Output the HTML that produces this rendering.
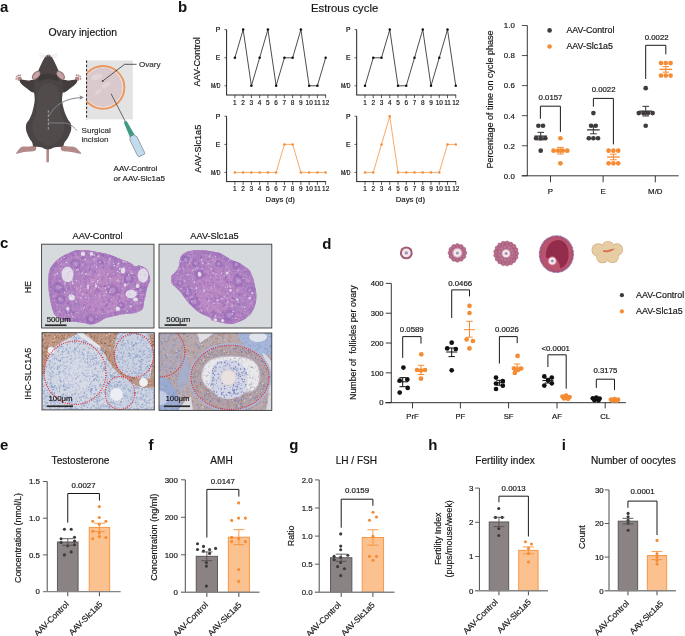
<!DOCTYPE html>
<html><head><meta charset="utf-8"><style>
html,body{margin:0;padding:0;background:#fff;}
svg{display:block;will-change:transform;font-family:"Liberation Sans",sans-serif;}
</style></head><body>
<svg width="685" height="636" viewBox="0 0 685 636">
<rect x="0" y="0" width="685" height="636" fill="#fff"/>
<text x="0" y="11.6" font-size="15" text-anchor="start" font-weight="bold" fill="#111">a</text>
<text x="48.4" y="36" font-size="10.4" text-anchor="start" fill="#161616" stroke="#161616" stroke-width="0.18">Ovary injection</text>
<path d="M46.4,147 L46.4,162.3 L48.9,162.3 L49.1,147Z" fill="#b48989" stroke="none" stroke-width="0"/>
<path d="M35.2,145.6 C34.03,145.07 31.2,146.4 29,146.6 C26.8,146.8 23.92,146.03 22,146.8 C20.08,147.57 18.5,150.03 17.5,151.2 C16.5,152.37 15.58,153.5 16,153.8 C16.42,154.1 18.33,153.33 20,153 C21.67,152.67 23.83,152.1 26,151.8 C28.17,151.5 31.33,151.53 33,151.2 C34.67,150.87 35.63,150.73 36,149.8 C36.37,148.87 36.37,146.13 35.2,145.6Z" fill="#b48989" stroke="none" stroke-width="0"/>
<path d="M61.6,145.6 C62.77,145.07 65.77,146.33 68,146.6 C70.23,146.87 73.08,146.43 75,147.2 C76.92,147.97 78.47,150.1 79.5,151.2 C80.53,152.3 81.62,153.47 81.2,153.8 C80.78,154.13 78.7,153.5 77,153.2 C75.3,152.9 73.17,152.33 71,152 C68.83,151.67 65.67,151.57 64,151.2 C62.33,150.83 61.4,150.73 61,149.8 C60.6,148.87 60.43,146.13 61.6,145.6Z" fill="#b48989" stroke="none" stroke-width="0"/>
<circle cx="19.6" cy="78.8" r="2.3" fill="#b48989"/>
<circle cx="77.2" cy="78.8" r="2.3" fill="#b48989"/>
<circle cx="16.6" cy="76.6" r="0.9" fill="#b48989"/>
<circle cx="80.2" cy="76.6" r="0.9" fill="#b48989"/>
<circle cx="18.2" cy="75.4" r="0.9" fill="#b48989"/>
<circle cx="78.6" cy="75.4" r="0.9" fill="#b48989"/>
<circle cx="20.2" cy="75.2" r="0.9" fill="#b48989"/>
<circle cx="76.6" cy="75.2" r="0.9" fill="#b48989"/>
<circle cx="16.2" cy="78.8" r="0.9" fill="#b48989"/>
<circle cx="80.6" cy="78.8" r="0.9" fill="#b48989"/>
<path d="M36,80 C34.5,78.43 30.42,80.67 28,80.6 C25.58,80.53 22.87,79.5 21.5,79.6 C20.13,79.7 19.72,80.38 19.8,81.2 C19.88,82.02 20.8,83.28 22,84.5 C23.2,85.72 25.17,87.17 27,88.5 C28.83,89.83 31.33,92.25 33,92.5 C34.67,92.75 36.5,92.08 37,90 C37.5,87.92 37.5,81.57 36,80Z" fill="#433d3d" stroke="none" stroke-width="0"/>
<path d="M61,80 C62.5,78.43 66.58,80.67 69,80.6 C71.42,80.53 74.13,79.5 75.5,79.6 C76.87,79.7 77.28,80.38 77.2,81.2 C77.12,82.02 76.2,83.28 75,84.5 C73.8,85.72 71.83,87.17 70,88.5 C68.17,89.83 65.67,92.25 64,92.5 C62.33,92.75 60.5,92.08 60,90 C59.5,87.92 59.5,81.57 61,80Z" fill="#433d3d" stroke="none" stroke-width="0"/>
<path d="M48.4,54.8 C49.23,54.8 50.08,55.2 50.9,56 C51.72,56.8 52.52,58.23 53.3,59.6 C54.08,60.97 54.85,62.63 55.6,64.2 C56.35,65.77 56.73,66.45 57.8,69 C58.87,71.55 61.1,76.33 62,79.5 C62.9,82.67 63.15,85.25 63.2,88 C63.25,90.75 62.47,93.67 62.3,96 C62.13,98.33 61.78,99.25 62.2,102 C62.62,104.75 63.83,109.58 64.8,112.5 C65.77,115.42 66.98,117.58 68,119.5 C69.02,121.42 70.4,122.17 70.9,124 C71.4,125.83 71.48,128.25 71,130.5 C70.52,132.75 69.08,135.5 68,137.5 C66.92,139.5 65.42,141 64.5,142.5 C63.58,144 64.08,145.72 62.5,146.5 C60.92,147.28 57.45,146.68 55,147.2 C52.55,147.72 50.13,149.6 47.8,149.6 C45.47,149.6 43.33,147.72 41,147.2 C38.67,146.68 35.27,147.28 33.8,146.5 C32.33,145.72 33,144 32.2,142.5 C31.4,141 30,139.5 29,137.5 C28,135.5 26.65,132.75 26.2,130.5 C25.75,128.25 25.8,125.83 26.3,124 C26.8,122.17 28.22,121.42 29.2,119.5 C30.18,117.58 31.32,115.42 32.2,112.5 C33.08,109.58 34.12,104.75 34.5,102 C34.88,99.25 34.65,98.33 34.5,96 C34.35,93.67 33.55,90.75 33.6,88 C33.65,85.25 33.9,82.67 34.8,79.5 C35.7,76.33 37.93,71.55 39,69 C40.07,66.45 40.45,65.77 41.2,64.2 C41.95,62.63 42.72,60.97 43.5,59.6 C44.28,58.23 45.08,56.8 45.9,56 C46.72,55.2 47.57,54.8 48.4,54.8Z" fill="#4a4444" stroke="none" stroke-width="0"/>
<path d="M48.4,83 C50.93,83 54.15,83.83 56,86 C57.85,88.17 58.75,91.67 59.5,96 C60.25,100.33 59.67,107.17 60.5,112 C61.33,116.83 64.25,121 64.5,125 C64.75,129 63.58,133 62,136 C60.42,139 57.27,141.42 55,143 C52.73,144.58 50.6,145.5 48.4,145.5 C46.2,145.5 44.07,144.58 41.8,143 C39.53,141.42 36.38,139 34.8,136 C33.22,133 32.05,129 32.3,125 C32.55,121 35.47,116.83 36.3,112 C37.13,107.17 36.55,100.33 37.3,96 C38.05,91.67 38.95,88.17 40.8,86 C42.65,83.83 45.87,83 48.4,83Z" fill="#514b4b" stroke="none" stroke-width="0"/>
<path d="M39,76 C40.6,74.75 45.27,73.5 48.4,73.5 C51.53,73.5 56.2,74.75 57.8,76 C59.4,77.25 59.57,80.5 58,81 C56.43,81.5 51.6,79 48.4,79 C45.2,79 40.37,81.5 38.8,81 C37.23,80.5 37.4,77.25 39,76Z" fill="#3f3a3a" stroke="none" stroke-width="0"/>
<ellipse cx="36.1" cy="75.2" rx="5.3" ry="3.2" fill="#8f7070" transform="rotate(-47 36.1 75.2)"/>
<ellipse cx="60.7" cy="75.2" rx="5.3" ry="3.2" fill="#8f7070" transform="rotate(47 60.7 75.2)"/>
<ellipse cx="36.4" cy="75.3" rx="4.3" ry="2.3" fill="#c9a3a3" transform="rotate(-47 36.4 75.3)"/>
<ellipse cx="60.4" cy="75.3" rx="4.3" ry="2.3" fill="#c9a3a3" transform="rotate(47 60.4 75.3)"/>
<circle cx="48.4" cy="55.5" r="1" fill="#c48a8a"/>
<line x1="46.6" y1="56.6" x2="39.5" y2="53.2" stroke="#c4c4c4" stroke-width="0.35"/>
<line x1="50.2" y1="56.6" x2="57.3" y2="53.2" stroke="#c4c4c4" stroke-width="0.35"/>
<line x1="46.6" y1="56.6" x2="39" y2="55.6" stroke="#c4c4c4" stroke-width="0.35"/>
<line x1="50.2" y1="56.6" x2="57.8" y2="55.6" stroke="#c4c4c4" stroke-width="0.35"/>
<line x1="46.6" y1="56.6" x2="39.8" y2="58" stroke="#c4c4c4" stroke-width="0.35"/>
<line x1="50.2" y1="56.6" x2="57" y2="58" stroke="#c4c4c4" stroke-width="0.35"/>
<line x1="48.3" y1="110.3" x2="48.3" y2="130" stroke="#cfcfcf" stroke-width="0.7" stroke-dasharray="2.4 1.8"/>
<path d="M49,116 C55,104 66,98.5 80.5,97.6" fill="none" stroke="#7f868e" stroke-width="1"/>
<path d="M84,97.4 L79.5,95.2 L80.3,97.6 L79.5,99.8Z" fill="#7f868e" stroke="none" stroke-width="0"/>
<path d="M48.8,123 L64.5,123 C69,123 73.5,126.5 76.8,130.5" fill="none" stroke="#7f868e" stroke-width="0.9"/>
<line x1="48.8" y1="121.6" x2="48.8" y2="124.4" stroke="#7f868e" stroke-width="0.8"/>
<text x="81.5" y="132.8" font-size="8.1" text-anchor="start" fill="#333" stroke="#333" stroke-width="0.18">Surgical</text>
<text x="81.5" y="141.7" font-size="8.1" text-anchor="start" fill="#333" stroke="#333" stroke-width="0.18">incision</text>
<rect x="86.6" y="60.4" width="46.2" height="59" fill="#e3e3e3" stroke="none" stroke-width="0"/>
<clipPath id="ovc"><rect x="86.6" y="60.4" width="46.2" height="59"/></clipPath>
<g clip-path="url(#ovc)">
<ellipse cx="103" cy="87.4" rx="22.3" ry="22.3" fill="#e9965c"/>
<ellipse cx="103" cy="87.4" rx="20.4" ry="20.4" fill="#f7e9e4"/>
<ellipse cx="103" cy="87.4" rx="19.6" ry="19.6" fill="#d9c9cd"/>
<ellipse cx="97" cy="77" rx="6" ry="3" fill="#e2d5d9" transform="rotate(-20 97 77)"/>
<ellipse cx="106" cy="85" rx="5" ry="2.4" fill="#e0d2d6" transform="rotate(-30 106 85)"/>
<ellipse cx="98" cy="92" rx="4" ry="2" fill="#e0d2d6" transform="rotate(-40 98 92)"/>
</g>
<line x1="86.6" y1="60.4" x2="86.6" y2="119.4" stroke="#222" stroke-width="1" stroke-dasharray="2.6 1.6"/>
<polyline points="102.6,81.1 124.6,64.3 136.6,64.3" stroke="#333" stroke-width="0.8" fill="none"/>
<circle cx="102.6" cy="81.1" r="0.9" fill="#333"/>
<text x="138.9" y="67.4" font-size="8.1" text-anchor="start" fill="#333" stroke="#333" stroke-width="0.18">Ovary</text>
<line x1="111.1" y1="93.8" x2="125.5" y2="121.8" stroke="#444" stroke-width="0.8"/>
<path d="M126.24,120.86 L127.39,122.3 L133.83,133.62 L134.67,134.66 L129.64,137.12 L129.34,135.82 L124.33,123.8 L123.9,122Z" fill="#3f9a86" stroke="none" stroke-width="0"/>
<path d="M134.31,134.61 L135.1,135.78 L136.71,136.33 L144.63,152.49 L144.71,154.01 L138.78,156.92 L137.63,155.92 L129.71,139.76 L130.26,138.15 L129.82,136.81Z" fill="#c2dcee" stroke="#5a6470" stroke-width="0.55"/>
<text x="113.6" y="171" font-size="8.05" text-anchor="start" fill="#222" stroke="#222" stroke-width="0.18">AAV-Control</text>
<text x="113.6" y="180.5" font-size="8.05" text-anchor="start" fill="#222" stroke="#222" stroke-width="0.18">or AAV-Slc1a5</text>
<text x="178" y="11.8" font-size="15" text-anchor="start" font-weight="bold" fill="#111">b</text>
<text x="344.6" y="12" font-size="11.3" text-anchor="middle" fill="#161616" stroke="#161616" stroke-width="0.18">Estrous cycle</text>
<line x1="226.6" y1="29.6" x2="226.6" y2="95" stroke="#222" stroke-width="1"/>
<line x1="226.1" y1="95" x2="326.05" y2="95" stroke="#222" stroke-width="1"/>
<line x1="224.4" y1="29.6" x2="226.6" y2="29.6" stroke="#222" stroke-width="0.7"/>
<text x="220.4" y="32" font-size="6.8" text-anchor="end" fill="#000" stroke="#000" stroke-width="0.18">P</text>
<line x1="224.4" y1="57.8" x2="226.6" y2="57.8" stroke="#222" stroke-width="0.7"/>
<text x="220.4" y="60.2" font-size="6.8" text-anchor="end" fill="#000" stroke="#000" stroke-width="0.18">E</text>
<line x1="224.4" y1="85.8" x2="226.6" y2="85.8" stroke="#222" stroke-width="0.7"/>
<text x="220.4" y="88.2" font-size="6.8" text-anchor="end" fill="#000" stroke="#000" stroke-width="0.18" textLength="9.4" lengthAdjust="spacingAndGlyphs">M/D</text>
<line x1="234.9" y1="95" x2="234.9" y2="98.2" stroke="#222" stroke-width="0.75"/>
<text x="234.9" y="104.8" font-size="6.45" text-anchor="middle" fill="#161616" stroke="#161616" stroke-width="0.18">1</text>
<line x1="243.15" y1="95" x2="243.15" y2="98.2" stroke="#222" stroke-width="0.75"/>
<text x="243.15" y="104.8" font-size="6.45" text-anchor="middle" fill="#161616" stroke="#161616" stroke-width="0.18">2</text>
<line x1="251.4" y1="95" x2="251.4" y2="98.2" stroke="#222" stroke-width="0.75"/>
<text x="251.4" y="104.8" font-size="6.45" text-anchor="middle" fill="#161616" stroke="#161616" stroke-width="0.18">3</text>
<line x1="259.65" y1="95" x2="259.65" y2="98.2" stroke="#222" stroke-width="0.75"/>
<text x="259.65" y="104.8" font-size="6.45" text-anchor="middle" fill="#161616" stroke="#161616" stroke-width="0.18">4</text>
<line x1="267.9" y1="95" x2="267.9" y2="98.2" stroke="#222" stroke-width="0.75"/>
<text x="267.9" y="104.8" font-size="6.45" text-anchor="middle" fill="#161616" stroke="#161616" stroke-width="0.18">5</text>
<line x1="276.15" y1="95" x2="276.15" y2="98.2" stroke="#222" stroke-width="0.75"/>
<text x="276.15" y="104.8" font-size="6.45" text-anchor="middle" fill="#161616" stroke="#161616" stroke-width="0.18">6</text>
<line x1="284.4" y1="95" x2="284.4" y2="98.2" stroke="#222" stroke-width="0.75"/>
<text x="284.4" y="104.8" font-size="6.45" text-anchor="middle" fill="#161616" stroke="#161616" stroke-width="0.18">7</text>
<line x1="292.65" y1="95" x2="292.65" y2="98.2" stroke="#222" stroke-width="0.75"/>
<text x="292.65" y="104.8" font-size="6.45" text-anchor="middle" fill="#161616" stroke="#161616" stroke-width="0.18">8</text>
<line x1="300.9" y1="95" x2="300.9" y2="98.2" stroke="#222" stroke-width="0.75"/>
<text x="300.9" y="104.8" font-size="6.45" text-anchor="middle" fill="#161616" stroke="#161616" stroke-width="0.18">9</text>
<line x1="309.15" y1="95" x2="309.15" y2="98.2" stroke="#222" stroke-width="0.75"/>
<text x="309.15" y="104.8" font-size="6.45" text-anchor="middle" fill="#161616" stroke="#161616" stroke-width="0.18">10</text>
<line x1="317.4" y1="95" x2="317.4" y2="98.2" stroke="#222" stroke-width="0.75"/>
<text x="317.4" y="104.8" font-size="6.45" text-anchor="middle" fill="#161616" stroke="#161616" stroke-width="0.18">11</text>
<line x1="325.65" y1="95" x2="325.65" y2="98.2" stroke="#222" stroke-width="0.75"/>
<text x="325.65" y="104.8" font-size="6.45" text-anchor="middle" fill="#161616" stroke="#161616" stroke-width="0.18">12</text>
<polyline points="234.9,57.8 243.15,29.6 251.4,85.8 259.65,57.8 267.9,29.6 276.15,85.8 284.4,57.8 292.65,57.8 300.9,29.6 309.15,85.8 317.4,85.8 325.65,57.8" stroke="#111" stroke-width="0.75" fill="none"/>
<circle cx="234.9" cy="57.8" r="1.25" fill="#111"/>
<circle cx="243.15" cy="29.6" r="1.25" fill="#111"/>
<circle cx="251.4" cy="85.8" r="1.25" fill="#111"/>
<circle cx="259.65" cy="57.8" r="1.25" fill="#111"/>
<circle cx="267.9" cy="29.6" r="1.25" fill="#111"/>
<circle cx="276.15" cy="85.8" r="1.25" fill="#111"/>
<circle cx="284.4" cy="57.8" r="1.25" fill="#111"/>
<circle cx="292.65" cy="57.8" r="1.25" fill="#111"/>
<circle cx="300.9" cy="29.6" r="1.25" fill="#111"/>
<circle cx="309.15" cy="85.8" r="1.25" fill="#111"/>
<circle cx="317.4" cy="85.8" r="1.25" fill="#111"/>
<circle cx="325.65" cy="57.8" r="1.25" fill="#111"/>
<line x1="356.7" y1="29.6" x2="356.7" y2="95" stroke="#222" stroke-width="1"/>
<line x1="356.2" y1="95" x2="456.15" y2="95" stroke="#222" stroke-width="1"/>
<line x1="354.5" y1="29.6" x2="356.7" y2="29.6" stroke="#222" stroke-width="0.7"/>
<text x="350.5" y="32" font-size="6.8" text-anchor="end" fill="#000" stroke="#000" stroke-width="0.18">P</text>
<line x1="354.5" y1="57.8" x2="356.7" y2="57.8" stroke="#222" stroke-width="0.7"/>
<text x="350.5" y="60.2" font-size="6.8" text-anchor="end" fill="#000" stroke="#000" stroke-width="0.18">E</text>
<line x1="354.5" y1="85.8" x2="356.7" y2="85.8" stroke="#222" stroke-width="0.7"/>
<text x="350.5" y="88.2" font-size="6.8" text-anchor="end" fill="#000" stroke="#000" stroke-width="0.18" textLength="9.4" lengthAdjust="spacingAndGlyphs">M/D</text>
<line x1="365" y1="95" x2="365" y2="98.2" stroke="#222" stroke-width="0.75"/>
<text x="365" y="104.8" font-size="6.45" text-anchor="middle" fill="#161616" stroke="#161616" stroke-width="0.18">1</text>
<line x1="373.25" y1="95" x2="373.25" y2="98.2" stroke="#222" stroke-width="0.75"/>
<text x="373.25" y="104.8" font-size="6.45" text-anchor="middle" fill="#161616" stroke="#161616" stroke-width="0.18">2</text>
<line x1="381.5" y1="95" x2="381.5" y2="98.2" stroke="#222" stroke-width="0.75"/>
<text x="381.5" y="104.8" font-size="6.45" text-anchor="middle" fill="#161616" stroke="#161616" stroke-width="0.18">3</text>
<line x1="389.75" y1="95" x2="389.75" y2="98.2" stroke="#222" stroke-width="0.75"/>
<text x="389.75" y="104.8" font-size="6.45" text-anchor="middle" fill="#161616" stroke="#161616" stroke-width="0.18">4</text>
<line x1="398" y1="95" x2="398" y2="98.2" stroke="#222" stroke-width="0.75"/>
<text x="398" y="104.8" font-size="6.45" text-anchor="middle" fill="#161616" stroke="#161616" stroke-width="0.18">5</text>
<line x1="406.25" y1="95" x2="406.25" y2="98.2" stroke="#222" stroke-width="0.75"/>
<text x="406.25" y="104.8" font-size="6.45" text-anchor="middle" fill="#161616" stroke="#161616" stroke-width="0.18">6</text>
<line x1="414.5" y1="95" x2="414.5" y2="98.2" stroke="#222" stroke-width="0.75"/>
<text x="414.5" y="104.8" font-size="6.45" text-anchor="middle" fill="#161616" stroke="#161616" stroke-width="0.18">7</text>
<line x1="422.75" y1="95" x2="422.75" y2="98.2" stroke="#222" stroke-width="0.75"/>
<text x="422.75" y="104.8" font-size="6.45" text-anchor="middle" fill="#161616" stroke="#161616" stroke-width="0.18">8</text>
<line x1="431" y1="95" x2="431" y2="98.2" stroke="#222" stroke-width="0.75"/>
<text x="431" y="104.8" font-size="6.45" text-anchor="middle" fill="#161616" stroke="#161616" stroke-width="0.18">9</text>
<line x1="439.25" y1="95" x2="439.25" y2="98.2" stroke="#222" stroke-width="0.75"/>
<text x="439.25" y="104.8" font-size="6.45" text-anchor="middle" fill="#161616" stroke="#161616" stroke-width="0.18">10</text>
<line x1="447.5" y1="95" x2="447.5" y2="98.2" stroke="#222" stroke-width="0.75"/>
<text x="447.5" y="104.8" font-size="6.45" text-anchor="middle" fill="#161616" stroke="#161616" stroke-width="0.18">11</text>
<line x1="455.75" y1="95" x2="455.75" y2="98.2" stroke="#222" stroke-width="0.75"/>
<text x="455.75" y="104.8" font-size="6.45" text-anchor="middle" fill="#161616" stroke="#161616" stroke-width="0.18">12</text>
<polyline points="365,85.8 373.25,57.8 381.5,57.8 389.75,29.6 398,85.8 406.25,85.8 414.5,57.8 422.75,29.6 431,85.8 439.25,57.8 447.5,29.6 455.75,85.8" stroke="#111" stroke-width="0.75" fill="none"/>
<circle cx="365" cy="85.8" r="1.25" fill="#111"/>
<circle cx="373.25" cy="57.8" r="1.25" fill="#111"/>
<circle cx="381.5" cy="57.8" r="1.25" fill="#111"/>
<circle cx="389.75" cy="29.6" r="1.25" fill="#111"/>
<circle cx="398" cy="85.8" r="1.25" fill="#111"/>
<circle cx="406.25" cy="85.8" r="1.25" fill="#111"/>
<circle cx="414.5" cy="57.8" r="1.25" fill="#111"/>
<circle cx="422.75" cy="29.6" r="1.25" fill="#111"/>
<circle cx="431" cy="85.8" r="1.25" fill="#111"/>
<circle cx="439.25" cy="57.8" r="1.25" fill="#111"/>
<circle cx="447.5" cy="29.6" r="1.25" fill="#111"/>
<circle cx="455.75" cy="85.8" r="1.25" fill="#111"/>
<line x1="226.6" y1="116.2" x2="226.6" y2="181.6" stroke="#222" stroke-width="1"/>
<line x1="226.1" y1="181.6" x2="326.05" y2="181.6" stroke="#222" stroke-width="1"/>
<line x1="224.4" y1="116.2" x2="226.6" y2="116.2" stroke="#222" stroke-width="0.7"/>
<text x="220.4" y="118.6" font-size="6.8" text-anchor="end" fill="#000" stroke="#000" stroke-width="0.18">P</text>
<line x1="224.4" y1="144.4" x2="226.6" y2="144.4" stroke="#222" stroke-width="0.7"/>
<text x="220.4" y="146.8" font-size="6.8" text-anchor="end" fill="#000" stroke="#000" stroke-width="0.18">E</text>
<line x1="224.4" y1="172.4" x2="226.6" y2="172.4" stroke="#222" stroke-width="0.7"/>
<text x="220.4" y="174.8" font-size="6.8" text-anchor="end" fill="#000" stroke="#000" stroke-width="0.18" textLength="9.4" lengthAdjust="spacingAndGlyphs">M/D</text>
<line x1="234.9" y1="181.6" x2="234.9" y2="184.8" stroke="#222" stroke-width="0.75"/>
<text x="234.9" y="191.4" font-size="6.45" text-anchor="middle" fill="#161616" stroke="#161616" stroke-width="0.18">1</text>
<line x1="243.15" y1="181.6" x2="243.15" y2="184.8" stroke="#222" stroke-width="0.75"/>
<text x="243.15" y="191.4" font-size="6.45" text-anchor="middle" fill="#161616" stroke="#161616" stroke-width="0.18">2</text>
<line x1="251.4" y1="181.6" x2="251.4" y2="184.8" stroke="#222" stroke-width="0.75"/>
<text x="251.4" y="191.4" font-size="6.45" text-anchor="middle" fill="#161616" stroke="#161616" stroke-width="0.18">3</text>
<line x1="259.65" y1="181.6" x2="259.65" y2="184.8" stroke="#222" stroke-width="0.75"/>
<text x="259.65" y="191.4" font-size="6.45" text-anchor="middle" fill="#161616" stroke="#161616" stroke-width="0.18">4</text>
<line x1="267.9" y1="181.6" x2="267.9" y2="184.8" stroke="#222" stroke-width="0.75"/>
<text x="267.9" y="191.4" font-size="6.45" text-anchor="middle" fill="#161616" stroke="#161616" stroke-width="0.18">5</text>
<line x1="276.15" y1="181.6" x2="276.15" y2="184.8" stroke="#222" stroke-width="0.75"/>
<text x="276.15" y="191.4" font-size="6.45" text-anchor="middle" fill="#161616" stroke="#161616" stroke-width="0.18">6</text>
<line x1="284.4" y1="181.6" x2="284.4" y2="184.8" stroke="#222" stroke-width="0.75"/>
<text x="284.4" y="191.4" font-size="6.45" text-anchor="middle" fill="#161616" stroke="#161616" stroke-width="0.18">7</text>
<line x1="292.65" y1="181.6" x2="292.65" y2="184.8" stroke="#222" stroke-width="0.75"/>
<text x="292.65" y="191.4" font-size="6.45" text-anchor="middle" fill="#161616" stroke="#161616" stroke-width="0.18">8</text>
<line x1="300.9" y1="181.6" x2="300.9" y2="184.8" stroke="#222" stroke-width="0.75"/>
<text x="300.9" y="191.4" font-size="6.45" text-anchor="middle" fill="#161616" stroke="#161616" stroke-width="0.18">9</text>
<line x1="309.15" y1="181.6" x2="309.15" y2="184.8" stroke="#222" stroke-width="0.75"/>
<text x="309.15" y="191.4" font-size="6.45" text-anchor="middle" fill="#161616" stroke="#161616" stroke-width="0.18">10</text>
<line x1="317.4" y1="181.6" x2="317.4" y2="184.8" stroke="#222" stroke-width="0.75"/>
<text x="317.4" y="191.4" font-size="6.45" text-anchor="middle" fill="#161616" stroke="#161616" stroke-width="0.18">11</text>
<line x1="325.65" y1="181.6" x2="325.65" y2="184.8" stroke="#222" stroke-width="0.75"/>
<text x="325.65" y="191.4" font-size="6.45" text-anchor="middle" fill="#161616" stroke="#161616" stroke-width="0.18">12</text>
<polyline points="234.9,172.4 243.15,172.4 251.4,172.4 259.65,172.4 267.9,172.4 276.15,172.4 284.4,144.4 292.65,144.4 300.9,172.4 309.15,172.4 317.4,172.4 325.65,172.4" stroke="#f58c34" stroke-width="0.75" fill="none"/>
<circle cx="234.9" cy="172.4" r="1.25" fill="#f58c34"/>
<circle cx="243.15" cy="172.4" r="1.25" fill="#f58c34"/>
<circle cx="251.4" cy="172.4" r="1.25" fill="#f58c34"/>
<circle cx="259.65" cy="172.4" r="1.25" fill="#f58c34"/>
<circle cx="267.9" cy="172.4" r="1.25" fill="#f58c34"/>
<circle cx="276.15" cy="172.4" r="1.25" fill="#f58c34"/>
<circle cx="284.4" cy="144.4" r="1.25" fill="#f58c34"/>
<circle cx="292.65" cy="144.4" r="1.25" fill="#f58c34"/>
<circle cx="300.9" cy="172.4" r="1.25" fill="#f58c34"/>
<circle cx="309.15" cy="172.4" r="1.25" fill="#f58c34"/>
<circle cx="317.4" cy="172.4" r="1.25" fill="#f58c34"/>
<circle cx="325.65" cy="172.4" r="1.25" fill="#f58c34"/>
<text x="280.27" y="201.8" font-size="7.75" text-anchor="middle" fill="#161616" stroke="#161616" stroke-width="0.18">Days (d)</text>
<line x1="356.7" y1="116.2" x2="356.7" y2="181.6" stroke="#222" stroke-width="1"/>
<line x1="356.2" y1="181.6" x2="456.15" y2="181.6" stroke="#222" stroke-width="1"/>
<line x1="354.5" y1="116.2" x2="356.7" y2="116.2" stroke="#222" stroke-width="0.7"/>
<text x="350.5" y="118.6" font-size="6.8" text-anchor="end" fill="#000" stroke="#000" stroke-width="0.18">P</text>
<line x1="354.5" y1="144.4" x2="356.7" y2="144.4" stroke="#222" stroke-width="0.7"/>
<text x="350.5" y="146.8" font-size="6.8" text-anchor="end" fill="#000" stroke="#000" stroke-width="0.18">E</text>
<line x1="354.5" y1="172.4" x2="356.7" y2="172.4" stroke="#222" stroke-width="0.7"/>
<text x="350.5" y="174.8" font-size="6.8" text-anchor="end" fill="#000" stroke="#000" stroke-width="0.18" textLength="9.4" lengthAdjust="spacingAndGlyphs">M/D</text>
<line x1="365" y1="181.6" x2="365" y2="184.8" stroke="#222" stroke-width="0.75"/>
<text x="365" y="191.4" font-size="6.45" text-anchor="middle" fill="#161616" stroke="#161616" stroke-width="0.18">1</text>
<line x1="373.25" y1="181.6" x2="373.25" y2="184.8" stroke="#222" stroke-width="0.75"/>
<text x="373.25" y="191.4" font-size="6.45" text-anchor="middle" fill="#161616" stroke="#161616" stroke-width="0.18">2</text>
<line x1="381.5" y1="181.6" x2="381.5" y2="184.8" stroke="#222" stroke-width="0.75"/>
<text x="381.5" y="191.4" font-size="6.45" text-anchor="middle" fill="#161616" stroke="#161616" stroke-width="0.18">3</text>
<line x1="389.75" y1="181.6" x2="389.75" y2="184.8" stroke="#222" stroke-width="0.75"/>
<text x="389.75" y="191.4" font-size="6.45" text-anchor="middle" fill="#161616" stroke="#161616" stroke-width="0.18">4</text>
<line x1="398" y1="181.6" x2="398" y2="184.8" stroke="#222" stroke-width="0.75"/>
<text x="398" y="191.4" font-size="6.45" text-anchor="middle" fill="#161616" stroke="#161616" stroke-width="0.18">5</text>
<line x1="406.25" y1="181.6" x2="406.25" y2="184.8" stroke="#222" stroke-width="0.75"/>
<text x="406.25" y="191.4" font-size="6.45" text-anchor="middle" fill="#161616" stroke="#161616" stroke-width="0.18">6</text>
<line x1="414.5" y1="181.6" x2="414.5" y2="184.8" stroke="#222" stroke-width="0.75"/>
<text x="414.5" y="191.4" font-size="6.45" text-anchor="middle" fill="#161616" stroke="#161616" stroke-width="0.18">7</text>
<line x1="422.75" y1="181.6" x2="422.75" y2="184.8" stroke="#222" stroke-width="0.75"/>
<text x="422.75" y="191.4" font-size="6.45" text-anchor="middle" fill="#161616" stroke="#161616" stroke-width="0.18">8</text>
<line x1="431" y1="181.6" x2="431" y2="184.8" stroke="#222" stroke-width="0.75"/>
<text x="431" y="191.4" font-size="6.45" text-anchor="middle" fill="#161616" stroke="#161616" stroke-width="0.18">9</text>
<line x1="439.25" y1="181.6" x2="439.25" y2="184.8" stroke="#222" stroke-width="0.75"/>
<text x="439.25" y="191.4" font-size="6.45" text-anchor="middle" fill="#161616" stroke="#161616" stroke-width="0.18">10</text>
<line x1="447.5" y1="181.6" x2="447.5" y2="184.8" stroke="#222" stroke-width="0.75"/>
<text x="447.5" y="191.4" font-size="6.45" text-anchor="middle" fill="#161616" stroke="#161616" stroke-width="0.18">11</text>
<line x1="455.75" y1="181.6" x2="455.75" y2="184.8" stroke="#222" stroke-width="0.75"/>
<text x="455.75" y="191.4" font-size="6.45" text-anchor="middle" fill="#161616" stroke="#161616" stroke-width="0.18">12</text>
<polyline points="365,172.4 373.25,172.4 381.5,144.4 389.75,116.2 398,172.4 406.25,172.4 414.5,172.4 422.75,172.4 431,172.4 439.25,172.4 447.5,144.4 455.75,144.4" stroke="#f58c34" stroke-width="0.75" fill="none"/>
<circle cx="365" cy="172.4" r="1.25" fill="#f58c34"/>
<circle cx="373.25" cy="172.4" r="1.25" fill="#f58c34"/>
<circle cx="381.5" cy="144.4" r="1.25" fill="#f58c34"/>
<circle cx="389.75" cy="116.2" r="1.25" fill="#f58c34"/>
<circle cx="398" cy="172.4" r="1.25" fill="#f58c34"/>
<circle cx="406.25" cy="172.4" r="1.25" fill="#f58c34"/>
<circle cx="414.5" cy="172.4" r="1.25" fill="#f58c34"/>
<circle cx="422.75" cy="172.4" r="1.25" fill="#f58c34"/>
<circle cx="431" cy="172.4" r="1.25" fill="#f58c34"/>
<circle cx="439.25" cy="172.4" r="1.25" fill="#f58c34"/>
<circle cx="447.5" cy="144.4" r="1.25" fill="#f58c34"/>
<circle cx="455.75" cy="144.4" r="1.25" fill="#f58c34"/>
<text x="410.38" y="201.8" font-size="7.75" text-anchor="middle" fill="#161616" stroke="#161616" stroke-width="0.18">Days (d)</text>
<text x="200.3" y="61.8" font-size="9.1" text-anchor="middle" fill="#161616" stroke="#161616" stroke-width="0.18" transform="rotate(-90 200.3 61.8)">AAV-Control</text>
<text x="200.9" y="148.7" font-size="9.1" text-anchor="middle" fill="#161616" stroke="#161616" stroke-width="0.18" transform="rotate(-90 200.9 148.7)">AAV-Slc1a5</text>
<line x1="527.3" y1="25.5" x2="527.3" y2="175.8" stroke="#222" stroke-width="0.9"/>
<line x1="521.7" y1="175.8" x2="678.7" y2="175.8" stroke="#222" stroke-width="0.9"/>
<line x1="521.9" y1="175.8" x2="527.3" y2="175.8" stroke="#222" stroke-width="0.8"/>
<text x="514.8" y="178.65" font-size="7.9" text-anchor="end" fill="#161616" stroke="#161616" stroke-width="0.18">0.0</text>
<line x1="521.9" y1="145.74" x2="527.3" y2="145.74" stroke="#222" stroke-width="0.8"/>
<text x="514.8" y="148.59" font-size="7.9" text-anchor="end" fill="#161616" stroke="#161616" stroke-width="0.18">0.2</text>
<line x1="521.9" y1="115.68" x2="527.3" y2="115.68" stroke="#222" stroke-width="0.8"/>
<text x="514.8" y="118.53" font-size="7.9" text-anchor="end" fill="#161616" stroke="#161616" stroke-width="0.18">0.4</text>
<line x1="521.9" y1="85.62" x2="527.3" y2="85.62" stroke="#222" stroke-width="0.8"/>
<text x="514.8" y="88.47" font-size="7.9" text-anchor="end" fill="#161616" stroke="#161616" stroke-width="0.18">0.6</text>
<line x1="521.9" y1="55.56" x2="527.3" y2="55.56" stroke="#222" stroke-width="0.8"/>
<text x="514.8" y="58.41" font-size="7.9" text-anchor="end" fill="#161616" stroke="#161616" stroke-width="0.18">0.8</text>
<line x1="521.9" y1="25.5" x2="527.3" y2="25.5" stroke="#222" stroke-width="0.8"/>
<text x="514.8" y="28.35" font-size="7.9" text-anchor="end" fill="#161616" stroke="#161616" stroke-width="0.18">1.0</text>
<line x1="550.5" y1="175.8" x2="550.5" y2="182.3" stroke="#222" stroke-width="0.9"/>
<text x="550.5" y="193.7" font-size="7.9" text-anchor="middle" fill="#161616" stroke="#161616" stroke-width="0.18">P</text>
<line x1="603.1" y1="175.8" x2="603.1" y2="182.3" stroke="#222" stroke-width="0.9"/>
<text x="603.1" y="193.7" font-size="7.9" text-anchor="middle" fill="#161616" stroke="#161616" stroke-width="0.18">E</text>
<line x1="655.3" y1="175.8" x2="655.3" y2="182.3" stroke="#222" stroke-width="0.9"/>
<text x="655.3" y="193.7" font-size="7.9" text-anchor="middle" fill="#161616" stroke="#161616" stroke-width="0.18">M/D</text>
<text x="492.5" y="99.5" font-size="9" text-anchor="middle" fill="#161616" stroke="#161616" stroke-width="0.18" transform="rotate(-90 492.5 99.5)">Percentage of time on cycle phase</text>
<circle cx="549.6" cy="30.4" r="2.3" fill="#3f3b3b"/>
<circle cx="549.6" cy="46.5" r="2.3" fill="#f58c34"/>
<text x="566.4" y="33" font-size="8.85" text-anchor="start" fill="#161616" stroke="#161616" stroke-width="0.18">AAV-Control</text>
<text x="566.4" y="48.8" font-size="8.85" text-anchor="start" fill="#161616" stroke="#161616" stroke-width="0.18">AAV-Slc1a5</text>
<circle cx="538.4" cy="125.75" r="2.35" fill="#3f3b3b"/>
<circle cx="543" cy="125.75" r="2.35" fill="#3f3b3b"/>
<circle cx="536.1" cy="138.23" r="2.35" fill="#3f3b3b"/>
<circle cx="540.7" cy="138.23" r="2.35" fill="#3f3b3b"/>
<circle cx="545.3" cy="138.23" r="2.35" fill="#3f3b3b"/>
<circle cx="540.7" cy="150.7" r="2.35" fill="#3f3b3b"/>
<line x1="534.4" y1="136.12" x2="547" y2="136.12" stroke="#3f3b3b" stroke-width="1.35"/>
<line x1="540.7" y1="139.88" x2="540.7" y2="132.36" stroke="#3f3b3b" stroke-width="1.05"/>
<line x1="537.4" y1="132.36" x2="544" y2="132.36" stroke="#3f3b3b" stroke-width="1.05"/>
<line x1="537.4" y1="139.88" x2="544" y2="139.88" stroke="#3f3b3b" stroke-width="1.05"/>
<circle cx="560.4" cy="138.23" r="2.35" fill="#f58c34"/>
<circle cx="553.5" cy="150.7" r="2.35" fill="#f58c34"/>
<circle cx="558.1" cy="150.7" r="2.35" fill="#f58c34"/>
<circle cx="562.7" cy="150.7" r="2.35" fill="#f58c34"/>
<circle cx="567.3" cy="150.7" r="2.35" fill="#f58c34"/>
<circle cx="560.4" cy="163.33" r="2.35" fill="#f58c34"/>
<line x1="554.1" y1="150.7" x2="566.7" y2="150.7" stroke="#f58c34" stroke-width="1.35"/>
<line x1="560.4" y1="154.01" x2="560.4" y2="147.39" stroke="#f58c34" stroke-width="1.05"/>
<line x1="557.1" y1="147.39" x2="563.7" y2="147.39" stroke="#f58c34" stroke-width="1.05"/>
<line x1="557.1" y1="154.01" x2="563.7" y2="154.01" stroke="#f58c34" stroke-width="1.05"/>
<polyline points="540.4,118.8 540.4,106.2 560.4,106.2 560.4,131.9" stroke="#1a1a1a" stroke-width="1" fill="none"/>
<text x="550.5" y="99.9" font-size="7.8" text-anchor="middle" fill="#161616" stroke="#161616" stroke-width="0.18">0.0157</text>
<circle cx="593.4" cy="113.12" r="2.35" fill="#3f3b3b"/>
<circle cx="591.1" cy="125.75" r="2.35" fill="#3f3b3b"/>
<circle cx="595.7" cy="125.75" r="2.35" fill="#3f3b3b"/>
<circle cx="588.8" cy="138.23" r="2.35" fill="#3f3b3b"/>
<circle cx="593.4" cy="138.23" r="2.35" fill="#3f3b3b"/>
<circle cx="598" cy="138.23" r="2.35" fill="#3f3b3b"/>
<line x1="587.1" y1="129.87" x2="599.7" y2="129.87" stroke="#3f3b3b" stroke-width="1.35"/>
<line x1="593.4" y1="133.78" x2="593.4" y2="125.96" stroke="#3f3b3b" stroke-width="1.05"/>
<line x1="590.1" y1="125.96" x2="596.7" y2="125.96" stroke="#3f3b3b" stroke-width="1.05"/>
<line x1="590.1" y1="133.78" x2="596.7" y2="133.78" stroke="#3f3b3b" stroke-width="1.05"/>
<circle cx="608.6" cy="150.7" r="2.35" fill="#f58c34"/>
<circle cx="613.4" cy="150.7" r="2.35" fill="#f58c34"/>
<circle cx="618.2" cy="150.7" r="2.35" fill="#f58c34"/>
<circle cx="608.6" cy="163.33" r="2.35" fill="#f58c34"/>
<circle cx="613.4" cy="163.33" r="2.35" fill="#f58c34"/>
<circle cx="618.2" cy="163.33" r="2.35" fill="#f58c34"/>
<line x1="607.1" y1="157.01" x2="619.7" y2="157.01" stroke="#f58c34" stroke-width="1.35"/>
<line x1="613.4" y1="159.79" x2="613.4" y2="154.23" stroke="#f58c34" stroke-width="1.05"/>
<line x1="610.1" y1="154.23" x2="616.7" y2="154.23" stroke="#f58c34" stroke-width="1.05"/>
<line x1="610.1" y1="159.79" x2="616.7" y2="159.79" stroke="#f58c34" stroke-width="1.05"/>
<polyline points="593.4,106.7 593.4,98.4 613.4,98.4 613.4,144.4" stroke="#1a1a1a" stroke-width="1" fill="none"/>
<text x="603.6" y="92" font-size="7.8" text-anchor="middle" fill="#161616" stroke="#161616" stroke-width="0.18">0.0022</text>
<circle cx="645.7" cy="88.18" r="2.35" fill="#3f3b3b"/>
<circle cx="638.8" cy="113.12" r="2.35" fill="#3f3b3b"/>
<circle cx="643.4" cy="113.12" r="2.35" fill="#3f3b3b"/>
<circle cx="648" cy="113.12" r="2.35" fill="#3f3b3b"/>
<circle cx="652.6" cy="113.12" r="2.35" fill="#3f3b3b"/>
<circle cx="645.7" cy="125.75" r="2.35" fill="#3f3b3b"/>
<line x1="639.4" y1="111.17" x2="652" y2="111.17" stroke="#3f3b3b" stroke-width="1.35"/>
<line x1="645.7" y1="115.98" x2="645.7" y2="106.36" stroke="#3f3b3b" stroke-width="1.05"/>
<line x1="642.4" y1="106.36" x2="649" y2="106.36" stroke="#3f3b3b" stroke-width="1.05"/>
<line x1="642.4" y1="115.98" x2="649" y2="115.98" stroke="#3f3b3b" stroke-width="1.05"/>
<circle cx="661" cy="63.08" r="2.35" fill="#f58c34"/>
<circle cx="665.8" cy="63.08" r="2.35" fill="#f58c34"/>
<circle cx="670.6" cy="63.08" r="2.35" fill="#f58c34"/>
<circle cx="661" cy="75.55" r="2.35" fill="#f58c34"/>
<circle cx="665.8" cy="75.55" r="2.35" fill="#f58c34"/>
<circle cx="670.6" cy="75.55" r="2.35" fill="#f58c34"/>
<line x1="659.5" y1="69.39" x2="672.1" y2="69.39" stroke="#f58c34" stroke-width="1.35"/>
<line x1="665.8" y1="72.17" x2="665.8" y2="66.61" stroke="#f58c34" stroke-width="1.05"/>
<line x1="662.5" y1="66.61" x2="669.1" y2="66.61" stroke="#f58c34" stroke-width="1.05"/>
<line x1="662.5" y1="72.17" x2="669.1" y2="72.17" stroke="#f58c34" stroke-width="1.05"/>
<polyline points="645.7,79 645.7,45.3 665.8,45.3 665.8,54.3" stroke="#1a1a1a" stroke-width="1" fill="none"/>
<text x="656.7" y="39.8" font-size="7.8" text-anchor="middle" fill="#161616" stroke="#161616" stroke-width="0.18">0.0022</text>
<text x="0" y="248.4" font-size="15" text-anchor="start" font-weight="bold" fill="#111">c</text>
<text x="97.55" y="239.1" font-size="9.2" text-anchor="middle" fill="#161616" stroke="#161616" stroke-width="0.18">AAV-Control</text>
<text x="214.5" y="239.1" font-size="9.2" text-anchor="middle" fill="#161616" stroke="#161616" stroke-width="0.18">AAV-Slc1a5</text>
<text x="31.2" y="287.1" font-size="8.9" text-anchor="middle" fill="#161616" stroke="#161616" stroke-width="0.18" transform="rotate(-90 31.2 287.1)">HE</text>
<text x="31.4" y="373.8" font-size="9" text-anchor="middle" fill="#161616" stroke="#161616" stroke-width="0.18" transform="rotate(-90 31.4 373.8)">IHC-SLC1A5</text>
<rect x="41.6" y="244.2" width="112.4" height="83.8" fill="#d6dadc" stroke="none" stroke-width="0"/>
<clipPath id="he1"><path d="M48.3,282.3 C48.3,279.67 48.22,276.82 48.6,274.4 C48.98,271.98 49.5,269.9 50.6,267.8 C51.7,265.7 53.33,263.67 55.2,261.8 C57.07,259.93 59.6,258.03 61.8,256.6 C64,255.17 66.2,254.2 68.4,253.2 C70.6,252.2 72.8,251.13 75,250.6 C77.2,250.07 79.4,250.05 81.6,250 C83.8,249.95 85.47,249.93 88.2,250.3 C90.93,250.67 95.27,251.72 98,252.2 C100.73,252.68 102.4,252.7 104.6,253.2 C106.8,253.7 109,254.42 111.2,255.2 C113.4,255.98 115.6,257.02 117.8,257.9 C120,258.78 122.2,259.62 124.4,260.5 C126.6,261.38 129.23,262.23 131,263.2 C132.77,264.17 133.67,265.9 135,266.3 C136.33,266.7 137.57,265.48 139,265.6 C140.43,265.72 142.18,266.2 143.6,267 C145.02,267.8 146.52,268.95 147.5,270.4 C148.48,271.85 149.05,273.93 149.5,275.7 C149.95,277.47 150.3,279.68 150.2,281 C150.1,282.32 149.45,282.28 148.9,283.6 C148.35,284.92 147.45,286.92 146.9,288.9 C146.35,290.88 146.05,293.52 145.6,295.5 C145.15,297.48 144.53,299.03 144.2,300.8 C143.87,302.57 144.03,304.55 143.6,306.1 C143.17,307.65 142.82,309 141.6,310.1 C140.38,311.2 138.07,312.15 136.3,312.7 C134.53,313.25 132.98,313.18 131,313.4 C129.02,313.62 126.6,313.68 124.4,314 C122.2,314.32 120,314.85 117.8,315.3 C115.6,315.75 113.4,316.15 111.2,316.7 C109,317.25 106.8,317.63 104.6,318.6 C102.4,319.57 100.28,321.5 98,322.5 C95.72,323.5 92.97,324.47 90.9,324.6 C88.83,324.73 88.02,323.73 85.6,323.3 C83.18,322.87 79.27,322.33 76.4,322 C73.53,321.67 70.83,321.75 68.4,321.3 C65.97,320.85 64,320.3 61.8,319.3 C59.6,318.3 56.73,316.83 55.2,315.3 C53.67,313.77 53.27,311.85 52.6,310.1 C51.93,308.35 51.65,306.78 51.2,304.8 C50.75,302.82 50.33,300.63 49.9,298.2 C49.47,295.77 48.87,292.85 48.6,290.2 C48.33,287.55 48.3,284.93 48.3,282.3Z"/></clipPath>
<path d="M48.3,282.3 C48.3,279.67 48.22,276.82 48.6,274.4 C48.98,271.98 49.5,269.9 50.6,267.8 C51.7,265.7 53.33,263.67 55.2,261.8 C57.07,259.93 59.6,258.03 61.8,256.6 C64,255.17 66.2,254.2 68.4,253.2 C70.6,252.2 72.8,251.13 75,250.6 C77.2,250.07 79.4,250.05 81.6,250 C83.8,249.95 85.47,249.93 88.2,250.3 C90.93,250.67 95.27,251.72 98,252.2 C100.73,252.68 102.4,252.7 104.6,253.2 C106.8,253.7 109,254.42 111.2,255.2 C113.4,255.98 115.6,257.02 117.8,257.9 C120,258.78 122.2,259.62 124.4,260.5 C126.6,261.38 129.23,262.23 131,263.2 C132.77,264.17 133.67,265.9 135,266.3 C136.33,266.7 137.57,265.48 139,265.6 C140.43,265.72 142.18,266.2 143.6,267 C145.02,267.8 146.52,268.95 147.5,270.4 C148.48,271.85 149.05,273.93 149.5,275.7 C149.95,277.47 150.3,279.68 150.2,281 C150.1,282.32 149.45,282.28 148.9,283.6 C148.35,284.92 147.45,286.92 146.9,288.9 C146.35,290.88 146.05,293.52 145.6,295.5 C145.15,297.48 144.53,299.03 144.2,300.8 C143.87,302.57 144.03,304.55 143.6,306.1 C143.17,307.65 142.82,309 141.6,310.1 C140.38,311.2 138.07,312.15 136.3,312.7 C134.53,313.25 132.98,313.18 131,313.4 C129.02,313.62 126.6,313.68 124.4,314 C122.2,314.32 120,314.85 117.8,315.3 C115.6,315.75 113.4,316.15 111.2,316.7 C109,317.25 106.8,317.63 104.6,318.6 C102.4,319.57 100.28,321.5 98,322.5 C95.72,323.5 92.97,324.47 90.9,324.6 C88.83,324.73 88.02,323.73 85.6,323.3 C83.18,322.87 79.27,322.33 76.4,322 C73.53,321.67 70.83,321.75 68.4,321.3 C65.97,320.85 64,320.3 61.8,319.3 C59.6,318.3 56.73,316.83 55.2,315.3 C53.67,313.77 53.27,311.85 52.6,310.1 C51.93,308.35 51.65,306.78 51.2,304.8 C50.75,302.82 50.33,300.63 49.9,298.2 C49.47,295.77 48.87,292.85 48.6,290.2 C48.33,287.55 48.3,284.93 48.3,282.3Z" fill="#ae84c2" stroke="none" stroke-width="0"/>
<g clip-path="url(#he1)">
<path d="M48.3,282.3 C48.3,279.67 48.22,276.82 48.6,274.4 C48.98,271.98 49.5,269.9 50.6,267.8 C51.7,265.7 53.33,263.67 55.2,261.8 C57.07,259.93 59.6,258.03 61.8,256.6 C64,255.17 66.2,254.2 68.4,253.2 C70.6,252.2 72.8,251.13 75,250.6 C77.2,250.07 79.4,250.05 81.6,250 C83.8,249.95 85.47,249.93 88.2,250.3 C90.93,250.67 95.27,251.72 98,252.2 C100.73,252.68 102.4,252.7 104.6,253.2 C106.8,253.7 109,254.42 111.2,255.2 C113.4,255.98 115.6,257.02 117.8,257.9 C120,258.78 122.2,259.62 124.4,260.5 C126.6,261.38 129.23,262.23 131,263.2 C132.77,264.17 133.67,265.9 135,266.3 C136.33,266.7 137.57,265.48 139,265.6 C140.43,265.72 142.18,266.2 143.6,267 C145.02,267.8 146.52,268.95 147.5,270.4 C148.48,271.85 149.05,273.93 149.5,275.7 C149.95,277.47 150.3,279.68 150.2,281 C150.1,282.32 149.45,282.28 148.9,283.6 C148.35,284.92 147.45,286.92 146.9,288.9 C146.35,290.88 146.05,293.52 145.6,295.5 C145.15,297.48 144.53,299.03 144.2,300.8 C143.87,302.57 144.03,304.55 143.6,306.1 C143.17,307.65 142.82,309 141.6,310.1 C140.38,311.2 138.07,312.15 136.3,312.7 C134.53,313.25 132.98,313.18 131,313.4 C129.02,313.62 126.6,313.68 124.4,314 C122.2,314.32 120,314.85 117.8,315.3 C115.6,315.75 113.4,316.15 111.2,316.7 C109,317.25 106.8,317.63 104.6,318.6 C102.4,319.57 100.28,321.5 98,322.5 C95.72,323.5 92.97,324.47 90.9,324.6 C88.83,324.73 88.02,323.73 85.6,323.3 C83.18,322.87 79.27,322.33 76.4,322 C73.53,321.67 70.83,321.75 68.4,321.3 C65.97,320.85 64,320.3 61.8,319.3 C59.6,318.3 56.73,316.83 55.2,315.3 C53.67,313.77 53.27,311.85 52.6,310.1 C51.93,308.35 51.65,306.78 51.2,304.8 C50.75,302.82 50.33,300.63 49.9,298.2 C49.47,295.77 48.87,292.85 48.6,290.2 C48.33,287.55 48.3,284.93 48.3,282.3Z" fill="none" stroke="#9468b8" stroke-width="8" opacity="0.32"/>
<ellipse cx="102.25" cy="291.3" rx="26.49" ry="22.38" fill="#c48ec6" opacity="0.5"/>
<path d="M88.5 253.6h0M118.9 321.4h0M58.7 285.1h0M50.5 309.6h0M146.9 266.4h0M98.2 250.2h0M73.5 254.8h0M100.0 267.3h0M51.5 287.0h0M61.5 253.9h0M101.4 319.0h0M85.0 307.0h0M111.0 321.5h0M61.1 284.5h0M81.7 264.1h0M115.0 273.9h0M119.7 268.4h0M94.0 261.9h0M54.2 304.2h0M93.4 308.9h0M100.5 278.6h0M78.4 307.6h0M106.8 280.7h0M65.6 278.3h0M89.5 288.1h0M104.0 322.3h0M118.2 286.3h0M124.5 251.9h0M78.5 263.9h0M114.3 276.6h0M122.0 250.2h0M146.9 264.3h0M119.0 251.6h0M108.3 253.3h0M50.4 284.3h0M149.9 261.3h0M149.7 272.2h0M102.0 310.7h0M63.8 299.4h0M77.2 291.4h0M130.2 286.7h0M82.5 265.9h0M142.6 296.5h0M76.7 290.0h0M70.5 309.2h0M105.9 273.5h0M48.8 292.2h0M100.2 296.8h0M56.5 311.1h0M123.1 259.7h0M51.1 288.3h0M122.6 313.3h0M63.9 282.7h0M113.4 324.4h0M113.0 283.2h0M104.3 280.0h0M100.8 299.4h0M91.9 315.0h0M84.9 317.1h0M64.9 261.3h0M142.6 250.4h0M89.9 290.0h0M119.2 277.4h0M86.9 250.8h0M75.6 313.1h0M64.6 287.0h0M96.4 287.8h0M111.1 297.5h0M129.7 256.6h0M106.8 251.6h0M130.8 291.6h0M94.0 265.9h0M82.5 250.9h0M124.3 303.6h0M73.5 299.5h0M73.0 308.8h0M131.4 283.8h0M92.7 298.4h0M103.9 320.2h0M91.8 277.7h0M105.9 261.3h0M136.3 290.0h0M107.1 316.8h0M61.9 262.3h0M79.2 260.1h0M89.4 309.7h0M124.5 270.4h0M142.0 257.7h0M74.9 283.4h0M89.9 313.2h0M48.6 256.9h0M129.3 285.1h0M56.9 300.4h0M109.0 310.8h0M75.7 261.1h0M50.3 312.5h0M112.3 296.3h0M74.8 292.8h0M69.4 263.8h0M84.1 273.8h0M146.7 282.8h0M111.1 318.2h0M138.9 283.6h0M75.1 297.5h0M87.5 310.7h0M126.0 256.5h0M66.9 293.3h0M69.3 289.5h0M94.8 291.6h0M136.2 254.8h0M103.3 260.0h0M57.3 315.8h0M82.5 288.4h0M121.8 274.9h0M142.4 320.2h0M71.9 316.8h0M131.7 316.0h0M100.9 265.9h0M98.3 272.0h0M116.1 286.8h0M100.0 307.0h0M48.8 316.7h0M149.6 275.4h0M62.4 269.9h0M61.5 251.4h0M134.0 297.8h0M92.3 277.1h0M147.8 317.8h0M118.2 278.5h0M109.4 291.3h0M113.8 275.9h0M131.3 280.2h0M93.3 311.9h0M106.0 275.4h0M133.0 294.4h0M80.5 283.3h0M114.3 267.6h0M120.9 266.4h0M51.5 319.0h0M75.0 315.0h0M90.8 309.6h0M98.2 302.5h0M114.3 281.0h0M121.4 287.0h0M109.7 258.2h0M108.9 300.5h0M86.1 294.2h0M139.6 309.9h0M57.1 271.4h0" stroke="#bf8ec8" stroke-width="1.5" stroke-linecap="round" opacity="0.7"/>
<path d="M85.6 254.3h0M133.9 320.5h0M94.8 315.0h0M48.3 261.3h0M102.0 319.6h0M110.3 266.6h0M147.1 269.5h0M85.1 281.9h0M65.4 262.1h0M61.3 281.7h0M112.7 268.5h0M140.4 296.3h0M116.4 274.2h0M135.6 324.3h0M113.1 276.8h0M132.4 297.1h0M106.8 271.4h0M91.3 298.2h0M52.2 290.5h0M71.2 305.3h0M110.4 300.9h0M115.9 314.8h0M148.8 314.0h0M136.2 297.7h0M84.0 257.0h0M111.6 268.7h0M142.5 262.1h0M101.4 323.8h0M145.3 311.6h0M104.2 306.7h0M135.1 300.7h0M84.5 274.4h0M142.6 300.4h0M66.9 311.0h0M85.1 289.4h0M85.3 271.0h0M55.8 310.9h0M107.9 265.0h0M52.2 287.7h0M90.1 302.4h0M125.3 278.3h0M108.7 284.5h0M90.6 299.2h0M128.6 294.4h0M124.7 261.5h0M52.5 296.1h0M88.2 308.5h0M78.9 295.0h0M86.6 316.9h0M144.9 286.0h0M150.0 262.9h0M91.2 323.0h0M64.8 305.1h0M102.5 302.1h0M85.0 302.2h0M130.2 321.7h0M93.0 264.7h0M141.3 312.5h0M116.6 260.1h0M58.4 278.2h0M54.4 282.2h0M60.5 323.4h0M113.9 301.2h0M89.8 275.6h0M106.2 307.4h0M119.7 254.3h0M66.0 263.0h0M115.4 296.5h0M83.5 313.0h0M116.4 260.7h0M144.8 291.1h0M124.5 314.1h0M93.6 251.9h0M64.2 255.3h0M63.9 315.2h0M80.0 315.0h0M57.8 256.8h0M108.6 301.4h0M64.6 271.8h0M75.2 276.0h0M148.2 315.0h0M68.4 265.4h0M81.9 258.1h0M60.3 284.6h0M58.7 309.7h0M91.9 292.7h0M57.9 288.5h0M121.2 320.0h0M122.9 285.0h0M82.1 290.5h0M126.3 268.2h0M57.4 323.0h0M148.1 292.0h0M104.8 278.6h0M68.4 289.0h0M57.0 276.1h0M101.0 261.1h0M145.8 256.2h0M108.2 282.8h0M110.7 276.1h0M126.3 290.0h0M143.1 253.9h0M90.4 288.0h0M63.2 318.8h0M71.8 257.4h0M81.3 273.6h0M50.8 321.7h0M129.0 259.0h0M69.3 303.9h0M147.9 254.8h0M113.7 294.4h0M56.2 263.1h0M123.8 271.5h0M51.0 315.9h0M51.9 283.7h0M103.8 262.3h0M150.1 320.9h0M81.5 314.1h0M89.0 254.7h0M85.0 271.4h0M140.4 314.5h0M131.9 256.1h0M107.9 281.6h0M124.1 280.6h0M104.2 253.8h0M64.1 304.1h0M51.8 308.3h0M92.7 270.4h0M53.4 286.3h0M89.1 291.3h0M121.5 275.5h0M85.9 289.3h0M71.7 298.5h0M125.5 302.5h0M62.2 263.0h0M118.4 259.9h0M134.5 279.6h0M145.2 275.1h0M75.4 267.5h0M147.5 257.9h0M50.6 268.1h0M92.2 265.9h0M120.6 291.7h0M60.3 293.2h0M66.9 281.3h0M52.2 285.2h0" stroke="#a274bc" stroke-width="2" stroke-linecap="round" opacity="0.7"/>
<path d="M57.1 281.2h0M97.4 279.9h0M149.1 308.9h0M116.7 282.0h0M87.5 288.6h0M59.8 318.5h0M94.5 275.3h0M149.6 252.8h0M96.7 287.5h0M134.5 267.5h0M111.2 298.0h0M120.0 267.3h0M76.9 253.9h0M105.5 306.6h0M120.2 264.6h0M149.0 269.8h0M69.1 269.0h0M80.1 292.3h0M52.4 259.7h0M61.8 309.1h0M103.1 266.2h0M144.0 307.2h0M89.2 279.4h0M89.0 309.0h0M132.5 271.8h0M141.4 298.9h0M49.7 278.9h0M56.8 285.2h0M121.4 250.9h0M111.7 298.6h0M112.3 283.7h0M80.7 317.4h0M55.0 304.7h0M90.0 306.9h0M145.5 286.9h0M71.1 263.6h0M90.0 287.4h0M76.7 251.9h0M119.1 307.9h0M137.5 293.7h0M117.2 265.4h0M64.7 283.2h0M63.3 293.2h0M62.2 307.9h0M120.1 300.1h0M125.6 296.7h0M70.5 279.8h0M113.5 318.8h0M143.8 296.6h0M102.3 312.6h0M81.5 253.1h0M104.4 305.8h0M122.0 283.9h0M52.3 293.2h0M137.9 258.7h0M49.8 320.4h0M91.5 296.6h0M71.6 300.1h0M137.5 257.2h0M107.9 279.9h0M52.8 263.1h0M130.3 283.9h0M58.3 315.5h0M110.7 256.4h0M103.0 322.0h0M121.1 282.2h0M57.7 314.6h0M54.8 255.0h0M137.2 317.8h0M100.2 286.1h0M96.9 288.2h0M92.7 311.1h0M74.0 299.9h0M121.2 304.9h0M139.9 321.0h0M144.4 250.9h0M93.4 256.4h0M112.5 302.9h0M98.6 303.8h0M70.8 317.6h0M82.5 257.6h0M70.8 320.8h0M60.0 278.4h0M59.6 270.3h0M72.5 282.9h0M85.6 323.4h0M141.0 251.7h0M130.9 304.6h0M97.2 254.9h0M105.7 322.8h0M145.0 266.4h0M138.4 305.4h0M90.4 313.4h0M64.2 260.0h0M123.8 318.6h0M70.1 274.3h0M71.3 273.0h0M138.9 267.6h0M90.1 306.0h0M61.4 281.8h0M140.9 267.5h0M72.9 288.3h0M82.7 303.3h0M96.1 256.6h0M95.8 296.0h0M86.3 324.5h0M144.5 269.0h0M92.3 267.7h0M124.3 300.0h0M79.5 285.5h0M148.6 320.1h0M128.7 285.8h0M58.2 273.2h0M103.6 277.3h0M48.8 263.7h0M115.3 264.6h0M60.2 316.4h0M132.9 302.1h0M59.9 266.6h0M85.9 282.4h0M79.1 298.2h0M54.8 291.6h0M81.0 317.6h0M106.2 288.1h0M58.4 271.7h0M145.8 306.9h0M120.8 320.9h0M147.0 320.9h0M110.5 289.3h0M91.1 266.7h0M99.8 259.7h0M98.5 322.0h0M123.2 270.1h0M147.2 304.5h0M122.3 253.1h0M100.8 308.5h0M52.3 291.1h0M51.4 263.6h0M78.7 254.1h0M109.9 269.1h0M87.1 303.1h0M119.5 280.4h0M109.0 266.6h0M125.0 281.4h0M103.5 274.3h0M129.3 272.6h0M137.2 274.0h0M80.4 278.4h0M142.3 252.4h0M85.4 263.6h0M121.3 285.8h0M124.5 315.1h0M131.7 298.9h0M114.4 275.0h0M133.2 318.7h0M128.4 315.1h0M67.9 302.3h0M86.2 281.1h0M90.4 295.5h0M82.1 266.7h0M89.1 316.2h0M56.3 279.0h0" stroke="#a274bc" stroke-width="1.5" stroke-linecap="round" opacity="0.7"/>
<path d="M91.6 311.7h0M79.7 310.9h0M149.5 311.3h0M63.8 288.1h0M51.1 316.7h0M80.5 307.7h0M75.6 269.0h0M127.8 284.2h0M74.1 297.7h0M71.2 293.5h0M119.4 314.0h0M68.9 306.9h0M113.2 299.2h0M138.5 290.7h0M68.9 265.9h0M55.6 276.6h0M130.3 260.0h0M67.4 274.2h0M63.5 313.4h0M110.2 278.3h0M104.9 278.7h0M72.6 266.6h0M140.9 314.6h0M106.7 293.6h0M117.5 275.2h0M109.2 283.8h0M91.0 322.6h0M81.4 298.2h0M68.8 292.6h0M74.5 265.1h0M132.2 252.6h0M121.6 273.1h0M134.0 261.3h0M103.4 274.2h0M102.9 287.8h0M130.5 259.0h0M139.1 304.4h0M144.1 269.8h0M90.0 299.7h0M105.3 284.4h0M142.0 269.6h0M100.5 257.9h0M108.9 309.6h0M83.9 271.8h0M98.4 264.1h0M60.2 269.4h0M115.1 278.4h0M135.0 303.3h0M143.0 295.9h0M91.8 319.6h0M118.9 298.3h0M99.0 322.7h0M104.1 273.4h0M54.9 250.7h0M118.9 288.4h0M58.1 287.0h0M127.7 283.3h0M149.0 323.6h0M72.8 297.3h0M130.9 270.1h0M69.6 315.5h0M136.1 260.7h0M83.8 286.2h0M139.7 273.7h0M121.2 251.4h0M95.5 275.8h0M117.8 305.7h0M142.2 320.1h0M93.5 281.9h0M62.5 318.7h0M120.1 272.3h0M63.4 257.2h0M90.4 297.9h0M142.5 287.2h0M127.2 304.0h0M128.9 291.9h0M102.1 263.0h0M52.5 260.2h0M125.1 275.5h0M145.2 281.3h0M58.3 263.4h0M66.7 318.1h0M148.6 258.3h0M54.3 291.2h0M105.3 313.3h0M149.7 291.5h0M95.8 313.9h0M67.1 260.1h0M125.2 257.8h0M91.2 321.9h0M50.9 285.1h0M93.3 300.9h0M84.1 252.4h0M123.6 261.7h0M76.6 289.2h0M96.5 320.2h0M52.1 301.6h0M126.1 294.8h0M77.7 262.4h0M124.6 255.4h0M129.6 314.8h0M131.0 301.1h0M148.9 294.8h0M66.8 278.5h0M104.6 254.2h0M106.9 270.9h0M76.8 262.9h0M65.6 322.2h0M114.8 261.5h0M115.1 287.0h0M146.5 275.7h0M109.0 268.2h0M57.3 315.0h0M116.6 313.5h0M81.4 251.7h0M100.0 272.6h0M142.2 323.4h0M120.9 306.7h0M53.1 313.3h0M118.6 292.4h0M90.1 277.4h0M118.9 324.5h0M61.9 256.8h0M50.4 289.8h0M52.4 300.8h0M140.4 270.5h0M67.8 314.5h0M86.8 260.9h0M142.3 268.0h0M97.1 277.1h0M114.1 307.0h0" stroke="#c896cc" stroke-width="1.5" stroke-linecap="round" opacity="0.7"/>
<path d="M112.6 293.5h0M115.4 250.9h0M93.2 258.2h0M65.6 259.5h0M78.2 267.9h0M76.5 307.6h0M64.4 283.3h0M82.1 298.6h0M121.0 317.3h0M63.8 322.5h0M72.0 318.6h0M116.3 319.0h0M59.2 303.4h0M81.7 273.8h0M52.6 320.0h0M113.9 259.2h0M134.1 265.1h0M122.0 295.0h0M113.7 283.9h0M135.3 263.9h0M111.1 313.4h0M101.1 288.0h0M115.8 258.1h0M125.4 261.7h0M104.5 277.5h0M98.7 287.3h0M65.0 283.1h0M53.1 253.1h0M123.1 321.9h0M62.8 307.2h0M95.6 279.6h0M85.7 288.8h0M79.5 290.6h0M144.5 299.0h0M94.6 310.4h0M90.9 312.3h0M110.5 295.8h0M138.6 306.9h0M91.1 289.5h0M75.4 254.7h0M67.8 302.8h0M92.0 256.9h0M109.7 269.3h0M147.8 252.8h0M129.2 296.7h0M95.0 321.4h0M78.9 322.3h0M149.0 317.6h0M143.3 270.0h0M92.5 299.3h0M57.6 304.2h0M119.0 269.3h0M96.2 259.8h0M81.1 298.2h0M109.9 255.3h0M146.6 308.0h0M139.2 289.5h0M89.4 267.9h0M61.4 272.0h0M125.1 319.3h0M97.4 317.9h0M93.1 322.4h0M140.6 266.8h0M76.8 323.5h0M71.1 315.5h0M112.5 282.8h0M97.9 289.0h0M86.4 306.8h0M118.6 258.3h0M57.0 305.5h0M118.7 275.4h0M135.1 252.8h0M57.1 296.4h0M137.3 260.7h0M143.4 263.9h0M108.1 284.2h0M118.4 320.3h0M97.7 270.2h0M86.9 287.5h0M94.0 261.9h0M134.6 321.0h0M90.0 320.7h0M89.1 305.6h0M73.4 313.0h0M58.7 302.6h0M58.4 270.0h0" stroke="#bf8ec8" stroke-width="1" stroke-linecap="round" opacity="0.7"/>
<path d="M88.7 322.8h0M106.5 264.0h0M106.7 315.3h0M78.7 298.0h0M106.4 302.3h0M104.5 264.1h0M127.4 256.8h0M55.0 305.0h0M144.4 264.3h0M103.8 262.0h0M67.5 254.8h0M148.8 284.7h0M139.5 298.7h0M136.2 250.5h0M136.6 316.3h0M54.1 316.8h0M95.4 279.6h0M63.2 300.7h0M86.7 267.3h0M135.4 273.5h0M97.6 252.4h0M77.1 287.4h0M99.4 291.4h0M85.6 261.1h0M63.4 305.1h0M52.4 300.7h0M114.8 319.6h0M139.0 256.3h0M49.2 313.7h0M132.6 258.2h0M102.4 252.1h0M102.7 255.3h0M50.4 267.2h0M53.7 299.5h0M137.0 321.8h0M65.7 314.5h0M90.3 291.8h0M70.3 312.7h0M77.9 297.7h0M80.5 287.6h0M100.2 287.3h0M84.8 320.2h0M144.4 324.4h0M102.1 258.5h0M134.0 262.0h0M71.0 256.1h0M149.1 316.1h0M148.4 264.0h0M134.0 304.6h0M131.6 302.6h0M75.6 318.0h0M74.6 289.4h0M94.2 292.0h0M133.7 291.7h0M143.5 320.6h0M127.2 319.2h0M105.8 317.1h0M97.5 254.9h0M61.0 287.9h0M62.0 307.3h0M68.2 281.4h0M76.4 281.4h0M93.7 291.0h0M90.8 271.1h0M76.6 296.2h0M87.8 322.8h0M127.7 288.4h0M115.9 311.1h0M100.1 293.5h0M61.1 288.5h0M109.2 264.2h0M97.1 277.8h0M100.8 319.6h0M71.8 292.3h0M83.8 266.1h0M95.1 254.7h0M144.9 323.3h0M102.9 323.5h0M113.9 264.8h0M63.4 275.7h0M120.5 271.3h0M115.3 276.1h0M96.0 321.4h0M116.4 266.0h0M108.0 266.5h0M52.4 274.6h0M108.6 295.4h0" stroke="#c896cc" stroke-width="1" stroke-linecap="round" opacity="0.7"/>
<path d="M61.9 281.3h0M73.2 292.9h0M77.6 305.1h0M100.8 296.1h0M74.9 277.4h0M71.0 290.4h0M133.4 316.5h0M77.5 253.7h0M99.0 266.4h0M121.8 298.3h0M131.9 267.2h0M138.9 258.1h0M71.9 283.4h0M141.0 256.6h0M121.8 266.5h0M59.0 295.7h0M92.8 318.1h0M70.2 302.2h0M145.2 264.9h0M91.2 301.9h0M60.2 321.2h0M90.9 278.8h0M129.5 290.9h0M119.7 277.1h0M136.6 286.3h0M48.9 264.8h0M68.8 277.2h0M104.3 258.8h0M60.8 288.3h0M71.5 287.1h0M97.8 305.7h0M74.6 261.2h0M83.1 277.1h0M116.7 280.2h0M85.2 275.7h0M91.7 270.8h0M143.5 307.4h0M135.5 298.6h0M77.9 308.3h0M56.2 311.0h0M64.5 308.0h0M98.9 319.4h0M110.5 316.7h0M143.1 278.4h0M145.5 266.3h0M147.5 293.1h0M100.0 312.5h0M135.1 281.7h0M87.1 307.1h0M48.8 262.9h0M55.7 285.2h0M116.6 289.5h0M124.2 309.8h0M48.9 275.4h0M66.2 295.0h0M105.3 281.0h0M90.1 296.1h0M62.6 273.2h0M105.4 260.6h0M56.7 280.9h0M61.9 278.1h0M139.3 252.6h0M125.5 298.1h0M116.1 263.0h0M129.9 261.9h0M145.1 251.7h0M121.8 270.7h0M120.0 276.9h0M108.5 296.9h0M49.0 317.8h0M114.2 271.0h0M95.2 322.1h0M58.5 321.5h0M105.2 297.9h0M100.5 309.8h0M136.3 314.0h0M142.2 268.7h0M78.5 287.3h0M100.0 252.1h0M148.1 290.5h0M51.1 313.1h0M135.5 280.9h0M100.0 273.4h0M107.6 278.2h0M144.7 256.2h0M56.0 293.3h0M133.6 268.5h0M51.1 268.0h0M98.5 267.7h0M88.5 266.5h0M52.7 297.5h0M84.7 295.4h0M130.6 251.8h0M65.1 293.8h0M103.8 261.6h0M52.5 295.9h0M105.3 297.9h0M119.2 289.1h0M58.0 255.0h0M123.1 282.0h0M94.9 258.3h0M88.8 274.0h0M64.0 257.8h0M96.9 296.9h0M120.0 262.4h0M145.2 306.8h0M94.9 262.2h0M97.3 292.8h0" stroke="#c48cc4" stroke-width="1" stroke-linecap="round" opacity="0.7"/>
<path d="M54.7 254.4h0M102.5 308.0h0M83.2 269.8h0M84.4 284.2h0M113.9 277.3h0M123.8 269.1h0M85.1 257.8h0M90.2 295.9h0M79.2 301.6h0M131.9 316.6h0M128.1 303.4h0M94.4 266.9h0M104.7 282.5h0M81.7 250.8h0M67.0 288.3h0M57.2 324.3h0M118.3 296.1h0M139.2 284.9h0M75.4 263.9h0M123.6 269.5h0M50.4 260.4h0M105.9 258.0h0M106.1 273.2h0M80.0 266.9h0M89.0 276.6h0M52.4 253.0h0M124.1 324.5h0M64.1 323.1h0M132.9 305.4h0M82.1 299.1h0M51.8 291.8h0M135.5 308.1h0M92.5 267.3h0M98.6 256.6h0M117.1 272.0h0M61.9 261.9h0M143.7 322.0h0M114.5 265.5h0M77.3 279.2h0M72.2 287.2h0M120.5 278.4h0M137.7 284.4h0M65.8 261.2h0M92.5 278.4h0M104.5 306.7h0M115.8 304.8h0M120.2 263.1h0M128.6 311.3h0M74.6 308.3h0M149.4 253.7h0M67.5 251.5h0M94.9 312.1h0M136.2 308.7h0M85.9 315.7h0M117.9 301.1h0M93.9 323.3h0M55.0 299.8h0M133.3 276.2h0M87.5 309.9h0M116.0 293.5h0M62.2 307.5h0M85.4 257.3h0M77.4 284.7h0M130.7 299.7h0M127.8 308.4h0M93.3 296.5h0M74.3 257.3h0M58.2 291.9h0M78.8 295.5h0M87.1 257.6h0M96.3 299.5h0M114.9 272.0h0M85.4 285.3h0M125.1 267.4h0M124.3 306.4h0M64.2 307.4h0M94.7 279.1h0M101.3 298.3h0M75.3 257.9h0M137.8 271.9h0M127.5 307.5h0M81.4 309.2h0M106.6 307.3h0M95.8 320.5h0M66.4 251.8h0M77.8 285.0h0M81.0 306.7h0M111.5 277.3h0M116.9 278.2h0M86.6 252.4h0M141.5 254.2h0M116.2 257.0h0M57.6 317.1h0M115.2 323.3h0M98.0 279.2h0M80.8 254.5h0M123.2 285.4h0M103.7 262.5h0M56.6 303.4h0M129.8 306.8h0M52.7 258.9h0M110.8 300.9h0M70.4 296.0h0M128.6 307.2h0" stroke="#a878c0" stroke-width="1" stroke-linecap="round" opacity="0.7"/>
<path d="M85.1 268.5h0M91.3 321.8h0M138.7 275.9h0M97.3 273.3h0M111.9 317.2h0M59.1 311.1h0M103.9 316.3h0M56.1 317.9h0M126.5 324.1h0M147.4 268.5h0M119.5 258.4h0M76.7 273.6h0M120.1 272.9h0M68.5 309.5h0M68.0 277.2h0M61.8 287.0h0M73.5 268.3h0M58.6 279.5h0M50.2 307.2h0M104.4 296.8h0M79.7 268.6h0M69.5 269.6h0M101.1 257.3h0M148.4 297.1h0M121.0 297.0h0M97.5 251.5h0M118.4 323.3h0M86.5 281.2h0M106.0 293.1h0M95.2 319.6h0M127.7 313.9h0M86.4 257.9h0M65.5 267.8h0M72.4 252.9h0M77.7 276.3h0M101.0 288.6h0M93.2 296.6h0M111.9 251.5h0M148.1 255.0h0M67.8 271.2h0M116.6 292.9h0M98.1 308.5h0M130.2 300.4h0M145.4 285.9h0M85.0 267.9h0M71.4 284.2h0M137.3 251.9h0M137.2 268.6h0M138.1 310.0h0M115.8 270.5h0M119.1 283.5h0M143.7 298.0h0M100.4 281.3h0M118.2 261.6h0M57.7 303.5h0M106.9 319.6h0M80.8 315.4h0M113.2 308.1h0M86.5 321.2h0M143.2 288.7h0M90.0 301.4h0M97.2 263.0h0M96.1 319.9h0M96.7 290.9h0M56.0 317.0h0M146.3 317.1h0M145.5 273.1h0M93.8 250.9h0M70.4 296.9h0M100.4 261.0h0M67.7 324.1h0M137.6 256.0h0M138.9 318.3h0M92.1 285.5h0M74.1 257.4h0M92.1 294.6h0M132.9 252.4h0M136.7 282.8h0M72.8 313.9h0M90.1 284.0h0M50.6 317.0h0M129.9 290.4h0M87.3 282.5h0M56.6 295.8h0M93.2 293.7h0M136.1 278.0h0M146.7 312.4h0M58.9 257.3h0M145.3 261.5h0M58.8 287.4h0M148.6 269.9h0M82.7 279.7h0M93.0 294.4h0M65.4 275.7h0M72.8 288.7h0M70.0 295.4h0M131.7 272.8h0M58.0 318.6h0M86.8 260.2h0M118.6 324.5h0M92.8 298.7h0M55.6 252.7h0M84.0 316.1h0M113.8 271.2h0M48.9 279.7h0M60.4 266.1h0M104.8 318.5h0M55.1 270.3h0M85.9 291.4h0M55.4 276.7h0M63.2 263.7h0M138.3 293.2h0M56.0 302.8h0M69.3 284.9h0M86.2 283.6h0M141.7 307.2h0M112.8 304.9h0M145.1 296.5h0M123.2 261.0h0M52.0 321.8h0M139.3 292.6h0M130.3 282.0h0M109.1 250.7h0M140.2 256.2h0M121.8 304.3h0M83.0 287.8h0M99.6 289.0h0M57.8 272.1h0M59.2 311.2h0M83.4 322.3h0M129.3 320.2h0M147.2 265.8h0M50.9 282.8h0M85.4 266.2h0M141.5 267.2h0M54.2 294.5h0M86.1 292.0h0M101.4 300.4h0M129.1 302.2h0M80.7 301.9h0M80.8 256.3h0M83.3 253.2h0" stroke="#b482c0" stroke-width="1.5" stroke-linecap="round" opacity="0.7"/>
<path d="M122.6 271.5h0M138.3 311.1h0M110.4 273.8h0M96.6 258.6h0M91.2 276.6h0M111.7 253.2h0M109.3 301.7h0M147.4 290.8h0M70.5 263.6h0M148.0 319.8h0M61.8 311.2h0M124.8 312.6h0M54.9 279.1h0M123.6 322.8h0M74.6 292.5h0M78.6 303.8h0M72.0 253.8h0M90.1 271.1h0M93.8 282.7h0M57.6 283.0h0M86.2 264.8h0M111.3 252.3h0M75.1 317.2h0M90.1 320.7h0M125.7 298.5h0M135.4 254.3h0M122.6 262.4h0M127.0 267.4h0M54.3 291.2h0M70.9 254.2h0M134.1 314.5h0M59.5 259.1h0M121.2 312.9h0M131.4 313.2h0M95.3 290.9h0M67.1 272.7h0M131.9 323.9h0M88.8 257.3h0M137.1 316.8h0M123.3 307.1h0M130.3 306.6h0M97.9 253.2h0M142.0 298.1h0M54.7 250.7h0M59.9 263.5h0M80.3 275.0h0M148.9 276.6h0M101.6 320.2h0M127.6 268.1h0M104.2 301.5h0M94.7 293.1h0M84.6 309.9h0M101.6 309.8h0M87.4 299.5h0M66.5 308.8h0M122.4 304.8h0M140.8 306.1h0M67.4 316.4h0M145.9 277.0h0M117.2 323.4h0M87.6 321.9h0M121.4 279.5h0M55.6 285.6h0M125.7 255.7h0M126.0 261.0h0M133.1 252.3h0M76.6 250.7h0M135.2 259.7h0M51.3 282.7h0M58.3 270.9h0M107.7 320.1h0M72.8 259.0h0M61.3 266.6h0M53.3 288.3h0M123.1 275.0h0M108.4 300.5h0M101.4 251.5h0M74.2 295.5h0M130.9 296.9h0M93.8 286.0h0M117.8 305.6h0M138.6 277.4h0M105.7 320.7h0M82.4 269.9h0M142.0 257.5h0M101.2 286.0h0M84.4 291.7h0M122.8 265.9h0M120.6 283.9h0M119.0 270.4h0M64.0 297.8h0M109.6 291.7h0M117.5 290.7h0M141.8 266.6h0M125.4 280.7h0M139.7 267.8h0M78.8 270.5h0M60.0 288.0h0M109.6 323.4h0M67.5 274.9h0M52.1 308.8h0M81.4 312.0h0M106.4 297.2h0M87.6 324.6h0M126.2 300.6h0M62.3 277.3h0M141.3 268.2h0M70.5 307.1h0M110.5 267.5h0M62.4 255.2h0M48.8 312.4h0M102.3 290.2h0M74.1 251.9h0M124.1 313.1h0M50.1 307.5h0M62.0 269.6h0M78.7 286.5h0M102.3 279.0h0M74.1 312.4h0M74.3 272.3h0M135.4 314.6h0M102.0 314.7h0M144.1 307.6h0M141.1 302.2h0M98.8 261.8h0M118.5 288.1h0M115.2 313.6h0M76.3 263.8h0M64.6 296.9h0M85.2 306.8h0M119.1 250.7h0M54.8 318.9h0M94.3 282.2h0M58.7 306.6h0M130.6 261.2h0M84.5 250.0h0M56.0 273.6h0M55.0 319.1h0M109.2 253.7h0M125.5 260.7h0M138.3 305.9h0M88.0 314.2h0M146.8 290.1h0M139.1 300.0h0M89.2 289.8h0M149.6 307.4h0M103.3 267.8h0M135.8 280.4h0M90.3 258.9h0M114.1 294.0h0M58.0 301.9h0M111.9 282.1h0" stroke="#9468b4" stroke-width="1.5" stroke-linecap="round" opacity="0.7"/>
<path d="M100.5 262.3h0M107.6 260.6h0M70.0 322.7h0M75.0 303.5h0M83.7 257.1h0M116.4 316.7h0M66.7 276.9h0M143.8 279.0h0M127.5 275.3h0M50.9 269.1h0M133.3 307.9h0M148.1 313.5h0M112.6 304.2h0M115.6 251.2h0M83.9 266.0h0M107.4 257.5h0M124.2 312.1h0M95.3 292.5h0M127.1 261.1h0M74.7 286.4h0M102.1 309.4h0M106.9 306.1h0M70.9 267.1h0M93.2 274.1h0M81.7 295.2h0M52.4 319.2h0M141.8 304.9h0M66.3 267.4h0M51.0 257.0h0M144.8 285.0h0M142.3 323.5h0M111.8 288.0h0M114.9 261.8h0M69.2 261.4h0M77.4 322.4h0M67.5 287.0h0M109.7 255.8h0M79.9 313.3h0M131.7 268.9h0M124.5 284.3h0M54.1 294.9h0" stroke="#a274bc" stroke-width="2.5" stroke-linecap="round" opacity="0.7"/>
<path d="M84.0 287.1h0M54.9 304.5h0M71.0 310.5h0M149.0 321.2h0M82.2 309.7h0M76.5 287.9h0M131.8 269.3h0M72.6 286.0h0M54.0 294.4h0M138.3 304.7h0M102.7 298.7h0M143.7 300.7h0M72.1 316.0h0M55.0 314.7h0M105.5 257.8h0M119.7 316.7h0M132.9 309.3h0M69.4 269.0h0M57.4 318.7h0M49.9 310.2h0M141.7 288.7h0M111.8 296.9h0M97.7 309.1h0M89.6 296.9h0M120.0 284.5h0M132.9 296.9h0M72.9 288.4h0M84.1 272.3h0M105.7 258.1h0M59.8 288.3h0M137.0 262.5h0M148.9 254.2h0M141.9 303.4h0M135.3 288.1h0M129.5 299.6h0M83.7 294.0h0M61.0 260.2h0M78.0 298.9h0M89.2 252.9h0M142.4 324.3h0M61.7 293.1h0M144.2 274.7h0M112.7 278.0h0M54.4 298.8h0M147.8 254.3h0M85.0 317.4h0M120.0 302.5h0M122.3 262.0h0M136.1 323.8h0M49.1 305.6h0M57.9 304.5h0M137.8 314.3h0M73.9 277.3h0M66.8 266.9h0M65.1 276.9h0M126.4 312.3h0M54.1 267.1h0M79.5 307.8h0M86.2 283.3h0M142.3 259.9h0M119.2 259.3h0M147.4 286.6h0M136.3 279.9h0M108.4 311.5h0M51.0 294.5h0M128.3 312.6h0M54.2 278.1h0M82.8 251.9h0M140.6 314.9h0M90.4 306.3h0M53.3 266.1h0M113.1 319.6h0M89.9 294.6h0M79.7 268.5h0M102.2 281.3h0M105.5 322.8h0M106.3 288.4h0M143.2 298.2h0M107.4 260.9h0M52.4 315.5h0M60.9 297.5h0M108.5 290.5h0M148.7 278.2h0M58.4 319.0h0M54.2 299.6h0M54.1 324.4h0M131.7 288.3h0M58.6 264.8h0M100.6 305.6h0M128.6 279.1h0M80.3 266.4h0M61.4 324.4h0M79.3 250.5h0M48.4 323.1h0M115.7 260.6h0M88.6 281.6h0M120.6 286.5h0M75.6 272.5h0M93.8 274.4h0M115.0 255.5h0M98.4 297.4h0M52.8 277.5h0M96.2 314.0h0M102.0 262.7h0M56.7 250.5h0M59.6 279.8h0M61.4 305.9h0M89.6 250.1h0M50.7 268.9h0M70.3 300.6h0M56.7 311.0h0M57.8 316.1h0M80.8 260.5h0M56.8 299.0h0M144.1 268.3h0M148.9 320.3h0M56.8 277.8h0M106.1 253.2h0M136.8 285.3h0M99.7 254.2h0M127.5 285.8h0M60.7 307.8h0M131.6 282.0h0M106.7 302.0h0M50.4 291.4h0M103.1 320.7h0M63.8 315.1h0M104.4 298.9h0M71.0 281.8h0" stroke="#a878c0" stroke-width="1.5" stroke-linecap="round" opacity="0.7"/>
<path d="M65.4 258.7h0M63.2 290.5h0M118.4 323.3h0M87.7 318.4h0M127.5 288.2h0M130.7 257.0h0M127.2 303.2h0M134.3 275.3h0M67.2 282.5h0M105.0 286.7h0M118.8 305.7h0M119.0 304.5h0M110.7 300.5h0M87.2 312.1h0M72.9 312.2h0M116.2 255.7h0M103.5 263.2h0M55.5 306.2h0M111.4 257.8h0M86.5 276.3h0M49.9 267.0h0M100.9 323.2h0M79.1 270.0h0M99.9 252.8h0M147.9 259.7h0M74.3 320.8h0M50.3 286.7h0M119.2 297.8h0M114.5 264.4h0M68.9 288.5h0M136.4 259.3h0M73.6 255.3h0M95.5 310.4h0M137.5 297.5h0M149.4 277.3h0M86.2 288.3h0M66.1 272.9h0M106.7 304.8h0M79.2 255.0h0M102.7 255.5h0M84.2 305.1h0M87.6 292.6h0M96.7 255.3h0M94.9 271.6h0M69.7 299.1h0M129.7 314.5h0M58.6 292.8h0M92.5 319.1h0M98.4 289.6h0M138.5 295.4h0M118.7 292.2h0M77.4 301.6h0M84.9 298.6h0" stroke="#9468b4" stroke-width="2.5" stroke-linecap="round" opacity="0.7"/>
<path d="M98.9 262.4h0M71.4 288.6h0M68.2 315.2h0M127.4 315.9h0M138.2 304.4h0M109.5 250.8h0M132.0 311.3h0M87.7 268.7h0M109.0 288.2h0M66.4 295.0h0M86.2 278.0h0M100.8 293.1h0M134.2 299.4h0M106.8 290.4h0M63.9 317.4h0M139.8 252.5h0M62.4 273.1h0M87.2 308.8h0M120.2 286.3h0M72.1 258.6h0M78.5 310.0h0M136.5 273.9h0M109.7 252.7h0M91.3 297.2h0M124.3 323.8h0M48.6 303.0h0M87.6 280.1h0M128.5 291.4h0M130.3 261.9h0M115.9 276.2h0M141.5 305.9h0M79.1 262.6h0M104.3 302.7h0M127.2 282.8h0M66.1 288.6h0M92.7 324.2h0M49.3 267.3h0M87.8 284.3h0M117.7 303.0h0M72.0 293.4h0M134.4 266.9h0M119.8 265.7h0M54.6 268.3h0M95.8 252.4h0M106.9 311.6h0M124.0 275.5h0M82.6 314.5h0M62.4 270.5h0M94.2 317.1h0M148.4 278.6h0M48.3 295.3h0M54.9 283.9h0M74.6 281.6h0M80.7 315.7h0M95.4 305.9h0M100.8 305.6h0M91.5 288.1h0M121.8 324.3h0M143.0 297.7h0M74.9 277.6h0M119.8 320.0h0M110.5 261.8h0M86.7 268.6h0M143.4 263.8h0M49.8 254.3h0M92.3 304.8h0M81.0 259.5h0M56.9 321.3h0M132.9 291.2h0M114.1 257.6h0M127.9 272.9h0M57.1 286.5h0M102.4 306.5h0M89.7 316.5h0M78.4 309.3h0M58.7 261.5h0M106.0 318.6h0M105.2 307.7h0M137.5 309.3h0M140.6 319.1h0M137.4 281.9h0M123.4 296.7h0M83.2 310.8h0M111.1 257.4h0M51.8 259.3h0M63.5 313.6h0M51.8 282.5h0M145.7 304.2h0M72.4 263.3h0M102.5 251.5h0M146.8 292.4h0M143.4 322.9h0M118.9 262.1h0M71.2 255.9h0M58.8 266.2h0M116.0 288.9h0M95.5 303.2h0M101.4 270.9h0M98.1 314.0h0M49.9 286.2h0M100.4 316.9h0M121.9 297.3h0M128.7 290.6h0M91.2 323.6h0M110.2 267.0h0M107.6 286.3h0M139.5 281.2h0M53.5 286.0h0M54.6 278.9h0M112.8 273.9h0M126.8 306.1h0M79.9 278.8h0M130.7 279.3h0M133.7 276.9h0M132.6 318.6h0M116.2 263.6h0M62.0 310.4h0M144.1 262.8h0M129.1 316.5h0M61.8 253.8h0M88.9 312.0h0M101.7 264.5h0M56.6 292.2h0M119.0 311.5h0M61.9 285.3h0M56.7 255.6h0M96.3 264.0h0M116.1 297.2h0M112.1 273.0h0M118.5 277.7h0M117.4 271.3h0M56.9 300.9h0" stroke="#c48cc4" stroke-width="1.5" stroke-linecap="round" opacity="0.7"/>
<path d="M120.3 323.6h0M103.8 312.2h0M142.3 316.6h0M143.9 297.3h0M146.4 296.7h0M85.3 275.0h0M123.4 262.8h0M61.2 320.4h0M145.8 318.3h0M140.5 284.0h0M149.5 297.0h0M89.3 269.7h0M68.6 321.2h0M80.8 281.6h0M126.7 294.9h0M128.2 260.5h0M96.7 289.2h0M147.7 298.8h0M67.9 303.2h0M128.3 292.3h0M138.5 288.9h0M142.6 270.9h0M52.0 302.4h0M81.3 312.9h0M69.1 281.8h0M142.1 307.7h0M76.4 252.5h0M145.2 287.7h0M68.4 302.3h0M65.4 255.4h0M136.5 289.6h0M130.2 304.9h0M121.8 253.2h0M139.9 270.6h0M71.7 296.2h0M63.6 296.9h0M147.1 282.2h0M84.2 278.7h0M54.8 265.2h0M112.2 268.0h0M139.4 265.0h0M61.9 275.3h0M128.3 300.7h0M120.9 307.6h0M126.6 250.5h0M129.3 289.7h0M123.7 314.0h0M138.8 299.4h0M107.1 276.5h0M126.4 272.4h0M115.3 313.6h0M92.9 256.4h0M65.0 289.7h0M123.6 276.3h0M53.7 254.1h0M90.5 299.9h0M56.6 283.5h0M82.6 262.2h0M97.3 319.3h0M72.9 256.9h0M114.4 281.6h0M64.8 282.7h0M82.6 258.1h0M76.9 318.8h0M52.0 262.9h0M117.8 300.4h0M98.6 291.0h0M63.9 288.7h0M115.6 257.8h0M112.9 289.8h0M134.7 311.1h0M55.1 291.3h0M125.6 260.0h0M49.6 283.2h0M105.5 285.6h0M116.1 307.0h0M102.8 294.6h0M60.5 263.4h0M141.6 280.6h0M132.3 308.7h0M120.8 289.6h0M125.8 291.4h0M106.1 252.1h0M141.1 306.5h0M118.6 303.7h0M74.6 261.2h0M137.1 262.3h0M107.7 250.9h0M66.8 274.8h0M93.0 258.5h0M69.8 308.7h0M132.5 309.0h0M97.4 290.2h0M66.8 320.0h0M100.1 291.5h0M124.9 292.9h0M109.2 308.6h0M76.5 312.0h0M124.6 252.8h0M115.9 306.4h0M104.3 286.1h0M109.3 274.5h0M59.6 284.5h0M50.6 305.0h0M80.6 271.8h0M142.9 254.8h0M133.6 313.1h0M85.6 275.5h0M111.8 319.0h0M56.1 299.0h0M66.1 276.0h0M130.7 269.1h0M103.5 255.0h0M75.0 289.5h0M76.4 305.6h0M82.1 316.2h0M79.6 291.4h0M89.4 306.9h0M118.5 263.7h0M141.5 286.6h0M113.3 256.9h0M135.3 284.9h0M141.8 282.3h0M80.9 290.2h0M103.6 310.0h0" stroke="#9468b4" stroke-width="2" stroke-linecap="round" opacity="0.7"/>
<path d="M145.9 261.3h0M140.9 275.7h0M115.3 276.1h0M88.5 261.9h0M138.4 310.6h0M145.5 313.3h0M57.0 308.0h0M52.4 252.6h0M117.4 263.8h0M90.9 277.2h0M140.8 297.0h0M111.7 255.8h0M134.5 299.8h0M84.4 313.5h0M48.6 303.8h0M98.5 254.4h0M119.2 287.1h0M82.3 323.4h0M110.3 299.1h0M110.4 273.6h0M83.6 256.3h0M107.0 317.0h0M107.1 270.4h0M131.7 252.3h0M95.6 253.0h0M144.9 300.5h0M112.6 289.1h0M127.3 315.9h0M133.0 258.5h0M57.0 274.1h0M49.7 275.5h0M134.2 322.2h0M88.4 315.1h0M121.8 318.8h0M126.1 307.9h0M117.0 276.2h0M70.4 292.5h0M72.2 297.0h0M84.5 254.8h0M62.1 311.8h0M75.4 272.1h0M89.4 300.8h0M149.2 318.0h0M139.7 322.8h0M61.9 251.0h0M118.8 285.2h0M141.7 250.2h0M126.0 312.4h0M73.1 299.1h0M85.6 289.1h0M80.3 310.5h0M87.6 303.5h0M105.9 260.3h0M68.9 272.5h0M144.6 285.2h0M84.4 297.0h0M102.3 300.8h0M145.3 314.0h0M69.9 281.1h0M98.6 270.0h0M59.6 305.7h0M60.8 313.2h0M96.0 251.0h0M71.5 296.6h0M85.1 269.3h0M86.7 310.2h0M67.6 257.5h0M87.8 261.1h0M101.2 291.5h0M144.4 269.2h0M88.1 281.7h0M120.6 293.4h0M127.6 283.2h0M129.1 297.1h0M88.6 298.2h0M111.6 254.9h0M122.8 309.7h0M58.8 296.9h0M100.0 260.7h0M112.1 258.7h0M55.1 281.2h0M115.6 273.0h0M140.0 280.5h0M63.9 289.4h0M130.0 296.6h0M59.2 304.0h0M74.3 302.1h0M93.6 258.7h0M90.0 287.6h0M128.0 261.6h0M61.7 265.9h0M64.1 277.2h0M114.8 253.3h0M94.6 313.9h0M136.7 267.2h0M69.6 255.6h0M67.3 284.6h0M48.6 269.4h0M115.8 298.5h0M140.9 282.1h0M119.2 253.2h0M109.9 311.2h0M99.8 301.5h0M104.0 276.6h0M61.4 320.7h0M144.7 277.9h0M62.3 293.3h0M76.3 259.1h0M90.6 311.8h0M111.3 288.6h0M123.9 291.2h0M140.5 321.4h0M150.1 272.7h0M130.0 261.6h0M80.3 292.5h0M149.7 308.8h0M134.3 273.2h0M57.6 279.4h0M97.8 287.6h0M118.0 290.0h0M133.5 296.1h0M94.3 253.9h0M80.6 306.4h0M136.4 306.9h0M88.6 309.5h0M117.0 296.0h0M93.5 314.0h0M109.3 272.3h0M90.1 258.6h0M81.1 285.3h0M101.0 306.7h0M82.3 303.7h0M126.7 289.1h0M86.0 290.4h0M53.9 297.6h0M132.6 291.0h0M127.1 267.4h0M146.0 321.8h0M50.5 255.3h0" stroke="#b482c0" stroke-width="2" stroke-linecap="round" opacity="0.7"/>
<path d="M75.1 250.3h0M100.9 265.3h0M62.7 296.2h0M64.8 282.2h0M89.0 253.1h0M123.7 322.8h0M86.7 275.2h0M96.7 267.5h0M113.5 313.9h0M52.5 292.0h0M129.0 269.7h0M85.6 311.8h0M65.1 250.0h0M62.8 264.9h0M83.4 260.6h0M95.5 301.4h0M100.0 270.0h0M87.5 323.4h0M110.4 301.3h0M77.3 275.5h0M94.2 305.5h0M86.7 301.1h0M130.6 271.1h0M79.8 254.3h0M105.4 312.3h0M93.1 288.2h0M90.8 299.9h0M99.7 264.0h0M120.2 256.9h0M143.8 263.2h0M117.7 252.8h0M77.0 256.7h0M108.2 268.0h0M54.2 258.0h0M136.3 291.1h0M95.1 259.0h0M84.0 291.1h0M55.0 306.5h0M150.0 310.9h0M81.0 264.2h0M94.8 302.7h0M137.8 254.3h0M88.2 252.5h0M95.6 304.3h0M73.1 307.8h0M123.1 300.6h0M136.6 253.8h0M68.5 284.2h0M102.5 288.9h0M107.2 280.1h0M63.7 300.1h0M127.6 252.1h0M83.1 264.2h0M127.1 265.0h0M49.0 265.3h0M112.9 305.3h0M59.2 265.6h0M113.7 285.2h0M135.9 321.4h0M116.8 309.6h0M72.7 278.9h0M131.5 298.1h0M72.7 303.2h0M135.9 297.7h0M100.4 319.6h0M59.7 262.1h0M116.5 301.0h0M79.4 274.2h0M131.7 308.9h0M52.2 281.1h0M81.8 313.0h0M119.8 307.5h0M93.1 311.9h0M77.0 305.6h0M61.9 272.8h0M114.9 268.6h0M93.1 287.6h0M144.0 262.8h0M60.1 304.5h0M63.9 279.1h0M89.0 263.0h0M134.4 299.9h0M148.1 310.6h0M130.7 268.5h0M62.1 314.1h0M119.1 251.5h0M127.6 307.2h0M100.4 264.2h0M61.0 255.9h0M98.2 252.7h0M81.5 308.0h0M149.0 279.7h0M90.5 271.3h0M98.2 255.9h0M125.6 272.5h0M62.9 300.8h0M142.2 298.4h0M147.0 281.7h0M66.3 275.1h0M55.3 269.4h0M52.6 312.0h0M137.5 274.0h0M70.9 266.5h0M61.3 283.0h0M71.5 312.2h0M108.2 261.8h0M88.6 266.5h0M55.8 324.0h0M60.8 287.4h0M93.6 258.7h0M74.1 280.7h0M136.6 258.3h0M105.6 295.4h0M140.5 307.3h0M64.6 272.1h0M145.7 321.8h0M133.7 251.8h0M86.7 288.2h0M114.9 295.7h0M141.0 295.3h0M98.7 254.8h0M105.3 297.8h0M102.3 273.5h0M98.2 259.7h0M96.4 261.3h0M149.8 281.9h0M135.4 279.9h0M89.3 303.2h0M97.6 291.8h0M118.7 288.3h0M92.8 304.4h0M56.1 273.7h0M124.1 272.2h0M125.9 267.5h0M90.2 263.1h0M49.7 291.3h0M138.3 280.8h0M149.2 284.3h0M109.4 312.6h0M124.4 277.6h0M104.8 272.7h0" stroke="#bf8ec8" stroke-width="2" stroke-linecap="round" opacity="0.7"/>
<path d="M129.6 279.3h0M94.2 272.5h0M96.0 273.3h0M149.7 262.3h0M148.6 276.5h0M93.0 300.5h0M146.1 269.2h0M70.9 252.9h0M136.0 252.3h0M93.4 277.4h0M82.0 322.8h0M121.9 303.7h0M139.9 259.8h0M81.6 297.9h0M100.6 319.3h0M136.2 268.1h0M150.0 309.7h0M96.6 308.2h0M147.2 270.6h0M70.0 323.6h0M67.4 284.8h0M92.7 263.2h0M108.3 321.7h0M118.7 296.4h0M80.0 289.9h0M110.4 298.7h0M89.7 287.0h0M120.5 288.2h0M86.8 289.4h0M128.6 282.3h0M52.5 314.4h0M67.4 285.6h0M73.7 314.9h0M105.7 305.6h0M101.8 277.9h0M106.5 302.1h0" stroke="#a878c0" stroke-width="2.5" stroke-linecap="round" opacity="0.7"/>
<path d="M110.8 255.2h0M110.7 287.7h0M128.2 316.9h0M50.3 291.3h0M112.4 289.6h0M148.4 312.4h0M112.5 256.3h0M147.4 257.4h0M86.6 259.0h0M106.8 276.9h0M139.7 278.7h0M60.8 268.4h0M67.9 279.0h0M143.1 253.6h0M109.8 280.2h0M87.2 254.6h0M59.4 253.5h0M75.6 261.7h0M101.2 251.5h0M86.2 279.1h0M104.9 321.3h0M60.8 286.8h0M114.3 259.0h0M80.7 323.0h0M88.7 277.1h0M90.2 265.0h0M109.7 296.7h0M60.8 277.8h0M103.2 301.4h0M122.4 274.7h0M121.7 268.8h0M136.7 252.0h0M63.7 304.9h0M54.9 258.2h0M75.7 322.1h0M73.6 278.4h0M84.0 285.9h0M126.8 265.2h0M63.0 293.8h0M140.8 293.8h0M139.1 285.4h0M65.2 263.2h0M115.2 319.9h0M144.6 323.1h0M55.9 291.6h0M138.6 254.2h0M59.8 288.0h0M61.7 314.8h0M135.1 320.0h0M138.6 317.4h0M55.5 255.0h0M119.8 322.1h0M77.6 286.9h0M64.7 301.0h0M149.8 273.7h0M76.4 307.4h0M123.0 265.5h0M90.0 282.6h0M86.7 293.2h0M50.9 304.0h0M106.1 274.3h0M71.6 250.1h0M89.3 263.4h0M116.8 289.7h0M83.8 304.4h0M57.5 295.7h0M74.4 313.2h0M133.6 251.9h0M110.1 284.1h0M83.3 261.5h0M79.3 304.6h0M77.5 251.1h0M141.5 278.9h0M88.2 314.2h0M125.7 266.1h0M71.7 256.7h0M137.3 295.9h0M49.0 259.2h0M94.6 261.2h0M130.3 282.7h0M142.4 260.2h0M70.9 318.3h0M62.6 254.2h0M118.5 309.9h0M146.2 300.2h0M146.0 293.2h0M53.8 270.2h0M62.6 262.4h0M134.8 282.6h0M69.1 260.5h0M133.3 282.0h0M49.7 309.9h0M149.0 306.9h0M48.7 305.4h0M70.6 271.1h0M145.7 317.6h0M72.0 312.1h0M62.1 288.9h0M111.4 290.3h0M95.1 319.3h0" stroke="#9468b4" stroke-width="1" stroke-linecap="round" opacity="0.7"/>
<path d="M63.4 268.8h0M130.5 260.9h0M62.3 259.1h0M99.3 263.3h0M77.9 288.5h0M56.1 287.8h0M143.1 319.2h0M138.5 298.3h0M125.1 309.1h0M89.1 255.0h0M71.5 298.7h0M112.4 300.3h0M126.5 311.1h0M145.9 319.1h0M90.3 261.6h0M107.7 321.6h0M117.1 320.3h0M76.2 287.3h0M129.4 256.5h0M90.1 318.6h0M119.5 304.3h0M78.0 303.0h0M76.8 272.6h0M55.1 250.2h0M108.4 294.4h0M147.1 315.7h0M109.3 254.7h0M53.3 267.9h0M94.7 280.4h0M64.9 320.6h0M104.9 286.7h0M54.5 264.2h0M147.7 312.6h0M82.9 306.8h0M126.9 311.7h0M59.2 310.7h0M120.9 303.0h0M133.9 307.3h0M75.2 304.7h0M104.1 316.0h0M138.1 294.8h0M64.3 298.2h0M97.3 289.5h0M48.7 266.6h0M61.2 301.2h0M52.7 259.8h0M67.9 307.6h0M123.0 258.3h0M130.6 315.1h0M115.2 299.1h0M121.7 288.8h0M139.5 268.5h0M112.9 312.1h0M133.5 321.9h0M122.5 302.1h0M69.0 277.7h0M85.2 317.0h0M76.6 256.3h0M94.0 294.1h0M143.7 263.1h0M82.9 270.1h0M114.4 290.5h0M129.4 263.8h0M131.3 250.3h0M69.3 283.6h0M94.9 265.3h0M75.9 286.3h0M136.3 261.3h0M74.2 261.6h0M81.3 278.3h0M88.4 274.0h0M120.7 316.9h0M81.7 255.8h0M92.3 254.4h0M133.7 262.0h0M146.7 278.8h0M122.7 261.8h0M110.1 301.3h0M121.1 313.7h0M69.4 269.0h0M142.5 291.5h0M101.4 260.8h0M67.3 270.1h0M112.7 295.1h0M126.4 259.8h0M148.3 258.0h0M143.6 323.6h0M63.0 267.7h0M130.1 301.6h0M66.5 306.6h0M85.8 290.5h0M84.1 267.4h0M131.3 289.0h0M142.8 262.9h0M75.2 252.4h0" stroke="#b482c0" stroke-width="1" stroke-linecap="round" opacity="0.7"/>
<path d="M68.2 267.9h0M124.8 299.1h0M99.7 312.3h0M94.2 260.4h0M63.7 312.1h0M138.7 253.2h0M52.0 319.2h0M149.9 283.8h0M118.3 278.4h0M124.2 270.0h0M68.5 258.7h0M75.3 317.8h0M138.0 252.8h0M130.1 306.0h0M96.7 280.6h0M146.8 321.8h0M137.8 263.4h0M81.5 310.0h0M122.8 255.6h0M148.9 251.4h0M105.5 309.3h0M139.2 259.5h0M105.3 319.7h0M81.5 293.8h0M131.8 257.5h0M62.1 316.0h0M91.2 282.7h0M109.1 291.3h0M118.5 263.6h0M55.2 295.1h0M97.8 306.9h0M70.6 268.7h0M84.2 315.5h0M147.2 283.8h0M137.4 309.0h0M65.0 304.8h0M64.6 313.4h0M115.9 294.7h0" stroke="#c48cc4" stroke-width="2.5" stroke-linecap="round" opacity="0.7"/>
<path d="M115.6 317.9h0M68.6 316.3h0M67.0 250.3h0M118.3 309.5h0M96.5 293.8h0M86.4 274.7h0M112.9 320.4h0M60.6 312.7h0M107.7 319.4h0M59.5 259.8h0M67.1 286.9h0M134.3 261.5h0M92.1 292.8h0M113.7 293.5h0M129.7 264.4h0M78.6 286.9h0M79.1 281.5h0M139.1 324.1h0M87.5 290.3h0M56.6 273.6h0M148.7 254.2h0M76.2 265.4h0M48.8 288.8h0M140.4 293.4h0M94.7 281.2h0M142.9 259.5h0M139.6 300.9h0M150.2 280.1h0M133.2 288.1h0M67.5 300.6h0M144.9 296.7h0M68.6 281.8h0M129.5 260.5h0M97.4 277.4h0M98.7 294.6h0M104.9 299.0h0M69.7 315.9h0M51.7 303.4h0M109.1 263.4h0M57.3 260.4h0M133.6 272.6h0M79.2 256.3h0M100.6 305.8h0M100.7 278.1h0M145.1 297.7h0M116.6 306.1h0M112.5 269.4h0M90.4 310.3h0M147.5 305.8h0M57.1 308.2h0M148.5 256.7h0M83.8 274.2h0M81.8 307.5h0M115.9 302.6h0M86.0 288.9h0M108.3 264.8h0M74.6 254.1h0M131.3 296.4h0M113.1 316.2h0M62.5 320.0h0M104.1 284.0h0M88.2 261.4h0M117.5 254.0h0M54.7 278.6h0M129.9 258.4h0M86.5 285.5h0M100.4 278.0h0M141.0 267.4h0M96.1 321.3h0M80.3 291.1h0M144.1 312.2h0M124.2 315.3h0M95.9 312.2h0M58.6 312.6h0M50.7 266.8h0M100.5 282.9h0M79.2 293.7h0M75.6 308.7h0M125.6 253.4h0M60.6 316.2h0M74.6 317.0h0M131.4 261.9h0M94.5 277.0h0M49.9 302.9h0M88.3 291.9h0M112.7 277.7h0M92.1 317.0h0M82.3 317.5h0M112.4 299.0h0M124.5 279.7h0M123.2 301.4h0M138.4 274.6h0M79.4 263.1h0M76.3 288.7h0M140.5 255.7h0M59.1 271.7h0M140.5 260.3h0M132.2 321.3h0M136.5 318.0h0M141.3 321.8h0M103.2 317.3h0M125.4 312.6h0M116.6 275.4h0M73.3 263.6h0M86.9 295.0h0M68.9 260.8h0M49.5 321.8h0M49.9 297.1h0M120.7 273.7h0M129.8 315.6h0M116.2 300.2h0M148.7 261.8h0M140.0 283.8h0M109.1 310.5h0M48.3 281.2h0M80.9 250.7h0M139.7 303.1h0M71.7 273.9h0M142.3 275.8h0M64.1 284.3h0M128.2 300.2h0M74.1 256.8h0M141.1 259.8h0M127.2 284.9h0M136.8 287.7h0M125.3 299.7h0M95.9 252.2h0M77.0 294.4h0M92.8 305.3h0M68.8 253.4h0M121.5 314.1h0" stroke="#c48cc4" stroke-width="2" stroke-linecap="round" opacity="0.7"/>
<path d="M95.5 305.5h0M138.5 262.1h0M80.4 295.3h0M59.2 265.3h0M69.9 259.6h0M106.1 252.9h0M56.8 253.8h0M75.7 297.0h0M84.2 296.9h0M93.4 275.4h0M59.9 251.6h0M70.0 318.1h0M95.2 274.2h0M128.5 252.4h0M94.8 293.7h0M74.3 260.0h0M116.8 265.8h0M75.9 322.7h0M57.4 322.4h0M145.3 296.2h0M50.5 264.4h0M143.1 306.5h0M146.0 253.5h0M135.7 266.7h0M109.7 322.4h0M64.2 307.0h0M71.1 281.2h0M52.0 256.1h0M136.9 299.0h0M129.4 315.7h0M129.8 269.7h0M105.2 312.3h0M101.5 258.2h0M93.4 303.2h0M110.3 276.4h0M124.8 273.6h0M74.7 285.7h0M139.4 288.7h0M80.4 266.1h0M82.8 298.5h0" stroke="#b482c0" stroke-width="2.5" stroke-linecap="round" opacity="0.7"/>
<path d="M91.2 318.5h0M144.2 302.2h0M88.0 274.3h0M53.5 251.4h0M106.2 250.9h0M104.3 303.7h0M112.5 314.4h0M55.2 287.0h0M67.4 266.7h0M83.9 252.8h0M134.5 311.9h0M125.4 261.8h0M101.4 301.4h0M93.5 319.9h0M114.3 281.0h0M79.8 272.4h0M147.3 272.1h0M148.3 272.1h0M117.1 319.4h0M49.9 309.1h0M60.4 281.3h0M110.6 296.0h0M82.1 295.2h0M108.6 306.5h0M138.9 282.7h0M126.8 303.1h0M108.6 314.2h0M140.2 256.3h0M70.9 278.8h0M87.8 282.8h0M58.0 313.9h0M64.0 264.0h0M66.2 298.9h0M92.2 309.7h0M80.0 297.6h0M74.8 321.9h0M124.7 266.5h0M67.8 322.5h0M110.5 280.3h0M58.6 257.1h0M142.1 250.8h0M65.1 278.8h0M67.6 312.0h0M61.0 271.1h0M76.1 265.9h0M105.7 287.9h0M114.4 256.4h0M146.6 298.0h0M107.8 254.6h0M91.2 255.8h0M67.9 263.7h0M61.4 284.8h0M83.3 308.7h0M96.2 317.1h0M104.1 253.1h0M137.1 283.0h0M145.8 300.3h0M148.7 303.7h0M71.9 257.3h0M138.2 259.0h0M114.0 294.9h0M72.6 263.6h0M52.6 283.5h0M130.0 260.1h0M90.2 275.3h0M80.5 321.5h0M94.0 310.1h0M100.5 323.8h0M49.0 293.1h0M75.3 300.3h0M136.5 264.4h0M113.8 300.9h0M136.7 292.3h0M82.1 298.6h0M91.4 323.6h0M48.5 323.3h0M71.7 319.5h0M102.2 296.3h0M83.4 271.3h0M84.5 303.5h0M113.4 263.5h0M63.3 275.7h0M118.2 286.5h0M54.6 300.0h0M135.5 255.1h0M107.6 307.2h0M99.8 279.0h0M94.6 279.5h0M62.9 299.7h0M75.0 266.8h0M110.3 279.6h0M117.8 261.5h0M85.1 288.7h0M129.3 258.7h0M83.2 265.6h0M146.2 308.0h0M84.7 321.4h0M61.6 271.3h0M116.9 306.3h0M117.0 316.1h0M70.1 277.0h0M99.2 288.4h0M119.3 280.9h0M63.6 253.3h0M109.6 258.6h0M88.1 306.7h0M100.6 282.1h0M53.9 324.3h0M68.1 310.6h0M87.2 284.7h0M120.4 277.5h0M77.8 297.0h0M73.1 292.2h0M92.8 261.6h0M130.8 289.4h0M52.4 314.8h0M149.3 305.9h0M101.6 304.1h0M136.2 257.8h0M117.6 266.3h0M90.4 291.6h0" stroke="#c896cc" stroke-width="2" stroke-linecap="round" opacity="0.7"/>
<path d="M81.5 288.7h0M56.9 270.3h0M129.8 263.7h0M116.1 278.4h0M66.1 291.5h0M119.2 303.6h0M120.6 263.7h0M56.3 256.0h0M74.5 305.7h0M91.2 323.7h0M92.5 261.7h0M89.7 315.9h0M106.1 272.7h0M143.7 268.2h0M54.8 260.8h0M89.7 267.7h0M62.4 298.0h0M123.4 254.9h0M145.0 318.0h0M76.9 316.0h0M115.1 268.7h0M123.9 282.7h0M116.3 284.2h0M61.4 251.3h0M74.6 288.3h0M132.8 316.3h0M51.8 297.9h0M110.0 276.0h0M68.3 287.1h0M65.7 289.0h0M91.3 318.1h0M75.9 295.4h0M115.7 288.4h0M111.6 315.1h0M105.2 257.4h0M63.8 318.1h0M89.9 291.5h0M93.1 286.6h0M134.7 266.1h0M85.0 292.4h0M135.7 277.1h0M140.8 264.9h0M97.1 321.4h0M115.7 295.9h0M117.9 307.2h0M64.4 299.2h0M96.9 284.9h0M147.1 261.1h0M128.3 303.6h0M62.2 317.5h0M52.3 274.5h0M148.1 282.4h0M147.6 256.5h0M149.6 324.1h0M74.8 307.7h0M148.1 306.6h0M64.8 299.4h0M114.8 257.9h0M145.0 299.3h0M70.4 321.2h0M61.4 300.0h0M120.5 292.8h0M66.1 255.7h0M135.2 314.1h0M64.9 312.7h0M131.2 254.2h0M57.7 267.3h0M90.9 252.6h0M137.7 289.6h0M136.3 256.5h0M112.1 256.4h0M81.3 298.7h0M74.4 288.0h0M97.8 314.9h0M117.1 282.0h0M72.0 297.3h0M148.2 290.5h0M72.8 295.2h0M119.3 254.2h0M126.5 292.8h0M72.8 285.4h0M60.2 299.8h0M67.8 264.4h0M58.4 276.1h0M93.5 281.3h0M75.3 269.6h0M80.9 318.7h0M50.2 282.5h0M101.8 298.2h0M92.5 257.9h0M111.4 308.2h0M85.9 305.0h0M71.5 266.1h0M127.9 282.7h0M68.7 304.0h0M58.7 274.1h0M82.5 270.7h0M77.3 253.0h0M116.0 283.4h0M102.1 296.5h0" stroke="#a274bc" stroke-width="1" stroke-linecap="round" opacity="0.7"/>
<path d="M75.9 259.7h0M77.3 296.2h0M65.7 280.9h0M81.8 263.8h0M72.2 281.1h0M57.0 287.9h0M51.7 258.3h0M102.5 306.3h0M142.6 257.3h0M76.5 263.5h0M140.4 262.3h0M132.1 271.1h0M101.8 250.2h0M122.8 270.4h0M149.0 270.5h0M122.3 289.9h0M127.3 253.3h0M133.3 265.1h0M141.1 324.5h0M95.7 274.2h0M69.5 277.0h0M147.8 303.8h0M112.1 300.6h0M99.1 271.1h0M117.4 303.2h0M142.4 295.1h0M149.7 287.9h0M129.9 267.8h0M127.8 250.3h0M79.8 313.3h0M96.2 260.5h0M107.1 265.5h0M135.6 302.6h0M120.0 308.3h0M121.8 252.9h0M80.6 289.8h0M114.5 306.4h0M112.0 311.3h0M123.1 261.2h0M49.5 271.4h0M89.0 300.1h0M53.8 287.8h0" stroke="#bf8ec8" stroke-width="2.5" stroke-linecap="round" opacity="0.7"/>
<path d="M119.7 287.7h0M113.8 256.3h0M143.3 317.0h0M143.6 268.6h0M137.0 278.6h0M72.2 290.2h0M95.6 252.8h0M144.7 257.9h0M141.4 310.8h0M68.4 304.3h0M51.7 261.1h0M144.4 269.6h0M134.1 290.0h0M51.8 293.4h0M78.6 270.4h0M71.3 321.9h0M107.7 299.0h0M61.2 257.0h0M118.5 315.4h0M148.2 285.5h0M49.9 250.4h0M125.7 271.9h0M112.3 264.3h0M107.0 289.0h0M104.0 312.6h0M61.3 315.0h0M113.2 253.2h0M126.8 274.1h0M121.5 266.5h0M114.8 268.8h0M58.0 289.6h0M143.8 275.4h0M62.2 264.0h0M133.4 261.7h0M48.8 295.3h0M107.8 277.3h0M80.3 289.8h0M144.7 258.6h0M127.2 275.6h0M108.9 312.4h0M60.4 278.1h0M118.8 307.8h0M112.5 269.7h0M141.4 306.8h0M53.8 285.1h0M58.1 260.7h0M69.8 306.6h0M57.4 265.8h0M55.4 255.1h0M147.1 301.3h0M75.1 253.4h0M85.4 278.9h0M56.7 266.2h0M75.7 320.3h0M117.2 262.0h0M73.6 294.2h0M129.2 273.1h0M121.3 289.5h0M82.7 259.2h0M140.4 285.3h0M63.4 313.7h0M90.9 311.3h0M103.6 318.0h0M83.0 268.6h0M128.1 290.2h0M115.8 274.9h0M87.6 277.7h0M67.8 280.2h0M140.7 299.2h0M136.8 272.8h0M67.3 257.6h0M132.9 292.3h0M139.7 302.3h0M79.6 268.8h0M97.7 260.9h0M82.5 282.4h0M61.3 260.1h0M109.1 299.9h0M51.3 284.3h0M49.7 273.9h0M144.6 297.2h0M87.9 307.4h0M107.6 264.0h0M52.8 259.4h0M101.3 320.4h0M121.7 274.7h0M128.7 302.1h0M115.4 292.7h0M146.7 287.8h0M56.9 264.6h0M120.2 291.2h0M138.1 263.0h0M146.9 315.6h0M112.6 273.3h0M94.9 324.5h0M107.4 309.0h0M61.7 251.5h0M125.0 265.6h0M129.9 319.1h0M122.0 288.0h0M57.1 279.9h0M84.1 252.9h0M128.8 291.6h0M147.6 281.5h0M103.7 305.2h0M76.5 312.0h0M133.8 296.3h0M125.9 290.5h0M136.6 263.7h0M101.2 286.9h0M68.2 279.4h0M101.1 318.4h0M126.8 257.9h0M63.0 310.2h0M90.2 268.4h0M56.2 322.5h0M124.0 284.1h0M98.4 283.8h0M70.2 250.6h0M125.3 279.2h0M80.7 272.4h0M147.9 281.4h0M97.0 291.9h0M97.1 293.6h0M127.5 278.4h0M123.7 272.4h0M149.8 270.9h0M87.6 323.7h0M99.3 304.6h0M140.7 250.7h0M59.0 313.1h0M67.4 298.2h0M99.1 316.6h0M145.6 306.1h0M52.3 298.6h0M60.2 299.2h0M57.9 318.5h0M50.9 301.6h0M140.3 273.4h0M86.1 284.2h0M95.9 308.8h0M97.2 281.9h0M113.4 253.0h0M121.3 265.7h0M117.6 263.2h0M114.4 272.7h0M55.2 266.5h0M91.8 264.2h0M111.6 315.9h0M143.2 253.8h0M97.8 266.3h0M116.0 263.4h0" stroke="#a878c0" stroke-width="2" stroke-linecap="round" opacity="0.7"/>
<path d="M142.9 316.8h0M147.3 324.2h0M140.0 293.8h0M111.5 310.5h0M58.7 311.9h0M142.5 293.6h0M123.4 262.2h0M55.7 286.5h0M130.3 306.0h0M130.9 306.6h0M108.2 311.9h0M81.2 285.8h0M123.4 319.9h0M130.7 271.8h0M76.6 287.5h0M76.2 323.2h0M89.0 316.2h0M82.3 265.4h0M134.7 314.1h0M141.1 255.2h0M93.2 320.2h0M63.2 269.4h0M59.6 281.1h0M52.1 321.3h0M83.5 250.8h0M101.9 289.2h0M133.8 276.8h0M82.9 252.7h0M57.9 261.3h0M146.0 263.5h0M106.7 276.3h0M137.8 255.5h0M75.8 253.5h0M77.1 257.9h0M118.8 304.3h0M138.6 292.1h0M96.6 257.4h0M57.1 304.9h0M90.0 285.0h0M92.3 267.1h0M148.2 292.0h0" stroke="#c896cc" stroke-width="2.5" stroke-linecap="round" opacity="0.7"/>
<circle cx="75.7" cy="263.8" r="5.2" fill="#8d60b4" opacity="0.45"/>
<circle cx="75.7" cy="263.8" r="2.34" fill="#c4a6d2" opacity="0.6"/>
<circle cx="58.5" cy="287.6" r="5.5" fill="#8d60b4" opacity="0.45"/>
<circle cx="58.5" cy="287.6" r="2.48" fill="#c4a6d2" opacity="0.6"/>
<circle cx="60.5" cy="299.5" r="5" fill="#8d60b4" opacity="0.45"/>
<circle cx="60.5" cy="299.5" r="2.25" fill="#c4a6d2" opacity="0.6"/>
<circle cx="128.4" cy="278.4" r="5.5" fill="#8d60b4" opacity="0.45"/>
<circle cx="128.4" cy="278.4" r="2.48" fill="#c4a6d2" opacity="0.6"/>
<circle cx="112.5" cy="290.2" r="6" fill="#8d60b4" opacity="0.45"/>
<circle cx="112.5" cy="290.2" r="2.7" fill="#c4a6d2" opacity="0.6"/>
<circle cx="90.9" cy="319.3" r="5" fill="#8d60b4" opacity="0.45"/>
<circle cx="90.9" cy="319.3" r="2.25" fill="#c4a6d2" opacity="0.6"/>
<circle cx="140.5" cy="290" r="4" fill="#8d60b4" opacity="0.45"/>
<circle cx="140.5" cy="290" r="1.8" fill="#c4a6d2" opacity="0.6"/>
<circle cx="68" cy="311" r="3.5" fill="#8d60b4" opacity="0.45"/>
<circle cx="68" cy="311" r="1.57" fill="#c4a6d2" opacity="0.6"/>
<circle cx="121" cy="305" r="3.5" fill="#8d60b4" opacity="0.45"/>
<circle cx="121" cy="305" r="1.57" fill="#c4a6d2" opacity="0.6"/>
<circle cx="100" cy="262" r="3" fill="#8d60b4" opacity="0.45"/>
<circle cx="100" cy="262" r="1.35" fill="#c4a6d2" opacity="0.6"/>
<ellipse cx="67.5" cy="274.5" rx="6" ry="7.8" fill="#e2dce9"/>
<path d="M68.9 272.2h0M69.5 271.4h0M72.7 275.6h0M64.8 279.3h0" stroke="#c8b4d8" stroke-width="0.5" stroke-linecap="round" opacity="0.7"/>
<path d="M61.6 268.6h0M72.9 272.7h0M72.5 279.1h0M64.4 280.3h0M70.8 269.7h0M71.2 270.3h0M67.6 273.0h0M62.5 278.3h0M70.5 271.8h0" stroke="#d4c4e0" stroke-width="1" stroke-linecap="round" opacity="0.7"/>
<path d="M66.2 281.5h0M67.6 274.5h0M72.7 282.2h0M67.5 278.3h0M67.4 274.7h0M63.1 280.4h0M64.8 269.6h0M67.7 268.7h0M71.2 281.8h0" stroke="#c8b4d8" stroke-width="1" stroke-linecap="round" opacity="0.7"/>
<path d="M62.3 276.8h0" stroke="#d4c4e0" stroke-width="0.5" stroke-linecap="round" opacity="0.7"/>
<ellipse cx="143" cy="275.5" rx="5.3" ry="7.2" fill="#e2dce9"/>
<path d="M142.2 280.0h0M142.4 282.5h0M145.0 275.6h0M147.2 281.5h0M144.0 271.9h0M141.5 281.3h0M139.0 274.3h0M143.9 275.0h0M140.4 274.0h0M145.3 274.9h0" stroke="#c8b4d8" stroke-width="1" stroke-linecap="round" opacity="0.7"/>
<path d="M145.8 277.2h0M140.9 279.8h0M147.7 279.1h0M141.9 269.1h0M140.6 279.0h0M145.8 274.3h0M141.0 269.8h0M144.8 275.0h0" stroke="#d4c4e0" stroke-width="1" stroke-linecap="round" opacity="0.7"/>
<path d="M144.6 282.7h0" stroke="#c8b4d8" stroke-width="0.5" stroke-linecap="round" opacity="0.7"/>
<ellipse cx="123.1" cy="270.4" rx="2.2" ry="3" fill="#e2dce9"/>
<ellipse cx="131" cy="294" rx="5.5" ry="4.2" fill="#e2dce9"/>
<path d="M136.4 290.7h0" stroke="#d4c4e0" stroke-width="0.5" stroke-linecap="round" opacity="0.7"/>
<path d="M128.4 290.5h0M129.7 290.5h0M129.5 294.3h0M132.9 297.8h0M129.9 293.6h0M130.7 295.0h0M129.5 293.7h0" stroke="#c8b4d8" stroke-width="1" stroke-linecap="round" opacity="0.7"/>
<path d="M134.4 291.0h0M128.7 291.2h0" stroke="#c8b4d8" stroke-width="0.5" stroke-linecap="round" opacity="0.7"/>
<path d="M128.0 295.8h0" stroke="#d4c4e0" stroke-width="1" stroke-linecap="round" opacity="0.7"/>
<ellipse cx="135.5" cy="299.5" rx="2.5" ry="2" fill="#e2dce9"/>
<ellipse cx="71.7" cy="297.5" rx="3.2" ry="3" fill="#e2dce9"/>
<path d="M73.6 299.7h0" stroke="#d4c4e0" stroke-width="0.5" stroke-linecap="round" opacity="0.7"/>
<path d="M71.4 295.3h0M74.8 300.0h0M70.7 296.5h0" stroke="#c8b4d8" stroke-width="1" stroke-linecap="round" opacity="0.7"/>
<ellipse cx="83" cy="253.9" rx="2.2" ry="2.2" fill="#e2dce9"/>
<ellipse cx="91.5" cy="253.9" rx="1.8" ry="1.8" fill="#e2dce9"/>
<ellipse cx="137.6" cy="286" rx="2" ry="2" fill="#e2dce9"/>
<ellipse cx="117.8" cy="308.7" rx="2.2" ry="2.2" fill="#e2dce9"/>
<ellipse cx="67.8" cy="308.7" rx="1.8" ry="1.8" fill="#e2dce9"/>
<ellipse cx="88" cy="287" rx="0.9" ry="2.5" fill="#e2dce9"/>
<ellipse cx="96" cy="286" rx="1" ry="1.8" fill="#e2dce9"/>
<ellipse cx="125" cy="285" rx="1.4" ry="1.4" fill="#e2dce9"/>
<path d="M89.4 274.2h0M130.2 318.3h0M132.2 302.1h0M73.1 266.2h0M81.7 281.6h0M61.6 290.6h0M114.5 305.3h0M106.7 278.1h0M67.1 262.4h0M141.6 292.1h0M53.5 295.8h0" stroke="#eee8f2" stroke-width="0.5" stroke-linecap="round" opacity="0.8"/>
<path d="M133.1 288.3h0M66.0 262.8h0M81.2 274.1h0M127.9 298.8h0M53.9 296.3h0M133.6 264.6h0M99.3 297.8h0M61.2 260.1h0M124.9 309.6h0M131.7 260.6h0M84.6 307.2h0M90.5 290.9h0M68.0 314.1h0M116.5 281.8h0M77.0 289.0h0M64.3 257.7h0M87.0 313.0h0M130.6 306.5h0M99.7 296.0h0M61.0 287.4h0M140.5 267.4h0M127.4 284.0h0M122.1 288.7h0M121.9 296.0h0M107.3 282.8h0M104.4 262.5h0M106.4 302.2h0M133.5 313.7h0M123.3 276.2h0M97.3 280.8h0M132.7 273.3h0M119.8 301.4h0M57.9 316.3h0M119.0 281.4h0M113.5 263.3h0M70.9 278.5h0M74.8 287.1h0M98.3 287.4h0M117.2 266.7h0M91.9 281.2h0M118.1 294.4h0M129.9 305.7h0M94.7 264.9h0M110.2 281.2h0M86.7 274.0h0M119.2 272.6h0M111.6 299.4h0M71.4 314.0h0M128.9 275.6h0M136.2 259.9h0M66.3 289.2h0M94.7 255.0h0" stroke="#eee8f2" stroke-width="1" stroke-linecap="round" opacity="0.8"/>
<path d="M123.4 278.8h0M114.3 318.9h0M133.5 259.1h0M108.4 312.0h0M88.3 268.0h0M105.3 313.9h0M71.6 293.4h0M97.5 313.5h0M130.7 276.4h0M96.3 263.2h0M143.4 290.0h0" stroke="#e2d6ea" stroke-width="0.5" stroke-linecap="round" opacity="0.8"/>
<path d="M83.6 308.6h0M73.8 270.8h0M88.7 298.0h0M113.6 273.5h0M72.4 282.4h0M70.6 283.7h0M142.7 258.6h0M138.7 258.5h0M108.8 260.7h0M125.9 302.5h0M85.3 298.4h0M122.7 258.4h0M95.5 295.7h0M59.5 311.0h0M99.3 262.0h0M63.0 277.4h0M61.6 258.8h0M99.8 304.2h0M76.4 312.4h0M142.4 270.7h0M57.2 274.6h0M59.5 298.7h0M104.0 305.0h0M137.3 303.0h0M108.9 264.0h0M56.0 313.1h0M135.1 293.6h0M108.9 261.8h0M105.5 319.0h0M78.0 312.8h0M73.5 268.2h0M60.5 268.8h0M80.8 286.3h0M110.3 290.5h0M95.4 283.5h0M95.0 288.7h0M64.6 316.8h0M79.4 291.9h0M92.9 265.7h0M123.1 280.2h0M91.7 279.7h0" stroke="#e2d6ea" stroke-width="1" stroke-linecap="round" opacity="0.8"/>
<path d="M55.0 274.8h0M66.0 273.9h0M129.0 282.9h0M64.8 283.9h0M119.6 269.6h0M65.2 283.0h0M102.4 313.4h0M98.3 280.5h0M110.2 278.4h0M104.0 295.0h0M138.6 255.0h0M65.3 268.0h0M64.8 292.6h0M85.7 297.7h0M72.7 316.6h0M58.5 318.9h0M135.0 259.6h0M72.8 283.6h0M57.4 273.3h0M128.7 274.5h0M76.6 280.8h0M133.0 315.1h0M137.6 312.1h0M94.0 255.2h0M118.8 263.7h0M98.7 256.4h0M131.2 306.3h0M93.8 259.6h0M126.2 262.5h0M72.0 280.5h0" stroke="#e2d6ea" stroke-width="1.5" stroke-linecap="round" opacity="0.8"/>
<path d="M127.1 311.0h0M98.9 275.0h0M69.3 270.0h0M123.7 261.6h0M114.3 265.5h0M61.2 264.1h0M108.0 274.0h0M106.3 292.2h0M141.2 260.2h0M143.4 313.5h0M80.2 289.9h0M98.3 256.0h0M117.7 271.4h0M108.7 287.1h0M118.0 264.1h0M141.0 302.7h0M71.5 298.3h0M110.0 258.9h0M136.7 294.6h0M72.7 283.5h0M105.4 288.0h0M120.0 268.2h0M131.2 273.5h0M80.9 297.9h0M117.5 309.2h0M85.4 259.6h0M122.0 272.3h0M76.6 269.8h0M82.4 273.1h0M76.8 301.7h0M136.9 292.2h0M109.9 292.5h0M66.2 262.6h0M83.1 294.0h0M135.8 255.6h0M58.9 257.5h0M69.7 294.9h0M117.6 280.3h0M97.5 282.4h0M96.4 266.7h0M78.3 270.1h0M118.6 316.8h0M85.4 274.2h0M93.3 281.7h0M66.4 271.1h0" stroke="#eee8f2" stroke-width="1.5" stroke-linecap="round" opacity="0.8"/>
</g>
<rect x="41.6" y="244.2" width="112.4" height="83.8" fill="none" stroke="#3a3a3a" stroke-width="0.9"/>
<rect x="159" y="244.2" width="112.8" height="83.8" fill="#d6dadc" stroke="none" stroke-width="0"/>
<clipPath id="he2"><path d="M171.6,275.7 C172.15,274.6 173.57,274.08 174.5,273.1 C175.43,272.12 176.42,271.13 177.2,269.8 C177.98,268.47 178.77,266.75 179.2,265.1 C179.63,263.45 179.37,261.55 179.8,259.9 C180.23,258.25 180.7,256.53 181.8,255.2 C182.9,253.87 184.53,252.67 186.4,251.9 C188.27,251.13 190.8,250.87 193,250.6 C195.2,250.33 197.4,250.3 199.6,250.3 C201.8,250.3 204.13,250.4 206.2,250.6 C208.27,250.8 209.93,251.17 212,251.5 C214.07,251.83 216.4,251.87 218.6,252.6 C220.8,253.33 223,254.68 225.2,255.9 C227.4,257.12 229.6,258.8 231.8,259.9 C234,261 236.42,261.52 238.4,262.5 C240.38,263.48 241.93,264.58 243.7,265.8 C245.47,267.02 247.68,268.37 249,269.8 C250.32,271.23 250.83,272.75 251.6,274.4 C252.37,276.05 253.05,277.72 253.6,279.7 C254.15,281.68 254.45,284.1 254.9,286.3 C255.35,288.5 256.07,290.7 256.3,292.9 C256.53,295.1 256.53,297.3 256.3,299.5 C256.07,301.7 255.68,303.9 254.9,306.1 C254.12,308.3 253.02,310.72 251.6,312.7 C250.18,314.68 248.6,316.45 246.4,318 C244.2,319.55 240.83,321.02 238.4,322 C235.97,322.98 234,323.68 231.8,323.9 C229.6,324.12 227.4,323.62 225.2,323.3 C223,322.98 220.8,322.45 218.6,322 C216.4,321.55 213.4,321.27 212,320.6 C210.6,319.93 211.38,318.88 210.2,318 C209.02,317.12 206.67,316.18 204.9,315.3 C203.13,314.42 201.13,313.57 199.6,312.7 C198.07,311.83 197.02,311.2 195.7,310.1 C194.38,309 193.03,307.43 191.7,306.1 C190.37,304.77 189.02,303.65 187.7,302.1 C186.38,300.55 185.12,298.55 183.8,296.8 C182.48,295.05 181.12,293.13 179.8,291.6 C178.48,290.07 177.22,288.93 175.9,287.6 C174.58,286.27 172.68,284.92 171.9,283.6 C171.12,282.28 171.25,281.02 171.2,279.7 C171.15,278.38 171.05,276.8 171.6,275.7Z"/></clipPath>
<path d="M171.6,275.7 C172.15,274.6 173.57,274.08 174.5,273.1 C175.43,272.12 176.42,271.13 177.2,269.8 C177.98,268.47 178.77,266.75 179.2,265.1 C179.63,263.45 179.37,261.55 179.8,259.9 C180.23,258.25 180.7,256.53 181.8,255.2 C182.9,253.87 184.53,252.67 186.4,251.9 C188.27,251.13 190.8,250.87 193,250.6 C195.2,250.33 197.4,250.3 199.6,250.3 C201.8,250.3 204.13,250.4 206.2,250.6 C208.27,250.8 209.93,251.17 212,251.5 C214.07,251.83 216.4,251.87 218.6,252.6 C220.8,253.33 223,254.68 225.2,255.9 C227.4,257.12 229.6,258.8 231.8,259.9 C234,261 236.42,261.52 238.4,262.5 C240.38,263.48 241.93,264.58 243.7,265.8 C245.47,267.02 247.68,268.37 249,269.8 C250.32,271.23 250.83,272.75 251.6,274.4 C252.37,276.05 253.05,277.72 253.6,279.7 C254.15,281.68 254.45,284.1 254.9,286.3 C255.35,288.5 256.07,290.7 256.3,292.9 C256.53,295.1 256.53,297.3 256.3,299.5 C256.07,301.7 255.68,303.9 254.9,306.1 C254.12,308.3 253.02,310.72 251.6,312.7 C250.18,314.68 248.6,316.45 246.4,318 C244.2,319.55 240.83,321.02 238.4,322 C235.97,322.98 234,323.68 231.8,323.9 C229.6,324.12 227.4,323.62 225.2,323.3 C223,322.98 220.8,322.45 218.6,322 C216.4,321.55 213.4,321.27 212,320.6 C210.6,319.93 211.38,318.88 210.2,318 C209.02,317.12 206.67,316.18 204.9,315.3 C203.13,314.42 201.13,313.57 199.6,312.7 C198.07,311.83 197.02,311.2 195.7,310.1 C194.38,309 193.03,307.43 191.7,306.1 C190.37,304.77 189.02,303.65 187.7,302.1 C186.38,300.55 185.12,298.55 183.8,296.8 C182.48,295.05 181.12,293.13 179.8,291.6 C178.48,290.07 177.22,288.93 175.9,287.6 C174.58,286.27 172.68,284.92 171.9,283.6 C171.12,282.28 171.25,281.02 171.2,279.7 C171.15,278.38 171.05,276.8 171.6,275.7Z" fill="#ae84c2" stroke="none" stroke-width="0"/>
<g clip-path="url(#he2)">
<path d="M171.6,275.7 C172.15,274.6 173.57,274.08 174.5,273.1 C175.43,272.12 176.42,271.13 177.2,269.8 C177.98,268.47 178.77,266.75 179.2,265.1 C179.63,263.45 179.37,261.55 179.8,259.9 C180.23,258.25 180.7,256.53 181.8,255.2 C182.9,253.87 184.53,252.67 186.4,251.9 C188.27,251.13 190.8,250.87 193,250.6 C195.2,250.33 197.4,250.3 199.6,250.3 C201.8,250.3 204.13,250.4 206.2,250.6 C208.27,250.8 209.93,251.17 212,251.5 C214.07,251.83 216.4,251.87 218.6,252.6 C220.8,253.33 223,254.68 225.2,255.9 C227.4,257.12 229.6,258.8 231.8,259.9 C234,261 236.42,261.52 238.4,262.5 C240.38,263.48 241.93,264.58 243.7,265.8 C245.47,267.02 247.68,268.37 249,269.8 C250.32,271.23 250.83,272.75 251.6,274.4 C252.37,276.05 253.05,277.72 253.6,279.7 C254.15,281.68 254.45,284.1 254.9,286.3 C255.35,288.5 256.07,290.7 256.3,292.9 C256.53,295.1 256.53,297.3 256.3,299.5 C256.07,301.7 255.68,303.9 254.9,306.1 C254.12,308.3 253.02,310.72 251.6,312.7 C250.18,314.68 248.6,316.45 246.4,318 C244.2,319.55 240.83,321.02 238.4,322 C235.97,322.98 234,323.68 231.8,323.9 C229.6,324.12 227.4,323.62 225.2,323.3 C223,322.98 220.8,322.45 218.6,322 C216.4,321.55 213.4,321.27 212,320.6 C210.6,319.93 211.38,318.88 210.2,318 C209.02,317.12 206.67,316.18 204.9,315.3 C203.13,314.42 201.13,313.57 199.6,312.7 C198.07,311.83 197.02,311.2 195.7,310.1 C194.38,309 193.03,307.43 191.7,306.1 C190.37,304.77 189.02,303.65 187.7,302.1 C186.38,300.55 185.12,298.55 183.8,296.8 C182.48,295.05 181.12,293.13 179.8,291.6 C178.48,290.07 177.22,288.93 175.9,287.6 C174.58,286.27 172.68,284.92 171.9,283.6 C171.12,282.28 171.25,281.02 171.2,279.7 C171.15,278.38 171.05,276.8 171.6,275.7Z" fill="none" stroke="#9468b8" stroke-width="8" opacity="0.32"/>
<ellipse cx="216.75" cy="291.1" rx="22.13" ry="22.08" fill="#c48ec6" opacity="0.5"/>
<path d="M192.3 323.7h0M187.0 285.9h0M191.0 288.0h0M220.8 294.0h0M252.1 263.2h0M175.5 302.0h0M229.5 321.7h0M249.9 253.9h0M231.8 279.7h0M190.0 316.2h0M196.6 289.1h0M253.0 285.5h0M250.7 315.9h0M181.2 284.9h0M213.7 306.6h0M217.0 307.3h0M237.4 257.0h0M251.8 323.5h0M214.0 264.2h0M180.7 260.6h0M175.4 284.8h0M193.8 250.8h0M216.7 273.7h0M199.4 312.6h0M199.1 280.1h0M231.4 280.8h0M199.2 266.6h0M229.6 268.4h0M190.2 319.8h0M253.5 257.0h0M193.8 294.7h0M202.2 311.7h0M208.5 296.9h0M173.9 252.0h0M175.3 307.8h0M240.7 254.9h0M172.0 292.4h0M173.0 321.3h0M179.9 303.8h0M184.8 313.7h0M173.4 298.2h0M190.1 269.4h0M171.3 323.0h0M200.2 296.9h0M252.0 256.5h0M207.9 257.7h0M207.7 317.2h0M208.7 311.8h0M177.0 279.6h0M179.3 304.3h0M216.9 250.7h0M188.0 265.9h0M252.5 317.4h0M187.9 261.9h0M218.8 306.3h0M238.6 297.5h0M245.5 310.8h0M254.2 268.1h0M231.8 318.8h0M207.7 255.3h0M247.3 314.4h0M237.2 316.1h0M198.8 323.6h0M197.9 273.4h0M182.7 321.8h0M219.2 292.7h0M223.0 258.6h0M242.5 271.3h0M197.6 257.1h0M215.4 305.4h0M216.9 271.0h0M197.4 316.5h0M177.7 322.1h0M195.6 266.6h0M179.1 290.1h0M221.9 276.1h0M219.8 269.6h0M215.2 283.7h0M212.4 299.8h0M229.2 308.9h0M247.1 266.7h0M196.3 320.7h0M223.0 279.5h0M224.9 323.6h0M195.6 267.0h0M183.5 281.7h0M177.0 305.8h0M233.8 304.1h0M192.7 307.3h0M186.8 311.3h0M233.9 259.3h0M218.4 291.3h0M207.1 250.9h0M245.9 258.1h0M253.9 322.1h0M184.9 259.2h0M226.2 263.0h0M191.2 304.1h0M203.5 302.0h0M179.6 270.3h0M230.9 283.4h0M250.3 259.4h0M202.5 284.6h0M176.1 308.2h0M211.9 277.5h0M238.8 313.5h0M251.6 257.9h0M250.4 276.7h0M173.1 311.6h0" stroke="#c48cc4" stroke-width="1.5" stroke-linecap="round" opacity="0.7"/>
<path d="M253.3 301.2h0M252.7 290.4h0M185.6 254.1h0M246.9 295.5h0M251.0 253.0h0M212.4 290.2h0M185.3 274.7h0M222.5 301.0h0M228.5 277.6h0M190.6 323.8h0M239.5 321.0h0M256.1 269.2h0M252.1 259.5h0M247.3 252.2h0M250.0 264.0h0M190.4 299.5h0M195.6 252.2h0M251.6 317.7h0M175.5 283.7h0M238.9 257.8h0M253.1 257.1h0M245.3 252.3h0M249.8 276.9h0M248.6 319.6h0M176.5 274.4h0M172.0 288.1h0M187.3 310.2h0M246.6 313.5h0M233.1 270.2h0M200.7 279.3h0M213.5 265.7h0M209.7 281.9h0M242.0 311.4h0M232.6 251.5h0M224.3 284.5h0M256.2 285.2h0M184.8 278.3h0M240.2 264.3h0M213.8 278.6h0M199.9 308.4h0M202.3 315.8h0M185.3 308.5h0M199.8 319.0h0M227.1 275.3h0M224.3 291.4h0M228.8 266.8h0M226.0 287.0h0M246.1 253.7h0M173.4 292.4h0M241.5 253.7h0M181.4 314.8h0M191.3 322.8h0M190.2 286.4h0M171.7 265.1h0M208.6 311.8h0M199.0 316.0h0M216.5 289.5h0M245.3 291.0h0M209.6 276.1h0M178.1 298.0h0M250.1 315.8h0M174.2 264.9h0M177.0 270.1h0M229.2 265.9h0M249.9 296.0h0M190.1 318.5h0M174.9 290.3h0M208.8 258.9h0M212.4 290.3h0M182.9 263.8h0M245.0 293.6h0M177.5 301.9h0M184.3 265.8h0M185.7 301.6h0M188.0 272.1h0M194.2 279.8h0M194.3 282.7h0M188.2 268.2h0M182.8 280.4h0M251.3 291.3h0M204.7 269.4h0M244.9 301.8h0M231.6 272.5h0M237.1 298.6h0M181.5 287.1h0M202.8 315.7h0M178.1 251.8h0M203.4 265.5h0M184.5 272.9h0M252.5 304.1h0M200.2 261.2h0M227.5 305.2h0M181.5 294.9h0M217.7 297.0h0M174.5 313.9h0M211.1 266.4h0M202.8 260.0h0M203.5 268.2h0M195.1 306.4h0M189.7 301.8h0M218.2 281.9h0M191.9 320.8h0M190.5 258.1h0M174.8 284.3h0M188.6 288.9h0M249.2 286.7h0M236.0 286.3h0M197.7 303.9h0M204.6 290.1h0M175.1 282.5h0M186.7 292.4h0M239.8 276.2h0M175.4 307.7h0M183.2 296.3h0M183.6 284.6h0" stroke="#bf8ec8" stroke-width="1.5" stroke-linecap="round" opacity="0.7"/>
<path d="M190.4 281.0h0M186.3 262.9h0M252.7 267.8h0M249.2 292.3h0M228.0 299.9h0M252.7 290.3h0M188.0 312.6h0M231.7 288.2h0M223.9 284.6h0M251.4 302.0h0M247.8 251.8h0M218.7 297.3h0M207.4 292.2h0M227.0 283.1h0M246.3 274.9h0M213.9 287.7h0M187.7 291.0h0M192.1 254.2h0M228.7 287.4h0M220.9 281.6h0M188.0 262.5h0M247.5 285.3h0M172.6 259.0h0M231.6 300.9h0M234.4 280.3h0M241.0 308.7h0M247.8 312.8h0M203.5 300.9h0M181.5 293.3h0M199.2 260.9h0M227.5 272.8h0M228.1 277.2h0M226.9 267.9h0M237.5 269.3h0M178.2 282.0h0M254.0 297.5h0M229.5 263.5h0M206.7 266.9h0M232.2 294.7h0M245.0 290.6h0M186.8 299.8h0M215.4 290.5h0M224.6 312.5h0M198.6 263.6h0M173.4 273.2h0M246.3 307.2h0M206.7 294.0h0M240.7 262.6h0M209.4 322.3h0M175.7 306.1h0M250.2 296.8h0M190.5 269.9h0M196.1 256.4h0M254.7 315.4h0M176.2 277.0h0M184.4 304.3h0M191.3 313.5h0M191.1 288.4h0M197.9 263.3h0M213.6 303.8h0M201.0 283.8h0M187.8 279.2h0M249.7 305.2h0M237.0 307.2h0M172.6 264.6h0M195.1 293.3h0M205.3 310.9h0M179.7 304.0h0M203.3 277.5h0M184.1 299.9h0M204.4 271.1h0M189.8 306.7h0M187.7 263.8h0M225.2 253.4h0M201.5 261.3h0M199.7 256.4h0M187.5 275.2h0M219.6 274.2h0M186.3 252.4h0M230.9 303.3h0M246.0 288.8h0M198.5 251.8h0M245.7 278.8h0M210.3 321.1h0M172.1 282.7h0M212.5 259.9h0M202.1 285.5h0M255.4 280.3h0M192.3 255.2h0M199.5 288.2h0M202.9 292.3h0M221.1 282.0h0M242.8 321.4h0M236.3 251.1h0M221.5 284.2h0M212.7 320.3h0M223.3 256.8h0M196.4 285.6h0M188.7 301.4h0M225.4 313.6h0M223.6 322.9h0M217.1 323.6h0M222.9 278.7h0M251.5 320.9h0M191.9 271.6h0M177.7 296.9h0M201.7 300.8h0" stroke="#bf8ec8" stroke-width="2" stroke-linecap="round" opacity="0.7"/>
<path d="M184.4 285.5h0M220.9 270.3h0M251.2 276.2h0M211.0 279.5h0M195.8 300.8h0M210.3 251.4h0M172.9 262.6h0M233.0 277.1h0M222.1 308.5h0M173.0 296.7h0M227.6 279.7h0M182.7 322.2h0M254.5 291.2h0M211.3 266.3h0M183.6 288.0h0M220.6 273.5h0M204.6 321.7h0M214.3 277.3h0M237.5 267.9h0M241.0 266.2h0M218.8 294.9h0M203.1 297.8h0M214.5 312.9h0M240.1 304.1h0M222.5 300.2h0M176.9 259.8h0M239.1 312.2h0M195.1 265.1h0M253.3 282.8h0M255.5 303.5h0M192.3 322.4h0M247.6 320.8h0M207.7 284.8h0M187.6 314.1h0M180.9 303.3h0M175.5 323.0h0M175.7 290.0h0M192.1 264.0h0M191.3 309.0h0M235.4 308.9h0M215.9 286.4h0M189.5 289.4h0M213.0 282.7h0M240.0 281.8h0M200.2 260.8h0M224.5 292.2h0M226.2 293.3h0M201.9 320.2h0M251.8 291.1h0M201.2 287.7h0M188.5 270.5h0M240.1 264.3h0M230.6 268.8h0M221.6 296.4h0M240.7 266.5h0M224.9 261.4h0M243.2 290.8h0M193.8 284.9h0M177.3 306.5h0M184.0 309.7h0M193.6 262.9h0M249.0 257.4h0M246.1 293.7h0M202.2 273.3h0M240.4 263.2h0M187.3 276.1h0M239.2 290.2h0M238.3 300.5h0M246.0 259.8h0M186.8 278.8h0M185.9 280.8h0M246.0 283.7h0M198.1 301.1h0M222.6 268.2h0M218.1 255.7h0M241.6 283.6h0M194.9 278.9h0M221.8 311.9h0M171.3 321.9h0M203.4 257.0h0M228.7 307.6h0M254.6 322.1h0M177.9 261.2h0M182.3 277.6h0M195.4 292.4h0M195.8 279.7h0M250.8 260.9h0M203.2 322.9h0M209.9 279.2h0M227.1 288.4h0M175.7 306.1h0M229.4 309.7h0M183.9 250.4h0M200.3 255.6h0M249.9 301.4h0M225.1 278.3h0M253.1 306.8h0M195.6 294.7h0M236.7 294.6h0M251.5 302.1h0M219.3 309.7h0M240.1 321.6h0M244.9 290.0h0M199.7 268.4h0M209.7 315.2h0M226.5 291.4h0M217.3 293.5h0M245.8 265.7h0M174.3 295.6h0M203.9 283.3h0M228.1 322.9h0M193.6 283.8h0M196.5 279.7h0M247.8 283.1h0M186.5 302.9h0M229.1 291.4h0" stroke="#a878c0" stroke-width="1.5" stroke-linecap="round" opacity="0.7"/>
<path d="M189.3 269.2h0M214.6 301.3h0M188.8 289.8h0M206.2 264.2h0M217.4 264.6h0M206.3 322.3h0M225.1 322.4h0M232.6 262.7h0M229.3 254.7h0M251.6 306.8h0M175.1 272.3h0M220.7 305.8h0M236.7 319.8h0M210.8 302.7h0M200.1 285.3h0M178.0 274.0h0M242.9 316.8h0M237.2 320.2h0M216.4 257.4h0M221.5 266.7h0M189.0 283.0h0M233.6 267.6h0M180.3 314.2h0M201.7 251.1h0M179.2 261.5h0M205.2 316.3h0M200.5 293.7h0M184.8 252.6h0M235.3 321.2h0M174.5 317.6h0M225.3 323.0h0M212.6 272.1h0M210.3 297.9h0M251.2 313.2h0M197.0 316.9h0M215.9 271.5h0M200.1 271.2h0M227.6 291.2h0M183.0 317.4h0M225.3 298.5h0M218.6 253.8h0M255.5 320.0h0M216.9 275.1h0M208.8 295.6h0M231.8 262.6h0M202.1 257.3h0M192.0 317.2h0M239.0 302.0h0M189.3 267.2h0M245.2 286.6h0M222.8 251.3h0M204.5 262.1h0M226.5 307.0h0M215.6 251.0h0M202.5 319.0h0M239.3 278.7h0M187.8 274.0h0M239.4 311.5h0M235.4 291.8h0M228.3 305.7h0M211.9 295.2h0M249.5 261.1h0M219.1 269.0h0M214.8 295.2h0M238.9 262.6h0M177.8 311.4h0M235.5 251.4h0" stroke="#a274bc" stroke-width="1" stroke-linecap="round" opacity="0.7"/>
<path d="M217.4 293.9h0M178.8 281.2h0M208.6 288.6h0M193.0 309.4h0M195.7 283.8h0M175.2 296.9h0M198.1 300.6h0M223.8 269.7h0M204.9 284.1h0M221.9 293.0h0M233.2 293.2h0M181.2 294.9h0M216.3 256.1h0M199.0 309.9h0M195.0 320.7h0M213.2 269.4h0M210.5 265.3h0M179.0 296.8h0M177.5 319.8h0M176.7 298.6h0M225.6 323.5h0M253.5 282.4h0M205.3 279.5h0M220.8 269.0h0M200.2 296.2h0M212.6 314.1h0M222.2 259.0h0M247.7 272.4h0M203.0 285.5h0M217.2 261.4h0M223.6 306.4h0M218.5 268.4h0M250.9 252.7h0M185.0 278.5h0M208.2 318.1h0M178.0 284.5h0M174.2 310.5h0M177.9 280.0h0M184.4 267.7h0M231.9 273.9h0M241.0 257.1h0M178.9 293.7h0M249.9 281.1h0M240.2 303.9h0M181.5 316.4h0M177.4 306.0h0M214.7 299.4h0M190.5 252.6h0M211.6 270.8h0M187.4 307.2h0M203.2 277.3h0M241.7 303.6h0M212.6 285.5h0M174.1 260.8h0M223.1 311.6h0M190.8 296.3h0M249.4 290.4h0M222.1 262.8h0M193.8 283.9h0M210.4 259.6h0M210.3 273.5h0M171.7 298.6h0M202.2 320.8h0M214.6 276.9h0M252.1 283.3h0M236.9 270.6h0M204.8 272.1h0M184.1 306.6h0M223.2 275.4h0M242.1 286.5h0M174.9 272.7h0M216.3 315.1h0M198.5 257.2h0M196.9 259.2h0M175.1 271.5h0M249.0 257.3h0M200.9 307.1h0M253.6 271.6h0M189.0 301.7h0M195.0 285.4h0M209.0 309.8h0M249.4 301.6h0M183.4 287.1h0M221.2 254.2h0M255.2 294.7h0M241.6 256.7h0M203.1 291.5h0M197.9 285.5h0M237.7 300.4h0M190.0 286.1h0M243.3 270.8h0M232.7 267.6h0M235.0 261.6h0M212.2 271.5h0M232.6 288.5h0M195.2 300.3h0M218.3 265.2h0M229.3 307.9h0M193.3 301.4h0M174.4 276.3h0M244.3 306.9h0M245.7 320.1h0M236.3 281.0h0M236.2 289.5h0M245.5 252.2h0M247.8 314.1h0M234.5 266.3h0M247.2 321.2h0M184.9 292.8h0M238.8 323.2h0M179.8 288.1h0M183.6 251.4h0M238.9 320.2h0M237.3 251.9h0M206.3 250.8h0M244.2 305.5h0M209.4 276.4h0M204.1 286.3h0M228.2 278.6h0M206.7 272.1h0M214.7 314.2h0M250.1 283.5h0M219.2 267.9h0M243.0 295.4h0" stroke="#b482c0" stroke-width="1.5" stroke-linecap="round" opacity="0.7"/>
<path d="M184.5 260.8h0M174.8 301.3h0M193.3 264.9h0M197.0 304.0h0M206.5 298.7h0M248.1 262.9h0M171.4 305.8h0M180.7 255.6h0M182.2 315.5h0M225.4 301.9h0M249.1 258.7h0M212.9 312.5h0M208.7 282.4h0M244.9 300.0h0M184.9 323.4h0M245.3 255.1h0M212.9 310.9h0M231.7 252.9h0M207.9 305.5h0M255.3 307.9h0M245.7 318.0h0M230.3 283.0h0M231.2 302.8h0M190.9 302.2h0M248.1 255.5h0M253.4 320.2h0M183.1 287.6h0M196.5 280.0h0M179.6 288.6h0M205.8 293.1h0M205.4 321.9h0M197.6 289.0h0M182.2 304.2h0M217.2 257.4h0M233.0 257.1h0M180.3 261.5h0M192.6 273.6h0M186.5 258.0h0M219.5 294.4h0M195.0 252.3h0M187.3 303.7h0M228.2 259.2h0M195.5 316.2h0M250.1 263.4h0M223.3 270.9h0M239.9 321.4h0M215.7 312.7h0M227.3 321.8h0M192.0 300.2h0M230.6 282.1h0M189.4 286.2h0M244.5 308.6h0M205.7 314.4h0M251.4 301.8h0M180.6 273.5h0M217.7 267.3h0M178.8 323.0h0M184.2 292.8h0M171.9 275.9h0M241.9 321.0h0M180.1 282.6h0M175.4 306.8h0M250.0 284.1h0M238.1 272.4h0M199.7 303.6h0M245.2 291.2h0M187.6 286.7h0M253.3 317.3h0M179.4 307.2h0M234.8 319.9h0M238.2 292.2h0M228.9 267.3h0M220.7 254.3h0M199.8 283.3h0M191.2 253.1h0M241.3 294.8h0M174.9 290.8h0M205.0 315.3h0M255.3 272.4h0M200.6 321.8h0M193.5 284.1h0M246.8 257.8h0M247.0 253.6h0M219.1 297.4h0M175.7 272.6h0M222.3 309.1h0M255.6 289.3h0M237.7 283.1h0M213.7 282.0h0M173.5 281.6h0M237.0 299.0h0M206.3 253.7h0M207.5 299.9h0M182.6 286.4h0M239.4 312.5h0M231.6 311.0h0M184.7 256.9h0M195.0 258.5h0M247.7 284.2h0M209.0 322.9h0M223.9 310.7h0M235.0 288.6h0M215.2 304.7h0M253.5 257.5h0M228.0 308.7h0M255.5 312.2h0M221.5 290.3h0M223.4 271.6h0M223.2 306.4h0M213.0 251.6h0M224.9 318.4h0M180.9 310.2h0M173.6 306.9h0M207.3 282.6h0M231.3 275.1h0M218.0 285.0h0M212.5 250.6h0M229.9 308.3h0M247.1 253.0h0M244.0 294.0h0M195.3 284.6h0M252.7 299.0h0M233.3 312.2h0M191.0 322.1h0M198.1 261.4h0M201.3 288.8h0M237.2 268.9h0M227.3 281.8h0M174.3 258.9h0M175.3 272.1h0M254.7 287.2h0M228.4 303.0h0M212.1 308.6h0" stroke="#9468b4" stroke-width="1.5" stroke-linecap="round" opacity="0.7"/>
<path d="M204.4 323.4h0M255.3 250.9h0M172.5 298.4h0M196.3 273.0h0M175.2 283.8h0M243.6 262.6h0M198.4 256.9h0M172.3 306.4h0M224.7 258.6h0M179.3 314.3h0M193.6 267.6h0M175.1 311.4h0M184.3 276.9h0M189.8 306.5h0M247.7 302.2h0M212.3 279.3h0M176.3 320.2h0M191.4 254.6h0M216.1 261.9h0M177.3 315.5h0M191.0 302.3h0M194.8 290.3h0M250.2 314.0h0M254.8 255.7h0M198.5 320.5h0M210.4 284.6h0M186.5 255.5h0M216.6 260.5h0M233.8 293.0h0M208.9 323.7h0M246.8 274.5h0M221.0 307.5h0M201.8 267.3h0M255.3 288.9h0M249.1 308.5h0M191.3 298.5h0M189.6 318.1h0M200.9 280.9h0M226.8 278.4h0M226.1 286.8h0M236.2 307.1h0M242.9 272.9h0M223.5 299.0h0M228.8 291.7h0M193.0 311.7h0M237.1 316.9h0M222.0 257.8h0M195.7 315.8h0M242.4 303.9h0M238.2 311.4h0M227.7 256.6h0M245.6 316.1h0M219.1 271.2h0M249.0 283.4h0M251.7 270.4h0M217.6 308.5h0M200.0 295.7h0M188.9 264.5h0M234.9 287.8h0M239.5 304.6h0M191.9 296.9h0M216.3 305.5h0" stroke="#9468b4" stroke-width="1" stroke-linecap="round" opacity="0.7"/>
<path d="M211.4 312.7h0M237.2 275.6h0M191.7 313.5h0M187.6 287.2h0M188.8 259.5h0M237.0 269.5h0M184.8 288.1h0M213.5 271.0h0M187.9 287.8h0M217.3 279.7h0M211.0 261.9h0M185.0 322.9h0M180.2 254.8h0M226.7 281.2h0M206.0 274.0h0M190.3 302.0h0M181.4 264.5h0M236.0 266.4h0M200.3 275.9h0M191.2 319.2h0M222.4 265.8h0M254.6 284.6h0M202.8 313.7h0M252.9 252.2h0M245.9 259.7h0M190.4 304.1h0M222.1 302.6h0M174.2 250.4h0M235.0 267.6h0M245.4 286.2h0M205.4 263.1h0M230.4 295.0h0M199.9 258.4h0M216.0 275.2h0M253.9 294.7h0M199.3 309.0h0M187.8 319.0h0M224.6 275.4h0M253.1 272.4h0M234.8 313.3h0M184.2 315.5h0M201.7 270.0h0M214.0 311.5h0M181.1 257.4h0M254.3 265.2h0M182.2 257.0h0M200.2 275.5h0M193.9 291.0h0M219.7 287.1h0M228.7 257.4h0M212.5 285.1h0M253.4 272.7h0M233.9 302.6h0M200.5 312.8h0M184.7 321.6h0M215.1 292.6h0M208.2 251.3h0M219.5 254.5h0M172.2 320.1h0M250.0 256.0h0M197.3 317.5h0M190.8 302.0h0M214.3 313.7h0M180.1 312.6h0M201.7 273.6h0M193.2 300.1h0M244.8 269.6h0M183.7 299.0h0M196.6 273.8h0M252.4 256.8h0M189.1 266.3h0M178.5 285.7h0M233.0 298.4h0M229.7 289.1h0M177.3 290.7h0M223.0 312.6h0M230.1 289.4h0M188.0 321.0h0M208.2 265.9h0M254.3 258.3h0M254.8 259.8h0M214.4 293.0h0M254.0 264.9h0M212.6 315.7h0M221.0 272.7h0M228.2 319.5h0M249.5 301.9h0M233.7 323.4h0M173.6 285.6h0M227.7 282.1h0M240.3 318.6h0M230.9 301.2h0M204.6 282.1h0M209.0 275.6h0M255.3 255.0h0M186.0 316.7h0M231.1 300.6h0M224.8 266.2h0M181.8 309.6h0M210.0 285.6h0M245.6 269.0h0M222.9 264.7h0M238.4 303.9h0M187.3 307.3h0M173.5 290.5h0M235.5 299.1h0M189.8 266.8h0M185.2 266.7h0M244.1 308.4h0M199.7 302.0h0M242.3 313.9h0M236.6 286.5h0M219.5 292.9h0M198.4 251.1h0M211.5 316.5h0M179.4 257.2h0" stroke="#9468b4" stroke-width="2" stroke-linecap="round" opacity="0.7"/>
<path d="M222.1 319.2h0M193.4 306.9h0M187.0 281.4h0M215.7 272.7h0M218.4 268.6h0M196.6 314.7h0M240.0 258.5h0M243.3 268.4h0M210.1 313.1h0M230.6 311.4h0M236.2 286.8h0M234.0 290.8h0M200.1 265.7h0M241.2 293.7h0M231.7 294.2h0M191.0 314.4h0M253.6 296.6h0M233.2 258.2h0M172.3 261.4h0M254.4 297.2h0M233.6 274.7h0M223.4 288.3h0M255.2 288.0h0M238.8 300.8h0M206.8 290.6h0M221.9 270.8h0M205.0 250.7h0M226.4 276.0h0M224.4 271.4h0M235.4 294.1h0M204.3 253.4h0M253.7 280.5h0M185.2 274.3h0M245.4 305.2h0M255.9 270.5h0M226.2 277.5h0M177.7 314.6h0M249.5 312.5h0M205.7 319.1h0M172.5 294.4h0M231.6 251.5h0M174.4 259.4h0M171.7 261.8h0M183.5 290.3h0M253.9 269.1h0M250.1 309.3h0M197.2 292.4h0M198.3 307.0h0M208.5 292.4h0M247.7 251.5h0M182.2 316.6h0M190.1 273.1h0M196.4 309.3h0M192.4 318.7h0M184.5 270.5h0M191.6 297.4h0M235.4 252.6h0M237.3 296.2h0M182.3 284.3h0M215.0 269.9h0M197.3 255.5h0M230.0 293.7h0M228.6 304.0h0M246.5 305.7h0M218.0 299.4h0M221.2 262.7h0M247.3 263.3h0M211.2 265.3h0M177.5 312.9h0M227.7 315.8h0M230.6 308.4h0M242.6 285.6h0M176.7 286.7h0M214.5 314.0h0M182.5 263.9h0M188.2 289.8h0M230.5 310.9h0M250.5 308.8h0M196.8 262.9h0M199.3 263.7h0M178.0 319.8h0M224.4 250.5h0M198.4 255.5h0M204.4 314.0h0M201.8 312.8h0M186.6 250.4h0M232.0 289.5h0M175.7 309.9h0M204.5 284.2h0M249.5 290.1h0M211.8 280.4h0M204.0 259.2h0M244.4 303.4h0M237.0 263.9h0M221.1 314.5h0M178.0 310.6h0M205.6 275.2h0M218.0 314.8h0M217.3 288.3h0M186.6 273.1h0M191.4 322.5h0M204.4 294.6h0M232.6 283.4h0M200.3 266.7h0M203.5 257.0h0M219.6 316.7h0M182.4 295.6h0M197.3 291.9h0M249.4 251.0h0M239.4 256.7h0M233.3 271.2h0M189.7 320.3h0M244.8 251.4h0M228.6 307.8h0M231.1 282.1h0M233.1 260.3h0M252.3 260.1h0M212.0 283.0h0M223.3 273.3h0" stroke="#a274bc" stroke-width="2" stroke-linecap="round" opacity="0.7"/>
<path d="M231.4 266.8h0M190.1 301.9h0M243.2 308.1h0M234.6 265.5h0M250.6 271.3h0M204.8 272.1h0M197.4 296.9h0M175.5 284.5h0M246.3 256.9h0M227.5 296.1h0M222.2 303.1h0M192.7 294.6h0M227.3 279.5h0M204.5 285.7h0M244.1 281.2h0M216.2 285.4h0M180.1 314.9h0M215.1 250.7h0M201.0 314.8h0M203.7 320.8h0M199.2 263.0h0M242.2 322.4h0M195.1 319.5h0M197.4 289.3h0M191.1 280.1h0M252.9 318.1h0M250.1 293.6h0M239.7 276.3h0M187.2 284.6h0M177.5 284.0h0M200.1 283.7h0M201.8 250.4h0M235.9 275.8h0M226.3 260.5h0M191.9 323.6h0M254.6 260.6h0M174.3 280.6h0M208.9 265.8h0M225.5 300.6h0M181.2 271.1h0M196.2 257.2h0M205.0 316.4h0M226.7 318.9h0" stroke="#a878c0" stroke-width="2.5" stroke-linecap="round" opacity="0.7"/>
<path d="M239.0 294.4h0M218.7 301.8h0M228.9 314.2h0M214.7 297.9h0M243.7 323.1h0M194.1 303.3h0M204.0 314.6h0M197.3 298.7h0M226.0 276.4h0M232.7 298.2h0M189.9 280.7h0M220.2 270.7h0M198.6 318.5h0M224.2 319.6h0M184.1 315.7h0M221.4 315.3h0M184.1 273.4h0M226.8 298.3h0M179.6 311.0h0M180.1 316.5h0M236.8 300.1h0M237.0 274.5h0M188.4 318.7h0M216.8 256.5h0M189.0 292.8h0M180.9 254.2h0M185.6 314.9h0M224.5 305.0h0M196.3 261.9h0M245.1 271.6h0M233.3 303.5h0M201.1 256.8h0M195.3 294.6h0M249.9 318.1h0M199.8 302.2h0M229.1 253.6h0M208.4 259.1h0M229.5 256.1h0" stroke="#9468b4" stroke-width="2.5" stroke-linecap="round" opacity="0.7"/>
<path d="M210.3 304.1h0M250.5 257.5h0M191.2 252.4h0M192.3 314.7h0M211.0 314.6h0M236.8 321.6h0M252.1 273.8h0M210.6 286.8h0M197.0 266.0h0M198.3 306.4h0M222.0 323.5h0M255.4 279.9h0M217.9 309.9h0M254.0 276.0h0M226.5 306.5h0M183.1 304.9h0M231.1 314.0h0M207.7 290.2h0M172.1 317.0h0M204.3 272.5h0M175.8 289.3h0M213.8 260.2h0M188.7 261.2h0M253.1 266.9h0M214.3 306.9h0M249.5 256.3h0M245.0 295.1h0M225.9 266.5h0M244.9 269.8h0M198.1 270.3h0M218.2 268.0h0" stroke="#c896cc" stroke-width="2.5" stroke-linecap="round" opacity="0.7"/>
<path d="M196.9 303.2h0M216.4 305.8h0M193.8 250.7h0M186.8 299.5h0M204.7 259.1h0M214.4 320.0h0M195.5 261.0h0M248.4 280.9h0M237.5 272.3h0M190.5 323.4h0M210.6 254.3h0M217.9 258.9h0M213.7 317.6h0M173.0 312.2h0M179.0 270.3h0M174.6 294.5h0M231.9 303.2h0M240.9 274.0h0M240.1 318.9h0M191.6 305.6h0M238.0 282.9h0M243.0 284.7h0M211.2 261.1h0M240.2 311.0h0M215.0 258.4h0M192.9 293.7h0M251.0 304.2h0M176.0 298.0h0M192.9 281.5h0M188.0 270.0h0M234.7 323.0h0M199.4 310.9h0M234.4 304.9h0M213.6 306.6h0M230.6 290.5h0M250.5 260.7h0M208.9 297.5h0M206.1 254.4h0M216.6 264.0h0M211.7 318.9h0M194.5 308.0h0M233.1 270.1h0M235.3 306.1h0M182.1 252.9h0M209.5 274.8h0M188.2 250.5h0M237.7 322.9h0M198.4 301.9h0M250.1 255.8h0M253.1 295.5h0M218.5 317.6h0M250.8 323.4h0M243.6 288.3h0M241.9 281.0h0M173.8 269.7h0M194.6 300.2h0M225.3 297.2h0M200.0 259.8h0M200.8 272.2h0M233.8 258.3h0M234.2 316.4h0M177.6 299.8h0M199.6 280.6h0M189.3 313.4h0M192.6 297.7h0M201.9 318.2h0M217.8 288.2h0M215.3 316.2h0M252.2 281.2h0M200.0 261.2h0M233.7 285.6h0M205.6 281.7h0M250.6 272.8h0M219.1 287.0h0M217.7 271.4h0M245.0 313.1h0M230.9 303.5h0M172.0 277.6h0M190.2 320.4h0M193.9 276.1h0M251.0 322.7h0M238.2 323.0h0M180.4 293.4h0M217.5 260.4h0M204.0 303.2h0M240.7 282.5h0M242.9 259.3h0M221.7 253.2h0M239.0 261.0h0M222.6 272.5h0M229.1 274.7h0M254.6 306.9h0M234.7 255.1h0M189.3 323.3h0M250.7 303.3h0M237.9 289.1h0M213.6 293.5h0M225.0 323.8h0M179.4 306.3h0" stroke="#c48cc4" stroke-width="2" stroke-linecap="round" opacity="0.7"/>
<path d="M255.2 277.3h0M231.9 290.7h0M229.9 312.0h0M214.5 294.2h0M234.0 274.7h0M188.1 314.2h0M251.2 280.1h0M227.8 298.5h0M209.9 260.6h0M237.2 253.5h0M212.6 284.5h0M180.9 299.2h0M182.5 277.8h0M206.4 293.0h0M255.8 281.4h0M251.9 300.6h0M197.3 299.3h0M229.8 269.4h0M178.5 313.4h0M247.2 297.9h0M207.6 275.3h0M217.1 286.4h0M202.7 304.3h0M228.3 260.7h0M237.4 279.6h0M174.0 277.1h0M249.6 305.6h0M210.7 302.9h0M206.4 321.5h0M205.4 277.2h0M248.6 315.1h0M211.6 265.0h0M187.9 314.0h0M234.8 256.4h0M189.6 276.9h0M191.1 251.7h0M208.3 297.4h0M212.3 278.6h0M218.8 268.5h0M192.1 305.8h0M224.2 272.8h0M215.4 272.7h0M243.2 283.2h0M210.9 278.0h0M254.4 308.1h0M241.4 291.4h0M175.6 255.2h0M174.1 262.7h0M184.5 321.1h0M218.6 274.0h0M229.8 257.2h0M193.7 256.5h0M212.9 308.6h0M189.5 253.0h0M210.4 259.3h0M206.6 315.9h0M173.5 310.7h0M208.5 306.4h0M198.5 301.2h0M206.2 276.8h0M228.5 289.6h0M234.5 263.2h0M239.6 284.8h0M187.1 289.9h0M250.9 302.6h0M252.5 316.8h0M250.4 280.4h0M212.6 294.2h0M214.4 298.6h0M253.8 265.4h0M193.3 262.8h0M187.0 282.2h0M196.7 311.6h0M233.7 320.6h0M195.9 261.2h0M250.4 259.1h0M229.9 306.9h0M196.6 289.5h0M186.0 291.2h0M231.2 300.5h0M252.8 303.2h0M217.3 299.8h0M254.5 254.3h0M245.4 319.7h0M236.2 291.9h0M190.9 263.3h0M229.1 287.5h0M207.9 277.8h0M200.7 288.6h0M198.0 251.5h0M248.8 282.0h0M196.9 253.4h0M235.2 302.8h0M201.6 260.8h0M237.2 266.1h0M197.4 273.3h0M181.3 285.4h0M249.2 307.8h0M174.5 300.4h0M232.0 292.6h0M212.5 267.5h0M179.0 299.0h0M230.4 303.6h0M218.1 262.2h0M232.8 251.6h0M251.8 293.6h0" stroke="#b482c0" stroke-width="2" stroke-linecap="round" opacity="0.7"/>
<path d="M248.1 301.2h0M203.4 319.8h0M243.5 300.0h0M244.9 306.8h0M209.2 274.5h0M206.8 270.6h0M206.9 307.9h0M250.4 320.7h0M253.8 277.9h0M198.2 273.3h0M235.2 266.1h0M204.9 255.0h0M199.7 273.5h0M186.4 261.4h0M193.9 283.5h0M190.6 280.6h0M221.5 270.0h0M190.3 309.0h0M239.5 289.1h0M226.8 292.2h0M181.0 301.2h0M200.5 323.3h0M184.0 274.3h0M209.3 280.3h0M232.1 259.9h0M207.7 302.6h0M182.3 285.1h0M178.4 257.1h0M256.0 293.8h0M179.8 316.4h0M254.5 264.8h0M191.9 261.1h0M254.8 299.5h0M247.2 280.1h0M185.9 291.0h0M239.3 253.1h0M206.1 265.0h0M201.4 296.9h0M199.3 264.5h0M198.8 298.8h0M246.6 280.4h0M193.5 276.6h0M203.8 287.0h0M247.8 294.9h0M254.8 255.8h0M248.7 281.5h0M171.5 283.0h0M230.7 266.8h0M190.6 293.6h0M252.7 316.9h0M205.7 294.0h0M200.7 289.8h0M215.3 316.9h0M242.1 301.1h0M231.2 250.8h0M218.2 302.6h0M208.0 264.6h0M188.9 306.3h0M210.7 317.0h0M222.7 308.8h0M197.0 305.5h0M233.2 318.4h0M227.5 292.3h0M186.9 297.9h0M243.2 283.0h0M193.6 313.6h0M171.7 306.5h0M218.9 281.0h0M198.1 267.7h0M254.8 315.2h0M178.4 322.8h0M176.1 264.8h0M173.6 271.7h0M241.0 291.3h0M180.1 269.0h0M174.3 294.4h0M177.8 268.4h0M250.2 277.4h0M175.8 313.3h0M191.3 274.3h0M172.4 309.3h0M194.5 312.1h0M253.7 322.3h0M184.0 272.1h0M204.2 271.8h0M208.2 261.5h0M200.9 282.1h0M180.1 285.4h0M187.0 253.5h0M225.7 271.4h0M192.7 295.3h0M183.7 298.1h0M229.6 275.6h0M175.6 294.3h0M253.6 256.7h0M219.4 289.9h0M227.7 302.9h0M253.1 260.3h0M244.2 295.2h0M251.8 303.3h0M182.7 251.4h0M205.2 295.3h0M208.1 293.7h0M206.7 301.6h0M209.9 263.7h0M255.9 312.7h0M256.3 277.5h0M197.9 265.1h0M201.3 296.3h0M208.6 266.9h0M218.2 267.1h0M172.3 283.8h0M189.7 305.4h0M206.9 271.9h0M198.8 319.9h0M182.0 322.6h0" stroke="#c896cc" stroke-width="2" stroke-linecap="round" opacity="0.7"/>
<path d="M205.5 255.7h0M252.6 268.7h0M242.9 273.8h0M182.0 264.6h0M189.9 281.7h0M237.9 271.0h0M238.9 280.5h0M241.7 288.4h0M207.5 311.3h0M182.2 315.5h0M233.4 290.2h0M223.5 298.3h0M227.4 268.1h0M188.4 301.4h0M192.7 272.5h0M190.7 287.4h0M220.8 298.0h0M187.5 317.5h0M180.1 296.8h0M245.4 254.7h0M229.5 308.9h0M199.6 301.8h0M204.9 318.5h0M186.7 277.4h0M235.7 315.9h0M194.9 252.9h0M246.7 263.9h0M217.7 319.8h0M240.6 287.4h0M178.9 279.7h0M198.8 306.7h0M186.6 298.5h0M206.0 250.8h0M244.0 253.4h0M199.9 273.0h0M198.0 262.4h0M213.7 308.8h0M246.5 308.1h0M225.6 253.3h0M217.7 260.6h0M199.7 292.9h0M223.0 264.6h0M175.3 262.0h0M203.4 310.6h0M203.7 303.1h0M204.3 318.4h0M171.3 287.3h0M219.4 291.5h0M220.7 312.3h0M200.8 301.9h0M236.4 251.8h0M221.0 306.1h0M202.4 254.5h0M186.6 263.4h0M208.5 256.9h0M194.0 319.7h0M226.4 271.9h0M193.5 291.1h0M236.1 292.6h0M193.3 282.8h0M228.2 310.7h0M184.1 310.6h0M172.2 312.4h0M175.6 274.7h0M195.0 279.2h0M249.5 306.7h0M220.7 293.5h0M204.4 279.1h0M218.0 250.5h0M226.6 285.9h0M251.8 321.4h0M210.0 284.8h0M199.0 262.0h0M210.9 309.9h0M181.2 315.9h0M203.8 320.5h0M247.5 289.5h0M238.5 285.5h0M198.3 289.8h0M218.6 252.4h0M191.5 259.5h0M193.1 273.8h0M233.2 311.1h0M181.6 260.4h0M251.5 319.7h0M215.8 323.4h0M234.5 292.6h0M172.0 265.2h0M188.2 323.1h0M221.0 261.9h0M210.3 287.7h0M175.9 255.4h0M233.5 275.8h0M200.7 269.4h0M229.0 271.3h0" stroke="#c896cc" stroke-width="1" stroke-linecap="round" opacity="0.7"/>
<path d="M184.3 269.4h0M228.8 278.4h0M246.0 316.4h0M188.3 264.4h0M200.5 303.1h0M206.4 288.8h0M223.8 257.7h0M179.0 254.3h0M248.5 281.6h0M174.0 253.9h0M185.5 320.8h0M217.9 251.6h0M213.2 262.6h0M187.4 266.9h0M200.1 272.9h0M242.4 321.4h0M209.8 312.2h0M213.0 257.8h0M177.9 313.5h0M250.9 316.3h0M197.7 265.0h0M194.8 285.3h0M195.0 262.0h0M183.1 275.0h0M217.3 250.8h0M253.4 322.7h0M195.0 323.6h0M174.3 270.9h0M188.7 268.6h0M246.3 305.5h0M242.0 317.7h0M201.6 305.3h0M226.1 303.7h0M211.2 259.8h0M251.4 318.0h0M249.7 280.7h0M177.1 313.0h0M181.9 311.0h0M173.5 311.1h0M222.7 316.1h0M245.9 269.5h0M225.8 266.4h0M180.4 276.8h0M244.8 256.4h0M184.3 291.3h0M177.9 309.7h0M255.6 268.8h0M184.1 280.7h0M184.4 293.3h0M238.6 255.7h0M179.2 258.0h0M175.1 317.1h0M242.0 253.0h0M189.7 278.9h0M211.8 294.1h0M198.5 292.8h0M208.0 304.8h0M204.1 287.2h0M195.2 318.3h0M221.0 303.6h0M247.3 287.8h0M230.1 263.6h0M215.3 289.5h0M197.9 314.2h0M205.9 315.0h0M230.9 317.7h0M190.7 296.9h0M217.3 278.0h0M247.3 316.4h0M256.1 314.7h0M188.4 266.2h0M211.5 295.3h0M199.3 303.0h0M204.4 276.2h0M186.3 309.5h0M180.5 296.6h0M254.8 298.1h0M247.3 295.3h0M183.4 261.7h0M180.6 303.6h0M174.5 265.5h0M200.6 306.5h0M190.6 309.5h0M248.2 301.1h0M216.9 309.2h0M221.0 314.8h0M224.4 255.2h0M179.4 278.5h0M226.8 285.6h0M239.4 280.5h0M179.6 252.4h0M217.4 290.1h0M214.5 316.9h0M232.5 275.8h0M238.4 287.6h0M204.9 304.4h0M190.8 312.6h0M178.4 271.9h0M184.4 251.2h0M231.6 253.3h0M237.4 295.7h0M233.6 281.0h0M248.2 260.7h0M172.4 252.2h0M219.7 317.6h0M211.4 303.4h0" stroke="#c896cc" stroke-width="1.5" stroke-linecap="round" opacity="0.7"/>
<path d="M172.5 320.2h0M179.7 310.6h0M213.5 291.7h0M249.0 299.8h0M211.5 295.6h0M181.6 277.4h0M251.3 291.8h0M204.1 304.4h0M198.5 263.7h0M211.6 268.6h0M231.9 294.0h0M191.0 295.5h0M189.6 295.9h0M189.8 303.2h0M242.1 292.4h0M245.1 291.9h0M211.7 298.1h0M186.8 304.8h0M255.0 273.8h0M216.7 299.7h0M220.3 272.3h0M255.7 262.0h0M210.8 257.0h0M183.7 273.8h0M236.9 267.2h0M208.1 291.2h0M215.7 269.6h0M196.1 316.4h0M229.6 284.8h0M247.3 294.1h0M221.4 283.4h0M179.9 281.1h0M192.5 319.7h0M177.2 255.5h0M221.8 254.7h0M225.5 283.5h0M213.2 251.4h0M206.0 295.0h0M214.3 299.8h0M217.7 309.3h0M253.1 257.2h0M253.0 253.5h0M256.3 258.1h0M240.6 287.6h0M203.3 318.2h0M250.5 272.4h0M174.1 275.5h0M242.8 290.8h0M194.6 297.9h0M247.7 259.2h0M225.8 286.5h0M202.2 282.2h0M194.8 260.6h0M178.0 252.6h0M191.6 298.2h0M226.8 314.3h0M233.4 279.6h0M246.3 318.9h0M223.8 268.0h0M203.4 309.9h0M205.3 311.1h0M187.8 314.7h0M231.8 317.0h0M235.4 263.5h0M251.6 301.9h0M193.0 280.2h0M182.0 288.9h0M203.0 300.0h0M221.6 254.3h0M197.5 289.8h0M220.8 262.4h0M171.3 261.2h0M250.7 299.2h0M246.3 279.8h0M188.4 263.5h0M177.9 298.2h0M208.3 271.3h0M248.4 290.4h0M201.7 263.4h0M192.9 323.7h0M218.2 295.8h0M218.1 251.9h0M236.7 272.8h0M185.8 322.3h0M196.5 266.7h0M179.7 255.0h0" stroke="#bf8ec8" stroke-width="1" stroke-linecap="round" opacity="0.7"/>
<path d="M221.5 261.0h0M183.6 268.9h0M239.3 268.4h0M226.9 276.1h0M190.6 282.8h0M211.9 303.1h0M188.4 255.3h0M215.1 293.8h0M211.3 309.7h0M210.5 303.7h0M208.8 319.9h0M216.9 271.8h0M179.7 303.4h0M201.7 312.0h0M244.6 310.2h0M176.5 268.6h0M210.7 316.2h0M210.3 275.0h0M227.4 269.5h0M179.4 284.4h0M173.2 252.4h0M224.2 290.7h0M185.0 269.8h0M218.7 289.2h0M241.9 311.7h0M197.2 288.2h0M187.5 254.0h0M185.6 296.7h0M221.6 322.9h0M227.1 263.3h0M171.5 312.3h0M225.4 292.7h0M187.2 315.2h0M175.8 267.9h0M229.3 308.1h0M220.8 263.2h0M204.2 314.5h0M241.8 302.0h0M254.1 274.2h0M190.4 316.5h0" stroke="#b482c0" stroke-width="2.5" stroke-linecap="round" opacity="0.7"/>
<path d="M194.9 316.3h0M246.3 261.1h0M237.2 299.5h0M233.8 269.5h0M208.6 258.8h0M234.1 302.2h0M245.2 263.2h0M247.8 290.1h0M203.2 268.6h0M209.8 272.7h0M172.6 251.8h0M207.9 322.0h0M245.3 272.5h0M208.6 285.9h0M218.4 318.6h0M202.5 280.7h0M187.2 293.2h0M186.0 277.7h0M221.0 252.2h0M235.4 308.6h0M238.3 263.3h0M224.6 279.8h0M227.9 252.3h0M241.2 299.2h0M225.8 291.8h0M204.3 314.5h0M224.3 313.8h0M217.1 260.3h0M178.9 272.9h0M252.0 288.9h0M200.2 288.7h0M199.0 265.5h0M241.7 277.9h0M235.8 261.0h0M189.9 303.2h0M223.8 250.5h0M223.1 263.5h0M212.0 276.1h0M218.6 287.1h0M231.1 264.1h0M194.2 250.9h0M217.8 299.5h0M229.3 295.0h0M230.6 317.1h0M217.0 259.7h0M191.1 259.6h0M234.5 265.3h0M187.3 278.6h0M232.0 315.8h0M196.7 286.2h0M197.3 274.9h0M232.9 318.5h0M175.7 320.4h0M181.1 264.3h0M200.4 263.8h0M198.8 318.8h0M182.3 273.2h0M193.8 278.5h0M241.6 308.7h0M177.4 267.1h0M192.9 311.3h0M185.0 265.3h0M223.7 291.3h0M211.2 292.9h0M240.5 280.1h0M240.9 290.9h0M190.3 289.0h0M238.8 300.7h0M215.9 313.3h0M229.4 300.2h0M202.2 307.6h0M209.7 258.5h0M236.8 300.9h0M213.6 301.5h0M177.1 287.1h0M173.7 315.7h0M232.3 295.7h0M243.7 279.7h0M237.3 322.0h0M239.2 258.0h0M245.8 259.1h0M256.0 262.2h0M228.4 323.0h0M213.2 313.2h0M200.5 286.0h0M230.4 265.8h0M197.7 297.0h0M171.4 301.8h0M235.1 279.8h0M231.5 256.9h0M238.1 300.2h0M245.1 263.4h0M241.1 285.4h0M182.7 303.5h0M200.0 253.4h0M251.3 259.6h0M218.3 276.6h0M180.2 318.9h0M217.3 252.9h0M230.7 307.3h0M240.6 322.8h0M202.1 319.3h0M198.8 304.0h0M198.0 284.7h0M184.8 312.5h0M171.4 299.0h0M203.3 272.2h0M175.3 293.2h0M202.3 307.9h0M179.3 265.6h0M226.6 294.6h0M171.3 311.3h0M241.0 268.5h0M179.0 306.3h0M240.9 279.8h0M179.3 301.4h0" stroke="#a878c0" stroke-width="2" stroke-linecap="round" opacity="0.7"/>
<path d="M235.7 276.2h0M246.3 251.7h0M254.6 263.1h0M246.1 283.4h0M247.3 296.0h0M201.7 270.4h0M223.1 274.6h0M175.9 310.6h0M181.5 270.4h0M224.7 278.9h0M181.9 316.5h0M231.0 321.4h0M204.4 266.2h0M211.4 299.1h0M179.3 253.3h0M234.6 276.2h0M226.9 309.4h0M185.0 296.5h0M189.0 263.6h0M188.1 314.7h0M218.4 261.0h0M214.9 301.1h0M222.7 303.0h0M204.8 275.7h0M193.8 259.8h0M249.8 263.8h0M203.7 275.8h0M220.6 262.0h0M201.5 313.6h0M213.1 274.7h0M201.8 270.8h0" stroke="#a274bc" stroke-width="2.5" stroke-linecap="round" opacity="0.7"/>
<path d="M177.1 264.1h0M196.2 281.1h0M235.6 298.5h0M249.0 273.6h0M240.7 265.0h0M181.0 306.9h0M185.5 312.9h0M183.7 318.6h0M217.7 284.7h0M175.6 320.5h0M220.4 284.5h0M191.3 284.6h0M192.9 287.2h0M247.4 264.2h0M222.3 265.7h0M218.5 314.0h0M232.4 311.3h0M218.3 298.1h0M209.3 273.2h0M175.5 261.2h0M207.5 286.8h0M181.3 262.6h0M171.5 321.2h0M176.0 312.8h0M232.1 301.2h0M194.4 316.5h0M210.7 293.4h0M247.2 308.7h0M180.1 296.2h0M189.8 268.7h0M220.6 285.2h0M174.7 323.2h0M234.5 254.1h0M237.1 292.4h0M211.7 252.8h0M187.7 267.2h0M186.9 288.6h0M229.8 280.7h0M237.9 303.4h0M211.5 252.3h0M243.3 259.6h0M218.1 320.5h0M209.6 318.8h0M231.4 291.6h0M178.2 286.6h0M250.1 310.2h0M247.3 299.8h0M188.6 287.0h0M200.9 317.6h0M200.5 268.0h0M202.5 266.6h0M219.9 296.3h0M211.2 297.0h0M209.4 315.4h0M189.3 253.3h0M196.3 306.6h0M201.6 281.0h0M201.0 311.7h0M219.5 286.1h0M208.6 323.3h0M212.7 264.9h0M228.7 258.9h0M188.6 255.9h0M192.4 250.9h0M253.4 299.9h0M248.9 268.9h0M195.3 297.2h0M177.5 277.7h0M247.6 311.2h0M210.6 296.0h0M229.8 273.6h0M186.7 304.4h0M171.6 310.0h0M225.3 281.1h0M172.0 263.8h0M196.3 261.4h0" stroke="#b482c0" stroke-width="1" stroke-linecap="round" opacity="0.7"/>
<path d="M179.5 302.3h0M198.8 275.9h0M227.2 323.6h0M231.8 291.5h0M246.0 273.3h0M246.8 269.7h0M224.4 286.3h0M187.7 255.6h0M223.7 250.9h0M171.9 304.1h0M222.8 322.8h0M200.2 251.3h0M244.4 294.5h0M175.6 272.2h0M216.1 323.7h0M211.8 283.3h0M204.1 299.6h0M206.6 283.4h0M230.5 315.6h0M203.9 291.4h0M222.6 261.1h0M192.2 272.1h0M180.8 279.6h0M197.4 321.9h0M190.2 307.0h0M226.2 320.3h0M212.7 251.5h0M210.5 262.7h0M238.8 283.2h0M209.9 290.5h0M201.6 310.7h0M177.1 307.7h0M250.4 315.7h0M222.3 250.5h0M217.5 276.3h0M253.2 319.3h0M181.5 319.4h0M234.0 287.6h0M249.7 313.2h0M200.4 317.3h0M239.3 278.0h0M197.8 268.7h0M182.1 257.5h0M237.4 287.4h0M245.2 314.6h0M185.2 303.3h0M227.1 269.8h0M225.6 293.3h0M249.6 311.6h0M187.8 317.2h0M239.2 297.7h0M180.1 306.7h0M199.8 296.9h0M173.1 318.6h0M204.8 297.2h0M221.6 311.1h0M214.0 260.6h0M250.9 262.2h0M222.5 315.2h0M238.3 322.3h0M218.9 255.7h0M239.9 276.2h0M197.0 301.7h0M238.3 252.5h0M216.2 270.8h0M172.2 310.2h0M225.4 255.1h0M176.5 302.0h0M251.4 260.6h0M210.4 317.1h0M227.1 308.3h0M248.1 263.9h0M198.3 271.6h0M216.4 269.8h0M200.3 303.9h0M245.6 292.8h0M185.7 283.9h0M209.2 282.2h0M176.2 278.1h0M175.5 323.1h0M241.9 307.8h0M205.0 262.6h0M186.1 299.9h0M205.8 287.7h0M192.2 257.7h0M191.6 303.9h0M209.3 304.8h0M229.3 282.6h0M179.6 315.0h0M196.6 289.0h0M237.3 299.5h0M208.1 291.8h0M254.8 257.6h0M214.5 255.6h0M221.0 294.5h0M226.1 253.8h0" stroke="#c48cc4" stroke-width="1" stroke-linecap="round" opacity="0.7"/>
<path d="M173.4 281.8h0M226.3 319.6h0M204.4 306.3h0M230.1 253.0h0M202.9 291.2h0M189.9 309.9h0M227.8 285.5h0M199.0 263.2h0M209.4 296.8h0M240.6 309.9h0M189.1 285.9h0M179.5 306.9h0M175.9 306.4h0M232.2 316.1h0M237.7 307.5h0M231.7 277.3h0M244.4 289.5h0M174.3 294.0h0M199.3 273.0h0M252.4 252.6h0M222.3 299.8h0M230.1 282.9h0M243.4 270.7h0M199.4 270.8h0M198.2 270.5h0M196.5 282.8h0M213.9 320.8h0M250.6 282.1h0M190.0 306.6h0M246.5 316.1h0M191.7 318.4h0M191.3 306.4h0M221.9 282.8h0M234.7 310.6h0M227.9 308.6h0M189.8 287.7h0M210.2 313.4h0M174.0 255.2h0M224.0 304.3h0M211.4 253.0h0M228.5 287.5h0M236.8 281.6h0M254.2 264.4h0M244.1 262.0h0M191.7 319.7h0M213.2 313.4h0M224.6 279.0h0M177.7 313.5h0M229.4 315.1h0M212.8 311.5h0M240.6 320.7h0M171.7 264.0h0M206.4 251.8h0M195.8 276.2h0M181.3 307.8h0M214.9 316.1h0M238.5 270.6h0M171.3 296.8h0M196.4 267.5h0M221.2 258.1h0M175.6 300.5h0M187.2 305.5h0M219.5 283.6h0M212.9 316.0h0M245.9 312.0h0M254.3 271.5h0M239.4 298.7h0M187.5 298.5h0" stroke="#a878c0" stroke-width="1" stroke-linecap="round" opacity="0.7"/>
<path d="M172.4 286.9h0M192.2 293.7h0M256.3 257.6h0M255.8 301.3h0M200.6 298.1h0M255.6 281.6h0M215.9 259.9h0M228.5 283.0h0M246.3 265.9h0M187.6 268.3h0M235.3 280.7h0M186.2 253.2h0M207.5 267.0h0M225.0 266.0h0M224.0 256.3h0M196.5 312.8h0M247.3 295.7h0M193.9 286.3h0M217.1 270.3h0M225.2 283.1h0M246.4 311.3h0M182.7 274.2h0M176.4 268.7h0M175.0 261.0h0M233.6 268.9h0M205.7 269.6h0M209.5 251.6h0M183.1 277.3h0M221.8 296.1h0M188.4 253.1h0M252.4 293.3h0M178.6 261.0h0M207.2 297.9h0M195.5 265.9h0M209.5 306.3h0M199.8 303.6h0M252.3 307.0h0M238.7 283.1h0M185.2 318.3h0M173.0 312.9h0M194.4 276.2h0M230.7 251.3h0M185.5 283.0h0M203.8 321.4h0M250.9 283.8h0M223.6 279.0h0M189.0 322.1h0M218.6 253.7h0M188.9 290.2h0M199.9 317.3h0M177.0 264.1h0M229.4 260.0h0M207.8 252.7h0M252.5 312.5h0M199.0 272.4h0M184.5 251.4h0M245.5 302.7h0M225.1 288.2h0M189.2 299.2h0M232.1 305.4h0M173.5 272.7h0M223.8 269.0h0M235.8 308.9h0M242.8 262.0h0M220.6 301.1h0M208.8 259.6h0M191.8 320.7h0M229.7 300.8h0M180.9 303.5h0M182.0 266.7h0M177.7 312.1h0M187.9 312.0h0M193.8 313.3h0M194.1 300.8h0M253.1 290.5h0M244.1 288.7h0M218.3 295.4h0M193.3 295.5h0M220.5 296.5h0M236.4 301.0h0M175.8 254.6h0M236.9 313.5h0M180.8 295.3h0M201.8 312.1h0M220.3 262.0h0M197.7 267.0h0M232.1 262.0h0M178.9 306.5h0M190.7 268.7h0M244.2 261.2h0M235.1 285.2h0M201.4 282.9h0M255.5 298.3h0M201.6 257.7h0M223.2 275.3h0M188.3 299.0h0M204.9 254.8h0M178.3 275.2h0M235.9 315.9h0M171.4 321.6h0M219.7 297.6h0M210.9 261.9h0M174.5 291.4h0M177.2 295.4h0M194.1 306.9h0M229.1 267.2h0M225.5 301.5h0M253.7 290.2h0M218.7 279.9h0M245.9 307.7h0M190.0 298.4h0M184.7 276.1h0M175.5 311.0h0M184.0 307.3h0M216.1 282.9h0M180.4 286.2h0M226.4 298.8h0M218.9 298.1h0M193.4 271.4h0M229.1 263.2h0M214.9 254.2h0M232.6 267.4h0M256.0 301.5h0M225.9 286.0h0M181.6 315.7h0M187.6 254.8h0M178.0 272.5h0" stroke="#a274bc" stroke-width="1.5" stroke-linecap="round" opacity="0.7"/>
<path d="M195.2 300.5h0M188.1 264.2h0M226.6 251.7h0M215.7 292.6h0M216.6 302.5h0M182.2 286.0h0M211.4 308.9h0M183.6 263.1h0M200.5 309.5h0M220.4 261.4h0M178.2 287.1h0M208.1 310.7h0M199.4 272.2h0M189.3 298.5h0M173.2 299.4h0M251.6 275.5h0M171.9 303.2h0M183.1 299.2h0M185.3 260.3h0M234.4 323.0h0M213.1 289.0h0M194.7 277.3h0M192.6 252.1h0M220.1 270.5h0M253.0 275.4h0M194.4 289.4h0M188.5 315.5h0M179.5 313.3h0M256.0 322.2h0M237.4 314.9h0M189.3 295.3h0M176.0 282.1h0M216.0 259.3h0M203.7 285.6h0M219.0 251.7h0" stroke="#bf8ec8" stroke-width="2.5" stroke-linecap="round" opacity="0.7"/>
<path d="M245.7 261.5h0M221.1 270.0h0M215.8 291.2h0M204.7 322.6h0M212.8 304.0h0M252.8 305.9h0M175.5 316.6h0M198.8 295.9h0M212.5 262.5h0M203.8 272.6h0M227.9 267.4h0M208.7 266.9h0M229.5 295.1h0M228.6 300.8h0M172.8 312.4h0M190.3 264.5h0M211.6 295.0h0M240.9 315.5h0M254.5 309.3h0M252.1 266.2h0M216.1 273.9h0M251.1 322.0h0M250.1 322.8h0M209.8 318.0h0M248.3 290.9h0M239.0 318.9h0M254.0 261.0h0M244.3 259.6h0M217.8 251.7h0M210.8 296.6h0M218.6 270.8h0" stroke="#c48cc4" stroke-width="2.5" stroke-linecap="round" opacity="0.7"/>
<circle cx="199.6" cy="274.4" r="5.2" fill="#8d60b4" opacity="0.45"/>
<circle cx="199.6" cy="274.4" r="2.34" fill="#c4a6d2" opacity="0.6"/>
<circle cx="185.8" cy="259.9" r="4" fill="#8d60b4" opacity="0.45"/>
<circle cx="185.8" cy="259.9" r="1.8" fill="#c4a6d2" opacity="0.6"/>
<circle cx="195.7" cy="263.2" r="4" fill="#8d60b4" opacity="0.45"/>
<circle cx="195.7" cy="263.2" r="1.8" fill="#c4a6d2" opacity="0.6"/>
<circle cx="187.7" cy="292.9" r="4.5" fill="#8d60b4" opacity="0.45"/>
<circle cx="187.7" cy="292.9" r="2.02" fill="#c4a6d2" opacity="0.6"/>
<circle cx="194.3" cy="302.1" r="5.5" fill="#8d60b4" opacity="0.45"/>
<circle cx="194.3" cy="302.1" r="2.48" fill="#c4a6d2" opacity="0.6"/>
<circle cx="236.4" cy="264.5" r="4" fill="#8d60b4" opacity="0.45"/>
<circle cx="236.4" cy="264.5" r="1.8" fill="#c4a6d2" opacity="0.6"/>
<circle cx="218.6" cy="263.8" r="3.5" fill="#8d60b4" opacity="0.45"/>
<circle cx="218.6" cy="263.8" r="1.57" fill="#c4a6d2" opacity="0.6"/>
<circle cx="238.4" cy="281" r="6" fill="#8d60b4" opacity="0.45"/>
<circle cx="238.4" cy="281" r="2.7" fill="#c4a6d2" opacity="0.6"/>
<circle cx="229.2" cy="315.3" r="5.5" fill="#8d60b4" opacity="0.45"/>
<circle cx="229.2" cy="315.3" r="2.48" fill="#c4a6d2" opacity="0.6"/>
<circle cx="250" cy="290" r="3.5" fill="#8d60b4" opacity="0.45"/>
<circle cx="250" cy="290" r="1.57" fill="#c4a6d2" opacity="0.6"/>
<circle cx="180" cy="283" r="3.5" fill="#8d60b4" opacity="0.45"/>
<circle cx="180" cy="283" r="1.57" fill="#c4a6d2" opacity="0.6"/>
<ellipse cx="227.2" cy="273.1" rx="1.5" ry="1.1" fill="#e2dce9"/>
<ellipse cx="230.5" cy="290.2" rx="1.2" ry="1.2" fill="#e2dce9"/>
<ellipse cx="237.1" cy="299.5" rx="1.4" ry="1.1" fill="#e2dce9"/>
<ellipse cx="249.7" cy="298.2" rx="1.2" ry="1" fill="#e2dce9"/>
<ellipse cx="252.3" cy="292.9" rx="1" ry="1" fill="#e2dce9"/>
<ellipse cx="215.3" cy="320" rx="1.8" ry="1.8" fill="#e2dce9"/>
<ellipse cx="222.6" cy="320.6" rx="1.5" ry="1.5" fill="#e2dce9"/>
<ellipse cx="199.6" cy="274.4" rx="1.6" ry="2.2" fill="#e2dce9"/>
<path d="M250.1 297.6h0M188.5 255.6h0M188.8 274.8h0M179.2 268.5h0M236.8 290.2h0M220.4 312.3h0M178.3 298.3h0M190.7 297.8h0M180.9 302.5h0M242.7 256.6h0M242.9 308.2h0M218.3 303.2h0M197.3 261.4h0M183.9 291.0h0M189.7 261.6h0M210.6 277.2h0M228.4 260.9h0M219.2 293.2h0M211.0 265.1h0M238.0 300.5h0M192.1 288.3h0M248.5 315.2h0M219.9 317.5h0M244.5 259.2h0M246.9 317.6h0M219.4 293.1h0M209.0 257.6h0M185.8 285.2h0M218.7 311.1h0M249.4 260.5h0M232.4 318.4h0M199.0 300.1h0M249.0 298.2h0M183.0 261.6h0M179.1 265.3h0M245.2 310.3h0M215.1 275.8h0M242.8 278.7h0M227.7 287.3h0M223.9 275.3h0M192.5 279.2h0M196.6 291.7h0" stroke="#e2d6ea" stroke-width="1" stroke-linecap="round" opacity="0.8"/>
<path d="M208.1 263.7h0M192.0 297.1h0M238.2 301.8h0M227.5 301.9h0M229.2 271.0h0M197.1 267.8h0M216.1 274.5h0M232.2 304.9h0M184.8 281.3h0M189.9 311.3h0M238.4 290.9h0M180.5 261.4h0M231.9 306.5h0M202.9 263.1h0M188.0 303.3h0M177.7 273.6h0M187.3 274.6h0M231.9 300.1h0M180.6 308.2h0M214.0 303.2h0M199.0 316.6h0M190.8 259.4h0M177.3 293.6h0M235.9 318.6h0" stroke="#e2d6ea" stroke-width="1.5" stroke-linecap="round" opacity="0.8"/>
<path d="M231.6 295.2h0M249.8 279.3h0M249.9 303.9h0M211.7 284.8h0M182.4 317.6h0M249.6 315.6h0M249.3 292.5h0M208.9 313.6h0M226.4 309.2h0M249.9 313.3h0M200.1 300.7h0" stroke="#eee8f2" stroke-width="0.5" stroke-linecap="round" opacity="0.8"/>
<path d="M230.2 286.8h0M179.0 302.6h0M194.6 282.0h0M211.2 269.1h0M213.2 273.3h0M187.9 290.2h0M201.7 310.8h0M191.6 301.6h0M180.8 288.8h0M222.1 299.0h0M215.7 316.1h0M201.9 269.0h0M238.1 270.2h0M209.7 256.0h0M242.3 263.9h0M208.9 300.8h0M232.3 313.9h0M203.8 291.5h0M227.0 298.2h0M196.5 288.4h0M190.4 312.3h0M221.4 273.3h0M233.0 311.7h0M199.1 272.4h0M204.4 290.1h0M217.2 300.4h0M244.6 307.5h0M229.8 259.2h0M218.2 299.9h0M201.7 260.1h0" stroke="#eee8f2" stroke-width="1.5" stroke-linecap="round" opacity="0.8"/>
<path d="M204.7 317.9h0M192.6 270.7h0M182.3 267.7h0M215.6 256.4h0M183.3 269.5h0M207.7 309.2h0M202.3 263.7h0M208.4 306.4h0M195.7 269.5h0M225.7 287.3h0M233.4 293.0h0M250.9 302.3h0M180.3 280.0h0M198.6 273.5h0M179.3 315.7h0M193.6 270.0h0M236.3 278.0h0M241.2 298.4h0M242.0 306.5h0M227.4 285.9h0M214.6 286.1h0M210.2 318.8h0M243.2 278.5h0M185.3 307.9h0M226.2 274.9h0M196.6 287.6h0M224.5 296.8h0M227.1 294.1h0M238.4 280.7h0M211.2 288.6h0M215.6 261.4h0M187.3 288.3h0M177.7 291.3h0M189.7 263.4h0M224.2 275.4h0M191.6 307.9h0M184.8 299.6h0M226.9 255.7h0M207.7 318.0h0" stroke="#eee8f2" stroke-width="1" stroke-linecap="round" opacity="0.8"/>
<path d="M216.4 256.5h0M187.6 297.2h0M195.2 255.6h0M181.5 314.0h0M206.3 280.9h0M221.3 281.0h0M244.0 268.1h0M248.0 312.1h0M228.6 302.9h0M224.3 276.4h0" stroke="#e2d6ea" stroke-width="0.5" stroke-linecap="round" opacity="0.8"/>
</g>
<rect x="159" y="244.2" width="112.8" height="83.8" fill="none" stroke="#3a3a3a" stroke-width="0.9"/>
<rect x="45" y="324.4" width="21.5" height="1.7" fill="#2a2a2a" stroke="none" stroke-width="0"/>
<text x="46.7" y="321.7" font-size="7.8" text-anchor="start" fill="#1a1a1a" stroke="#1a1a1a" stroke-width="0.18">500μm</text>
<rect x="164.6" y="324.2" width="22" height="1.7" fill="#2a2a2a" stroke="none" stroke-width="0"/>
<text x="166.3" y="321.6" font-size="7.8" text-anchor="start" fill="#1a1a1a" stroke="#1a1a1a" stroke-width="0.18">500μm</text>
<rect x="42" y="332.7" width="112.3" height="77.2" fill="#d2d7e3" stroke="none" stroke-width="0"/>
<clipPath id="ihc1"><rect x="42" y="332.7" width="112.3" height="77.2"/></clipPath>
<g clip-path="url(#ihc1)">
<path d="M146.8 357.6h0M78.5 356.1h0M107.3 338.2h0M46.8 395.8h0M124.9 388.2h0M66.7 375.3h0M115.1 343.6h0M66.3 382.7h0M85.2 355.0h0M108.1 351.6h0M121.6 345.3h0M88.6 396.1h0M88.7 360.8h0M71.3 390.1h0M75.8 391.7h0M151.0 398.8h0M105.5 374.4h0M134.5 343.1h0M42.2 356.4h0M59.4 344.3h0M84.3 364.3h0M137.9 399.6h0M76.4 382.7h0M152.9 378.2h0M123.2 391.1h0M149.2 334.6h0M42.5 363.7h0M146.6 392.3h0M54.9 366.9h0M114.4 337.4h0M153.1 376.4h0M111.9 367.2h0M81.1 371.3h0M126.2 371.1h0M87.6 339.5h0M102.5 348.8h0M83.7 368.6h0M94.0 357.6h0M88.5 350.0h0M62.9 400.5h0M99.3 340.9h0M111.9 395.3h0M98.0 347.9h0M96.3 353.7h0M143.8 345.2h0M121.3 381.7h0M114.0 352.5h0M48.0 376.0h0M90.8 348.2h0M106.3 344.2h0M83.7 366.9h0M116.3 378.0h0M129.3 334.7h0M105.6 409.2h0M98.6 406.6h0M43.2 342.1h0M82.5 354.7h0M116.2 403.4h0M137.3 368.2h0M121.8 392.0h0M71.3 361.3h0M119.5 343.6h0M146.8 392.7h0M99.4 347.2h0M67.1 406.5h0M148.0 345.8h0M141.8 346.9h0M149.1 407.2h0M114.3 401.1h0M66.4 367.2h0M105.5 363.0h0M80.3 371.2h0M110.1 374.9h0M84.6 335.7h0M84.1 369.0h0M62.8 392.8h0M77.4 385.8h0M110.1 408.9h0M82.3 352.0h0M129.9 363.5h0M69.3 385.0h0M58.0 393.1h0M64.1 355.5h0M83.5 389.1h0M151.9 394.2h0M105.6 335.9h0M93.0 347.7h0M102.6 404.4h0M95.6 345.4h0M82.0 360.9h0M132.4 379.8h0M79.4 378.5h0M42.7 367.8h0M132.6 376.7h0M146.6 405.9h0M63.8 400.4h0M119.7 357.8h0M84.4 402.9h0M145.7 370.3h0M79.0 345.0h0M128.5 395.2h0M118.8 361.8h0M78.8 375.1h0M116.6 369.8h0M75.1 401.2h0M150.0 339.1h0M108.2 350.4h0M99.7 363.7h0M106.2 378.0h0M97.0 334.7h0M61.7 361.2h0M91.2 355.0h0M93.8 387.8h0M74.2 348.5h0M81.8 370.6h0M62.8 386.0h0M88.8 389.3h0M88.6 391.3h0M102.7 351.3h0M74.8 394.0h0M81.1 360.6h0M102.4 378.9h0M110.4 382.0h0M125.7 397.6h0M141.6 350.4h0M118.3 389.6h0M140.1 332.7h0M81.4 381.0h0M144.0 352.5h0M51.8 371.0h0M89.1 404.8h0M44.1 386.8h0M86.9 363.4h0M138.0 409.1h0M122.6 373.2h0M136.4 365.5h0M152.9 385.5h0M120.2 358.5h0M103.9 377.7h0M125.1 374.2h0M87.6 389.5h0M149.4 406.4h0M132.1 345.4h0M103.8 332.2h0M98.6 398.5h0M123.1 343.2h0" stroke="#95a8d0" stroke-width="1" stroke-linecap="round" opacity="0.7"/>
<path d="M70.2 342.5h0M108.5 347.6h0M91.6 386.6h0M119.6 338.9h0M88.1 374.8h0M104.4 369.0h0M102.6 372.0h0M128.2 341.3h0M147.1 377.7h0M72.5 390.6h0M110.4 402.4h0M84.8 351.7h0M68.5 402.1h0M51.9 373.9h0M60.2 340.3h0M120.2 368.3h0M90.2 364.4h0M148.2 402.7h0M76.6 401.8h0M86.4 347.1h0M56.4 343.9h0M143.6 374.0h0M135.4 400.1h0M135.5 341.8h0M128.6 409.2h0M154.4 382.1h0M55.3 343.8h0M96.4 404.1h0M96.7 407.5h0M119.6 406.8h0M117.9 403.2h0M104.2 386.3h0M54.7 362.0h0M146.1 364.0h0M84.8 370.7h0M75.8 342.7h0M109.0 344.2h0M150.8 357.0h0M57.5 392.3h0M109.4 342.6h0M152.2 398.4h0M96.3 368.9h0M78.7 375.8h0M147.5 386.1h0M103.1 390.2h0M107.3 374.8h0M83.6 368.4h0M130.4 334.0h0M89.8 402.9h0M100.7 335.6h0M81.0 395.7h0M47.8 372.7h0M103.2 361.4h0M122.8 404.1h0M123.9 339.1h0M86.3 376.7h0M118.8 356.2h0M83.3 370.5h0M116.1 365.6h0M106.6 363.7h0M98.4 333.1h0M95.0 340.6h0M95.8 394.2h0M65.8 397.1h0M124.6 348.1h0M50.1 348.9h0M44.6 385.4h0M74.5 406.4h0M122.5 343.3h0M117.3 374.8h0M78.6 371.8h0M136.6 352.1h0M49.7 381.2h0M105.9 372.7h0M134.3 376.3h0M92.2 358.5h0M134.9 372.0h0M103.2 373.7h0M92.0 375.2h0M52.6 410.0h0M86.7 404.0h0M141.1 374.9h0M61.6 388.4h0M62.3 386.3h0M103.6 407.1h0M57.0 361.3h0M151.9 353.5h0M141.4 405.1h0M56.4 351.7h0M100.6 360.7h0M141.1 356.5h0M102.0 392.8h0M76.3 398.5h0M65.2 350.4h0M88.4 404.6h0M75.1 359.6h0M138.0 351.6h0M154.6 380.7h0M125.5 380.2h0M111.3 332.5h0M93.8 378.7h0M78.6 373.2h0M68.5 408.8h0M94.6 333.5h0M108.7 408.1h0M68.8 385.5h0M70.1 392.4h0M55.3 352.6h0M86.3 393.2h0M140.8 394.4h0M75.7 379.6h0M100.8 374.0h0M153.6 392.7h0M109.3 394.2h0M136.5 367.7h0M154.3 352.1h0M105.6 371.6h0M149.1 373.3h0M67.2 366.1h0M69.5 383.9h0M138.2 373.4h0M105.5 392.3h0M104.7 384.7h0M128.5 368.6h0M63.4 370.2h0M117.9 407.1h0M52.6 334.2h0M99.0 345.4h0M143.1 370.5h0M46.1 360.1h0M96.8 340.1h0M145.7 396.5h0M90.4 362.6h0M67.6 358.7h0M153.6 352.8h0M123.4 348.9h0M152.9 373.1h0M69.5 365.9h0M106.0 405.6h0M105.8 367.4h0M56.3 386.1h0M141.0 391.9h0M107.8 388.8h0M74.8 403.6h0M129.1 368.0h0M78.2 349.5h0M55.2 350.4h0M59.1 367.8h0M112.2 394.8h0M150.5 384.2h0M42.8 364.4h0M135.4 401.8h0M148.5 377.0h0M146.9 346.9h0M121.2 366.5h0M50.2 378.7h0M126.5 349.9h0M103.2 384.7h0M116.5 393.6h0M57.3 370.9h0M136.6 402.0h0M70.1 398.5h0M122.3 391.7h0M43.1 386.7h0M44.5 401.9h0M113.7 382.9h0M113.6 342.8h0M47.1 386.4h0M101.3 350.5h0M111.8 392.8h0M144.5 382.0h0" stroke="#8aa0cc" stroke-width="1" stroke-linecap="round" opacity="0.7"/>
<path d="M52.7 367.2h0M122.9 393.9h0M122.1 403.4h0M76.9 369.8h0M92.0 348.0h0M85.8 340.8h0M116.8 338.3h0M123.1 347.8h0M95.8 374.3h0M104.0 348.5h0M143.6 360.9h0M51.2 343.7h0M100.2 345.9h0M70.4 348.7h0M154.3 402.3h0M135.2 351.1h0M101.7 368.5h0M97.8 338.3h0M140.7 377.9h0M147.6 344.7h0M129.4 409.2h0M108.4 335.5h0M128.8 392.0h0M101.0 350.0h0M94.2 360.8h0M99.0 387.4h0M129.5 403.4h0M50.1 397.3h0M92.7 357.4h0M62.8 383.9h0M80.9 368.6h0M92.5 375.6h0M140.9 397.7h0M114.5 342.9h0M130.0 370.9h0M151.0 356.5h0M50.0 367.4h0M66.3 405.8h0M92.9 388.6h0M49.5 344.5h0M67.1 408.2h0M60.4 410.0h0M134.3 361.2h0M77.6 399.5h0M101.1 392.7h0M74.4 361.0h0M74.8 339.8h0M137.0 397.0h0M80.6 386.2h0M125.0 384.9h0M64.4 353.8h0M50.0 359.2h0M47.5 375.8h0M113.8 401.9h0M92.1 393.9h0M125.6 360.8h0M149.4 403.3h0M44.6 360.4h0M113.3 350.5h0M102.2 368.9h0M120.4 408.5h0M110.4 363.2h0M112.1 387.7h0M131.4 407.1h0M118.1 363.9h0M116.4 384.8h0M80.1 375.0h0M61.1 364.3h0M65.3 358.1h0M65.5 407.8h0M127.0 408.8h0M90.0 379.0h0M120.4 404.0h0M105.7 339.8h0M52.7 343.0h0M73.6 343.0h0M126.3 356.5h0M114.0 376.3h0M139.9 335.9h0M135.8 341.6h0M82.3 409.3h0M141.4 407.4h0M77.4 352.7h0M64.0 366.1h0M79.3 344.3h0M123.7 341.2h0M146.1 367.5h0M137.9 347.8h0M70.2 408.4h0M139.3 340.4h0M54.8 407.1h0M130.5 338.1h0M138.4 383.5h0M97.7 373.8h0M113.6 376.1h0M108.0 403.6h0M107.1 352.8h0M42.8 339.4h0M92.3 355.1h0M42.5 390.2h0M99.5 395.5h0M135.6 383.7h0M81.7 403.8h0M51.9 401.5h0M81.2 348.9h0M148.5 385.2h0M115.6 372.8h0M81.7 402.3h0M61.6 399.9h0M127.2 394.3h0M149.7 374.4h0M119.7 357.7h0M136.3 409.1h0M92.1 377.0h0M52.6 382.9h0M99.9 364.7h0M89.0 359.0h0M46.3 351.3h0M103.9 363.8h0M59.1 405.6h0M118.1 338.7h0M103.5 357.5h0M62.5 402.9h0M59.3 340.3h0M141.5 383.7h0M69.1 355.4h0M51.0 364.6h0M51.1 389.8h0M139.0 360.4h0M150.1 399.4h0M139.2 380.2h0M42.6 378.7h0M125.5 405.2h0M71.9 403.7h0M136.4 362.8h0M154.0 344.6h0M136.0 386.3h0M84.3 399.2h0M48.0 350.8h0M129.6 383.0h0M59.0 394.1h0M142.1 404.3h0M145.3 367.3h0M103.9 372.3h0M48.3 353.5h0M72.0 332.1h0M115.5 338.8h0M145.3 346.0h0M43.9 393.5h0M112.1 375.2h0M64.0 392.2h0M62.1 369.3h0M138.3 383.1h0M87.4 359.9h0M152.3 353.7h0M94.0 405.7h0M96.4 375.3h0M43.1 386.2h0M118.0 341.6h0M75.0 365.7h0M126.8 354.6h0M126.7 360.4h0M43.2 398.4h0M77.3 376.0h0M118.6 368.3h0M119.3 367.2h0M50.4 377.1h0M136.4 377.8h0M128.8 332.1h0M122.5 336.0h0M116.8 369.1h0M112.7 367.7h0M88.3 387.7h0M105.6 361.9h0M69.4 401.4h0M92.8 391.8h0M110.8 375.4h0M152.7 374.7h0M60.4 387.2h0M141.3 335.5h0M94.9 402.1h0M89.6 373.6h0M112.4 381.2h0M118.9 386.7h0M129.0 372.6h0M154.7 344.0h0M59.6 347.9h0M146.4 356.9h0M112.1 378.2h0M67.8 335.0h0M112.9 359.3h0M65.7 400.0h0M125.2 381.4h0M150.2 344.2h0M116.6 343.4h0M51.4 397.5h0M116.4 397.6h0M66.9 376.1h0M119.6 358.0h0M97.6 397.7h0M62.9 354.1h0M134.0 408.4h0M62.9 381.9h0M95.4 354.0h0M125.9 354.9h0M103.4 376.8h0M57.6 402.5h0M77.6 409.4h0M47.2 390.2h0M137.5 368.5h0M52.1 370.7h0M145.5 408.4h0M52.3 383.6h0M139.3 398.6h0M128.3 402.3h0M119.1 373.8h0M113.9 336.9h0M118.7 357.0h0M73.5 409.2h0M105.2 349.8h0M90.8 349.6h0M129.7 396.5h0M55.7 339.0h0M154.2 406.8h0M83.3 343.0h0M120.2 404.6h0M44.8 405.3h0M132.8 362.6h0M58.2 337.3h0M112.6 351.2h0M114.8 387.0h0M138.2 404.6h0M119.4 349.5h0M97.2 340.6h0M45.7 405.8h0M135.6 392.5h0M114.4 398.6h0M138.3 408.8h0M84.6 336.2h0M65.8 354.6h0M135.5 402.6h0M102.7 364.6h0M141.4 336.5h0M112.1 391.4h0M44.8 378.9h0M87.1 341.6h0M137.0 383.1h0M68.8 358.3h0" stroke="#7e96c6" stroke-width="1.5" stroke-linecap="round" opacity="0.7"/>
<path d="M113.6 353.6h0M47.8 396.2h0M76.5 384.9h0M100.4 341.6h0M55.6 362.2h0M69.1 334.3h0M149.8 362.7h0M92.8 339.2h0M65.0 335.3h0M85.5 370.4h0M138.1 387.5h0M76.6 408.5h0M74.2 377.2h0M99.8 400.1h0M130.5 384.3h0M88.0 343.7h0M50.0 366.7h0M141.3 393.3h0M80.5 396.4h0M46.9 402.4h0M72.8 350.9h0M112.9 339.0h0M146.5 390.2h0M153.7 397.1h0M72.3 390.8h0M114.0 336.9h0M59.3 384.6h0M71.8 354.8h0M121.6 399.1h0M79.3 391.9h0M74.7 399.4h0M146.4 375.9h0M85.8 402.9h0M64.5 352.0h0M120.7 369.7h0M153.5 343.0h0M70.1 393.9h0M98.0 364.6h0M49.8 407.7h0M84.7 392.0h0M91.6 371.1h0M55.1 364.1h0M95.1 336.4h0M117.3 355.7h0M106.4 358.9h0M150.0 356.0h0M95.7 336.6h0M64.7 377.4h0M47.1 375.4h0M54.6 365.4h0M131.7 333.9h0M105.9 361.9h0M141.9 390.3h0M138.4 368.9h0M76.6 344.7h0M106.5 386.5h0M84.8 361.4h0M92.0 395.2h0M59.8 403.4h0M81.4 354.4h0M83.2 365.8h0M154.0 395.3h0M45.6 372.1h0M91.5 344.9h0M88.6 336.1h0M48.9 347.2h0M110.9 369.0h0M102.5 353.6h0M96.0 389.7h0M132.7 397.3h0M125.3 375.1h0M126.3 369.0h0M97.4 357.4h0M83.1 368.1h0M101.2 336.3h0M42.9 376.6h0M74.9 383.1h0M135.8 341.9h0M121.2 401.2h0M64.7 384.2h0M108.1 365.9h0M143.0 396.6h0M125.2 368.6h0M113.6 402.4h0M50.4 396.0h0M122.5 376.3h0M55.4 334.1h0M98.1 340.5h0M89.2 339.4h0M98.9 408.0h0M59.3 394.1h0M66.5 369.6h0M119.6 359.6h0M93.0 336.4h0M134.7 372.4h0M84.5 388.4h0M148.2 345.1h0M48.2 339.6h0M47.2 366.4h0M94.8 384.9h0M65.0 350.5h0M119.7 357.4h0M153.9 346.9h0M105.4 375.5h0M66.4 401.0h0M56.1 349.0h0M88.7 360.0h0M97.5 382.2h0M57.6 378.5h0M61.7 399.5h0M115.4 389.4h0M110.3 375.1h0M151.2 382.3h0M83.1 384.6h0M151.9 337.0h0M101.2 350.0h0M66.9 367.6h0M117.9 374.7h0M149.7 364.6h0M147.9 371.5h0M52.8 410.0h0M137.1 362.6h0M75.9 391.7h0M74.7 340.8h0M102.6 350.1h0M121.5 357.6h0M66.8 351.0h0M70.1 348.8h0M74.6 336.2h0M143.3 356.8h0M87.6 379.1h0M116.0 339.7h0M121.0 354.5h0M148.0 339.2h0M141.2 394.1h0M102.1 399.0h0M52.7 399.9h0M120.5 357.0h0M100.7 372.0h0M117.1 370.1h0M129.2 342.8h0M59.6 347.7h0M126.5 352.8h0M141.6 349.7h0M101.2 367.9h0M109.5 399.5h0M73.6 337.8h0M56.0 383.0h0M80.8 361.7h0M119.7 356.1h0M79.6 342.8h0M104.0 347.2h0M107.2 380.3h0M76.4 360.1h0M70.3 386.4h0M71.7 367.2h0M106.8 375.8h0M116.7 356.9h0M135.6 385.3h0M116.2 391.9h0M47.9 332.8h0M149.0 332.3h0M99.6 341.5h0M84.2 336.1h0M86.2 370.4h0M86.5 376.0h0M46.1 403.3h0M134.0 359.4h0M144.0 375.6h0M101.5 372.1h0M43.8 357.8h0M69.1 381.1h0M50.9 403.2h0M111.7 376.4h0M112.3 343.2h0M94.6 358.1h0M73.1 354.4h0M97.5 363.8h0M63.7 365.8h0M87.0 335.6h0M106.9 351.5h0M42.6 384.3h0M128.0 345.2h0M125.0 397.5h0M82.0 350.7h0M50.4 388.5h0M82.6 403.6h0M128.0 370.7h0M149.2 400.4h0M84.6 370.5h0M63.1 336.1h0M124.5 393.0h0M137.9 385.5h0M130.0 401.0h0M56.8 383.6h0M56.9 396.5h0M111.5 355.5h0M83.3 359.5h0M126.5 365.9h0M59.7 343.7h0M149.1 370.6h0M121.0 394.7h0M138.7 363.4h0M110.0 338.9h0M67.3 354.1h0M119.5 367.1h0M112.5 351.4h0M141.0 399.7h0M75.5 366.2h0M90.6 371.8h0M85.4 333.8h0M55.7 400.4h0M46.6 360.1h0M117.2 366.1h0M146.4 402.7h0M96.3 397.7h0M68.9 392.7h0M96.0 361.6h0M118.8 382.9h0M145.0 374.6h0M64.7 346.0h0M96.7 395.3h0M99.5 388.3h0M64.7 406.5h0M121.4 351.9h0M111.9 384.7h0M134.0 372.0h0M106.9 401.6h0M141.9 398.0h0M47.3 334.2h0M138.9 388.6h0M124.5 394.5h0M84.6 405.8h0M70.7 353.4h0M43.1 364.0h0M84.6 405.8h0M95.9 384.7h0M126.6 404.0h0M75.3 380.9h0M137.5 340.8h0M154.7 334.1h0M53.9 396.0h0M144.4 400.1h0M104.9 350.9h0M109.4 407.4h0M116.3 337.3h0M72.9 345.0h0M132.7 341.1h0M99.3 408.3h0M136.0 340.1h0M71.1 336.7h0M54.1 358.7h0M149.3 389.1h0M61.7 332.3h0M85.1 333.8h0M154.0 394.7h0M152.1 344.1h0M85.4 367.8h0" stroke="#7a92c4" stroke-width="1.5" stroke-linecap="round" opacity="0.7"/>
<path d="M65.4 366.2h0M110.8 358.6h0M49.4 343.7h0M71.8 342.8h0M61.7 391.0h0M115.4 333.6h0M145.5 377.8h0M137.9 408.0h0M43.7 375.7h0M55.2 353.9h0M153.5 381.3h0M100.1 338.9h0M78.0 398.4h0M77.2 334.1h0M88.4 349.8h0M109.5 367.1h0M108.3 344.3h0M82.1 403.2h0M67.6 334.1h0M144.8 336.2h0M47.4 403.2h0M71.0 356.6h0M79.0 402.5h0M42.7 334.0h0M63.1 381.3h0M91.5 389.4h0M42.4 373.0h0M140.2 362.0h0M65.9 394.8h0M95.6 342.6h0M79.1 397.8h0M85.1 360.1h0M56.4 352.4h0M53.7 346.2h0M78.3 386.3h0M84.9 385.3h0M93.5 401.2h0M87.3 383.1h0M136.4 406.4h0M42.7 379.4h0M66.6 346.6h0M117.7 347.8h0M97.6 369.2h0M87.2 407.6h0M53.3 369.6h0M45.0 388.4h0M104.8 369.1h0M122.7 333.7h0M70.1 371.3h0M119.1 353.6h0M84.2 400.0h0M130.0 397.0h0M42.8 401.7h0M142.9 404.4h0M82.4 365.2h0M107.6 343.5h0M117.8 356.8h0M97.1 353.0h0M149.1 407.9h0M107.2 406.7h0M55.7 376.5h0M146.2 397.2h0M117.1 363.8h0M96.7 403.4h0M81.4 351.2h0M98.0 372.3h0M125.2 349.5h0M64.8 336.9h0M65.3 336.2h0M65.0 409.2h0M49.6 370.5h0M57.0 334.6h0M93.1 393.3h0M52.2 335.9h0M67.2 338.5h0M149.3 391.1h0M125.6 390.8h0M76.2 339.6h0M61.4 365.1h0M93.2 360.4h0M74.9 373.2h0M68.0 368.7h0M150.7 340.0h0M98.4 404.4h0M110.7 343.8h0M42.1 372.3h0M138.5 382.5h0M51.0 376.9h0M109.0 378.7h0M93.3 373.5h0M99.7 379.1h0M95.3 380.0h0M119.7 370.8h0M71.5 398.0h0M76.3 379.1h0M130.8 338.2h0M87.2 337.8h0M43.7 363.6h0M79.3 400.0h0M63.9 334.2h0M144.9 400.8h0M137.2 400.1h0M75.1 364.1h0M95.1 365.7h0M146.0 405.5h0M148.6 336.3h0M134.2 391.7h0M145.2 345.7h0M42.7 363.8h0M87.3 362.8h0M79.4 346.3h0M49.3 361.7h0M78.8 339.1h0M118.6 349.3h0M50.4 346.1h0M42.5 374.7h0M109.1 349.1h0M109.4 359.0h0M106.5 386.4h0M71.1 337.6h0M80.6 357.7h0M116.3 388.6h0M87.9 389.1h0M144.7 388.0h0M73.6 332.7h0M128.5 393.1h0M57.5 354.1h0M137.5 386.9h0M52.6 392.9h0M75.0 346.2h0M72.7 351.4h0M102.5 353.0h0M43.0 378.9h0M120.2 341.0h0M66.8 367.0h0M52.1 350.0h0M142.8 361.5h0M94.2 334.0h0M137.3 367.4h0M51.3 350.0h0M44.3 342.4h0M100.2 396.5h0M105.9 405.1h0M98.6 400.8h0M67.4 358.3h0M149.6 368.6h0M55.0 348.5h0M54.5 339.8h0M96.8 361.5h0M128.0 374.2h0M151.5 408.1h0M64.3 344.8h0M83.8 390.6h0M151.8 364.2h0M87.4 389.6h0M115.2 355.2h0M97.8 348.0h0M84.0 351.8h0M136.5 339.1h0M60.4 380.5h0M96.5 360.8h0M79.2 347.6h0M65.6 356.5h0M147.2 356.8h0M92.5 398.4h0M62.9 391.8h0M108.6 402.8h0M143.6 379.0h0M132.8 360.6h0M89.3 374.9h0M106.1 375.5h0M54.7 340.7h0M54.1 343.5h0M55.9 390.6h0M81.6 354.4h0M53.8 335.9h0M71.6 395.2h0M151.3 334.5h0M77.9 365.4h0M140.0 370.5h0M115.2 408.7h0" stroke="#7a92c4" stroke-width="1" stroke-linecap="round" opacity="0.7"/>
<path d="M139.6 384.1h0M72.0 345.6h0M121.4 345.7h0M119.7 359.2h0M57.5 367.1h0M89.9 333.1h0M90.4 388.0h0M52.9 363.2h0M149.3 351.1h0M89.2 395.4h0M107.3 332.9h0M96.4 341.5h0M109.9 369.9h0M152.0 382.8h0M42.1 361.8h0M56.7 367.0h0M86.8 370.2h0M86.6 367.4h0M113.9 383.8h0M100.4 350.2h0M150.2 337.2h0M84.8 392.0h0M103.5 398.8h0M135.4 352.7h0M42.8 379.3h0M54.0 393.8h0M57.7 375.0h0M143.5 341.6h0M53.4 387.7h0M79.7 344.3h0M88.5 353.8h0M136.9 393.2h0M49.2 349.2h0M51.1 393.5h0M110.7 346.9h0M111.3 379.5h0M73.3 386.1h0M69.9 383.8h0M124.0 370.4h0M146.4 378.9h0M91.5 392.2h0M148.6 333.6h0M125.4 346.6h0M153.3 350.8h0M60.6 398.6h0M51.3 355.5h0M66.9 405.3h0M128.2 351.7h0M99.7 394.3h0M64.1 409.5h0M150.2 332.6h0M59.5 390.1h0M84.0 397.6h0M48.6 373.9h0M47.7 405.4h0M73.2 359.5h0M129.1 332.6h0M69.6 409.7h0M72.0 400.3h0M45.0 390.6h0M149.1 384.7h0M133.3 335.2h0M83.6 338.7h0M107.4 405.6h0M93.7 367.3h0M104.8 380.0h0M113.1 376.9h0M115.6 389.1h0M90.9 410.0h0M44.8 399.2h0M136.1 362.3h0M152.8 402.0h0M110.9 355.1h0M68.3 389.4h0M91.0 385.5h0M84.4 341.8h0M137.4 360.3h0M76.3 366.5h0M123.7 332.9h0M55.2 403.8h0M147.2 403.0h0M52.3 361.5h0M141.8 366.1h0M56.7 372.4h0M111.2 390.8h0M72.2 405.2h0M57.7 401.0h0M119.8 387.3h0M120.8 337.8h0M152.4 382.6h0M48.1 399.7h0M97.1 408.5h0M106.9 364.4h0M91.4 352.0h0M124.6 399.7h0M59.8 407.6h0M103.9 405.5h0M96.0 338.2h0M106.4 406.6h0M46.3 383.9h0M119.6 369.5h0M136.5 370.2h0M113.3 367.1h0M114.4 344.0h0M127.1 337.8h0M113.8 358.6h0M140.4 377.2h0M111.9 336.5h0M114.3 361.5h0M146.0 408.8h0M45.6 401.2h0M51.4 351.9h0M52.0 368.0h0M116.4 333.7h0M102.2 364.2h0M136.1 351.8h0M146.7 372.5h0M108.1 387.0h0M64.2 378.1h0M148.6 338.6h0M134.3 344.8h0M64.2 404.2h0M152.9 344.8h0M59.8 392.2h0M47.1 352.7h0M138.9 357.0h0M109.7 332.1h0M71.7 335.9h0M71.4 406.4h0M63.7 343.5h0M113.0 381.1h0M138.8 369.9h0M46.4 356.8h0M133.3 336.9h0M82.2 398.4h0M96.4 349.6h0M153.9 379.7h0M63.6 387.1h0M69.3 352.1h0M72.0 341.5h0M58.5 382.9h0M43.9 342.0h0M56.3 354.9h0M86.0 390.7h0M91.0 373.5h0M121.1 393.9h0M49.6 394.9h0M130.9 392.2h0M84.8 383.3h0M125.4 348.4h0M96.3 369.5h0M75.0 408.2h0M83.3 340.6h0M92.2 393.9h0M90.9 356.1h0M69.4 370.5h0M132.7 365.1h0M46.2 355.7h0M73.4 352.5h0M109.5 354.1h0M113.3 397.4h0M54.1 404.7h0M60.0 382.5h0M60.5 397.1h0M92.1 346.3h0M55.5 396.2h0M150.4 336.2h0M124.7 364.0h0M107.7 382.0h0M72.2 383.3h0M99.8 342.7h0M128.3 357.8h0M97.2 399.6h0M43.2 406.4h0M116.7 390.2h0M99.7 401.1h0M43.9 408.4h0M86.2 388.0h0M103.2 350.5h0M79.4 383.8h0M89.2 359.7h0M108.2 389.0h0M76.6 334.2h0M130.2 393.8h0M134.6 394.1h0M150.9 333.2h0M47.7 347.3h0M64.1 395.4h0M73.7 369.0h0M45.8 355.7h0M128.2 368.3h0M94.7 381.1h0M64.3 404.2h0M153.4 408.9h0M145.1 401.2h0M66.9 400.7h0M151.5 364.1h0M115.7 352.8h0M119.8 352.0h0M89.4 381.0h0M143.4 372.2h0M79.1 357.2h0M74.1 360.6h0M123.3 349.0h0M152.0 374.9h0M100.5 408.1h0M121.7 396.6h0M131.3 395.3h0M138.4 409.7h0M151.9 388.8h0M134.8 359.6h0M103.0 406.6h0M88.8 352.5h0M144.5 377.8h0M138.3 337.8h0M90.0 366.5h0M134.3 365.5h0M119.8 337.2h0M128.7 398.1h0M47.6 385.9h0M145.0 380.4h0M82.0 348.6h0M127.4 383.0h0M46.3 395.5h0M144.1 357.2h0M52.1 405.7h0M64.2 356.6h0M138.8 391.8h0M98.1 377.3h0M108.0 404.7h0M66.8 367.2h0M73.9 349.2h0M57.9 346.5h0M43.5 406.1h0M75.4 401.5h0M116.3 368.8h0M93.3 395.6h0M57.3 370.7h0M128.8 363.4h0M71.3 344.4h0M108.9 353.2h0M122.7 340.6h0M144.7 366.3h0M95.4 407.9h0M102.3 335.3h0M124.1 338.8h0M142.5 349.6h0M107.4 383.8h0M64.2 332.5h0M111.9 407.6h0M100.5 364.5h0M73.2 388.2h0M44.5 344.6h0M73.9 372.5h0M122.7 347.0h0M140.3 366.4h0M55.9 362.1h0M80.7 347.5h0M66.2 388.8h0M56.6 339.2h0M88.6 372.2h0M84.0 398.9h0M58.8 389.2h0M151.3 336.3h0M100.3 360.6h0M55.8 390.7h0M87.5 407.6h0M116.7 349.2h0" stroke="#95a8d0" stroke-width="1.5" stroke-linecap="round" opacity="0.7"/>
<path d="M49.4 367.2h0M106.1 339.1h0M51.2 400.5h0M107.9 348.4h0M150.4 366.0h0M58.0 363.2h0M95.0 344.3h0M65.7 374.6h0M102.0 385.8h0M49.9 364.3h0M107.5 382.2h0M90.3 364.6h0M136.7 333.2h0M121.7 334.3h0M145.2 381.8h0M51.7 369.5h0M153.5 407.2h0M65.3 369.5h0M88.5 389.8h0M83.3 386.5h0M46.6 333.5h0M83.9 349.9h0M131.9 388.9h0M59.2 394.9h0M101.5 344.2h0M62.4 336.5h0M129.6 382.0h0M86.7 359.4h0M125.3 375.3h0M66.9 341.9h0M129.2 364.7h0M53.3 346.3h0M149.4 343.9h0M121.1 373.6h0M101.2 358.7h0M49.8 393.7h0M148.7 395.8h0M63.6 388.9h0M71.7 385.6h0M108.0 377.6h0M114.0 363.3h0M136.9 376.9h0M49.8 371.7h0M86.3 373.5h0M145.7 404.5h0M70.4 378.5h0M70.3 363.0h0M125.6 360.5h0M64.3 352.4h0M54.6 336.0h0M69.7 345.7h0M147.0 379.9h0M144.3 394.3h0M126.6 345.6h0M128.6 335.7h0M52.9 381.9h0M118.5 338.5h0M150.4 388.1h0M64.3 362.4h0M65.0 395.6h0M69.1 363.1h0M140.8 357.3h0M124.3 369.7h0M78.2 341.7h0M136.1 404.5h0M72.8 405.8h0M94.8 406.9h0M142.2 389.0h0M74.0 373.1h0M145.7 346.7h0M147.2 396.0h0M70.7 347.4h0M131.8 365.5h0M131.8 403.5h0M154.2 390.2h0M148.0 355.7h0M71.8 398.3h0M71.2 404.1h0M153.1 379.7h0M122.1 361.2h0M80.2 358.4h0M108.4 396.5h0M86.6 365.9h0M72.9 335.4h0M80.8 370.2h0M49.4 343.1h0M137.2 370.8h0M62.0 406.0h0M137.0 336.2h0M141.3 362.2h0M56.4 364.2h0M48.2 403.6h0M86.3 375.6h0M130.9 359.3h0M144.0 369.3h0M46.4 378.3h0M62.3 407.6h0M140.6 359.7h0M102.8 361.4h0M88.1 369.8h0M103.3 361.2h0M91.9 337.9h0M80.0 358.0h0M125.0 386.4h0M100.0 399.9h0M128.8 332.1h0M120.8 360.6h0M124.6 336.9h0M88.9 374.3h0M128.3 403.2h0M71.3 384.5h0M75.9 366.8h0M96.5 342.3h0M75.7 368.1h0M133.1 354.2h0M136.1 355.6h0M114.5 378.6h0M71.6 391.9h0M62.6 391.0h0M43.2 377.5h0M148.3 345.6h0M139.8 340.2h0M57.7 401.4h0M83.0 408.5h0M45.5 344.4h0M92.1 338.9h0M69.8 355.1h0M143.3 396.2h0M106.8 350.8h0M47.3 385.0h0M114.9 394.0h0M48.8 347.9h0M49.3 378.3h0M120.8 377.6h0M126.6 391.2h0M55.2 376.1h0M148.4 339.3h0M128.3 339.5h0M139.8 379.0h0M130.0 405.2h0M54.0 400.7h0M138.9 359.4h0M82.6 332.9h0M75.2 391.9h0M90.0 384.7h0M88.4 392.0h0M99.8 347.3h0M101.0 354.3h0M91.7 361.2h0M63.3 355.4h0M99.8 337.2h0M77.7 394.4h0M154.0 366.1h0M85.5 342.6h0M61.5 356.2h0M98.0 335.2h0M66.1 365.5h0M54.5 406.7h0M124.5 347.4h0M77.6 365.6h0M83.9 406.4h0M118.9 360.9h0M85.5 341.0h0M68.5 365.1h0M75.1 390.8h0M63.8 345.5h0M47.0 392.4h0M60.7 379.7h0M70.8 350.2h0M54.8 369.7h0M48.5 364.6h0M72.5 360.3h0M82.1 409.1h0M134.3 354.3h0M149.6 385.8h0" stroke="#a4b4d6" stroke-width="1" stroke-linecap="round" opacity="0.7"/>
<path d="M44.1 391.2h0M122.6 332.1h0M96.2 351.3h0M71.3 386.7h0M70.4 407.6h0M151.3 386.6h0M102.5 351.6h0M105.2 366.9h0M50.3 408.8h0M130.5 350.1h0M142.4 388.9h0M99.1 392.3h0M97.9 347.6h0M108.9 406.9h0M88.6 359.8h0M124.8 359.8h0M60.3 349.8h0M58.6 373.6h0M111.1 333.8h0M44.0 345.7h0M108.6 336.2h0M113.0 335.9h0M60.9 340.1h0M73.9 366.0h0M143.0 357.6h0M112.1 405.3h0M47.7 337.7h0M64.3 353.3h0M118.0 355.9h0M134.3 393.5h0M90.7 370.9h0M98.1 396.7h0M80.8 375.9h0M132.6 375.0h0M78.4 397.8h0M145.6 343.3h0M141.2 337.5h0M47.8 373.9h0M57.4 349.5h0M104.8 406.7h0M83.6 361.0h0M145.8 374.3h0M99.3 332.7h0M150.7 334.7h0M103.0 409.4h0M97.9 376.3h0M136.6 398.2h0M68.3 385.4h0M79.3 351.6h0M72.0 375.3h0M126.4 375.2h0M45.0 345.1h0M117.0 345.0h0M57.9 407.0h0M135.5 385.3h0M55.0 344.3h0M103.9 382.0h0M45.7 406.8h0M147.4 408.4h0M101.2 350.2h0M124.2 349.4h0M111.5 346.9h0M52.2 393.2h0M59.5 349.5h0M64.5 339.3h0M70.6 374.9h0M151.8 366.8h0M106.3 377.3h0M75.4 351.2h0M120.6 398.0h0M58.3 379.2h0M81.3 398.9h0M80.0 361.5h0M46.7 336.9h0M97.7 393.4h0M53.3 404.9h0M129.3 395.1h0M122.4 343.6h0M100.7 377.9h0M89.2 339.7h0M76.0 353.5h0M101.7 340.2h0M110.5 376.8h0M97.6 402.6h0M77.2 357.1h0M136.4 398.4h0M141.8 351.4h0M126.5 366.6h0M114.9 396.4h0M122.3 349.2h0M145.6 394.3h0M108.4 373.1h0M149.6 375.8h0M65.1 335.1h0M61.9 371.4h0M113.8 395.1h0M101.8 393.0h0M54.1 391.6h0M93.7 389.1h0M149.1 370.8h0M57.7 409.5h0M45.7 396.5h0M150.6 365.9h0M154.4 403.4h0M78.9 366.2h0M151.9 390.1h0M62.0 348.3h0M99.7 345.7h0M76.9 340.3h0M61.2 348.3h0M140.3 406.4h0M152.5 337.7h0M90.5 408.7h0M141.4 338.0h0M50.8 401.9h0M131.8 376.6h0M122.1 338.5h0M119.9 385.6h0M91.6 335.0h0M81.2 386.1h0M80.6 354.6h0M71.1 361.6h0M96.1 338.1h0M122.5 398.3h0M127.5 389.0h0M59.3 365.1h0M77.7 365.6h0M67.2 394.4h0M79.0 338.2h0M120.1 378.4h0M126.1 396.3h0M67.6 343.0h0M70.0 349.0h0M89.1 382.4h0M67.1 405.4h0M57.9 405.4h0M71.5 359.2h0M145.7 378.9h0M136.5 387.8h0M131.1 342.0h0M63.4 351.0h0M151.5 358.3h0M126.3 359.4h0M55.0 371.0h0M83.6 355.1h0M143.0 345.6h0M116.9 351.5h0M154.0 339.5h0M81.7 356.9h0M99.8 373.7h0M65.4 407.1h0M134.8 356.4h0M95.3 378.2h0M64.2 351.2h0M46.6 363.9h0M150.2 338.9h0M148.6 336.4h0M143.5 394.8h0M61.7 361.2h0M82.4 391.5h0M94.2 398.9h0M117.9 406.8h0M78.0 392.3h0M60.8 354.3h0M88.2 386.1h0M42.6 375.0h0M68.0 356.3h0M84.6 397.2h0M137.2 354.1h0M135.7 339.2h0M136.9 333.3h0M121.1 335.3h0M75.6 359.0h0M154.0 390.7h0M119.8 382.2h0M55.6 334.0h0M68.0 376.4h0M144.0 400.1h0M138.8 353.2h0M148.7 380.5h0M147.1 335.3h0M145.8 347.4h0M130.2 408.5h0M84.0 366.8h0M68.6 344.4h0M91.0 407.4h0M113.5 352.6h0M58.5 383.9h0M50.8 398.4h0M153.1 343.6h0M110.4 404.8h0M118.7 353.7h0M77.5 393.8h0M49.4 373.8h0M150.1 338.4h0M146.4 390.6h0M134.8 380.9h0M113.2 404.7h0M135.3 370.1h0M45.3 397.4h0M113.9 334.0h0M71.0 351.4h0M67.2 350.5h0M111.8 404.4h0M135.9 338.0h0M79.9 351.9h0M111.8 353.2h0M77.0 408.5h0M46.0 338.7h0M146.4 395.6h0M118.6 334.2h0M143.9 387.1h0M75.0 379.5h0M98.5 388.7h0M142.8 357.5h0M57.7 387.2h0M52.5 401.1h0M138.0 392.8h0M153.5 333.5h0M86.7 341.8h0M110.0 372.3h0M78.8 356.6h0M85.4 372.7h0M144.8 387.8h0M91.2 379.2h0M122.6 362.2h0M81.2 407.6h0M63.1 377.0h0M103.1 373.2h0M62.0 336.0h0M108.5 393.6h0M54.1 373.1h0M131.8 376.3h0M95.2 359.9h0M72.0 405.1h0M131.1 361.3h0M58.3 335.2h0M92.1 375.8h0M54.8 339.7h0M87.2 340.3h0M137.0 388.4h0M144.7 338.7h0M150.7 376.8h0M124.5 388.1h0M54.6 374.5h0M119.4 397.9h0" stroke="#8aa0cc" stroke-width="1.5" stroke-linecap="round" opacity="0.7"/>
<path d="M95.8 379.5h0M46.5 385.5h0M153.1 334.8h0M128.9 355.5h0M141.9 388.4h0M113.9 406.8h0M86.8 367.8h0M123.9 366.9h0M118.9 405.0h0M42.2 357.4h0M141.3 341.3h0M119.1 367.7h0M106.7 391.6h0M107.7 382.4h0M142.9 343.9h0M47.9 381.5h0M149.1 338.7h0M109.3 356.5h0M154.3 409.6h0M152.6 375.9h0M117.7 332.9h0M91.4 344.1h0M148.6 335.6h0M61.1 366.4h0M135.5 360.4h0M120.1 336.5h0M119.3 383.1h0M43.9 344.5h0M65.9 350.8h0M109.0 342.8h0M143.7 375.8h0M132.1 340.6h0M105.3 363.9h0M47.3 366.2h0M102.6 378.6h0M51.6 370.7h0M121.0 402.2h0M153.1 407.2h0M152.7 392.6h0M43.3 392.1h0M65.3 401.5h0M118.5 382.1h0M95.6 340.6h0M63.8 366.1h0M82.4 376.5h0M128.0 346.3h0M89.6 361.2h0M54.4 407.3h0M111.4 383.1h0M147.4 375.6h0M75.5 360.8h0M64.8 393.3h0M136.1 397.5h0M107.2 389.4h0M96.8 408.7h0M68.4 378.7h0M81.5 405.8h0M61.9 405.7h0M84.6 383.0h0M56.0 382.9h0M87.2 403.4h0M147.1 407.7h0M98.4 344.8h0M104.5 339.3h0M152.2 363.2h0M79.5 395.6h0M50.9 371.5h0M138.7 363.0h0M81.7 368.0h0M92.7 405.3h0M87.3 337.1h0M75.0 371.7h0M114.7 351.6h0M108.0 391.8h0M116.3 400.9h0M138.9 356.7h0M64.7 401.2h0M75.2 358.3h0M129.5 333.6h0M126.7 363.9h0M70.9 368.7h0M44.9 372.6h0M57.1 369.4h0M57.3 332.0h0M77.6 344.1h0M137.5 402.8h0M93.1 360.6h0M57.6 342.5h0M107.6 365.0h0M57.7 354.7h0M148.4 333.0h0M106.5 346.8h0M93.8 341.1h0M50.9 350.4h0M126.4 343.9h0M127.0 402.4h0M145.5 399.3h0M87.4 350.6h0M78.9 346.5h0M58.9 408.1h0M130.4 332.6h0M107.8 378.9h0M100.8 370.8h0M54.7 393.5h0M57.4 377.6h0M57.2 408.8h0M107.8 396.7h0M86.4 363.1h0M49.0 361.8h0M51.7 370.1h0M75.5 370.3h0M152.9 369.8h0M78.1 357.7h0M114.3 337.6h0M80.9 364.6h0M65.0 385.0h0M66.6 366.7h0M64.3 353.9h0M126.3 369.4h0M80.4 388.7h0M93.1 406.5h0M51.2 347.1h0M57.1 404.7h0M128.0 374.0h0M143.6 395.9h0M69.5 344.2h0M110.3 334.3h0M147.0 343.4h0M113.2 407.7h0M106.8 360.3h0M122.8 361.1h0M95.9 373.1h0M132.2 382.8h0M113.2 347.7h0M90.0 389.0h0M129.6 333.5h0M128.3 409.3h0M121.2 344.1h0M84.3 340.4h0M116.4 388.3h0M105.8 385.4h0M65.0 401.3h0M129.5 378.4h0M71.3 362.9h0M113.0 376.5h0M100.8 409.6h0M131.9 365.9h0M73.4 373.0h0M59.3 344.3h0M48.2 338.2h0M80.7 358.4h0M43.2 393.5h0M70.7 405.3h0M89.2 332.4h0M129.9 397.3h0M91.3 336.1h0M64.4 371.0h0M85.9 334.0h0M95.7 399.5h0M140.9 379.9h0M144.8 401.5h0M117.3 397.7h0M141.8 386.4h0M52.5 371.8h0M97.9 334.6h0M78.5 335.9h0M74.0 354.9h0M58.4 360.7h0M62.1 366.8h0" stroke="#7e96c6" stroke-width="1" stroke-linecap="round" opacity="0.7"/>
<path d="M61.0 403.1h0M72.3 342.8h0M116.2 398.5h0M149.1 406.7h0M49.0 400.8h0M110.2 340.1h0M139.0 344.7h0M106.2 376.8h0M44.3 396.5h0M96.2 405.3h0M148.6 388.9h0M151.5 365.5h0M136.7 371.5h0M109.1 350.9h0M150.5 333.3h0M144.8 391.1h0M106.8 407.2h0M112.3 343.7h0M110.8 394.8h0M93.0 357.7h0M103.3 389.9h0M66.5 373.6h0M130.2 404.9h0M148.3 394.4h0M103.8 391.3h0M80.2 372.6h0M117.5 336.0h0M75.5 392.5h0M140.7 346.9h0M142.0 350.3h0M80.6 342.9h0M60.9 340.0h0M154.9 407.4h0M128.4 381.7h0M79.7 407.1h0M54.1 368.6h0M127.6 400.0h0M150.8 370.1h0M57.2 402.0h0M48.7 401.4h0M47.2 378.0h0M132.1 358.2h0M42.6 356.2h0M108.3 356.0h0M87.1 376.9h0M143.9 376.4h0M69.7 341.7h0M72.9 355.1h0M149.0 387.4h0M93.3 390.1h0M147.8 396.9h0M116.9 355.9h0M79.9 400.5h0M150.8 396.7h0M53.7 363.0h0M139.1 361.5h0M44.5 380.4h0M116.2 403.1h0M73.7 339.3h0M42.8 352.1h0M55.1 392.0h0M94.6 346.5h0M120.2 377.7h0M72.9 384.5h0M73.6 366.0h0M153.3 384.3h0M126.7 381.0h0M55.8 401.5h0M122.5 401.7h0M146.2 354.6h0M92.2 361.2h0M73.7 372.0h0M66.8 336.6h0M153.5 359.0h0M83.3 358.9h0M81.5 391.5h0M71.8 407.1h0M106.9 349.9h0M90.7 351.0h0M97.3 333.1h0M57.8 359.6h0M46.7 396.9h0M110.1 396.7h0M83.6 381.1h0M122.3 344.6h0M66.2 396.6h0M124.2 382.4h0M79.3 392.7h0M66.8 361.0h0M123.6 364.5h0M74.8 406.7h0M47.9 398.9h0M108.5 377.4h0M88.6 369.9h0M86.9 353.9h0M149.9 334.3h0M72.3 372.2h0M131.9 334.2h0M51.3 404.8h0M44.4 404.9h0M104.2 373.0h0M103.1 405.0h0M131.4 393.0h0M114.8 355.2h0M83.3 390.0h0M74.5 375.1h0M148.3 368.7h0M89.2 351.7h0M129.4 372.2h0M149.3 352.4h0M105.0 402.1h0M150.4 392.2h0M116.8 389.2h0M128.1 386.1h0M63.0 350.0h0M130.4 337.5h0M45.1 338.1h0M109.2 353.3h0M120.9 360.1h0M80.3 397.6h0M96.9 372.6h0M67.9 337.5h0M65.8 361.1h0M50.0 356.0h0M131.5 335.2h0M76.0 346.7h0M124.0 367.7h0M68.4 386.8h0M127.9 369.6h0M79.7 354.3h0M97.9 395.3h0M142.5 385.1h0M94.8 387.6h0M144.7 389.3h0M48.8 340.7h0M65.1 346.0h0M58.7 355.1h0M133.7 379.8h0M86.9 406.4h0M145.9 375.7h0M100.0 397.9h0M144.9 347.2h0M149.7 338.3h0M60.0 375.0h0M77.4 363.2h0M106.0 354.4h0M50.6 388.6h0M65.1 380.5h0M66.9 377.4h0M115.7 388.9h0M80.3 399.7h0M48.4 390.0h0M90.1 332.5h0M100.9 407.8h0M61.4 350.0h0M142.5 344.6h0M63.2 386.0h0M57.1 381.4h0M154.6 362.3h0M65.7 379.3h0M62.3 346.5h0M79.4 406.7h0M50.1 337.1h0M91.2 387.9h0M66.2 366.1h0M130.3 369.0h0M98.9 340.5h0M122.4 358.6h0M79.9 397.5h0M151.9 361.0h0M124.8 382.8h0M49.9 405.6h0M149.7 396.1h0M107.6 403.9h0M96.0 377.3h0M134.5 375.9h0M78.2 361.2h0M60.2 404.3h0M131.0 398.0h0M73.4 378.1h0M83.6 343.4h0M86.3 376.5h0M74.0 364.4h0M101.8 407.8h0M127.1 338.8h0M118.5 363.2h0M96.8 373.4h0M84.0 333.0h0M142.2 340.5h0M81.1 394.2h0M147.6 358.3h0M79.7 409.5h0M134.6 370.2h0M54.7 407.6h0M64.8 396.3h0M94.4 352.0h0M107.3 371.0h0M143.1 358.6h0M48.9 348.3h0M63.8 346.1h0M137.5 332.1h0M88.1 367.4h0M118.6 393.7h0M153.7 354.3h0M123.1 341.3h0M116.4 376.9h0M107.5 333.4h0M91.7 353.0h0M97.2 378.1h0M81.5 360.6h0M118.3 401.1h0M79.3 359.8h0M107.5 380.3h0M52.7 392.8h0M54.4 393.9h0M77.1 382.1h0M57.2 372.6h0M149.4 393.4h0M142.6 340.5h0M88.2 349.8h0M64.2 347.1h0M146.0 396.4h0M58.3 366.3h0M151.4 408.0h0M151.6 364.9h0M61.2 407.6h0M101.7 354.3h0M99.8 397.0h0M66.5 360.3h0M102.2 339.7h0M42.3 394.4h0" stroke="#b6c2dc" stroke-width="1.5" stroke-linecap="round" opacity="0.7"/>
<path d="M56.8 390.5h0M135.9 334.1h0M83.3 405.6h0M90.2 359.7h0M116.5 400.3h0M147.9 366.8h0M109.7 406.3h0M114.7 342.4h0M67.7 362.7h0M112.0 385.7h0M75.1 386.6h0M67.4 372.0h0M108.2 383.7h0M112.1 386.7h0M147.5 340.3h0M152.0 388.5h0M99.5 382.9h0M76.7 391.0h0M134.9 387.9h0" stroke="#95a8d0" stroke-width="2" stroke-linecap="round" opacity="0.7"/>
<path d="M77.5 379.7h0M47.4 382.6h0M146.1 373.5h0M141.9 399.2h0M95.6 366.6h0M116.4 358.3h0M100.0 352.5h0M101.9 353.6h0M131.5 376.2h0M57.7 348.8h0M153.3 350.5h0M138.9 370.5h0M81.4 348.4h0M138.6 402.9h0M136.1 345.0h0M127.3 407.5h0M69.6 382.2h0M43.0 371.8h0M43.8 392.0h0M49.6 387.7h0M135.2 381.2h0M97.2 359.0h0M79.8 377.2h0M97.9 363.8h0M111.8 383.3h0M84.8 340.5h0M151.4 348.5h0M69.2 362.8h0M153.7 376.7h0M54.6 336.1h0M151.1 382.5h0M134.8 387.9h0M141.8 350.6h0M80.3 338.5h0M62.4 349.6h0M150.8 408.3h0M115.1 346.1h0M110.0 398.1h0M108.7 396.5h0M60.0 334.0h0M54.2 333.9h0M116.8 345.1h0M76.8 367.4h0M47.6 393.1h0M137.6 336.5h0M45.8 335.2h0M109.9 359.4h0M79.0 337.2h0M133.8 341.9h0M84.0 349.5h0M137.7 387.6h0M97.7 354.7h0M100.9 342.5h0M99.7 375.6h0M132.2 357.1h0M144.0 405.6h0M148.8 333.1h0M152.6 349.3h0M122.9 380.1h0M138.1 391.5h0M70.9 403.4h0M99.8 409.1h0M50.7 359.3h0M45.3 394.3h0M45.5 349.1h0M52.4 407.1h0M121.0 368.3h0M119.7 358.1h0M121.2 336.5h0M46.0 360.8h0M146.7 334.0h0M55.7 359.6h0M58.2 405.8h0M46.2 373.9h0M146.0 377.5h0M126.4 392.5h0M102.2 347.3h0M83.1 371.2h0M48.7 371.4h0M131.9 381.9h0M59.6 401.8h0M108.3 365.6h0M105.7 349.3h0M108.9 384.9h0M141.1 366.5h0M129.9 395.8h0M127.2 383.7h0M101.6 377.5h0M116.0 381.2h0M71.6 374.1h0M118.7 348.0h0M122.3 344.4h0M123.8 352.7h0M75.9 406.5h0M97.3 378.6h0M52.7 367.8h0M133.0 402.9h0M66.7 382.7h0M129.5 383.9h0M105.6 346.4h0M84.9 405.0h0M90.0 346.2h0M122.1 340.4h0M149.5 393.0h0M101.4 356.3h0M55.3 357.2h0M106.7 382.3h0M103.3 403.8h0M43.3 342.6h0M105.8 332.1h0M68.2 349.6h0M138.2 345.9h0M46.6 352.0h0M109.1 387.3h0M105.2 367.4h0M153.5 356.2h0M132.1 352.8h0M79.3 363.0h0M49.7 369.9h0M130.1 358.8h0M55.3 408.9h0M68.8 370.8h0M139.8 397.7h0M87.5 344.7h0M104.6 392.4h0M134.1 354.2h0M83.9 386.3h0M77.4 389.9h0M121.1 401.9h0M111.6 358.6h0M72.6 391.8h0M101.7 350.5h0M70.7 347.9h0M95.0 363.0h0M92.8 367.5h0M128.4 362.7h0M65.6 379.8h0M56.0 376.5h0M75.2 378.1h0M144.0 337.9h0M126.7 366.0h0M100.6 373.1h0M108.5 402.1h0M65.1 351.0h0M117.7 396.8h0M103.6 365.2h0M68.9 388.0h0M69.4 396.4h0M120.4 367.2h0M119.4 391.8h0M68.4 383.6h0M44.6 373.3h0M66.2 405.6h0M135.1 380.0h0M108.1 403.6h0M44.5 368.9h0M98.1 383.5h0M84.4 392.0h0M48.2 394.0h0M48.8 352.1h0M120.0 375.9h0M56.3 358.7h0M137.3 405.1h0M47.9 343.2h0M128.3 394.6h0M113.0 373.4h0M90.6 380.7h0M48.3 338.5h0M135.0 353.4h0M84.3 340.2h0M88.2 350.7h0M118.7 402.3h0M84.3 399.9h0M149.7 346.7h0M119.1 334.1h0M96.5 394.7h0M84.6 401.0h0M82.3 369.8h0M97.8 379.6h0M125.6 357.9h0M45.2 397.7h0M90.1 339.2h0M135.4 404.0h0M61.2 368.0h0M42.4 383.7h0M44.3 339.5h0M43.3 393.4h0M98.2 405.9h0M48.9 364.6h0M114.7 399.5h0M83.9 403.9h0M119.6 377.9h0M136.0 341.0h0M149.8 385.5h0M140.7 377.2h0M105.2 375.9h0M115.3 355.2h0M108.6 362.8h0M46.6 367.0h0M83.5 352.3h0M116.0 363.7h0M99.4 396.6h0M143.8 355.3h0M146.7 341.6h0M113.5 380.9h0M83.8 394.2h0M71.1 360.3h0M120.8 351.4h0M85.9 365.2h0M135.6 358.8h0M103.2 339.0h0M120.2 350.0h0M139.7 359.4h0M88.1 363.8h0M108.6 339.7h0M101.9 385.7h0M71.9 356.0h0M44.5 359.3h0M98.9 347.9h0M107.5 388.7h0M147.1 400.7h0M52.3 399.6h0M108.8 409.1h0M134.7 409.0h0M128.7 385.6h0M73.7 349.0h0M90.3 381.3h0M104.2 377.1h0M130.0 357.1h0M47.6 334.3h0M72.2 392.9h0M86.6 332.6h0M81.9 374.0h0" stroke="#a4b4d6" stroke-width="1.5" stroke-linecap="round" opacity="0.7"/>
<path d="M114.3 373.3h0M84.7 358.1h0M124.8 332.9h0M135.1 394.5h0M85.8 347.9h0M118.8 380.4h0M128.2 380.0h0M122.9 387.5h0M74.8 358.2h0M136.9 367.1h0M91.5 342.8h0M97.2 356.3h0M132.6 402.0h0M131.2 332.8h0M154.0 337.5h0" stroke="#8aa0cc" stroke-width="2" stroke-linecap="round" opacity="0.7"/>
<path d="M50.1 355.4h0M111.7 395.0h0M96.8 374.5h0M76.3 338.0h0M116.6 389.9h0M121.1 384.2h0M150.6 352.3h0M117.6 332.2h0M52.1 391.6h0M94.3 358.5h0M108.1 400.3h0M130.5 369.3h0M122.1 371.9h0M105.5 390.2h0M97.1 401.1h0M83.7 398.7h0" stroke="#7a92c4" stroke-width="2" stroke-linecap="round" opacity="0.7"/>
<path d="M98.4 409.8h0M65.8 389.6h0M154.8 394.3h0M77.2 408.8h0M54.0 395.6h0M98.4 333.9h0M85.2 381.1h0M119.1 348.7h0M125.2 385.8h0M66.2 367.4h0M67.7 352.6h0M43.4 366.2h0M99.5 341.6h0M81.8 346.1h0M100.9 390.0h0M67.9 409.2h0M110.9 342.2h0M141.4 394.4h0M50.5 354.7h0M109.6 388.5h0M48.6 384.3h0M90.2 382.6h0M140.9 375.9h0M142.9 346.6h0M48.3 388.0h0M105.7 391.2h0M154.9 333.7h0M47.3 400.0h0M104.6 380.3h0M79.0 354.2h0M143.1 403.0h0M150.8 374.7h0M122.9 346.2h0M66.1 358.9h0M137.0 343.4h0M116.0 341.8h0M107.1 367.9h0M132.1 402.2h0M63.7 344.6h0M100.7 367.1h0M66.9 338.8h0M113.4 337.4h0M136.2 347.4h0M115.2 343.3h0M105.5 393.0h0M131.4 354.6h0M127.0 333.7h0M89.4 343.3h0M122.7 359.9h0M145.5 353.6h0M147.3 333.8h0M76.7 376.4h0M129.2 334.4h0M115.1 372.1h0M131.7 373.1h0M139.1 389.8h0M52.4 367.1h0M61.2 338.1h0M98.9 386.6h0M93.1 406.5h0M145.1 400.6h0M104.5 372.7h0M58.3 363.8h0M128.9 336.9h0M108.3 351.5h0M82.1 380.8h0M111.7 407.8h0M145.3 403.5h0M138.2 403.4h0M97.0 358.4h0M96.9 359.7h0M97.7 384.9h0M50.0 362.9h0M100.5 354.9h0M111.7 408.2h0M69.9 360.2h0M118.9 380.8h0M130.4 376.5h0M152.1 399.9h0M95.0 373.8h0M136.0 378.3h0M72.0 392.4h0M133.6 389.1h0M68.9 399.2h0M91.7 380.7h0M104.8 401.4h0M54.8 386.3h0M129.3 336.4h0M64.5 384.3h0M86.2 345.2h0M139.3 332.6h0M143.8 406.3h0M108.9 370.5h0M68.3 398.2h0M50.7 349.8h0M71.0 345.0h0M153.9 398.3h0M108.2 352.8h0M146.5 348.8h0M152.0 407.2h0M69.0 392.0h0M112.4 348.1h0M127.0 375.1h0M43.2 371.3h0M77.1 355.5h0M59.3 369.1h0M90.3 335.1h0M143.3 338.2h0M79.3 390.4h0M123.7 403.8h0M93.9 368.1h0M93.7 340.4h0M141.7 375.6h0M150.0 349.0h0M124.6 364.3h0M143.4 334.7h0M67.2 356.1h0M89.3 391.6h0M92.3 406.7h0M118.7 392.1h0M74.4 407.7h0M119.4 403.6h0M111.8 383.6h0M70.9 366.6h0M47.0 385.9h0M49.2 396.4h0M104.5 377.6h0M123.1 347.8h0M100.9 378.3h0M85.8 372.8h0M80.0 378.0h0M97.2 382.7h0M149.8 356.3h0M52.4 369.6h0M136.8 333.8h0M152.8 339.7h0M84.1 338.0h0M83.7 357.7h0M123.1 406.8h0M141.7 363.1h0M51.2 406.7h0M86.8 385.0h0M140.0 398.4h0M117.9 396.1h0M123.1 389.9h0M117.4 370.8h0M101.2 373.3h0M148.9 342.5h0M129.4 386.9h0M87.1 389.6h0M149.3 392.3h0M125.6 408.2h0M60.7 358.7h0M54.7 376.6h0M74.5 370.3h0M122.1 365.0h0M105.7 400.9h0M86.3 364.2h0M130.1 402.5h0M136.2 388.2h0M83.4 355.4h0M131.2 381.5h0M46.1 333.0h0M93.1 363.6h0M133.2 406.4h0" stroke="#b6c2dc" stroke-width="1" stroke-linecap="round" opacity="0.7"/>
<path d="M134.2 347.9h0M90.8 332.3h0M110.5 349.0h0M96.4 359.3h0M107.4 336.3h0M101.9 340.5h0M52.7 341.4h0M117.8 340.4h0M134.5 385.8h0M61.0 381.1h0M74.6 345.3h0M123.6 399.6h0M127.1 375.7h0M153.1 342.0h0M92.6 382.1h0M104.0 398.4h0M97.2 403.7h0M145.1 351.2h0M140.1 334.2h0M110.2 351.9h0" stroke="#b6c2dc" stroke-width="2" stroke-linecap="round" opacity="0.7"/>
<path d="M142.9 407.6h0M60.8 383.6h0M68.9 387.8h0M54.7 370.9h0M144.9 383.2h0M127.1 407.8h0M141.8 359.7h0M144.6 400.2h0M88.5 356.9h0M129.0 343.4h0M111.7 389.0h0M139.2 345.1h0M55.3 379.6h0M86.4 337.9h0M56.0 373.2h0M114.1 387.2h0M100.7 344.5h0M105.9 382.4h0" stroke="#a4b4d6" stroke-width="2" stroke-linecap="round" opacity="0.7"/>
<path d="M70.7 348.7h0M75.3 356.4h0M111.2 339.4h0M54.2 402.3h0M71.6 408.3h0M59.9 365.1h0M82.4 379.2h0M134.1 364.2h0M148.6 383.4h0M100.9 357.9h0M91.7 399.9h0M91.2 344.2h0M103.8 368.6h0M112.6 348.1h0M115.3 376.9h0M54.6 363.8h0M101.1 405.7h0M110.9 349.3h0M125.5 361.5h0M45.1 342.7h0M95.5 359.3h0" stroke="#7e96c6" stroke-width="2" stroke-linecap="round" opacity="0.7"/>
<clipPath id="brc1"><path d="M42,332 L80,332 C74,336 66,339 60,343 C52,348 48,355 46,362 L44.5,374 L42,374Z"/><path d="M83,332 L119,332 C114,340 113,350 116,360 C120,370 130,377 142,379 L155,378 L155,387 C146,389 138,387 130,382 C122,377 114,370 108,360 C104,352 100,347 96,343 C92,339 87,336 83,332Z"/><path d="M149,334 L155,334 L155,380 L150,380 C153,366 153,350 149,334Z"/></clipPath>
<path d="M42,332 L80,332 C74,336 66,339 60,343 C52,348 48,355 46,362 L44.5,374 L42,374Z" fill="#bf9580" stroke="none" stroke-width="0"/>
<path d="M83,332 L119,332 C114,340 113,350 116,360 C120,370 130,377 142,379 L155,378 L155,387 C146,389 138,387 130,382 C122,377 114,370 108,360 C104,352 100,347 96,343 C92,339 87,336 83,332Z" fill="#bf9580" stroke="none" stroke-width="0"/>
<path d="M149,334 L155,334 L155,380 L150,380 C153,366 153,350 149,334Z" fill="#bf9580" stroke="none" stroke-width="0"/>
<g clip-path="url(#brc1)">
<path d="M82.7 362.2h0M135.9 353.0h0M142.7 341.3h0M149.7 369.1h0M92.6 389.8h0M152.6 347.7h0M100.1 339.4h0M78.5 389.3h0M73.7 386.6h0M126.4 342.5h0M78.4 355.1h0M135.5 338.6h0M54.3 380.8h0M127.4 333.3h0M109.0 333.9h0M62.3 342.3h0M89.9 336.4h0M85.6 341.2h0M83.5 387.4h0M99.0 342.4h0M103.2 343.3h0M57.5 372.9h0M117.1 352.0h0M144.5 386.5h0M65.9 377.2h0M143.0 389.7h0M84.7 332.2h0M66.5 365.5h0M111.8 343.6h0M152.5 340.8h0M67.9 351.3h0M153.6 355.6h0M131.1 377.4h0M139.1 390.7h0M43.8 385.1h0M143.0 357.5h0M153.9 339.3h0M50.3 336.2h0M65.8 376.6h0M138.7 356.0h0M91.7 354.8h0M111.6 365.1h0M105.2 380.0h0M138.1 332.4h0M70.5 358.1h0M92.1 390.6h0M43.1 375.9h0M154.1 356.6h0M149.0 362.0h0M115.8 377.8h0M124.0 381.7h0M73.4 380.0h0M58.9 384.7h0M102.5 387.0h0M101.0 344.8h0M59.8 351.8h0M46.4 345.7h0M137.1 334.6h0M131.3 347.3h0M60.2 368.0h0M78.6 337.1h0M85.1 371.9h0M68.8 336.4h0M119.1 381.8h0M63.9 356.8h0M135.0 377.1h0M65.9 384.4h0M123.0 351.9h0M121.2 350.9h0M109.6 380.9h0M90.4 356.4h0M153.8 343.4h0M88.3 378.3h0M153.8 360.4h0M150.5 369.0h0M92.2 341.8h0M118.6 352.4h0M51.7 364.8h0M148.7 352.1h0M124.2 377.7h0M78.0 386.0h0M79.1 374.2h0M146.1 341.2h0M66.0 340.6h0M154.4 368.2h0M148.9 332.3h0M137.1 348.5h0M121.4 364.5h0M113.7 344.9h0M88.3 335.4h0M77.3 366.2h0M61.5 343.8h0M69.1 351.3h0M47.2 384.9h0M80.4 374.3h0M52.9 353.1h0M84.6 344.3h0M60.5 343.9h0M142.4 388.5h0M136.0 350.4h0M151.7 354.6h0M115.9 372.7h0M103.1 339.7h0M72.0 348.9h0M102.6 348.2h0M82.4 364.6h0M79.5 347.7h0M86.6 380.2h0M134.6 347.6h0M115.6 371.5h0M87.1 364.2h0M144.9 337.1h0M52.5 362.2h0M50.1 384.5h0M45.6 370.4h0M122.9 344.9h0M53.3 362.0h0M117.1 380.4h0M54.6 372.8h0M50.6 351.2h0M149.5 375.2h0M106.1 383.5h0M51.4 340.8h0M90.5 340.6h0M116.2 381.7h0M144.4 343.4h0M92.1 373.8h0M106.9 349.5h0M129.5 340.2h0M51.9 349.8h0M138.9 385.6h0M89.8 389.2h0M127.6 389.6h0M120.2 378.2h0M124.6 363.9h0M132.0 389.3h0M86.5 374.7h0M143.7 391.0h0M112.7 380.4h0M90.8 340.1h0M61.5 355.9h0M140.2 348.2h0M120.3 388.5h0M106.1 361.9h0M136.4 351.8h0M120.1 361.5h0M55.5 344.4h0M57.6 343.7h0M150.8 382.5h0M138.6 362.6h0M143.5 358.6h0M145.6 356.0h0M59.1 379.1h0M107.8 372.6h0M94.7 365.7h0M45.7 384.4h0M47.8 383.8h0M135.4 381.8h0M87.5 364.9h0M107.0 342.5h0M145.7 381.3h0M76.8 364.2h0M122.9 389.6h0M59.0 361.0h0M126.8 366.5h0M59.7 387.1h0M101.7 337.9h0M143.1 359.2h0M112.7 340.6h0M67.0 332.9h0" stroke="#d4b4a4" stroke-width="1" stroke-linecap="round" opacity="0.85"/>
<path d="M145.6 361.8h0M136.3 359.7h0M135.5 347.2h0M62.2 352.0h0M101.9 345.3h0M67.6 349.5h0M133.5 388.3h0M139.7 389.6h0M99.6 352.9h0M133.2 366.2h0M146.4 364.1h0M49.2 360.8h0M137.6 366.6h0M146.7 335.6h0M144.1 337.2h0M57.8 365.8h0M142.9 364.2h0M58.1 374.8h0M119.7 370.0h0M42.9 350.8h0M76.2 349.3h0M145.9 360.5h0M144.4 389.6h0M93.0 378.1h0M89.1 376.4h0M67.9 362.8h0M100.1 362.6h0M73.4 390.9h0M148.0 371.8h0M114.9 370.7h0M140.8 350.1h0M89.3 389.3h0M85.9 347.7h0M129.9 369.5h0M116.8 350.9h0M134.3 384.2h0M42.5 363.8h0M48.7 388.9h0M67.2 366.7h0M124.4 377.0h0M132.3 383.8h0M95.9 374.9h0M111.8 379.6h0M49.5 354.1h0M101.7 335.6h0M53.1 332.5h0M124.3 343.6h0M135.5 353.8h0M148.8 346.4h0M47.4 333.3h0M106.9 348.0h0M97.9 344.4h0M83.8 376.5h0M70.5 390.0h0M152.2 355.0h0M45.5 388.9h0M140.9 358.4h0M123.7 339.5h0M50.5 360.5h0M72.0 385.0h0M127.1 374.7h0M65.1 377.5h0M131.7 339.9h0M105.0 354.5h0M102.8 373.0h0M154.9 383.1h0M78.7 350.1h0M124.2 352.3h0M56.8 336.0h0M141.2 379.3h0M111.6 374.9h0M61.3 347.6h0M149.8 383.7h0M67.1 355.5h0M62.0 376.0h0M113.2 383.0h0M129.0 351.7h0M136.9 346.0h0M145.6 363.5h0M120.7 385.6h0M126.2 373.1h0M84.4 347.9h0M61.7 343.6h0M148.6 359.6h0M69.2 345.6h0M44.9 342.0h0M80.4 355.0h0M46.1 376.4h0M42.7 368.1h0M101.7 368.4h0M117.7 390.7h0M42.4 350.9h0M143.3 378.7h0M67.1 377.4h0M63.7 372.9h0M47.7 373.4h0M94.1 359.8h0M53.5 334.0h0M120.5 368.3h0M138.8 347.9h0M140.3 341.8h0M149.5 338.3h0M78.6 350.8h0M46.8 343.6h0M131.1 361.1h0M52.0 387.3h0M109.8 368.4h0M150.4 335.5h0M71.3 383.2h0M84.1 367.5h0M135.3 357.6h0M67.8 348.1h0M79.9 347.8h0M71.9 366.9h0M148.4 355.8h0M122.5 381.4h0M87.9 368.5h0M142.3 348.2h0M121.4 333.3h0M131.9 385.4h0M140.0 374.3h0M85.8 382.9h0M87.7 356.3h0M66.2 364.5h0M72.2 380.7h0M106.8 375.1h0M73.0 371.9h0M127.3 347.6h0M61.1 340.9h0M131.5 372.4h0M56.5 333.1h0" stroke="#e0d0c8" stroke-width="1" stroke-linecap="round" opacity="0.85"/>
<path d="M99.7 350.1h0M86.8 375.7h0M66.8 352.6h0M148.0 364.2h0M58.9 390.4h0M106.1 348.4h0M93.0 358.4h0M45.3 336.3h0M79.6 334.5h0M107.4 384.6h0M88.8 365.2h0M42.0 359.7h0M59.9 372.3h0M57.5 375.1h0M123.8 360.2h0M121.8 340.4h0M65.7 375.7h0M97.1 336.7h0M123.2 345.4h0M68.6 361.9h0M51.8 343.0h0M128.8 357.3h0M109.5 362.3h0M134.1 387.9h0M74.1 340.8h0M49.5 387.4h0M153.8 381.6h0M81.2 355.3h0M153.2 345.3h0M98.2 377.6h0M110.5 340.8h0M66.4 367.9h0M90.3 383.4h0M91.4 360.1h0M59.4 367.1h0M129.4 386.7h0M114.0 384.5h0M132.4 380.4h0M75.2 370.0h0M102.9 332.0h0M83.4 349.9h0M91.8 361.5h0M72.6 354.4h0M62.0 379.7h0M104.3 364.9h0M101.8 365.8h0M118.8 369.5h0M131.2 363.0h0M106.0 348.1h0M54.4 334.6h0M130.2 357.2h0M72.3 368.1h0M128.5 361.1h0M62.0 339.1h0M147.1 349.3h0M134.1 341.2h0M55.4 391.7h0M89.1 340.4h0M108.9 390.0h0M141.1 371.3h0M129.9 362.9h0M123.0 338.2h0M104.1 367.0h0M97.0 384.5h0M96.2 383.9h0M148.7 381.6h0M67.1 372.6h0M140.5 372.9h0M52.5 373.1h0M74.0 355.3h0M120.3 342.2h0M64.3 367.1h0M60.8 379.8h0M130.1 363.9h0M98.6 377.1h0M126.1 389.9h0M60.9 361.4h0M121.7 372.3h0M84.2 372.8h0M127.2 360.5h0M134.3 340.4h0M116.2 383.0h0M118.6 335.7h0M121.1 386.7h0M92.3 370.5h0M101.8 391.4h0M85.9 334.0h0M103.9 382.2h0M139.3 363.9h0M44.5 354.6h0M113.2 338.4h0M147.6 358.3h0M91.6 340.1h0M154.3 361.8h0M144.4 350.6h0M126.2 354.6h0M73.9 368.1h0M86.7 354.0h0M142.7 344.4h0M90.3 373.0h0M143.6 335.1h0M91.4 381.1h0M102.9 363.4h0M114.4 366.2h0M78.1 349.1h0M70.1 388.3h0M110.3 384.7h0M78.2 342.7h0M76.1 363.7h0M131.6 380.2h0M154.0 344.2h0M53.6 368.6h0M115.3 372.6h0M150.4 368.2h0M134.2 360.4h0M146.7 336.8h0M132.2 355.2h0M99.9 358.3h0M139.3 332.1h0M78.5 370.5h0M57.4 369.2h0M47.8 382.7h0M154.4 388.9h0M118.3 383.8h0M118.7 373.2h0M123.4 381.7h0M125.1 343.7h0M137.5 377.7h0M106.0 343.5h0M68.1 345.2h0M66.9 349.0h0M127.6 353.3h0M42.4 340.9h0M145.6 355.2h0M85.7 376.6h0M153.4 391.6h0M71.6 348.9h0M68.7 387.7h0M65.7 362.0h0M123.7 357.7h0M97.5 338.6h0" stroke="#9a6a58" stroke-width="1" stroke-linecap="round" opacity="0.85"/>
<path d="M79.1 345.6h0M100.4 333.5h0M79.5 350.7h0M146.7 388.7h0M127.0 336.3h0M58.9 366.9h0M48.2 368.8h0M150.7 338.2h0M103.0 383.9h0M113.3 333.7h0M86.5 391.1h0M121.5 364.6h0M129.1 345.6h0M130.1 351.3h0M96.7 371.2h0M79.7 347.7h0M145.0 356.7h0M67.5 336.1h0M86.3 361.7h0M142.0 346.9h0M77.8 388.2h0M69.9 368.6h0M148.7 376.5h0M139.2 370.3h0M70.3 357.2h0M57.0 344.7h0M52.9 367.8h0M67.2 344.4h0M61.1 336.0h0M105.7 355.7h0M141.7 389.2h0M109.1 386.6h0M77.9 344.8h0M63.1 389.5h0M81.7 341.9h0M147.0 338.0h0M109.2 352.0h0M78.5 357.4h0M117.8 362.1h0M56.1 391.2h0M95.1 343.4h0M116.3 361.8h0M48.9 333.1h0M149.8 361.4h0M94.9 337.6h0M93.8 366.0h0M57.2 366.4h0M85.5 333.2h0M62.5 347.4h0M63.6 371.5h0M68.4 356.1h0M150.6 391.6h0M109.5 358.3h0M86.5 370.4h0M45.8 364.7h0M55.3 358.1h0M117.0 348.8h0M109.0 338.5h0M86.4 367.9h0M62.3 335.8h0M47.8 376.6h0M97.0 382.1h0M44.8 390.7h0M75.1 373.5h0M144.4 368.1h0M110.1 335.3h0M54.7 355.9h0M56.3 366.5h0M123.0 370.4h0M121.2 361.8h0M113.9 370.0h0M67.2 343.1h0M93.0 358.5h0M146.3 383.5h0M64.4 381.7h0M155.0 347.0h0M47.5 347.7h0M127.1 340.4h0M67.2 368.7h0M86.7 337.4h0M90.9 350.4h0M136.4 354.8h0M43.7 369.9h0M79.6 376.9h0M61.0 385.9h0M47.7 349.0h0M89.9 389.7h0M66.8 350.8h0M86.9 350.1h0M152.8 336.2h0M93.2 381.7h0M123.2 343.3h0M81.5 383.3h0M49.4 362.5h0M57.2 383.4h0M91.2 356.0h0M138.0 335.5h0M111.6 340.8h0M143.3 372.0h0M59.4 363.0h0M85.9 336.5h0M103.4 379.3h0M95.6 346.3h0M107.8 357.0h0M116.3 389.5h0M142.0 341.4h0M146.9 380.4h0M134.5 379.0h0M132.8 341.0h0M115.0 385.1h0M153.3 359.8h0M114.8 364.5h0M124.1 361.7h0M75.8 343.7h0M72.2 377.9h0M44.5 348.1h0M101.6 375.4h0M138.4 334.8h0M93.8 358.6h0M135.8 370.9h0M131.0 348.7h0M73.2 346.8h0M119.8 337.9h0M72.4 376.9h0M123.4 340.0h0M98.5 359.9h0M79.5 375.6h0M103.6 379.9h0M93.0 346.7h0M121.6 380.0h0M100.8 375.5h0M70.0 390.7h0M71.1 350.8h0M145.4 340.3h0M135.2 360.0h0M57.8 353.2h0M55.1 371.8h0M76.3 374.1h0M85.9 346.8h0M66.6 370.5h0M74.6 386.7h0M83.6 373.8h0M150.0 382.1h0M147.1 384.2h0M130.3 363.4h0M135.7 353.2h0M69.5 350.2h0M65.1 382.9h0M81.8 383.1h0M54.5 365.1h0M149.6 358.4h0M55.5 338.0h0M53.8 368.0h0M65.2 343.6h0M142.8 340.8h0M63.2 369.8h0M80.9 387.2h0" stroke="#a8765e" stroke-width="1.5" stroke-linecap="round" opacity="0.85"/>
<path d="M84.0 375.3h0M150.5 338.8h0M75.0 344.3h0M138.1 385.6h0M79.8 358.5h0M154.1 338.5h0M64.2 364.8h0M82.3 368.2h0M110.0 389.4h0M140.9 378.2h0M61.8 360.4h0M83.9 381.8h0M125.8 355.4h0M120.0 336.8h0M65.1 376.4h0M131.0 352.3h0M56.2 337.2h0M134.9 370.6h0M139.0 354.2h0M45.3 350.1h0M93.7 366.6h0M93.7 339.6h0M92.2 383.0h0M61.4 372.7h0M118.1 339.4h0M117.1 341.4h0M131.3 344.6h0M78.1 389.8h0M45.0 354.3h0M127.3 381.1h0M129.1 391.1h0M154.2 370.2h0M117.2 365.9h0M43.1 365.7h0M62.2 376.0h0M84.2 334.9h0M48.0 377.3h0M62.6 365.2h0M131.7 356.6h0M134.8 391.8h0M61.7 365.8h0M88.6 353.6h0M101.9 343.1h0M57.7 384.1h0M49.4 377.7h0M73.3 335.7h0M141.7 371.9h0M51.4 333.3h0M145.5 332.5h0M55.1 334.8h0M116.0 391.1h0M111.6 340.6h0M117.8 355.0h0M150.3 342.6h0M69.0 390.0h0M98.3 363.3h0M152.2 378.7h0M82.1 377.3h0M85.8 338.0h0M117.4 389.0h0M74.3 390.3h0M154.4 352.5h0M142.3 368.8h0M59.2 337.6h0M113.3 375.1h0M64.2 384.1h0M127.9 336.8h0M80.0 336.9h0M110.1 363.6h0M116.2 342.4h0M93.6 353.9h0M65.8 373.9h0M87.4 362.0h0M110.1 370.3h0M63.5 336.7h0M86.2 366.5h0M49.7 368.3h0M111.7 359.2h0M73.0 346.1h0M136.3 360.5h0M117.9 361.2h0M46.5 336.7h0M132.7 387.2h0M46.0 379.3h0M100.7 362.7h0M135.1 370.6h0M99.3 371.7h0M64.4 348.1h0M42.8 374.0h0M144.0 355.3h0M78.6 358.6h0M57.9 381.7h0M49.8 370.8h0M155.0 333.4h0M74.5 341.6h0M47.5 355.9h0M93.0 374.1h0M138.8 361.0h0M107.7 352.6h0M136.5 390.4h0M52.5 353.5h0M45.8 355.8h0M126.4 376.3h0M56.1 378.1h0M145.6 386.4h0M81.6 364.3h0M122.0 360.5h0M124.0 344.0h0M102.6 339.1h0M104.2 353.5h0M43.8 364.6h0M135.5 360.8h0M115.1 335.3h0M63.8 350.0h0M121.2 346.0h0M54.5 380.2h0M94.3 377.4h0M72.2 372.1h0M49.8 380.0h0M133.8 351.4h0M138.6 367.2h0M101.2 368.7h0M60.9 355.2h0M78.5 338.8h0M45.1 372.3h0M131.0 342.3h0M73.2 342.3h0M109.5 345.1h0M83.5 345.3h0M102.4 391.5h0M72.3 362.4h0M122.7 376.5h0M109.9 374.4h0M150.8 356.8h0M55.9 387.5h0M60.7 342.3h0M56.0 379.3h0M106.4 354.1h0M153.3 355.9h0M106.3 387.8h0M106.3 356.4h0M48.9 388.5h0M105.7 390.0h0M44.1 383.9h0M141.3 338.2h0M50.1 342.8h0M139.7 339.2h0M146.9 378.5h0M153.8 367.5h0M141.3 356.9h0M114.0 388.4h0M123.8 389.8h0M63.7 383.2h0M60.0 355.1h0M115.4 345.0h0M44.9 357.9h0M68.1 391.2h0M56.2 357.8h0M45.0 353.3h0M146.1 362.5h0M124.1 375.6h0M63.9 352.4h0M68.2 380.8h0M139.5 357.9h0M77.4 387.1h0M78.7 350.4h0M42.7 364.2h0M139.5 364.4h0M48.8 346.7h0" stroke="#b98a70" stroke-width="1.5" stroke-linecap="round" opacity="0.85"/>
<path d="M96.0 377.4h0M92.8 352.7h0M143.2 390.7h0M134.4 342.7h0M144.6 358.9h0M137.4 337.8h0M66.2 356.4h0M86.2 377.3h0M137.9 341.7h0M119.2 350.9h0M80.2 348.9h0M98.1 354.9h0M43.4 332.7h0M63.9 361.4h0M58.0 364.1h0M125.8 349.6h0M150.1 387.2h0M61.7 390.6h0M114.7 350.7h0M127.2 356.0h0M154.5 354.2h0M128.3 350.4h0M122.7 353.9h0M89.4 343.3h0M108.5 340.5h0M107.0 358.9h0M116.1 377.6h0M74.0 382.9h0M137.2 347.3h0M95.8 358.9h0M127.8 364.7h0M43.4 364.1h0M140.8 370.5h0M142.1 358.4h0M137.3 352.5h0M144.9 335.2h0M140.0 373.7h0M144.8 391.9h0M129.8 339.6h0M55.3 366.4h0M78.1 369.4h0M45.1 370.6h0M81.6 384.1h0M48.8 353.3h0M54.9 368.6h0M132.4 365.9h0M106.6 348.2h0M133.9 368.2h0M122.9 383.6h0M73.7 336.7h0M95.8 334.4h0M52.9 366.2h0M135.1 341.2h0M73.4 368.0h0M71.7 385.3h0M81.4 363.9h0M97.4 375.3h0M109.0 349.2h0M121.7 388.9h0M116.5 386.6h0M74.0 364.1h0M152.8 351.7h0M65.1 387.1h0M64.7 378.1h0M60.3 361.5h0M154.4 367.5h0M66.7 391.5h0M43.6 339.7h0M110.2 343.4h0M90.1 351.0h0M118.4 338.8h0M126.3 336.8h0M147.3 359.3h0M89.9 379.6h0M144.6 344.1h0M107.0 350.4h0M126.4 384.7h0M129.5 334.2h0M121.3 384.5h0M149.4 364.4h0M59.6 389.5h0M142.4 382.7h0M98.6 350.2h0M152.4 362.7h0M115.6 381.0h0M45.5 356.6h0M124.2 357.1h0M79.4 379.5h0M102.6 344.5h0M65.4 334.1h0M68.9 352.6h0M114.9 385.4h0M141.0 345.2h0M101.7 334.9h0M111.3 382.9h0M73.0 333.6h0M100.7 348.0h0M48.8 344.1h0M63.0 386.6h0M59.8 340.6h0M72.2 358.3h0M142.6 372.8h0M99.5 382.2h0M142.6 357.1h0M81.1 379.4h0M145.9 355.9h0M77.3 364.2h0M46.1 346.1h0M143.6 344.7h0M134.5 389.6h0M150.1 387.7h0M135.0 332.4h0M110.1 358.4h0M89.2 358.9h0M117.0 344.4h0M85.4 345.4h0M84.9 372.4h0M125.6 353.8h0M90.8 384.4h0M149.0 367.4h0M45.1 380.9h0M118.7 384.8h0M92.7 361.6h0M123.2 332.3h0M62.1 356.3h0M60.5 390.8h0M99.5 378.4h0M60.3 350.2h0M65.1 360.8h0M128.6 358.1h0M144.4 362.8h0M101.6 388.1h0M87.0 359.3h0M118.2 338.9h0M140.8 348.5h0M56.0 379.0h0M90.5 346.2h0M117.4 374.1h0M119.6 336.0h0M89.6 368.8h0M104.1 366.3h0M43.2 335.3h0M129.8 387.6h0M105.2 368.5h0M129.5 368.2h0M124.7 337.2h0M72.1 343.6h0" stroke="#c8a08a" stroke-width="1" stroke-linecap="round" opacity="0.85"/>
<path d="M101.9 385.2h0M119.2 343.5h0M137.1 367.8h0M144.7 363.9h0M57.9 334.0h0M64.5 336.0h0M140.5 342.4h0M54.7 340.2h0M71.6 382.7h0M138.6 362.0h0M100.8 361.9h0M125.3 387.0h0M144.7 358.0h0M77.9 391.0h0M78.1 343.9h0M145.3 388.9h0M107.2 389.7h0M55.7 351.0h0M109.1 335.5h0M71.3 344.8h0M51.6 343.0h0M151.0 344.8h0M88.1 389.8h0M86.1 343.2h0M146.8 342.8h0M96.3 349.2h0M49.1 364.1h0M73.2 386.7h0M49.5 386.7h0M142.4 358.3h0M65.2 376.7h0M51.6 369.2h0M133.5 345.3h0M136.8 369.2h0M127.4 387.4h0M117.8 347.2h0M109.5 334.0h0M65.6 379.3h0M107.8 389.1h0M95.5 342.3h0M88.8 341.5h0M150.6 369.2h0M57.9 385.6h0M98.4 369.9h0M45.2 359.7h0M122.8 384.9h0M45.4 384.1h0M69.7 333.1h0M54.8 353.4h0M44.7 387.5h0M49.9 345.7h0M74.8 375.4h0M62.0 384.1h0M65.8 337.6h0M46.6 374.4h0M112.7 334.1h0M153.5 375.0h0M61.4 367.3h0M57.3 380.5h0M98.6 361.4h0M80.4 387.1h0M129.0 345.9h0M125.0 381.3h0M103.4 365.5h0M106.4 365.5h0M97.9 388.7h0M61.8 369.0h0M85.0 377.5h0M118.5 376.0h0M144.6 356.4h0M131.1 347.1h0M104.5 367.4h0M136.0 365.2h0M82.3 370.5h0M119.6 359.7h0M145.2 342.9h0M133.7 384.6h0M87.7 385.2h0M84.8 346.4h0M50.8 342.9h0M93.0 336.8h0M148.6 345.0h0M151.5 370.6h0M88.9 363.3h0M153.4 360.7h0M54.9 358.3h0M100.1 339.8h0M104.0 381.1h0M134.9 353.3h0M66.5 335.6h0M48.9 351.6h0M70.3 374.7h0M71.8 370.4h0M118.7 372.3h0M92.5 379.8h0M103.8 358.6h0M86.2 376.6h0M67.6 348.1h0M88.7 356.1h0M107.9 343.9h0M146.3 349.9h0M148.6 350.6h0M118.3 379.8h0M55.0 385.7h0M80.1 388.1h0M84.0 373.6h0M68.7 345.8h0M153.8 349.1h0M139.3 386.0h0M141.7 370.6h0M83.2 379.0h0M43.9 342.2h0M84.6 384.3h0M135.6 340.5h0M82.4 362.1h0M66.2 371.0h0M145.7 364.1h0M50.0 378.0h0M123.5 333.7h0M114.3 386.8h0M54.8 338.7h0M152.3 336.7h0M79.4 372.3h0M132.7 336.8h0M137.7 369.0h0M85.2 364.1h0M73.0 359.9h0M147.6 381.1h0M140.7 358.7h0M79.7 367.0h0M105.4 355.0h0M124.2 337.6h0M144.9 384.5h0M122.7 351.7h0M121.4 368.9h0M136.7 338.3h0M89.5 333.3h0M85.2 358.3h0M125.0 345.9h0M106.1 347.3h0M60.1 391.4h0M64.5 336.0h0M51.0 340.1h0M105.8 341.3h0M58.9 335.4h0M81.5 379.3h0M75.7 376.3h0M83.1 370.1h0" stroke="#d4b4a4" stroke-width="1.5" stroke-linecap="round" opacity="0.85"/>
<path d="M138.7 362.6h0M76.9 370.0h0M59.7 344.1h0M54.1 375.8h0M89.6 335.0h0M104.6 359.1h0M64.5 335.7h0M94.1 354.1h0M55.1 385.0h0M102.3 382.8h0M154.5 367.6h0M109.7 373.8h0M126.2 362.5h0M99.1 389.2h0M70.4 341.8h0M82.9 342.2h0M56.8 346.4h0M110.4 336.0h0M147.8 344.0h0M152.5 338.2h0M141.5 340.3h0M150.5 335.9h0M73.8 345.4h0M103.0 389.9h0M129.5 372.5h0M123.1 364.2h0M91.3 341.5h0M133.1 357.0h0M103.2 383.9h0M151.1 384.7h0M115.0 334.0h0M66.1 383.3h0M42.5 350.7h0M72.9 362.5h0M106.0 338.5h0M92.0 360.9h0M43.8 372.8h0M153.6 345.6h0M99.5 363.6h0M103.8 364.6h0M148.5 342.1h0M112.5 369.5h0M141.5 349.9h0M68.8 333.4h0M70.3 358.6h0M42.4 391.3h0M137.8 337.3h0M57.0 361.3h0M125.7 349.5h0M80.0 349.3h0M96.4 341.2h0M58.4 335.6h0M149.6 356.3h0M99.3 357.5h0M86.7 389.1h0M92.3 380.7h0M45.6 335.5h0M136.5 354.3h0M123.3 361.6h0M100.5 381.7h0M143.5 385.5h0M96.0 338.6h0M153.2 341.8h0M130.5 363.4h0M146.3 352.5h0M97.1 332.3h0M80.1 367.2h0M63.3 332.2h0M69.2 350.1h0M136.0 352.0h0M90.5 388.5h0M44.6 374.9h0M111.8 366.0h0M89.7 363.5h0M58.4 358.3h0M42.6 333.7h0M130.6 357.5h0M92.7 379.4h0M117.8 376.7h0M95.0 376.3h0M97.9 333.0h0M124.5 387.0h0M133.0 377.5h0M97.8 343.8h0M98.4 365.7h0M43.1 339.4h0M68.2 350.8h0M66.6 342.1h0M94.3 369.5h0M138.0 360.4h0M116.6 358.3h0M118.8 344.4h0M67.8 346.1h0M143.7 387.2h0M52.1 354.1h0M101.5 339.2h0M104.6 387.9h0M80.2 356.2h0M116.3 372.0h0M139.6 333.6h0M107.9 345.4h0M105.8 363.9h0M142.1 350.7h0M78.1 377.0h0M147.4 388.3h0M119.9 335.5h0M143.6 339.1h0M100.3 372.6h0M148.1 335.1h0M59.6 389.4h0M90.5 351.8h0M43.7 352.3h0M152.4 340.4h0M78.4 387.3h0M108.4 360.2h0M139.0 381.5h0M76.5 367.4h0M113.1 364.8h0M132.0 374.9h0M79.9 380.1h0M130.6 361.0h0M151.1 373.6h0M46.4 351.7h0M101.8 349.0h0M153.5 381.4h0M62.9 346.3h0M72.0 359.3h0M70.7 338.7h0M114.8 380.2h0M124.9 371.5h0M69.4 335.5h0M149.3 372.2h0M57.2 377.8h0M71.2 353.2h0M104.8 356.5h0M110.6 384.7h0M102.7 369.2h0M62.2 355.6h0M100.3 349.6h0M139.1 361.4h0M71.8 361.8h0M121.5 372.4h0M60.4 379.9h0M135.5 361.8h0M74.0 384.0h0M61.2 382.3h0M110.4 383.4h0M110.5 354.7h0M135.0 373.4h0M61.2 376.6h0M93.0 385.9h0M133.9 354.1h0M54.2 379.3h0M51.4 351.3h0M62.6 389.9h0M84.5 344.9h0M58.6 337.8h0M49.4 344.8h0M133.5 347.6h0M103.1 386.6h0M100.0 378.3h0M76.9 365.3h0M98.3 359.8h0M84.9 365.2h0M58.2 376.2h0M143.9 340.2h0M113.0 391.5h0M112.9 389.0h0M146.8 367.3h0M154.9 341.8h0M110.0 341.3h0M154.5 383.2h0M105.1 377.2h0M63.0 359.6h0M134.6 345.9h0M94.7 339.3h0M100.3 341.2h0M59.3 376.3h0M122.3 381.4h0M125.0 354.3h0M124.9 383.7h0M154.7 365.7h0M99.2 376.9h0M139.9 382.5h0M59.3 379.1h0" stroke="#9a6a58" stroke-width="1.5" stroke-linecap="round" opacity="0.85"/>
<path d="M127.0 337.6h0M112.0 349.0h0M141.5 357.0h0M91.3 369.4h0M72.7 390.2h0M77.3 339.0h0M110.2 382.6h0M104.3 376.7h0M51.8 363.0h0M134.3 374.6h0M76.9 337.0h0M147.6 349.6h0M143.3 381.3h0M101.0 371.4h0M116.3 359.9h0M120.6 348.0h0M117.3 384.0h0M109.2 360.2h0M139.0 373.1h0M112.2 385.6h0M122.3 389.8h0M72.9 379.5h0M114.5 374.9h0M142.8 382.5h0M66.0 338.8h0M126.1 379.8h0M87.4 384.5h0M116.3 333.8h0M62.2 361.2h0M79.3 363.3h0M144.6 382.8h0M99.0 358.6h0M86.3 334.4h0M119.9 375.6h0M76.5 363.7h0M46.8 368.9h0M71.1 342.3h0M63.8 363.8h0M123.9 381.0h0M53.1 360.7h0M123.0 374.0h0M73.8 348.1h0M121.8 352.5h0M101.1 340.5h0M126.3 365.5h0M139.2 386.8h0M115.1 367.4h0M100.1 384.2h0M63.7 362.8h0M84.5 379.8h0M129.6 349.8h0M114.7 381.3h0M46.8 370.4h0M55.4 371.5h0M67.1 355.3h0M58.1 338.7h0M68.5 384.1h0M58.6 388.6h0M148.5 362.4h0M121.4 339.3h0M104.6 345.8h0M54.3 342.1h0M66.1 385.8h0M125.2 356.2h0M65.5 344.0h0M52.8 358.3h0M125.1 372.3h0M111.9 346.3h0M83.1 341.7h0M49.7 360.1h0M148.3 356.0h0M93.7 348.6h0M63.1 358.9h0M76.3 373.2h0M129.3 363.0h0M79.1 378.6h0M85.5 343.3h0M140.7 369.2h0M50.7 355.4h0M106.9 382.2h0M126.5 334.7h0M59.9 391.2h0M44.3 340.5h0M64.7 384.7h0M57.8 381.0h0M147.2 383.7h0M151.7 373.4h0M91.7 368.7h0M145.2 373.5h0M78.2 357.6h0M154.3 369.4h0M75.1 383.9h0M62.7 379.8h0M46.5 338.1h0M132.2 337.6h0M154.2 351.6h0M62.5 357.1h0M145.5 374.9h0M44.0 351.1h0M56.2 361.9h0M92.7 384.2h0M64.9 386.1h0M67.9 335.6h0M93.2 336.1h0M110.8 371.1h0M137.2 390.6h0M68.2 365.7h0M145.4 374.9h0M150.7 378.8h0M132.0 381.9h0M78.7 373.8h0M143.8 334.4h0M142.6 390.1h0M54.8 389.7h0M148.3 377.7h0M124.7 382.7h0M138.5 332.4h0M101.9 349.6h0M62.2 384.7h0M137.2 376.6h0M58.3 338.9h0M121.9 384.5h0M144.1 349.1h0M139.5 383.6h0M136.3 365.4h0M74.6 388.6h0M56.0 335.6h0M63.3 352.2h0M55.5 341.8h0M67.3 353.4h0M149.7 375.6h0M121.5 339.2h0M111.2 386.2h0M154.7 351.5h0M124.6 354.6h0M141.8 378.1h0" stroke="#b98a70" stroke-width="1" stroke-linecap="round" opacity="0.85"/>
<path d="M47.4 368.1h0M133.8 363.7h0M86.8 335.2h0M153.7 347.7h0M120.4 378.1h0M68.9 361.7h0M128.8 380.8h0M77.3 336.7h0M88.8 367.3h0M120.2 375.5h0M150.3 354.8h0M145.2 377.7h0M42.4 391.6h0M130.6 361.2h0M138.9 340.7h0M94.7 383.0h0M151.3 364.2h0M57.5 345.3h0M48.2 354.1h0" stroke="#e0d0c8" stroke-width="2" stroke-linecap="round" opacity="0.85"/>
<path d="M118.7 390.8h0M114.8 347.4h0M55.5 343.1h0M74.0 332.3h0M109.8 334.1h0M99.2 374.7h0M96.5 374.1h0M130.7 362.6h0M103.9 334.6h0M75.7 336.7h0M78.0 353.1h0M106.1 391.9h0M123.3 360.5h0M79.8 374.9h0M48.3 333.4h0M72.9 375.0h0M52.4 353.9h0M48.8 359.7h0M48.5 367.0h0M47.3 356.4h0M73.8 355.7h0M139.8 351.4h0M48.7 358.6h0M67.6 379.7h0M58.3 374.7h0M88.3 335.9h0M66.9 360.8h0M143.5 347.3h0M131.4 345.7h0M75.1 344.9h0M153.2 351.6h0M136.9 346.2h0M112.6 341.8h0M73.3 348.1h0M43.0 388.6h0M146.5 347.4h0M107.8 367.0h0M105.7 391.8h0M52.4 382.0h0M77.2 372.5h0M128.8 383.5h0M81.5 365.8h0M110.2 351.0h0M116.0 388.0h0M58.6 378.6h0M147.8 358.4h0M60.8 356.9h0M140.6 342.1h0M48.3 367.8h0M138.0 373.2h0M61.3 366.0h0M143.1 380.6h0M47.7 344.2h0M59.9 368.8h0M152.5 340.2h0M141.3 365.0h0M59.1 334.5h0M143.2 371.4h0M101.7 364.3h0M92.9 339.9h0M81.2 386.8h0M130.2 382.8h0M76.7 350.2h0M125.5 379.9h0M118.2 368.9h0M123.0 382.1h0M50.8 359.3h0M99.9 389.5h0M97.6 373.4h0M87.0 350.1h0M111.6 377.4h0M106.7 335.6h0M42.9 337.2h0M152.8 367.0h0M101.2 353.4h0M113.8 339.5h0M104.8 357.6h0M65.3 351.6h0M71.8 374.3h0M122.7 354.3h0M127.4 350.5h0M111.8 332.8h0M48.4 379.5h0M118.6 360.7h0M54.9 349.7h0M91.3 376.6h0M117.4 337.4h0M128.7 352.4h0M141.2 343.8h0M135.5 358.8h0M100.0 366.7h0M67.5 358.6h0M137.1 334.9h0M50.4 359.7h0M46.6 367.0h0M124.0 361.1h0M113.9 349.2h0M151.3 332.4h0M65.6 336.5h0M77.6 332.5h0M50.2 389.7h0M122.2 369.1h0M110.0 348.2h0M142.9 375.5h0M147.9 360.0h0M70.9 361.4h0M93.7 332.3h0M154.5 372.5h0M83.4 381.1h0M138.7 371.2h0M96.6 346.4h0M127.8 373.0h0M69.4 383.2h0M139.2 391.1h0M139.8 366.9h0M139.1 370.9h0M136.2 389.1h0M141.7 374.3h0M83.5 334.7h0M53.8 340.5h0M131.0 391.3h0M54.6 336.5h0M118.0 357.0h0M118.5 341.5h0M77.8 376.8h0M51.1 359.6h0M78.6 379.2h0M43.3 335.6h0M64.0 348.0h0M101.4 390.6h0M66.8 383.6h0M42.6 370.5h0M120.2 391.9h0M118.9 345.6h0M142.8 372.5h0M70.0 387.2h0M118.9 371.6h0M97.7 386.4h0M154.0 354.4h0M82.4 380.3h0M130.6 363.1h0M118.8 347.6h0M89.4 348.8h0M112.0 391.0h0M152.2 359.4h0M49.7 358.3h0M143.5 333.0h0M104.7 348.8h0M151.7 362.5h0M115.5 375.5h0M97.7 381.9h0M153.2 388.5h0M133.9 388.6h0M46.5 360.9h0M116.9 358.5h0M62.2 390.5h0M127.4 365.5h0M78.6 357.5h0M85.8 369.4h0M90.9 345.4h0M87.4 361.5h0M49.8 333.5h0M104.2 360.5h0M103.2 360.1h0M77.4 348.8h0M72.9 387.5h0M42.3 336.2h0M86.3 381.5h0M79.6 337.5h0M62.3 342.3h0M135.8 346.1h0M110.0 389.8h0M49.4 344.9h0M110.0 362.4h0M127.1 372.3h0M108.5 369.3h0M100.8 333.9h0M89.0 341.1h0M72.3 381.1h0M56.1 355.0h0M88.2 380.2h0M50.9 380.1h0" stroke="#e0d0c8" stroke-width="1.5" stroke-linecap="round" opacity="0.85"/>
<path d="M57.0 350.8h0M49.4 358.1h0M94.4 366.6h0M128.7 357.4h0M56.6 362.7h0M63.5 348.3h0M104.5 390.6h0M148.3 350.7h0M92.5 360.0h0M73.6 355.9h0M147.7 360.8h0M132.0 388.2h0M61.9 350.3h0M138.4 364.6h0M98.7 371.8h0M144.9 342.2h0M100.0 383.9h0M96.6 361.7h0M127.5 388.2h0M95.9 352.0h0M76.1 345.4h0M148.4 368.5h0M154.4 356.7h0M96.7 390.7h0M113.2 386.5h0M52.3 370.0h0M63.9 339.2h0M83.7 372.6h0M70.8 343.0h0M46.3 370.9h0M121.2 342.0h0M103.9 354.2h0M104.2 334.2h0M70.3 358.4h0M68.3 332.8h0M86.6 387.9h0M134.8 361.8h0M82.6 349.0h0M79.9 364.3h0M153.3 366.3h0M100.1 344.5h0M134.8 383.3h0M96.4 371.1h0M118.0 376.3h0M129.7 348.1h0M44.1 384.5h0M79.1 359.5h0M43.2 358.2h0M144.3 340.4h0M146.2 369.7h0M116.3 368.9h0M82.6 382.6h0M123.4 373.2h0M96.4 360.8h0M105.8 364.7h0M60.5 390.0h0M74.7 364.1h0M72.4 351.2h0M119.5 365.8h0M55.7 356.4h0M129.0 334.6h0M111.9 342.1h0M82.8 389.9h0M75.5 353.5h0M146.9 375.1h0M150.1 371.9h0M99.9 382.5h0M57.3 332.4h0M106.1 339.0h0M153.7 367.2h0M94.5 357.3h0M134.8 362.4h0M78.5 357.8h0M107.5 384.2h0M75.5 367.3h0M50.9 356.9h0M113.0 380.2h0M101.9 361.2h0M52.2 347.5h0M149.0 332.8h0M48.2 335.4h0M144.8 343.7h0M145.0 349.6h0M90.2 354.0h0M116.4 369.2h0M66.0 352.1h0M86.6 338.6h0M138.7 344.8h0M102.3 386.4h0M132.0 386.8h0M77.8 353.0h0M87.4 336.8h0M70.9 350.6h0M134.9 371.1h0M133.8 352.2h0M102.9 348.5h0M137.9 339.4h0M91.4 385.4h0M52.4 372.2h0M66.1 362.2h0M152.8 333.5h0M75.7 335.9h0M48.6 355.4h0M66.2 359.1h0M46.3 387.8h0M154.3 349.2h0M115.2 347.1h0M117.6 385.5h0M55.9 372.2h0M95.5 373.1h0M57.9 366.7h0M88.8 387.5h0M122.1 378.7h0M113.6 361.1h0M109.9 385.1h0M114.0 351.6h0M123.1 360.9h0M76.0 363.9h0M63.9 344.8h0M46.1 364.7h0M82.0 391.7h0M84.1 359.6h0M132.5 380.1h0M42.1 342.2h0M57.4 333.6h0M52.7 383.7h0M66.9 344.0h0M48.6 363.9h0M70.8 358.2h0M47.9 358.3h0M77.2 390.6h0M62.2 341.4h0M96.1 346.4h0M135.4 381.5h0M86.0 366.5h0M127.6 337.8h0M152.1 351.1h0M126.4 390.3h0M111.5 347.4h0M107.4 347.5h0M79.7 386.5h0M153.4 351.2h0M112.9 354.1h0M58.2 387.1h0" stroke="#8aa0cc" stroke-width="1.5" stroke-linecap="round" opacity="0.85"/>
<path d="M43.8 374.8h0M120.6 367.5h0M91.5 360.5h0M62.0 338.2h0M110.4 345.6h0M76.8 354.6h0M75.6 355.6h0M146.6 376.9h0M101.4 380.9h0M85.7 366.3h0M44.7 335.6h0M76.1 357.6h0M106.4 362.4h0M74.7 389.9h0M79.4 364.0h0M154.0 367.4h0M132.0 354.7h0M63.5 338.7h0M110.3 360.8h0M110.0 377.6h0M85.9 370.6h0M69.0 347.1h0M106.1 357.8h0M110.3 376.4h0M52.0 380.8h0M49.3 346.7h0M45.2 335.4h0M139.2 385.7h0M151.2 351.4h0M97.2 362.2h0M69.2 366.9h0M92.0 375.5h0M53.4 339.3h0M107.5 386.2h0M46.5 342.5h0M62.1 349.6h0M124.5 369.2h0M92.8 382.4h0M79.0 385.0h0M104.7 372.4h0M98.6 385.6h0M59.7 333.5h0M124.4 360.2h0M55.5 356.1h0M81.0 337.3h0M113.8 347.1h0M63.0 366.9h0M96.9 380.5h0M55.9 343.0h0M138.9 366.5h0M128.7 381.1h0M121.2 386.2h0M103.8 354.6h0M91.0 339.7h0M65.2 360.8h0M98.4 356.9h0M122.4 380.2h0M101.0 378.2h0M81.1 334.9h0M118.6 356.0h0M73.6 353.4h0M86.3 355.3h0M60.0 332.3h0M43.4 366.4h0M138.8 358.1h0M106.0 382.1h0M137.0 389.1h0M99.9 360.3h0M45.7 363.9h0M82.3 387.1h0M96.4 378.4h0M82.5 353.1h0M144.9 380.9h0M109.2 391.8h0M124.0 345.0h0M122.3 333.6h0M65.8 373.2h0M61.2 359.8h0M52.1 368.6h0M127.3 371.7h0M60.7 370.2h0M92.9 379.3h0M47.0 339.3h0M44.3 332.3h0M134.0 347.2h0M152.5 361.3h0M116.6 333.9h0M120.5 385.2h0M74.2 358.9h0M90.0 385.3h0M113.1 378.1h0M60.7 351.7h0M69.2 391.2h0M134.9 375.2h0M117.7 383.9h0M114.9 345.0h0M134.8 356.1h0M96.7 367.6h0M68.8 377.6h0M149.6 349.0h0M72.8 346.9h0M153.9 354.9h0M118.3 341.4h0M74.6 372.3h0M123.8 345.7h0M66.3 339.3h0M109.4 345.5h0M151.3 374.2h0M129.3 380.3h0M48.1 366.8h0M136.7 345.8h0M67.1 361.5h0M136.1 343.8h0M146.3 346.7h0M133.1 386.2h0M111.6 384.6h0M80.7 351.8h0M136.0 334.8h0M49.8 367.2h0M138.2 374.1h0M126.0 369.2h0M148.2 388.9h0M78.8 342.4h0M46.8 348.4h0M109.5 337.7h0M121.5 376.8h0M60.9 391.4h0M85.5 332.6h0M52.0 342.3h0M120.0 368.9h0M98.0 383.0h0M113.1 352.6h0M95.3 338.5h0M42.3 336.9h0M75.0 383.6h0M66.7 376.0h0M148.8 337.3h0M95.1 335.6h0M141.0 338.8h0M93.9 355.3h0M154.8 378.0h0M137.7 352.7h0M47.0 373.4h0M47.0 364.8h0M118.6 374.7h0M123.0 359.0h0M151.5 381.6h0M110.2 378.4h0M151.7 332.7h0M46.0 348.8h0" stroke="#8f6050" stroke-width="1" stroke-linecap="round" opacity="0.85"/>
<path d="M108.3 364.8h0M75.9 333.7h0M140.5 332.2h0M123.4 340.1h0M50.6 358.5h0M82.6 379.9h0M118.0 333.1h0M137.2 372.9h0M78.9 364.1h0M77.3 339.1h0M94.0 374.2h0M83.9 334.0h0M50.0 386.1h0M63.5 361.0h0M152.4 366.4h0M154.5 340.7h0M125.0 353.6h0M126.3 332.4h0M82.2 352.6h0M122.6 334.2h0M91.3 387.4h0M78.4 391.2h0M77.4 361.8h0M56.8 387.5h0M99.8 361.4h0M48.0 343.7h0M80.8 333.4h0M122.4 352.6h0M151.7 346.3h0M90.7 370.6h0M135.7 356.2h0M88.0 368.5h0M82.0 348.4h0M116.7 385.6h0M106.6 354.8h0M44.8 332.3h0M138.6 375.9h0M42.6 340.7h0M106.3 359.4h0M141.4 381.9h0M78.8 368.3h0M110.0 389.6h0M114.8 350.4h0M114.5 346.5h0M102.7 388.0h0M85.8 355.1h0M147.0 351.4h0M43.5 345.9h0M152.8 344.7h0M107.7 359.2h0M51.5 361.7h0M51.3 356.4h0M54.3 342.6h0M140.0 366.6h0M114.5 350.9h0M90.7 332.7h0M96.8 376.4h0M84.5 333.1h0M112.6 371.0h0M105.6 332.5h0M106.3 332.7h0M130.0 348.3h0M61.4 379.1h0M121.3 344.0h0M50.7 349.1h0M102.2 383.9h0M150.2 365.4h0M106.5 351.3h0M152.4 341.2h0M151.7 358.6h0M66.8 388.7h0M56.6 337.0h0M53.2 385.4h0M114.4 386.2h0M148.3 384.8h0M76.0 374.4h0M52.4 391.2h0M143.6 358.4h0M100.6 387.3h0M64.2 390.8h0M57.0 353.3h0M101.2 390.8h0M150.7 358.6h0M91.3 350.8h0M112.3 362.4h0M57.7 379.6h0M154.9 378.8h0M53.9 390.4h0M113.5 385.5h0M46.9 376.9h0M47.5 345.4h0M121.6 348.1h0M51.3 373.5h0M116.3 364.5h0M94.1 337.2h0M117.7 371.7h0M103.5 376.3h0M65.9 352.3h0M95.7 388.2h0M82.3 354.9h0M140.3 383.3h0M107.1 380.3h0M123.6 369.6h0M123.3 362.8h0M66.1 390.4h0M105.4 382.6h0M114.2 354.0h0M131.7 377.4h0M104.5 382.7h0M83.4 352.3h0M76.5 348.7h0M127.0 359.4h0M46.7 346.9h0M136.6 347.5h0M75.9 366.5h0M118.0 342.5h0M67.6 355.8h0M116.6 367.3h0M117.1 387.0h0M44.8 380.2h0M103.1 365.7h0M52.1 383.3h0M146.9 369.5h0M101.7 334.4h0M93.5 340.5h0M125.8 356.8h0M104.3 391.3h0M108.1 363.1h0M149.0 354.9h0M154.6 340.8h0M106.4 362.4h0M101.4 355.8h0M100.4 372.8h0M152.6 344.4h0M59.4 363.6h0M44.9 359.7h0M104.3 373.8h0M82.4 385.4h0M118.0 367.7h0M77.4 388.1h0M145.6 386.3h0M128.0 358.6h0M121.0 373.7h0M141.2 358.6h0M47.7 378.6h0M45.3 347.9h0M97.4 367.0h0M119.3 367.1h0M61.4 340.1h0M64.9 353.7h0M123.2 333.9h0M103.1 351.3h0M68.6 343.4h0M82.4 356.4h0M109.5 356.2h0M114.6 338.5h0M115.9 342.2h0M114.5 367.8h0M140.7 377.0h0" stroke="#8f6050" stroke-width="1.5" stroke-linecap="round" opacity="0.85"/>
<path d="M118.2 377.8h0M62.0 355.2h0M75.3 373.6h0M62.2 371.6h0M45.2 343.2h0M87.2 332.6h0M46.3 356.9h0M139.3 351.8h0M80.8 357.8h0M132.5 371.2h0M122.8 340.5h0M64.0 338.1h0M151.6 346.6h0M127.7 382.2h0M143.2 363.2h0M142.0 357.1h0" stroke="#a8765e" stroke-width="2" stroke-linecap="round" opacity="0.85"/>
<path d="M78.4 360.9h0M136.9 357.3h0M99.9 343.4h0M146.9 357.0h0M91.3 388.5h0M114.6 359.8h0M70.1 370.4h0M65.3 334.4h0M105.9 349.0h0M109.4 342.9h0M126.6 386.0h0M78.7 362.9h0M139.2 371.7h0M97.4 364.8h0M111.8 385.1h0M153.1 350.9h0M150.8 347.6h0M97.0 364.8h0M91.8 368.0h0M117.0 350.7h0M66.0 359.9h0M116.3 376.1h0M86.5 366.0h0M75.6 347.7h0M77.7 345.6h0M118.9 371.3h0M80.1 347.0h0M126.0 341.7h0M55.7 334.8h0M70.8 356.5h0M154.7 347.5h0M91.2 348.0h0M124.1 350.2h0M124.0 360.9h0M93.8 350.8h0M80.7 379.8h0M101.3 336.5h0M124.3 380.7h0M142.7 386.1h0M62.1 362.1h0M68.7 353.1h0M77.5 333.5h0M52.4 370.9h0M96.9 351.0h0M146.3 388.5h0M115.6 368.7h0M153.1 384.2h0M148.7 388.0h0M138.1 345.3h0M65.6 370.7h0M62.2 343.0h0M97.0 338.5h0M134.6 349.7h0M69.8 365.4h0M46.1 383.7h0M100.2 351.0h0M78.1 373.1h0M60.6 356.7h0M85.4 335.1h0M143.6 381.4h0M133.9 367.5h0M125.0 363.5h0M42.3 376.7h0M108.0 369.3h0M115.4 379.6h0M144.9 380.8h0M130.1 375.2h0M128.0 337.7h0M86.6 389.8h0M109.9 360.4h0M98.7 383.3h0M55.3 354.5h0M133.2 360.3h0M114.8 373.3h0M78.3 353.2h0M112.6 373.8h0M126.2 380.3h0M43.8 353.0h0M113.5 340.8h0M74.8 336.3h0M86.8 366.5h0M42.2 365.7h0M106.6 390.8h0M135.5 387.2h0M89.5 383.9h0M112.2 386.9h0M150.6 344.9h0M129.0 365.3h0M80.4 334.5h0M144.3 371.9h0M88.8 342.7h0M143.6 367.4h0M124.6 334.3h0M53.1 371.7h0M122.5 335.7h0M118.5 386.8h0M114.7 332.5h0M81.3 367.7h0M55.0 350.7h0M57.8 344.1h0M131.0 334.5h0M45.7 365.7h0M56.0 342.0h0M93.0 365.2h0M59.9 390.9h0M116.9 365.4h0M139.8 350.7h0M126.7 345.1h0M104.2 343.7h0M101.3 369.9h0M109.3 389.7h0M80.6 355.4h0M105.4 357.1h0M109.3 335.7h0M57.7 342.3h0M130.6 342.7h0M120.0 346.0h0M121.9 360.0h0M128.1 345.4h0M49.3 357.3h0M82.6 353.4h0M110.9 351.2h0M96.5 380.1h0M44.5 360.3h0M154.1 362.1h0M152.9 384.8h0M73.6 363.9h0M141.4 379.7h0M56.3 371.4h0M49.9 390.1h0M137.7 345.3h0M129.8 383.7h0M57.6 350.3h0M135.6 359.4h0M75.0 350.3h0" stroke="#a8765e" stroke-width="1" stroke-linecap="round" opacity="0.85"/>
<path d="M102.9 357.0h0M64.4 370.8h0M101.3 349.7h0M95.2 368.6h0M44.8 388.1h0M82.3 389.5h0M119.2 367.3h0M145.3 390.3h0M72.7 355.8h0M60.1 351.6h0M57.5 362.8h0M69.9 386.9h0M106.0 374.7h0M58.7 357.4h0M70.6 389.7h0M44.4 346.4h0M108.9 371.8h0M123.3 351.2h0M75.1 388.8h0M143.2 345.5h0M138.8 341.5h0M92.3 359.5h0M131.6 352.2h0M59.4 356.5h0M94.2 390.4h0M53.4 347.1h0M143.0 346.0h0M106.0 368.2h0M79.2 371.0h0M52.8 375.3h0M88.5 355.5h0M128.7 361.3h0M94.5 360.1h0M151.4 360.9h0M87.4 340.9h0M86.6 378.6h0M120.2 380.0h0M125.8 338.3h0M152.7 371.4h0M128.0 363.1h0M91.1 368.0h0M89.0 348.5h0M56.5 359.8h0M68.7 384.6h0M126.8 340.1h0M107.9 347.9h0M60.7 352.3h0M82.9 374.7h0M96.6 332.8h0M145.7 362.7h0M65.9 371.5h0M86.8 382.9h0M68.5 352.9h0M84.2 355.1h0M67.3 356.9h0M137.7 386.7h0M63.5 351.6h0M140.1 352.8h0M118.3 342.2h0M68.7 371.4h0M105.1 366.3h0M137.3 378.6h0M62.0 376.2h0M144.9 361.8h0M69.1 368.7h0M64.1 373.7h0M87.9 350.0h0M67.4 365.2h0M47.0 365.9h0M98.8 337.2h0M110.5 353.6h0M147.7 384.6h0M149.4 368.4h0M94.2 333.5h0M75.0 342.9h0M63.0 378.0h0M138.7 360.7h0M53.6 382.2h0M78.6 350.9h0M99.0 378.6h0M136.3 360.8h0M151.0 371.8h0M42.9 341.8h0M138.4 369.9h0M145.2 344.0h0M80.0 371.4h0M139.5 340.3h0M153.0 379.0h0M94.6 354.4h0M71.1 344.5h0M130.9 341.9h0M53.2 382.4h0M102.2 354.2h0M54.0 362.8h0M65.3 380.0h0M97.9 350.5h0M109.3 338.9h0M119.2 349.0h0M120.1 337.7h0M112.3 376.0h0M88.5 377.6h0M62.0 387.3h0M106.2 359.3h0M97.9 384.2h0M78.5 364.1h0M141.9 335.7h0M59.3 343.4h0M99.5 384.1h0M85.6 385.4h0M96.0 367.3h0M150.1 388.4h0M115.5 356.1h0M149.1 375.6h0M148.2 359.2h0M87.2 365.4h0M116.8 376.0h0M132.3 333.8h0M124.7 370.2h0M102.4 346.2h0M91.5 389.1h0M70.5 356.0h0M95.2 376.1h0M82.4 352.2h0M84.9 332.6h0M57.9 370.1h0M126.4 340.4h0M76.6 334.5h0M104.1 340.2h0M50.1 354.6h0M64.7 346.9h0M47.4 343.9h0M154.9 369.0h0M152.3 346.2h0M72.6 356.5h0M96.6 338.6h0M92.1 391.8h0M143.0 379.1h0M64.9 367.0h0M106.8 336.5h0" stroke="#8aa0cc" stroke-width="1" stroke-linecap="round" opacity="0.85"/>
<path d="M144.7 354.1h0M137.1 363.7h0M48.9 381.1h0M77.9 343.1h0M119.7 363.0h0M64.5 344.6h0M97.7 390.2h0M110.8 343.1h0M108.4 334.1h0M43.7 349.9h0M137.4 340.5h0M45.9 382.3h0M119.0 362.6h0M48.8 353.7h0M66.6 367.2h0M146.7 340.6h0M63.8 379.3h0M145.8 357.9h0M90.2 385.8h0M105.1 357.0h0M51.3 383.9h0M122.7 355.2h0M55.7 357.1h0M130.1 352.2h0M102.5 376.7h0M90.0 350.6h0M111.9 363.1h0M80.6 385.7h0M145.6 351.3h0M122.0 379.6h0M146.7 351.2h0M71.1 369.1h0M136.2 339.5h0M79.0 388.1h0M104.2 354.7h0M88.7 383.3h0M62.8 342.9h0M143.0 338.5h0M49.3 333.1h0M126.6 355.4h0M68.1 374.0h0M81.9 362.5h0M152.4 388.7h0M128.2 368.4h0M84.9 367.5h0M148.0 366.8h0M51.6 346.4h0M107.4 384.6h0M48.7 366.2h0M126.7 358.7h0M100.0 379.6h0M44.3 375.2h0M80.0 353.7h0M142.0 384.2h0M64.0 377.1h0M123.2 378.4h0M112.2 386.5h0M91.3 345.9h0M106.0 334.6h0M53.1 363.9h0M138.1 350.0h0M71.5 373.2h0M100.8 385.0h0M107.1 349.5h0M145.8 365.9h0M137.8 337.3h0M45.2 354.9h0M87.0 374.8h0M100.2 381.5h0M113.5 349.8h0M93.5 349.3h0M154.2 357.6h0M123.8 373.2h0M152.2 356.3h0M137.6 362.8h0M92.4 365.4h0M135.9 388.5h0M145.8 333.6h0M137.4 340.7h0M88.6 351.1h0M120.2 351.7h0M42.1 368.6h0M102.7 356.1h0M104.0 363.7h0M105.7 379.3h0M103.4 353.3h0M68.2 391.9h0M96.9 366.3h0M99.7 363.2h0M80.0 370.5h0M100.9 344.2h0M126.8 368.4h0M101.5 357.4h0M139.1 339.3h0M42.5 381.3h0M52.7 367.7h0M107.4 375.8h0M111.0 365.6h0M50.8 344.8h0M60.4 361.3h0M104.0 378.5h0M65.4 336.4h0M127.0 368.7h0M102.3 346.4h0M66.5 360.1h0M72.0 357.8h0M140.9 337.4h0M97.8 355.0h0M46.0 339.2h0M66.9 351.4h0M103.7 382.7h0M91.8 356.2h0M69.0 391.8h0M120.8 370.9h0M98.4 352.1h0M82.7 364.1h0M57.2 390.7h0M87.3 388.0h0M74.8 382.4h0M110.7 390.7h0M111.9 369.5h0M120.6 339.9h0M95.5 338.7h0M93.4 376.6h0M70.0 341.7h0M67.5 362.8h0M67.0 383.9h0M150.5 349.7h0M98.1 384.1h0M90.8 386.9h0M42.6 360.7h0M92.2 377.9h0M106.5 370.1h0M65.9 355.2h0M114.7 357.1h0M51.9 361.4h0M53.5 365.4h0M65.7 363.9h0M116.1 371.0h0M84.6 364.7h0M119.1 372.6h0M63.3 391.2h0M98.7 379.7h0M54.7 360.4h0M114.5 387.0h0M128.6 356.7h0M123.3 372.6h0M55.1 350.9h0M138.1 373.4h0M62.4 352.5h0M129.2 366.4h0M151.8 382.4h0M150.0 365.3h0M90.7 381.7h0M128.7 391.7h0M126.3 379.8h0M55.5 333.2h0M136.8 364.5h0M141.7 381.3h0M43.7 348.9h0M80.7 349.2h0M46.0 379.8h0M107.8 356.6h0M56.3 361.6h0M144.3 350.8h0M100.3 367.1h0M121.2 376.6h0M72.0 332.8h0M86.9 383.5h0M89.5 383.0h0M108.8 365.5h0M84.3 369.1h0M89.5 367.4h0M48.8 362.1h0M131.3 354.6h0M75.7 332.1h0M55.7 345.2h0M138.0 382.0h0M84.9 347.3h0" stroke="#c8a08a" stroke-width="1.5" stroke-linecap="round" opacity="0.85"/>
<path d="M90.2 349.8h0M59.3 391.9h0M55.7 380.2h0M141.2 365.8h0M105.0 343.3h0M117.4 381.0h0M138.1 337.3h0M49.2 335.5h0M105.1 352.7h0M91.6 336.5h0M115.6 357.2h0M108.0 387.4h0M80.9 378.1h0M140.8 360.3h0M114.8 357.6h0" stroke="#8f6050" stroke-width="2" stroke-linecap="round" opacity="0.85"/>
<path d="M65.4 362.5h0M86.1 390.6h0M103.9 351.7h0M86.4 389.4h0M76.4 343.3h0M150.3 347.3h0M128.5 370.3h0M72.7 360.4h0M77.4 338.2h0M123.4 361.6h0M59.4 387.5h0" stroke="#8aa0cc" stroke-width="2" stroke-linecap="round" opacity="0.85"/>
<path d="M136.3 351.5h0M57.0 379.2h0M124.0 383.0h0M49.9 335.4h0M141.0 386.0h0M93.6 341.9h0M137.5 366.8h0M148.6 359.5h0M57.2 382.0h0M126.9 354.2h0M153.4 381.7h0M120.4 370.9h0M107.4 383.9h0M53.5 370.4h0M154.0 357.2h0" stroke="#b98a70" stroke-width="2" stroke-linecap="round" opacity="0.85"/>
<path d="M128.4 350.7h0M75.5 351.4h0M100.6 390.3h0M50.3 371.4h0M101.7 343.1h0M45.4 355.6h0M61.4 389.7h0M86.8 355.8h0M139.1 333.3h0M142.4 390.1h0M116.6 377.8h0M126.6 363.6h0M90.2 355.7h0M74.4 345.1h0M133.3 378.4h0M130.8 380.4h0M151.5 370.7h0M90.5 343.1h0M84.3 357.7h0" stroke="#9a6a58" stroke-width="2" stroke-linecap="round" opacity="0.85"/>
<path d="M126.5 381.6h0M59.9 368.1h0M114.7 367.2h0M64.5 360.2h0M62.1 340.6h0M102.6 336.4h0M133.0 375.6h0M103.1 375.5h0M85.8 349.1h0M110.2 375.7h0M74.3 380.3h0M73.4 356.6h0M89.1 374.9h0M64.5 369.1h0M63.4 388.3h0M107.7 356.0h0" stroke="#c8a08a" stroke-width="2" stroke-linecap="round" opacity="0.85"/>
<path d="M135.2 388.4h0M43.1 349.3h0M119.2 383.7h0M147.3 378.6h0M51.2 346.8h0M77.8 386.1h0M59.9 359.9h0M49.2 347.4h0M103.3 386.8h0M142.8 358.4h0M61.3 356.3h0M63.6 362.5h0M65.6 355.2h0M122.1 359.8h0M140.5 368.8h0M150.2 357.5h0M93.8 369.3h0" stroke="#d4b4a4" stroke-width="2" stroke-linecap="round" opacity="0.85"/>
</g>
<path d="M75,332 L81,332 C87,337 94,342 101,346.5 L99.5,348.5 C92,345 83,339 75,332Z" fill="#ebe8ea" stroke="none" stroke-width="0" opacity="0.9"/>
<ellipse cx="75.1" cy="372.8" rx="30.9" ry="31.7" fill="#d4d8e3"/>
<ellipse cx="134" cy="355.4" rx="19.5" ry="22" fill="#ccd2e0"/>
<ellipse cx="120" cy="393" rx="14.8" ry="16.5" fill="#ccd2e0"/>
<clipPath id="fl1"><ellipse cx="75.1" cy="372.8" rx="30.9" ry="31.7"/><ellipse cx="134" cy="355.4" rx="19.5" ry="22"/><ellipse cx="120" cy="393" rx="14.8" ry="16.5"/></clipPath>
<g clip-path="url(#fl1)">
<path d="M144.0 351.3h0M96.3 357.9h0M85.2 409.0h0M67.3 385.3h0M93.1 332.7h0M43.2 346.7h0M73.7 359.9h0M63.6 380.4h0M66.1 395.4h0M57.8 367.0h0M140.1 351.4h0M50.3 379.5h0M152.6 399.7h0M69.0 373.9h0M93.5 364.9h0M136.4 364.1h0M137.5 354.9h0M117.4 355.7h0M140.8 362.4h0M79.1 389.5h0M51.5 394.2h0M91.0 398.1h0M141.3 386.0h0M54.4 358.3h0M127.8 405.9h0M121.5 353.0h0M75.1 393.8h0M61.5 407.6h0M151.2 403.6h0M114.8 386.0h0M76.0 340.7h0M81.1 397.2h0M90.2 408.9h0M105.6 367.2h0M76.3 383.2h0M63.3 385.7h0M46.3 341.4h0M119.3 362.2h0M49.6 349.3h0M130.0 376.4h0M74.7 407.9h0M83.1 357.9h0M70.7 368.2h0M117.2 376.5h0M54.3 393.5h0M65.4 335.2h0M124.0 344.5h0M119.7 374.0h0M87.1 362.9h0M49.8 361.7h0M44.5 343.0h0M106.9 381.8h0M84.2 375.6h0M98.0 362.9h0M127.8 341.0h0M105.6 392.8h0M97.6 347.9h0M134.3 364.1h0M42.6 390.3h0M100.7 366.3h0M109.5 388.9h0M130.5 371.3h0M114.9 392.1h0M128.2 343.0h0M100.5 393.1h0M49.2 391.9h0M72.5 361.4h0M114.6 385.3h0M113.1 336.5h0M52.7 387.2h0M116.0 365.3h0M109.3 345.7h0M130.7 335.2h0M111.1 394.9h0M52.8 398.0h0M83.4 332.7h0M101.3 409.5h0M99.9 386.0h0M53.8 394.6h0M101.5 344.7h0M81.1 400.2h0M60.9 381.7h0M51.5 392.4h0M146.7 362.0h0M98.1 371.7h0M91.8 381.7h0M96.5 358.0h0M135.7 355.5h0M71.0 397.0h0M130.7 377.1h0M52.5 389.8h0M128.5 335.4h0M63.9 357.5h0M93.8 363.2h0M96.1 361.6h0M136.7 333.7h0M150.3 372.4h0M44.5 372.2h0M72.1 399.9h0M96.9 380.4h0M76.8 335.1h0M123.7 353.6h0M97.8 377.1h0M136.7 408.7h0M43.4 341.6h0M59.2 342.3h0M140.9 369.6h0M96.2 401.4h0M85.1 401.6h0M54.2 386.4h0M128.5 353.2h0M122.7 345.5h0M94.2 393.8h0M150.2 371.9h0M65.5 334.2h0M87.0 404.2h0M42.5 368.7h0M110.3 393.2h0M84.5 393.2h0M62.5 351.6h0M92.6 399.0h0M50.2 360.8h0M133.2 402.9h0M67.4 338.8h0M127.4 371.8h0M68.6 351.8h0M125.2 343.6h0M87.7 336.7h0M104.3 336.3h0M103.3 400.7h0M96.8 375.4h0M94.2 394.3h0M116.7 357.4h0M119.9 333.4h0M150.8 374.4h0M152.7 367.0h0M95.1 387.2h0M47.0 408.7h0M89.3 334.9h0M77.3 401.3h0M111.1 401.9h0M151.0 395.0h0M74.1 333.2h0M148.6 384.2h0M113.6 390.8h0M148.9 388.4h0M69.9 348.0h0M136.0 368.7h0M61.2 401.9h0M150.5 395.0h0M69.0 402.5h0M45.8 355.4h0M87.8 355.8h0M54.0 333.6h0M57.5 334.3h0M133.4 349.0h0M78.1 377.1h0M142.0 359.7h0M68.2 387.4h0M49.0 402.8h0M95.9 345.0h0M122.3 366.9h0M57.7 369.4h0M103.4 335.6h0M70.1 369.0h0M77.3 373.9h0M66.4 409.4h0M129.7 353.7h0M144.1 406.0h0M102.9 344.6h0M48.1 394.4h0M59.7 391.2h0M72.4 379.9h0M74.8 349.4h0M93.3 358.9h0M53.8 349.5h0M84.7 349.8h0M111.4 386.0h0M76.2 390.6h0M46.6 360.4h0M67.6 344.7h0M113.1 389.2h0M105.5 342.5h0M52.9 400.1h0M87.3 359.0h0M110.7 336.5h0M65.0 389.2h0M85.4 403.7h0M82.3 352.6h0" stroke="#7a92c4" stroke-width="1.5" stroke-linecap="round" opacity="0.7"/>
<path d="M97.6 399.2h0M117.9 373.6h0M73.6 351.6h0M72.3 402.7h0M116.3 393.6h0M94.1 385.5h0M110.0 374.7h0M85.5 367.9h0M51.4 396.1h0M133.2 353.7h0M136.9 377.8h0M142.7 388.2h0M50.6 404.1h0M102.6 357.9h0M112.6 376.2h0M102.7 377.4h0M66.8 387.2h0M45.8 370.4h0M139.2 393.1h0M70.2 391.9h0M60.1 342.2h0M62.9 365.1h0M49.1 372.5h0M84.7 342.0h0M134.6 385.7h0M54.7 357.2h0M103.8 408.3h0M42.4 388.3h0M45.1 400.9h0M84.1 369.8h0M72.2 377.1h0M75.3 406.2h0M52.7 402.8h0M133.3 390.2h0M49.7 400.7h0M152.4 378.6h0M56.8 390.2h0M111.6 354.3h0M76.9 404.2h0M115.2 392.8h0M154.9 399.1h0M127.9 402.7h0M136.1 344.0h0M109.6 380.9h0M52.3 404.7h0M72.8 364.4h0M107.6 348.1h0M47.0 395.5h0M80.6 392.1h0M106.4 344.5h0M82.5 362.0h0M63.4 397.1h0M111.3 345.9h0M99.1 345.5h0M43.5 340.9h0M108.1 365.4h0M113.5 401.3h0M87.7 342.8h0M144.3 350.3h0M47.5 366.0h0M42.9 350.6h0M76.0 399.6h0M53.1 354.4h0M104.6 405.8h0M63.2 351.7h0M42.6 332.1h0M74.3 390.6h0M138.5 334.5h0M64.5 332.8h0M49.4 402.9h0M45.4 366.9h0M142.6 364.1h0M60.7 403.4h0M42.2 334.2h0M80.9 359.5h0M123.2 370.1h0M112.7 352.1h0M99.5 384.2h0M123.9 394.2h0M129.0 355.8h0M112.1 378.7h0M84.5 396.9h0M123.5 386.9h0M138.3 387.8h0M95.2 402.4h0M131.9 347.0h0M64.9 365.7h0M101.4 363.3h0M145.5 350.4h0M134.0 383.3h0M123.4 377.4h0M143.5 407.8h0M122.4 347.8h0M135.1 401.8h0M105.6 390.0h0M67.9 336.3h0M66.7 389.6h0M146.4 379.3h0M55.3 394.9h0M65.1 407.1h0M50.7 349.5h0M97.6 401.4h0M73.0 334.9h0M101.5 365.9h0M89.8 336.0h0M124.8 408.7h0M152.4 391.7h0M77.5 390.4h0M118.0 375.5h0M121.8 348.9h0M131.4 350.8h0M145.4 364.6h0M115.4 387.5h0M150.9 375.6h0M106.5 359.1h0M108.8 385.1h0M143.0 401.9h0M107.2 393.2h0M68.1 351.7h0M50.5 408.5h0M97.1 406.1h0M101.3 368.5h0M131.1 355.6h0M153.0 385.7h0M150.0 392.4h0M72.4 378.9h0M42.8 382.6h0M50.0 375.7h0M46.5 397.3h0M44.1 395.0h0M155.0 383.9h0M62.5 405.9h0M143.0 396.9h0M75.9 404.4h0M128.1 384.4h0M148.4 351.6h0M48.8 392.7h0M113.6 395.5h0M132.5 367.8h0M98.9 333.3h0M54.9 354.8h0M100.5 338.5h0M140.2 377.2h0M103.9 369.9h0M92.4 403.6h0M150.3 377.8h0M148.3 384.1h0M99.0 361.1h0M86.9 364.7h0M118.8 374.8h0M59.0 407.2h0M82.5 402.3h0M119.8 366.6h0M136.4 399.8h0M82.3 369.1h0M66.1 335.8h0M94.1 346.2h0M43.9 357.4h0M43.4 373.8h0M118.7 407.7h0M124.1 360.5h0M107.0 354.8h0M139.5 408.1h0M83.9 356.6h0M101.2 365.6h0M125.0 382.0h0M123.5 385.3h0M141.2 356.6h0M75.9 392.2h0M85.1 333.7h0M53.2 401.7h0M45.9 395.4h0M115.4 337.0h0M70.2 374.8h0M86.6 407.4h0M134.9 372.3h0M77.0 397.8h0M133.0 339.2h0M118.8 350.6h0M43.2 368.4h0M59.7 377.3h0M68.4 387.1h0M66.5 334.8h0M104.0 384.5h0M149.1 396.6h0M117.4 365.8h0M86.0 340.0h0M114.0 360.7h0M92.7 348.9h0M124.6 365.1h0M81.3 354.7h0M117.0 336.3h0M44.5 397.9h0M116.1 336.3h0M132.5 379.0h0M58.7 352.3h0M137.8 349.9h0M86.6 391.2h0M132.1 405.1h0M76.4 406.7h0M123.3 379.8h0M107.4 363.5h0M117.3 388.7h0M85.5 377.7h0M77.7 404.4h0M91.4 366.2h0M140.0 350.1h0M57.6 332.7h0M75.4 389.8h0M117.7 373.6h0M153.0 351.7h0M113.2 341.5h0M101.5 385.6h0M154.1 357.6h0M117.4 390.3h0M100.4 408.0h0M47.3 382.7h0M136.1 351.9h0M112.8 383.0h0M63.4 373.3h0M123.4 338.9h0M80.4 378.8h0M90.1 361.8h0M42.5 380.1h0M55.3 333.9h0M48.9 405.3h0M97.9 364.1h0M79.3 350.9h0M149.8 407.1h0M139.5 366.6h0M108.5 362.6h0M128.1 343.9h0M47.3 360.2h0M92.0 355.6h0M88.8 367.3h0M120.4 358.0h0" stroke="#a4b4d6" stroke-width="1.5" stroke-linecap="round" opacity="0.7"/>
<path d="M64.9 376.1h0M88.3 347.8h0M71.5 335.9h0M128.6 355.8h0M117.6 350.2h0M60.6 365.5h0M117.7 359.4h0M102.0 334.4h0M80.0 381.1h0M127.8 360.0h0M71.9 381.7h0M65.9 349.7h0M141.4 383.9h0M109.1 380.8h0M45.5 386.4h0M151.2 381.6h0M96.8 402.4h0M98.2 408.4h0M80.1 360.6h0M78.8 340.8h0M91.3 390.4h0M141.5 346.5h0M88.5 351.2h0M65.4 409.5h0M147.6 371.9h0M64.7 390.2h0M74.3 385.9h0M86.0 405.7h0M91.4 404.4h0M150.8 338.6h0M58.8 399.3h0M139.4 351.5h0M143.9 379.5h0M120.6 348.8h0M117.4 348.0h0M145.7 342.3h0M67.2 379.2h0M75.6 401.8h0M96.4 350.1h0M58.6 348.0h0M90.6 336.6h0M83.6 359.2h0M150.1 409.2h0M135.5 402.3h0M147.1 406.2h0M95.2 393.4h0M102.6 406.2h0M63.8 395.7h0M69.6 334.1h0M131.9 381.1h0M98.3 336.0h0M138.8 369.9h0M121.3 372.8h0M73.8 408.2h0M141.4 367.8h0M138.6 378.0h0M43.7 368.6h0M140.8 357.6h0M115.7 344.0h0M143.8 402.2h0M78.8 385.3h0M149.6 396.5h0M147.3 340.2h0M122.6 355.8h0M112.6 386.7h0M141.3 376.5h0M92.3 386.0h0M130.2 332.5h0M106.3 349.9h0M46.1 334.9h0M125.9 346.1h0M79.2 366.1h0M64.2 369.0h0M72.7 342.6h0M54.8 363.6h0M154.6 333.4h0M53.8 389.4h0M139.5 355.8h0M143.7 343.7h0M152.1 351.5h0M154.5 401.5h0M46.6 366.9h0M153.3 382.9h0M108.3 364.1h0M59.1 335.5h0M73.2 384.3h0M114.9 342.3h0M109.4 344.1h0M98.5 351.3h0M50.5 374.9h0M130.5 399.5h0M58.9 360.7h0M78.4 408.8h0M125.7 348.2h0M138.2 361.0h0M95.8 358.0h0M93.2 407.9h0M128.4 363.3h0M139.8 350.3h0M66.0 348.8h0M106.1 353.2h0M130.1 354.5h0M144.0 376.1h0M140.7 339.4h0M119.8 375.0h0M70.8 367.3h0M102.6 340.3h0M71.0 375.7h0M132.6 403.3h0M87.6 385.7h0M51.1 338.5h0M89.1 358.1h0M55.8 387.2h0M90.4 409.7h0M56.6 335.5h0M71.3 362.8h0M116.5 333.9h0M116.4 399.2h0M107.2 353.0h0M79.4 344.5h0M67.8 356.8h0M74.6 348.0h0M75.3 342.5h0M151.3 405.7h0M75.6 373.3h0M45.1 397.1h0M76.5 378.4h0M58.5 399.7h0M138.0 373.5h0M116.3 334.7h0M71.8 375.6h0M149.3 365.3h0M125.9 355.9h0M148.1 404.8h0M79.0 343.7h0M53.3 365.8h0M62.8 336.7h0M52.1 374.2h0M140.0 403.5h0M101.8 339.9h0M48.6 398.9h0M47.2 336.4h0M104.1 366.9h0M130.5 358.2h0M45.8 359.2h0M86.6 388.3h0M77.1 351.6h0M129.8 350.0h0M103.9 368.6h0M51.9 356.2h0M122.6 334.7h0M150.8 354.5h0M107.6 355.0h0M154.4 361.0h0M113.2 402.3h0M129.5 356.3h0M62.6 334.0h0M114.6 403.5h0M60.4 380.0h0M66.0 373.6h0M48.8 401.7h0M114.3 374.0h0M124.3 396.0h0M78.6 358.3h0M131.1 397.4h0M123.7 374.4h0M130.2 391.2h0M103.9 348.0h0M61.0 396.3h0M48.2 379.3h0M79.4 357.6h0M93.5 336.1h0M117.7 349.9h0M134.7 356.9h0M114.5 342.8h0M77.6 369.6h0M46.3 406.8h0M104.2 392.5h0M72.6 399.1h0M47.4 383.6h0M131.8 373.6h0M147.4 366.8h0M112.2 366.5h0M64.9 337.8h0M48.6 349.5h0M142.8 333.1h0M153.2 342.5h0M61.7 396.1h0M113.1 353.1h0M118.6 352.2h0M140.2 372.7h0M106.7 349.2h0M128.4 368.4h0M69.0 361.8h0M126.4 333.5h0M106.7 381.7h0M136.3 354.3h0M116.3 378.3h0M136.4 348.5h0M152.5 376.4h0M87.4 353.6h0M58.2 355.8h0M64.6 339.5h0" stroke="#95a8d0" stroke-width="1.5" stroke-linecap="round" opacity="0.7"/>
<path d="M57.2 344.8h0M128.8 396.0h0M58.4 384.3h0M84.3 363.8h0M132.8 338.7h0M77.2 358.8h0M150.1 381.4h0M152.7 399.3h0M101.5 356.2h0M42.1 364.2h0M73.6 378.6h0M52.8 372.8h0M123.2 340.1h0M125.8 401.0h0M129.3 366.5h0M111.4 374.0h0M126.5 346.6h0M139.9 363.3h0M137.8 382.7h0M45.2 369.8h0M68.6 398.2h0M59.2 397.7h0M46.9 392.4h0M119.4 358.4h0M42.5 351.4h0M71.8 360.5h0M46.0 371.2h0M93.5 353.7h0M53.3 364.2h0M72.2 333.5h0M79.5 401.8h0M106.7 350.1h0M106.4 340.8h0M125.5 388.8h0M135.2 375.9h0M77.3 375.4h0M81.9 361.7h0M110.9 374.8h0M48.9 368.3h0M70.9 345.0h0M125.6 370.4h0M71.2 355.2h0M147.7 358.0h0M138.4 408.9h0M139.9 334.7h0M88.9 367.9h0M89.0 407.6h0M86.6 333.0h0M125.0 364.5h0M73.2 396.4h0M52.6 340.7h0M48.9 370.9h0M124.5 382.4h0M100.0 408.0h0M84.1 348.0h0M90.9 356.3h0M51.6 390.6h0M75.9 398.0h0M152.9 352.5h0M143.5 334.9h0M78.4 335.9h0M42.3 379.5h0M107.0 382.1h0M89.0 398.6h0M94.6 393.7h0M109.9 386.7h0M130.0 347.8h0M118.1 334.1h0M88.2 370.7h0M138.7 339.8h0M144.8 357.7h0M78.4 361.9h0M76.0 365.4h0M103.2 366.9h0M65.4 393.2h0M43.6 384.4h0M67.6 407.9h0M106.1 334.7h0M102.6 396.7h0M105.5 347.8h0M62.5 378.1h0M94.5 407.2h0M101.7 352.7h0M121.0 344.9h0M52.7 363.1h0M127.6 375.2h0M136.5 383.2h0M121.7 345.3h0M151.8 339.8h0M132.8 358.8h0M106.2 348.9h0M83.4 395.5h0M140.1 404.5h0M44.6 332.2h0M125.9 332.1h0M117.7 363.0h0M67.7 396.8h0M140.4 369.9h0M53.9 363.1h0M62.8 364.7h0M60.6 354.4h0M120.4 340.2h0M135.7 365.4h0M70.5 384.4h0M135.9 357.2h0M151.5 335.8h0M130.0 341.2h0M98.7 377.5h0M97.8 393.0h0M136.1 346.5h0M143.8 387.3h0M90.4 361.6h0M66.9 362.2h0M56.4 382.7h0M95.2 385.6h0M131.2 369.4h0M106.6 399.3h0M85.0 366.2h0M146.0 373.9h0M59.7 371.7h0M79.0 383.1h0M121.8 383.3h0M110.9 345.0h0M145.6 337.1h0M138.4 359.2h0M53.0 406.2h0M96.4 334.1h0M76.7 404.6h0M47.5 388.2h0M140.2 384.8h0M105.8 332.9h0M137.9 399.2h0M83.3 372.8h0M118.7 339.5h0M45.7 388.2h0M144.0 378.6h0M92.1 337.9h0M100.6 382.7h0M45.4 352.0h0M129.1 406.6h0M89.9 408.9h0M58.4 400.6h0M102.0 349.1h0M152.5 332.3h0M49.8 388.2h0" stroke="#a4b4d6" stroke-width="1" stroke-linecap="round" opacity="0.7"/>
<path d="M85.9 409.0h0M76.9 347.6h0M137.2 387.0h0M153.2 406.5h0M115.5 348.8h0M62.4 344.0h0M120.2 359.4h0M118.4 338.6h0M108.8 362.1h0M120.3 352.6h0M67.8 365.0h0M69.2 407.6h0M48.1 375.0h0M120.5 372.8h0M115.8 362.9h0M80.5 340.3h0M152.0 393.8h0M154.5 352.5h0M152.7 393.4h0M74.6 343.7h0M61.4 396.1h0M68.1 350.4h0M145.8 367.2h0M56.0 356.7h0M131.8 403.0h0M70.7 406.0h0M64.7 335.2h0M131.4 387.8h0M126.0 397.8h0M146.8 409.3h0M93.8 349.2h0M60.5 364.6h0M49.8 367.7h0M120.0 357.3h0M114.4 348.2h0M128.6 347.2h0M49.8 366.7h0M86.0 364.4h0M68.2 337.7h0M59.2 368.1h0M115.8 355.7h0M139.6 370.4h0M50.6 373.4h0M99.6 377.1h0M87.6 356.8h0M79.3 344.1h0M131.7 354.9h0M88.5 387.7h0M82.6 353.1h0M70.8 402.4h0M55.5 385.9h0M126.8 397.2h0M114.1 382.1h0M87.6 335.1h0M69.0 387.3h0M56.0 408.8h0M52.0 354.9h0M94.7 369.3h0M117.2 404.6h0M83.8 397.1h0M84.9 395.6h0M91.1 373.6h0M93.8 402.4h0M68.6 400.6h0M147.2 343.5h0M144.3 399.4h0M76.8 374.1h0M153.0 346.1h0M93.7 358.6h0M47.3 347.1h0M51.0 381.6h0M122.9 357.7h0M69.6 368.3h0M118.0 399.7h0M95.4 367.3h0M64.1 389.8h0M105.3 347.5h0M89.4 336.9h0M132.4 397.5h0M93.0 376.4h0M103.3 346.1h0M141.5 351.2h0M144.0 335.1h0M47.5 357.3h0M112.6 394.2h0M69.9 347.8h0M70.5 381.7h0M126.6 371.4h0M107.5 346.7h0M44.3 334.0h0M66.9 399.6h0M86.2 408.3h0M151.5 355.9h0M121.9 340.5h0M106.3 407.5h0M64.2 370.6h0M108.4 387.7h0M45.8 351.4h0M124.3 350.7h0M111.5 335.6h0M109.5 335.5h0M132.8 401.7h0M130.4 403.8h0M54.9 390.6h0M81.3 382.9h0M111.9 398.9h0M101.8 348.0h0M125.0 388.6h0M47.5 382.1h0M139.0 390.2h0M143.1 340.3h0M49.8 376.0h0M105.5 363.7h0M111.3 375.3h0M57.4 365.8h0M123.7 362.4h0M93.1 374.9h0M153.5 392.9h0M119.8 374.3h0M106.1 394.0h0M44.0 386.9h0M90.2 348.0h0M59.9 348.1h0M126.6 395.7h0M91.5 394.4h0M144.2 408.5h0M120.7 386.3h0M134.6 345.3h0M101.1 340.9h0M142.0 353.3h0M112.8 333.5h0M150.1 380.8h0M90.8 398.2h0M84.1 374.5h0M50.0 393.9h0M148.2 342.7h0M92.8 373.0h0M62.0 351.4h0M46.2 391.9h0M60.8 346.8h0M48.7 335.8h0M99.4 335.3h0M80.5 366.5h0" stroke="#7e96c6" stroke-width="1" stroke-linecap="round" opacity="0.7"/>
<path d="M109.4 357.4h0M79.6 398.5h0M95.8 364.7h0M148.5 361.0h0M80.5 357.8h0M150.8 350.3h0M52.4 407.7h0M150.3 367.2h0M142.2 359.6h0M96.6 388.3h0M70.6 363.1h0M97.5 371.4h0M114.6 405.2h0M150.7 393.5h0M54.9 342.2h0M137.5 339.3h0M120.2 346.5h0M46.6 367.8h0M122.1 359.6h0M71.1 368.9h0M54.6 367.7h0M137.3 382.5h0M130.4 398.8h0M154.0 362.0h0M137.8 386.6h0M64.6 351.5h0M91.0 409.2h0M119.5 372.7h0M146.4 346.4h0M96.1 390.5h0M154.0 375.6h0M52.2 392.6h0M122.7 391.0h0M92.8 361.5h0M52.7 370.4h0M51.2 406.8h0M132.5 383.1h0M55.8 406.8h0M97.0 353.6h0M124.5 398.6h0M145.0 354.4h0M66.3 397.2h0M145.7 344.1h0M152.0 332.8h0M127.2 367.5h0M130.9 393.3h0M49.6 357.6h0M95.0 374.8h0M84.1 361.6h0M124.4 361.3h0M146.9 409.8h0M56.7 333.5h0M134.5 390.6h0M114.0 395.7h0M106.6 356.9h0M96.7 361.7h0M88.4 363.0h0M110.9 358.8h0M44.1 401.3h0M143.9 343.3h0M67.5 379.3h0M69.8 370.7h0M85.4 374.3h0M128.2 356.4h0M123.7 382.5h0M115.9 396.8h0M105.7 336.5h0M130.3 356.6h0M151.5 374.3h0M123.2 351.8h0M96.2 403.0h0M124.4 353.0h0M148.8 342.6h0M101.7 376.8h0M66.9 347.4h0M95.8 378.3h0M138.1 408.6h0M138.9 367.0h0M138.8 356.0h0M44.7 346.0h0M113.7 347.5h0M81.3 363.8h0M53.2 357.9h0M84.2 403.5h0M118.4 382.5h0M126.7 404.8h0M95.2 332.4h0M96.2 374.7h0M102.1 364.7h0M64.0 402.1h0M51.0 389.0h0M65.6 333.1h0M43.5 352.4h0M95.1 364.6h0M124.9 389.3h0M59.7 405.8h0M120.2 339.9h0M87.7 353.1h0M74.3 405.6h0M115.8 343.0h0M110.7 382.9h0M139.3 399.5h0M121.7 368.2h0M117.7 371.8h0M60.5 400.6h0M49.7 406.4h0M46.1 352.7h0M56.2 348.8h0M51.3 362.3h0M130.3 381.8h0M100.7 390.9h0M87.0 386.3h0M120.7 369.6h0M86.8 334.8h0M46.2 364.1h0M64.2 407.9h0M95.9 409.4h0M82.4 341.4h0M126.4 368.6h0M133.0 406.6h0M45.0 364.2h0M54.4 363.6h0M60.3 334.7h0M109.7 370.0h0M125.2 385.5h0M51.7 371.8h0M137.8 382.8h0M74.8 353.2h0M97.3 353.0h0M127.8 376.7h0M144.0 392.4h0M122.0 358.9h0M67.0 365.7h0M122.8 370.7h0M122.3 342.7h0M141.5 361.8h0M150.2 379.9h0M110.0 386.1h0M94.5 344.8h0M112.6 380.2h0M42.1 337.9h0M101.6 340.1h0M132.2 368.2h0M154.7 348.5h0M103.1 369.2h0M59.8 361.0h0M147.2 348.5h0M130.3 376.8h0M44.5 366.8h0M116.5 375.1h0M77.1 332.9h0M121.9 388.4h0" stroke="#95a8d0" stroke-width="1" stroke-linecap="round" opacity="0.7"/>
<path d="M61.0 387.9h0M99.6 357.4h0M73.2 364.4h0M119.3 403.8h0M118.6 354.7h0M136.2 409.4h0M74.0 406.6h0M80.8 393.2h0M104.5 386.0h0M152.3 382.8h0M85.0 400.2h0M90.7 367.5h0M45.3 334.2h0M91.4 404.0h0M70.9 351.0h0M68.2 351.9h0M58.1 339.2h0M141.3 370.5h0M81.7 360.3h0M149.8 348.0h0M136.2 336.5h0M66.2 354.0h0M75.3 358.7h0M92.7 356.9h0M122.0 357.1h0M55.3 374.1h0M77.5 340.1h0M111.7 385.8h0M75.4 365.3h0M52.2 348.1h0M57.3 380.3h0M147.4 399.0h0M145.0 358.5h0M154.6 379.2h0M112.1 371.5h0M70.5 408.1h0M61.8 357.0h0M128.0 353.7h0M147.9 357.9h0M64.7 390.2h0M85.7 346.7h0M54.1 363.6h0M124.3 333.9h0M105.6 339.3h0M145.6 380.9h0M141.9 399.7h0M107.9 348.4h0M140.3 340.0h0M95.4 401.6h0M77.5 363.8h0M50.1 408.3h0M111.5 335.0h0M153.4 335.8h0M121.9 336.2h0M153.7 361.1h0M63.7 394.8h0M131.9 332.7h0M132.2 396.4h0M45.4 406.2h0M48.9 404.3h0M42.4 373.1h0M95.0 345.8h0M119.4 352.1h0M118.7 351.2h0M154.5 360.6h0M77.3 343.8h0M127.3 344.1h0M87.3 332.1h0M42.9 394.6h0M60.2 338.9h0M153.3 349.8h0M112.2 348.4h0M94.8 360.7h0M129.7 375.9h0M42.1 341.3h0M136.0 406.8h0M107.8 370.7h0M89.0 404.4h0M142.2 393.0h0M42.1 336.5h0M136.9 409.6h0M121.4 332.5h0M144.5 381.0h0M139.7 359.7h0M100.6 367.6h0M140.0 339.4h0M62.7 396.2h0M103.2 335.1h0M147.3 390.2h0M82.1 344.1h0M94.4 352.4h0M107.7 364.1h0M147.0 356.9h0M135.1 376.0h0M75.1 408.3h0M136.1 403.9h0M146.6 375.1h0M52.4 349.0h0M88.0 398.9h0M103.1 384.7h0M142.1 349.4h0M59.8 337.2h0M138.5 353.0h0M85.7 384.8h0M126.5 361.1h0M107.2 399.5h0M106.4 375.2h0M92.2 335.2h0M146.8 333.1h0M48.4 378.5h0M101.6 391.4h0M93.0 355.7h0M97.6 341.7h0M110.5 405.2h0M75.8 355.3h0M133.2 395.8h0M51.9 380.1h0M66.0 344.3h0M147.2 392.8h0M42.9 385.2h0M56.3 400.0h0M52.4 399.1h0M65.6 395.0h0M85.3 359.2h0M57.7 334.6h0M68.9 337.0h0M85.5 362.2h0M97.8 354.3h0M146.0 353.6h0M57.7 340.9h0M103.3 337.3h0M125.4 374.9h0M96.1 374.9h0M43.4 354.4h0M122.5 405.0h0M84.9 373.5h0M111.8 403.6h0M129.9 332.7h0M139.7 368.7h0M121.4 390.1h0M87.6 366.4h0M122.5 399.0h0M152.5 349.9h0M78.1 386.1h0M68.9 371.2h0M80.5 375.8h0M147.5 357.7h0M60.0 380.6h0M87.2 351.6h0M150.1 393.9h0M91.7 343.7h0M85.8 400.8h0M94.2 349.1h0M98.5 337.4h0M46.1 385.2h0M100.8 360.2h0M90.2 399.7h0M97.0 360.9h0M150.0 397.9h0M126.9 364.3h0M44.6 378.8h0M142.8 376.3h0M139.0 369.5h0M126.7 371.4h0M106.8 368.8h0M98.7 349.6h0M97.6 350.3h0M78.0 396.0h0M71.5 399.9h0M114.2 379.0h0M110.8 362.3h0M96.3 389.7h0M65.8 377.4h0M140.6 366.5h0M67.2 334.1h0M109.7 402.2h0M137.6 375.3h0M132.6 392.6h0M107.0 344.4h0M127.0 334.7h0M123.2 408.5h0M51.8 377.5h0M121.1 357.7h0M108.9 356.2h0M139.0 406.4h0M69.6 388.2h0M117.9 332.7h0M78.7 375.4h0M95.0 341.1h0M144.3 364.6h0M56.4 374.6h0M59.7 393.0h0M69.7 341.5h0M95.0 399.4h0M67.9 376.0h0M126.0 370.4h0M147.1 368.5h0M85.7 398.1h0M65.3 398.3h0M58.7 408.4h0M64.4 397.5h0M88.9 364.7h0M120.9 342.6h0M133.1 334.2h0M54.3 359.7h0M44.3 350.5h0M148.4 356.2h0" stroke="#b6c2dc" stroke-width="1.5" stroke-linecap="round" opacity="0.7"/>
<path d="M83.2 366.6h0M42.0 364.7h0M150.3 356.7h0M86.9 402.5h0M107.1 357.0h0M56.7 339.0h0M127.3 350.0h0M75.1 394.6h0M136.3 373.2h0M59.3 389.4h0M125.9 393.3h0M140.8 367.5h0M138.2 343.6h0M114.0 350.5h0M60.4 361.3h0M147.3 348.5h0M58.6 374.4h0M133.2 361.1h0M99.5 349.6h0M128.2 377.1h0M132.8 349.2h0M69.2 384.6h0M127.5 365.5h0M120.8 405.0h0M117.8 376.4h0M151.0 378.0h0M42.1 341.5h0M116.3 381.8h0M114.2 373.2h0M144.5 332.8h0M132.8 401.3h0M88.2 353.0h0M45.5 346.2h0M68.4 369.9h0M89.3 348.5h0M96.4 355.6h0M52.1 392.1h0M117.1 357.9h0M51.4 387.3h0M81.9 372.0h0M53.4 372.4h0M124.4 395.4h0M133.2 357.8h0M129.2 374.1h0M153.2 403.9h0M149.4 351.0h0M154.0 340.9h0M52.5 348.4h0M92.2 402.9h0M52.1 332.2h0M121.1 342.3h0M109.0 360.0h0M150.5 352.4h0M141.8 404.9h0M77.7 346.2h0M74.8 369.5h0M151.8 349.8h0M105.3 357.1h0M104.2 355.7h0M63.5 348.9h0M84.5 380.1h0M139.1 334.6h0M150.6 385.9h0M131.3 399.6h0M134.2 344.7h0M122.8 341.0h0M94.1 338.4h0M96.7 341.3h0M141.6 370.5h0M136.3 380.6h0M109.6 391.3h0M148.4 368.1h0M144.7 392.3h0M105.8 335.2h0M42.4 376.1h0M69.1 368.9h0M90.9 389.3h0M83.9 343.9h0M76.4 377.5h0M110.5 384.9h0M115.0 374.9h0M148.0 398.6h0M70.2 396.8h0M102.8 370.9h0M131.6 344.3h0M49.2 386.8h0M76.1 348.8h0M62.5 394.7h0M132.8 394.0h0M83.5 332.6h0M65.3 385.9h0M104.6 393.1h0M76.7 377.8h0M146.5 336.3h0M75.8 409.5h0M133.4 409.7h0M103.3 380.0h0M53.7 387.8h0M146.0 368.5h0M79.4 375.3h0M154.7 351.3h0M147.4 404.9h0M110.9 361.9h0M87.0 380.1h0M86.7 397.5h0M138.8 372.2h0M133.1 392.0h0M149.9 357.4h0M86.4 376.3h0M59.3 335.0h0M70.9 377.3h0M63.2 408.9h0M121.2 377.0h0M73.1 350.9h0M150.5 371.4h0M75.5 342.7h0M59.5 339.2h0M119.2 372.0h0M54.5 385.7h0M66.6 350.0h0M141.2 364.6h0M123.2 407.8h0M96.3 390.1h0M58.9 340.1h0M79.4 386.4h0M151.6 383.1h0M100.9 340.6h0M152.5 332.1h0M77.5 339.4h0M107.0 394.6h0M125.8 336.4h0M56.9 405.8h0M83.7 373.7h0M75.0 406.7h0M126.6 386.1h0M64.5 407.2h0M104.3 409.4h0M66.6 357.2h0M46.6 407.4h0M112.5 368.2h0M51.3 345.2h0M154.6 362.0h0M147.9 357.7h0M56.1 337.3h0M133.4 366.6h0M122.3 394.7h0M44.7 370.2h0M43.3 368.9h0M115.5 341.1h0M109.0 369.2h0M54.4 368.5h0M81.1 405.1h0M71.7 356.4h0M111.8 341.0h0M51.0 332.0h0M122.7 359.9h0M49.7 351.9h0M152.7 373.0h0M133.2 359.1h0M143.0 338.6h0M99.3 408.6h0M42.2 383.6h0M53.1 375.9h0M63.4 381.7h0M105.8 365.3h0M92.4 357.4h0M83.8 407.7h0M52.3 371.3h0M94.4 397.0h0M42.5 401.6h0M69.8 367.8h0M44.7 406.3h0M139.4 360.7h0M86.7 394.5h0M110.7 376.4h0M80.5 367.2h0M139.7 408.9h0M135.4 406.0h0M60.0 343.3h0M50.8 336.1h0M129.1 348.7h0M116.9 392.1h0M101.7 340.9h0M128.5 400.8h0M122.8 370.4h0M50.2 333.2h0M147.2 366.6h0M84.6 404.7h0M145.5 380.3h0M94.3 334.5h0M116.3 392.6h0M56.0 401.4h0M149.4 365.2h0M115.9 397.9h0M49.7 398.9h0M95.4 355.4h0" stroke="#8aa0cc" stroke-width="1.5" stroke-linecap="round" opacity="0.7"/>
<path d="M88.9 403.5h0M69.4 343.0h0M101.7 400.1h0M146.8 356.8h0M114.8 333.5h0M131.5 396.5h0M78.9 355.0h0M137.0 338.6h0M127.9 398.3h0M150.0 408.9h0M122.8 356.2h0M101.1 393.7h0M106.2 342.2h0M52.6 383.9h0M84.8 360.8h0M119.5 404.7h0M63.4 335.0h0M52.8 359.8h0M59.7 388.3h0M79.7 349.9h0M66.4 349.6h0M124.0 389.1h0M49.8 395.3h0M116.1 343.8h0M107.9 388.6h0M67.7 395.9h0M45.6 363.2h0M128.4 334.2h0M134.4 394.7h0M144.6 394.9h0M98.6 381.4h0M139.2 373.9h0M104.1 362.8h0M107.4 332.8h0M80.0 407.1h0M123.1 374.4h0M76.0 403.6h0M125.7 371.5h0M49.9 391.0h0M100.7 371.3h0M53.9 349.8h0M60.9 399.0h0M123.7 346.1h0M55.6 363.3h0M153.4 398.0h0M118.0 383.1h0M52.5 338.6h0M145.9 375.8h0M149.3 361.5h0M116.3 401.4h0M82.6 407.4h0M89.6 352.7h0M43.0 338.0h0M93.4 347.9h0M148.6 388.7h0M121.8 351.7h0M49.4 403.6h0M148.1 335.2h0M47.0 345.3h0M133.5 370.8h0M127.1 395.1h0M63.0 394.5h0M98.9 374.4h0M56.4 348.1h0M90.5 405.8h0M94.7 353.6h0M93.5 355.9h0M70.0 355.2h0M123.2 394.7h0M42.0 368.0h0M58.7 372.6h0M75.8 403.6h0M110.2 394.9h0M115.3 407.8h0M58.9 349.1h0M114.7 358.7h0M68.5 381.6h0M154.1 407.4h0M49.1 350.4h0M54.3 376.1h0M143.5 354.9h0M131.0 387.8h0M90.7 356.3h0M101.0 345.8h0M136.3 375.7h0M70.8 364.8h0M79.1 376.4h0M75.8 363.3h0M74.6 342.7h0M102.0 351.7h0M48.2 360.1h0M69.6 395.9h0M82.0 351.1h0M76.5 333.8h0M123.3 337.5h0M45.5 342.0h0M109.0 334.0h0M71.7 352.2h0M141.8 364.1h0M67.7 366.4h0M116.2 384.0h0M85.6 398.1h0M117.9 386.1h0M86.1 366.7h0M136.2 344.9h0M95.9 385.9h0M128.6 368.9h0M121.0 373.0h0M133.9 385.9h0M128.6 379.0h0M64.2 372.0h0M123.0 388.8h0M150.2 392.1h0M69.8 371.5h0M118.6 377.1h0M66.2 387.9h0M139.8 361.5h0M71.1 360.5h0M53.5 389.2h0M146.0 402.7h0M73.2 338.6h0M102.9 384.5h0M54.2 341.5h0M85.9 376.8h0M49.4 373.3h0M111.1 360.7h0M79.5 397.3h0M78.5 348.3h0M96.5 379.3h0M45.7 366.5h0M152.7 335.9h0M50.9 409.3h0M100.4 387.2h0M144.5 370.1h0M103.5 384.7h0M123.2 394.1h0M75.9 355.7h0" stroke="#8aa0cc" stroke-width="1" stroke-linecap="round" opacity="0.7"/>
<path d="M49.2 369.0h0M79.8 384.1h0M52.6 397.7h0M56.3 357.4h0M117.6 382.4h0M51.0 363.1h0M111.2 354.0h0M136.6 371.7h0M151.4 335.5h0M101.5 376.7h0M103.2 403.2h0M106.5 371.1h0M119.5 350.0h0M98.8 409.2h0M94.2 342.9h0M64.4 409.4h0M132.3 359.5h0M49.4 347.5h0M101.9 402.1h0M141.3 395.5h0M148.8 375.0h0M69.9 364.3h0M134.1 350.4h0M58.1 392.4h0M127.9 402.8h0M104.6 342.9h0M50.3 375.2h0M93.5 349.2h0M141.4 380.9h0M49.4 350.4h0M132.2 341.8h0M103.1 354.6h0M101.8 366.2h0M67.5 346.3h0M116.0 365.8h0M144.3 341.1h0M81.1 391.5h0M125.8 343.8h0M143.6 387.2h0M132.9 407.0h0M93.7 335.8h0M152.8 387.9h0M92.7 347.9h0M147.9 360.0h0M143.5 399.4h0M136.3 403.8h0M80.8 334.0h0M55.2 408.9h0M129.1 338.1h0M137.2 392.8h0M144.9 360.3h0M112.7 389.9h0M106.0 406.8h0M92.0 344.9h0M82.6 370.3h0M145.0 369.4h0M129.3 404.9h0M89.4 384.3h0M136.6 368.1h0M42.5 372.6h0M130.7 338.1h0M146.8 346.1h0M101.0 346.9h0M51.4 372.3h0M98.4 363.3h0M53.4 382.9h0M87.3 374.2h0M109.1 353.7h0M123.6 409.6h0M88.8 343.7h0M79.6 402.2h0M92.8 349.5h0M71.8 369.9h0M127.2 379.5h0M111.0 406.7h0M52.2 337.2h0M88.9 408.0h0M103.1 341.7h0M141.2 335.7h0M113.6 387.8h0M119.8 336.0h0M146.5 385.6h0M151.7 370.5h0M87.9 358.8h0M126.3 367.1h0M50.8 352.9h0M121.3 342.3h0M83.3 346.0h0M130.2 393.1h0M86.3 395.3h0M123.1 380.2h0M99.0 368.7h0M135.7 368.0h0M78.1 401.6h0M134.6 385.3h0M71.7 365.9h0M67.2 359.1h0M128.1 378.8h0M145.6 338.0h0M52.2 347.9h0M106.8 347.8h0M112.2 377.8h0M61.8 402.4h0M132.1 374.6h0M92.2 370.5h0M120.6 367.4h0M153.6 406.8h0M126.8 371.6h0M65.9 350.9h0M90.4 403.5h0M116.5 410.0h0M75.1 357.2h0M129.7 332.4h0M87.1 335.5h0M132.9 353.7h0M131.8 385.1h0M62.6 359.5h0M101.3 378.1h0M56.7 340.4h0M50.9 378.1h0M84.3 379.3h0M117.2 373.9h0M118.9 343.3h0M88.7 332.8h0M84.3 402.8h0M74.7 346.0h0M152.2 398.9h0M49.5 356.0h0M64.7 408.7h0M71.6 359.2h0M113.8 400.2h0M83.8 339.8h0M132.5 389.6h0M112.6 386.6h0M63.8 376.2h0M146.3 344.9h0M100.9 354.6h0M126.4 376.8h0M146.5 358.6h0M86.8 387.5h0M149.7 338.7h0" stroke="#b6c2dc" stroke-width="1" stroke-linecap="round" opacity="0.7"/>
<path d="M44.6 368.7h0M68.0 406.6h0M78.1 335.4h0M141.5 361.3h0M61.4 338.7h0M82.0 373.0h0M100.7 348.3h0M139.2 403.0h0M74.2 340.6h0M102.3 408.8h0M76.2 387.8h0M68.3 353.2h0M72.8 387.5h0M63.1 371.3h0M135.9 343.0h0M107.9 380.8h0M116.3 369.5h0M133.9 371.5h0M137.6 391.8h0M109.4 336.7h0M89.5 365.3h0M51.3 377.1h0M139.8 404.0h0M91.3 390.4h0M59.0 366.8h0" stroke="#95a8d0" stroke-width="2" stroke-linecap="round" opacity="0.7"/>
<path d="M42.7 396.2h0M123.6 343.2h0M127.5 397.2h0M122.7 337.1h0M124.9 372.9h0M68.3 388.6h0M84.6 402.5h0M51.1 366.7h0M84.9 344.0h0M153.3 361.1h0M80.9 348.0h0M78.2 364.4h0M103.8 390.6h0M57.7 351.4h0M98.8 362.8h0M91.3 353.6h0M118.2 342.4h0M99.4 348.7h0M145.2 395.1h0M96.9 345.9h0M134.7 381.5h0M62.8 346.6h0M88.4 372.9h0M76.0 391.3h0M79.9 396.9h0M134.2 353.3h0M134.6 380.8h0M145.9 346.9h0M74.4 403.5h0M105.1 408.0h0M46.1 384.5h0M140.0 348.0h0M100.7 384.3h0M56.7 374.3h0M149.1 368.9h0M60.8 385.4h0M48.3 358.3h0M125.6 384.6h0M130.2 403.1h0M143.8 392.1h0M108.1 386.7h0M131.9 364.3h0M116.2 387.2h0M89.5 386.9h0M86.4 380.2h0M111.3 342.2h0M62.6 352.2h0M73.0 364.9h0M121.7 373.6h0M67.6 393.3h0M68.6 403.7h0M152.5 376.0h0M119.0 385.9h0M57.8 391.7h0M133.2 362.9h0M59.8 377.3h0M60.3 354.6h0M89.6 355.2h0M106.4 390.0h0M60.4 404.9h0M91.5 338.4h0M111.9 392.2h0M109.4 383.8h0M57.6 367.2h0M79.0 352.1h0M62.8 372.8h0M89.1 372.2h0M80.7 399.2h0M61.3 334.7h0M135.3 378.3h0M69.0 397.0h0M116.0 387.0h0M88.5 333.3h0M120.1 385.7h0M66.2 366.4h0M101.9 349.9h0M135.9 343.1h0M74.2 375.1h0M82.6 377.3h0M115.9 339.9h0M87.7 396.8h0M142.9 372.1h0M72.2 377.7h0M152.3 393.3h0M138.8 383.7h0M65.6 371.4h0M110.1 340.2h0M113.5 370.2h0M116.5 407.8h0M60.5 370.9h0M62.3 352.6h0M103.1 349.6h0M121.1 409.6h0M153.9 375.9h0M79.6 401.8h0M67.3 367.4h0M143.1 391.6h0M129.2 353.0h0M87.1 358.6h0M149.9 360.4h0M68.3 383.5h0M127.9 340.3h0M47.5 372.3h0M87.5 362.1h0M107.6 343.9h0M144.4 390.3h0M77.5 333.8h0M63.4 384.7h0M90.8 383.7h0M85.0 361.4h0M104.8 333.4h0M78.9 386.9h0M90.8 359.6h0M99.6 353.3h0M123.2 340.5h0M125.6 396.0h0M85.5 378.5h0M115.9 404.2h0M92.1 371.7h0M150.4 332.5h0M75.1 358.9h0M147.2 355.5h0M88.4 408.6h0M88.3 375.3h0M56.2 335.6h0M145.3 382.0h0M99.2 338.2h0M42.6 404.0h0M140.2 365.7h0M86.3 345.0h0M109.6 381.0h0M147.5 365.8h0M106.4 342.6h0M143.5 359.9h0M79.7 351.7h0M94.6 374.2h0" stroke="#7a92c4" stroke-width="1" stroke-linecap="round" opacity="0.7"/>
<path d="M151.3 332.7h0M115.7 346.7h0M72.1 394.7h0M82.9 373.6h0M52.6 354.4h0M70.6 359.0h0M105.0 369.9h0M133.2 346.1h0M60.3 360.7h0M119.8 395.3h0M75.9 378.8h0M63.7 386.4h0M65.4 374.2h0M109.0 383.8h0M121.3 398.3h0M47.9 341.9h0M52.0 386.6h0M52.4 339.4h0M153.1 407.8h0" stroke="#7e96c6" stroke-width="2" stroke-linecap="round" opacity="0.7"/>
<path d="M90.4 391.6h0M92.2 334.6h0M133.5 345.0h0M118.8 376.1h0M108.1 395.9h0M150.7 374.8h0M128.4 375.8h0M52.5 352.8h0M62.1 357.9h0M145.0 382.1h0M56.2 347.9h0M141.4 373.5h0M121.1 384.5h0M92.0 359.4h0M131.6 382.8h0M140.2 366.4h0M47.7 401.1h0M128.9 380.7h0M136.6 333.9h0M69.6 408.6h0M140.6 342.6h0M83.6 342.9h0M42.5 386.7h0M148.2 396.1h0M112.3 361.9h0M54.3 406.3h0M43.5 396.0h0M95.5 378.6h0M116.1 370.6h0M143.8 345.4h0M132.4 373.5h0M84.3 392.6h0M138.1 337.2h0M149.2 348.7h0M147.5 408.0h0M60.5 360.0h0M75.7 409.5h0M114.9 406.4h0M143.3 352.3h0M75.7 358.3h0M128.5 390.1h0M110.3 372.4h0M78.5 394.0h0M84.3 380.0h0M141.4 340.4h0M60.2 385.6h0M77.7 334.5h0M69.1 401.4h0M58.0 360.2h0M113.4 352.1h0M146.2 391.6h0M92.0 344.2h0M74.4 358.9h0M48.4 346.9h0M82.8 387.9h0M54.9 333.5h0M75.0 361.9h0M100.4 385.1h0M143.0 399.5h0M142.6 354.9h0M150.8 366.1h0M75.0 382.6h0M90.0 338.1h0M92.0 388.5h0M139.6 357.1h0M148.9 384.2h0M84.7 362.6h0M50.8 368.7h0M144.4 354.3h0M89.5 379.7h0M112.2 347.0h0M99.3 379.9h0M95.8 347.5h0M85.8 376.5h0M44.4 397.2h0M116.9 390.1h0M135.4 357.5h0M115.7 359.2h0M57.1 368.5h0M62.4 354.3h0M125.7 361.7h0M44.3 371.6h0M74.9 348.8h0M148.6 376.6h0M151.0 370.1h0M82.8 396.3h0M140.4 392.7h0M64.2 369.3h0M143.7 377.6h0M96.3 363.5h0M138.0 374.9h0M60.8 381.3h0M122.4 356.8h0M92.4 376.5h0M56.0 407.0h0M64.9 339.3h0M80.8 343.7h0M118.4 374.9h0M122.6 363.0h0M120.0 334.7h0M98.4 338.6h0M55.4 335.1h0M59.0 387.1h0M110.9 402.5h0M86.6 339.5h0M135.4 372.9h0M69.2 402.3h0M124.6 387.5h0M105.9 400.5h0M121.4 344.4h0M58.1 409.3h0M149.2 354.8h0M119.3 396.4h0M59.2 407.0h0M71.6 402.1h0M65.5 377.7h0M118.3 371.2h0M83.1 349.3h0M65.4 399.8h0M93.5 335.2h0M113.3 376.7h0M94.7 358.2h0M95.5 389.0h0M68.6 372.9h0M104.4 343.3h0M59.3 387.2h0M146.4 336.3h0M136.4 378.8h0M88.4 389.8h0M149.6 370.4h0M94.4 375.3h0M77.3 368.0h0M108.7 391.0h0M107.2 332.3h0M153.1 395.0h0M118.6 361.9h0M65.3 399.0h0M49.8 342.9h0M117.7 384.8h0M142.0 337.6h0M107.9 342.1h0M142.0 359.5h0M63.4 394.1h0M68.0 398.7h0M91.3 392.8h0M51.3 407.4h0M97.4 342.3h0M98.1 336.4h0M101.7 363.1h0M98.1 405.3h0M148.9 373.0h0M58.5 350.8h0M54.4 392.8h0M49.5 347.8h0M51.7 367.6h0M123.1 378.3h0M75.2 350.3h0M113.0 403.3h0M58.4 346.4h0M57.9 401.9h0M136.0 343.8h0M95.2 336.1h0M44.5 373.8h0M45.2 356.4h0M97.1 376.7h0M49.5 352.7h0M42.6 347.8h0M110.2 382.5h0M84.9 375.6h0M74.4 352.9h0M45.4 405.4h0M103.3 407.3h0M153.1 375.0h0M64.5 383.9h0M143.1 337.3h0M138.0 337.3h0M57.3 347.3h0M79.6 408.6h0M118.2 400.2h0M112.7 361.7h0M149.7 387.0h0M104.8 351.0h0M65.9 366.7h0M69.6 332.5h0M77.7 385.0h0M97.1 338.3h0M94.4 379.2h0M56.6 388.4h0" stroke="#7e96c6" stroke-width="1.5" stroke-linecap="round" opacity="0.7"/>
<path d="M64.0 362.5h0M72.2 401.3h0M110.0 385.2h0M42.5 380.5h0M49.5 361.2h0M116.2 374.8h0M59.9 379.4h0M128.6 381.6h0M145.9 376.5h0M102.1 363.2h0M68.9 365.8h0M116.7 355.9h0M43.4 358.4h0M67.2 332.8h0M151.9 351.0h0M111.0 341.2h0M128.0 388.7h0M125.8 407.4h0M117.6 341.4h0M149.1 332.5h0M152.8 370.2h0M104.8 401.6h0" stroke="#a4b4d6" stroke-width="2" stroke-linecap="round" opacity="0.7"/>
<path d="M104.1 368.6h0M151.5 390.3h0M51.5 396.9h0M129.9 390.6h0M119.7 382.1h0M59.4 372.5h0M51.2 392.8h0M91.4 389.9h0M91.6 389.0h0M93.9 380.2h0M137.7 333.9h0M61.7 346.4h0M83.4 354.6h0M69.0 387.8h0M137.1 356.6h0M120.9 401.9h0M50.6 383.3h0M49.4 364.6h0" stroke="#7a92c4" stroke-width="2" stroke-linecap="round" opacity="0.7"/>
<path d="M50.0 404.1h0M134.8 408.8h0M51.0 340.4h0M76.5 383.6h0M95.6 368.7h0M64.3 389.9h0M131.9 342.5h0M51.5 385.6h0M56.5 359.0h0M148.1 334.1h0M81.6 339.4h0M70.7 409.5h0M95.2 408.7h0M110.5 367.0h0M117.4 385.2h0M138.5 408.6h0M91.4 344.6h0" stroke="#8aa0cc" stroke-width="2" stroke-linecap="round" opacity="0.7"/>
<path d="M52.4 356.0h0M98.6 333.5h0M134.0 368.2h0M66.0 389.3h0M62.8 347.6h0M70.4 368.0h0M82.1 378.8h0M103.4 352.2h0M152.9 400.4h0M60.6 386.2h0M79.4 354.1h0M152.1 354.0h0M53.7 388.6h0M55.7 387.2h0M49.8 384.1h0M110.6 377.6h0M75.4 338.0h0M55.3 398.7h0M152.2 368.1h0M87.8 404.5h0M48.1 400.2h0M137.8 376.7h0M69.3 352.4h0M90.7 375.6h0M48.7 348.0h0M105.5 335.4h0" stroke="#b6c2dc" stroke-width="2" stroke-linecap="round" opacity="0.7"/>
</g>
<ellipse cx="77" cy="375" rx="15" ry="17" fill="#dfe3ec" opacity="0.45"/>
<path d="M83.4 374.8h0M87.4 363.1h0M85.4 370.3h0M63.3 371.3h0M72.0 384.4h0M73.2 373.0h0M87.0 375.8h0M68.8 385.8h0M65.8 387.0h0M66.0 368.7h0M78.3 372.1h0M82.5 366.1h0M79.8 365.2h0M81.0 381.7h0M71.1 386.6h0M80.9 380.9h0M80.3 381.3h0M83.3 389.2h0M87.3 373.4h0M90.2 376.9h0M91.8 365.8h0M87.3 370.1h0M88.9 370.0h0" stroke="#7a92c4" stroke-width="1" stroke-linecap="round" opacity="0.7"/>
<path d="M89.3 381.5h0M75.4 378.7h0M80.8 361.6h0M72.5 386.3h0M70.8 384.7h0M77.5 376.6h0M68.5 383.9h0M75.2 375.4h0M89.9 384.4h0M66.1 378.7h0M88.3 366.3h0M89.4 387.1h0M68.9 374.8h0" stroke="#7e96c6" stroke-width="1" stroke-linecap="round" opacity="0.7"/>
<path d="M64.8 383.7h0M67.3 360.8h0M68.2 381.5h0M64.6 365.7h0M79.1 368.4h0M88.7 372.8h0M91.8 370.2h0M73.1 378.7h0M79.5 366.7h0M81.1 375.8h0M63.9 379.5h0M64.8 374.5h0M65.1 361.1h0M89.8 379.5h0M84.9 360.7h0M79.6 361.8h0M74.0 373.0h0M63.4 367.1h0" stroke="#a4b4d6" stroke-width="1" stroke-linecap="round" opacity="0.7"/>
<path d="M90.4 383.8h0M72.7 391.0h0M70.3 374.8h0M64.3 372.2h0M88.0 376.9h0M75.0 390.0h0M64.4 366.0h0M68.7 381.8h0M85.7 362.4h0M66.6 366.4h0M73.0 367.8h0M87.9 367.6h0M84.5 390.7h0" stroke="#95a8d0" stroke-width="1" stroke-linecap="round" opacity="0.7"/>
<path d="M87.3 361.2h0M66.1 368.0h0M67.5 387.8h0M67.7 376.7h0M89.5 378.4h0M68.4 374.2h0M71.5 362.6h0M79.7 381.7h0M66.0 384.7h0M79.9 388.2h0M71.9 363.1h0M69.8 388.6h0M90.1 386.7h0M90.7 360.1h0M90.1 363.1h0M66.4 362.9h0M87.2 381.3h0M65.3 368.5h0M67.5 361.7h0M87.9 376.9h0M64.9 381.3h0M70.4 362.6h0M90.9 385.0h0" stroke="#8aa0cc" stroke-width="1" stroke-linecap="round" opacity="0.7"/>
<path d="M91.8 388.5h0M65.5 373.0h0M91.2 362.1h0M85.8 370.6h0M90.0 367.5h0M90.8 388.2h0M88.0 376.4h0M63.7 375.5h0M88.8 376.0h0M66.8 376.9h0M86.1 372.9h0M85.4 362.5h0M83.1 369.8h0M79.1 367.7h0M86.8 376.9h0M84.9 367.5h0M91.0 376.4h0" stroke="#b6c2dc" stroke-width="1" stroke-linecap="round" opacity="0.7"/>
<path d="M63.4 361.8h0M86.9 367.7h0" stroke="#7e96c6" stroke-width="0.5" stroke-linecap="round" opacity="0.7"/>
<path d="M76.4 365.3h0M73.2 382.0h0M74.2 380.0h0M65.4 374.2h0M66.9 390.0h0" stroke="#b6c2dc" stroke-width="0.5" stroke-linecap="round" opacity="0.7"/>
<path d="M73.6 370.8h0M85.8 371.4h0M89.1 375.9h0" stroke="#7a92c4" stroke-width="0.5" stroke-linecap="round" opacity="0.7"/>
<path d="M87.4 379.9h0" stroke="#a4b4d6" stroke-width="0.5" stroke-linecap="round" opacity="0.7"/>
<path d="M65.8 372.1h0" stroke="#8aa0cc" stroke-width="0.5" stroke-linecap="round" opacity="0.7"/>
<path d="M83.4 372.2h0" stroke="#95a8d0" stroke-width="0.5" stroke-linecap="round" opacity="0.7"/>
<circle cx="51" cy="350.3" r="3.3" fill="#eef0f4"/>
<circle cx="143.5" cy="382.5" r="4.4" fill="#eef0f4"/>
<circle cx="116.5" cy="394.5" r="6.4" fill="#eceef3"/>
</g>
<ellipse cx="75.1" cy="372.8" rx="30.9" ry="31.7" fill="none" stroke="#e8262b" stroke-width="1.15" stroke-dasharray="1.0 1.25"/>
<ellipse cx="134" cy="355.4" rx="19.5" ry="22" fill="none" stroke="#e8262b" stroke-width="1.15" stroke-dasharray="1.0 1.25"/>
<ellipse cx="120" cy="393" rx="14.8" ry="16.5" fill="none" stroke="#e8262b" stroke-width="1.15" stroke-dasharray="1.0 1.25"/>
<rect x="42" y="332.7" width="112.3" height="77.2" fill="none" stroke="#3a3a3a" stroke-width="0.9"/>
<rect x="46.8" y="405.4" width="26.2" height="1.7" fill="#2a2a2a" stroke="none" stroke-width="0"/>
<text x="48.5" y="401.1" font-size="7.8" text-anchor="start" fill="#1a1a1a" stroke="#1a1a1a" stroke-width="0.18">100μm</text>
<rect x="159" y="333" width="112.8" height="77.4" fill="#b9a9ab" stroke="none" stroke-width="0"/>
<clipPath id="ihc2"><rect x="159" y="333" width="112.8" height="77.4"/></clipPath>
<g clip-path="url(#ihc2)">
<path d="M251.8 358.5h0M218.0 368.8h0M260.7 342.4h0M215.8 362.4h0M216.0 334.3h0M271.2 345.1h0M264.1 334.6h0M249.0 378.7h0M207.6 367.8h0M264.8 342.7h0M179.5 398.0h0M262.9 362.8h0M248.6 409.6h0M212.0 369.0h0M214.1 408.5h0M216.8 360.9h0M207.4 389.4h0M195.9 346.6h0M211.5 374.7h0M240.0 354.5h0M212.6 390.5h0M213.8 348.0h0M271.8 336.1h0M166.8 391.5h0M229.3 393.2h0M198.3 339.6h0M235.0 367.4h0M226.8 338.8h0M241.4 368.3h0M181.7 350.5h0M180.4 345.6h0M229.9 362.7h0M212.3 377.6h0M213.5 374.3h0M243.0 382.3h0M259.8 380.8h0M180.6 381.0h0M160.2 342.8h0M259.3 380.5h0M199.1 374.7h0M270.8 339.2h0M215.4 404.0h0M260.9 368.0h0M219.4 373.5h0M201.1 378.0h0M245.9 334.6h0M169.0 400.7h0M221.8 387.3h0M227.4 400.7h0M269.3 368.6h0M256.5 354.0h0M257.0 363.5h0M199.0 397.4h0M184.4 353.7h0M268.7 336.9h0M173.2 336.6h0M239.5 334.9h0M261.8 386.6h0M161.1 350.6h0M193.4 392.9h0M213.1 335.5h0M170.9 360.5h0M220.8 373.8h0M218.3 366.3h0M216.7 382.6h0M252.7 367.4h0M211.9 341.3h0M228.0 377.4h0" stroke="#a4b4d6" stroke-width="1" stroke-linecap="round" opacity="0.75"/>
<path d="M170.6 377.9h0M236.9 359.4h0M173.2 333.1h0M263.9 396.3h0M266.2 386.6h0M221.2 377.7h0M208.7 379.8h0M223.5 341.3h0M265.3 373.6h0M261.1 344.5h0M201.0 392.3h0M225.8 338.7h0M232.9 359.9h0M215.3 384.4h0M250.8 340.3h0M230.2 335.3h0M205.3 394.9h0M240.7 346.8h0M203.9 387.9h0M183.5 375.9h0M258.1 350.7h0M193.7 354.7h0M261.4 365.7h0M211.7 345.5h0M164.1 404.4h0M176.9 386.9h0M206.3 407.3h0M217.3 405.5h0M263.2 401.8h0M237.1 348.1h0M162.7 344.7h0M197.0 383.2h0M190.3 363.2h0M162.9 362.2h0M213.5 357.4h0M199.9 369.5h0M214.4 375.0h0M266.7 346.2h0M233.4 350.4h0M175.8 351.3h0M249.8 401.1h0M198.7 346.1h0M182.0 352.1h0M174.6 370.6h0M236.7 379.3h0M206.2 394.3h0M168.1 336.8h0M252.8 333.6h0M183.1 345.3h0M223.1 397.0h0M262.5 395.9h0M266.7 396.5h0M169.2 380.7h0M197.8 350.2h0M222.5 345.5h0M265.4 383.2h0M265.0 345.0h0M176.8 374.9h0M213.9 378.3h0M161.0 367.2h0M176.7 395.7h0M258.9 362.0h0M251.6 407.7h0M214.9 372.2h0M176.1 390.4h0" stroke="#b89484" stroke-width="1.5" stroke-linecap="round" opacity="0.75"/>
<path d="M183.2 405.3h0M252.2 377.3h0M193.7 353.2h0M206.4 387.4h0M178.4 404.7h0M200.0 346.5h0M182.6 359.2h0M249.3 337.5h0M229.1 347.3h0M260.8 387.7h0M211.6 408.5h0M251.7 366.0h0M194.4 382.8h0M170.4 390.6h0M181.4 351.3h0M166.7 358.9h0M196.2 338.7h0M176.3 379.9h0M244.5 386.2h0M197.8 409.7h0M172.4 356.6h0M161.8 376.0h0M246.3 396.0h0M206.0 342.2h0M258.6 335.6h0M225.1 374.1h0M183.1 392.6h0M228.8 334.3h0M253.1 365.0h0M239.5 355.6h0M189.0 367.1h0M185.4 375.2h0M200.7 344.3h0M222.1 354.1h0M232.8 345.8h0M210.9 345.4h0M179.1 406.9h0M197.1 337.5h0M248.4 339.9h0M219.8 349.2h0M165.5 354.4h0M182.3 336.2h0M251.9 374.2h0M189.5 335.2h0M188.6 382.7h0M224.4 375.2h0M164.8 348.6h0M258.3 349.7h0M212.3 387.0h0M246.4 336.3h0M267.6 357.2h0M255.6 376.7h0M209.1 402.8h0M262.3 401.9h0M176.6 376.7h0M164.9 345.9h0M237.1 341.3h0M221.7 358.7h0M253.4 352.2h0M239.3 373.0h0" stroke="#8aa0cc" stroke-width="1.5" stroke-linecap="round" opacity="0.75"/>
<path d="M173.3 401.5h0M182.9 340.8h0M214.2 398.0h0M220.5 405.4h0M238.8 384.1h0M206.3 354.7h0M207.2 333.0h0M174.3 371.4h0M262.7 347.8h0M244.3 338.3h0M257.3 389.7h0M180.1 403.0h0M264.2 397.9h0M219.2 381.8h0M164.2 336.7h0M218.9 397.5h0M231.7 397.4h0M216.4 341.5h0M172.2 373.0h0M200.8 347.1h0M169.4 378.8h0M208.6 387.9h0M244.5 356.7h0M260.9 386.2h0M270.0 333.9h0M170.0 385.7h0M187.2 360.7h0M198.3 392.2h0M242.7 372.4h0M211.4 335.7h0M174.3 360.6h0M245.8 386.7h0M238.8 340.7h0M194.4 351.0h0M173.4 409.2h0M247.2 392.1h0M193.2 346.0h0M165.0 340.3h0M202.4 389.2h0M255.1 364.6h0M192.1 351.4h0M197.1 397.8h0M271.8 395.3h0M174.9 368.9h0M251.0 400.7h0M218.0 380.3h0M191.4 372.6h0M180.3 360.2h0M215.9 374.5h0M162.2 336.6h0M176.9 379.3h0M244.5 382.6h0M159.2 355.7h0M271.2 359.1h0M269.8 395.2h0M208.7 408.2h0M268.3 389.6h0M247.9 396.8h0M237.7 359.1h0M205.4 387.2h0M170.0 383.4h0M233.5 355.0h0M211.3 354.2h0M256.4 341.5h0M271.8 365.1h0M204.1 376.1h0" stroke="#a88a88" stroke-width="1.5" stroke-linecap="round" opacity="0.75"/>
<path d="M194.1 356.9h0M225.1 403.1h0M247.5 366.8h0M190.3 399.0h0M172.0 397.3h0M163.4 405.6h0M244.5 345.4h0M262.4 377.6h0M182.5 349.8h0M175.4 374.9h0M174.9 340.9h0M256.5 366.6h0M204.3 385.6h0M171.3 380.5h0M193.3 374.7h0M219.4 387.8h0M253.4 397.5h0M203.3 354.7h0M184.0 339.1h0M161.4 341.2h0M225.0 408.8h0M270.9 392.7h0M208.0 401.5h0M179.5 385.7h0M194.3 335.1h0M183.3 355.2h0M267.7 385.5h0M198.9 367.3h0M222.6 337.0h0M254.2 385.0h0M186.3 376.7h0M263.9 376.0h0M263.9 406.6h0M244.4 380.4h0M206.0 410.7h0M162.6 338.1h0M267.0 401.5h0M229.6 366.5h0M190.4 406.8h0M213.8 334.8h0M172.5 338.3h0M178.2 357.6h0M225.4 407.2h0M246.3 397.8h0M165.9 355.0h0M250.7 402.0h0M227.3 368.9h0M173.5 396.5h0M245.7 336.0h0M217.1 366.9h0M241.9 354.2h0M245.7 339.1h0M261.8 344.9h0M245.8 400.7h0M199.4 337.7h0M191.6 337.8h0M178.9 362.0h0M249.6 349.7h0" stroke="#7a92c4" stroke-width="1.5" stroke-linecap="round" opacity="0.75"/>
<path d="M245.8 385.5h0M190.6 346.1h0M242.7 397.9h0M230.3 340.6h0M209.0 375.4h0M234.6 333.2h0M213.9 351.0h0M192.4 398.6h0M186.1 354.8h0M259.1 390.3h0M182.1 337.8h0M229.1 367.2h0M220.4 348.2h0M181.0 342.9h0M232.6 398.0h0M269.6 348.6h0M259.6 368.7h0M159.1 361.2h0M230.4 359.4h0M257.1 337.2h0M239.9 366.9h0M174.7 391.9h0M215.9 379.5h0M249.3 357.4h0M261.4 384.8h0M216.9 367.1h0M161.4 341.6h0M263.9 372.0h0M245.6 404.8h0M188.9 349.2h0M259.3 395.2h0M182.2 357.6h0M175.3 394.0h0M244.2 394.5h0M159.3 372.0h0M232.9 404.2h0M167.0 349.2h0M183.6 401.0h0M194.4 382.6h0M196.4 409.3h0M237.9 340.0h0M236.2 390.2h0M188.1 375.3h0M215.4 405.2h0M179.1 368.9h0M183.9 406.3h0M163.2 377.0h0M171.7 400.3h0M267.1 354.0h0" stroke="#c8a898" stroke-width="1" stroke-linecap="round" opacity="0.75"/>
<path d="M229.0 364.1h0M170.2 383.3h0M168.3 390.0h0M186.1 366.3h0M163.4 404.4h0M177.0 340.0h0M209.8 368.0h0M233.9 402.3h0M213.8 336.7h0M196.2 399.0h0M263.9 389.2h0M183.0 349.0h0M220.1 353.4h0M261.2 353.5h0M264.9 386.7h0M253.2 392.7h0M231.8 343.5h0M237.2 369.7h0M258.1 397.4h0M195.1 343.7h0M219.4 381.3h0M242.9 397.4h0M198.8 356.3h0M229.7 358.1h0M201.7 351.5h0M196.3 334.0h0M175.5 356.1h0M183.7 378.7h0M188.0 354.2h0M172.7 379.8h0M240.1 403.6h0M160.6 371.4h0M168.9 386.4h0M170.1 356.8h0M186.9 378.2h0M268.6 368.1h0M262.8 405.4h0M250.7 379.9h0M161.5 366.7h0M203.7 379.2h0M223.1 359.2h0M200.3 362.2h0M197.9 397.3h0M255.3 344.0h0M255.8 391.9h0M174.9 337.7h0M176.7 337.4h0M215.9 394.8h0M226.5 352.0h0M264.2 348.8h0M200.2 404.9h0M233.8 340.6h0M238.8 342.0h0M266.8 373.8h0M266.6 382.3h0M248.2 362.0h0M228.4 390.4h0" stroke="#c8a08a" stroke-width="1.5" stroke-linecap="round" opacity="0.75"/>
<path d="M214.7 379.1h0M268.1 394.2h0M266.1 369.1h0M218.7 354.4h0M182.2 379.8h0M256.2 402.5h0M221.1 349.7h0M166.4 391.5h0M237.7 409.4h0M249.6 359.9h0M232.4 346.5h0M182.1 403.6h0M270.1 388.4h0M194.9 347.7h0M204.6 341.9h0M264.9 361.5h0M232.9 391.1h0M226.3 381.8h0M212.9 350.6h0M240.4 370.0h0M245.7 361.2h0M179.4 406.6h0M166.1 392.3h0M173.0 358.1h0M213.3 406.3h0M199.7 365.7h0M224.7 361.1h0M201.2 375.0h0M177.7 344.8h0M270.6 347.9h0M200.6 349.1h0M255.4 340.2h0M202.6 345.4h0M241.6 403.0h0M194.7 401.0h0M197.8 395.9h0M228.7 342.4h0M203.7 353.9h0M210.4 336.9h0M196.7 361.0h0M199.6 347.7h0M266.0 349.6h0M184.8 345.1h0M192.9 392.9h0M213.8 354.5h0M267.9 394.9h0M228.3 405.4h0M246.7 387.3h0M170.7 369.7h0M220.7 377.3h0M207.2 405.8h0M175.5 367.7h0M184.3 335.1h0M213.9 372.9h0M206.2 410.9h0" stroke="#b89484" stroke-width="1" stroke-linecap="round" opacity="0.75"/>
<path d="M250.5 402.5h0M219.7 389.5h0M210.8 410.5h0M173.6 385.5h0M193.0 334.3h0M170.3 343.1h0M236.3 372.1h0M219.3 338.7h0M230.2 360.4h0M224.8 402.7h0M188.3 393.1h0M182.7 387.7h0M220.4 376.4h0M178.5 343.7h0M201.2 409.5h0M171.0 395.4h0M184.0 382.9h0M257.0 375.6h0M217.6 381.2h0M249.2 378.9h0M260.2 357.6h0M223.7 339.5h0M210.1 372.8h0M245.7 397.9h0M256.1 406.2h0M213.8 338.1h0M229.7 381.2h0M260.6 407.1h0M204.9 386.2h0M261.4 381.9h0M221.8 403.0h0M225.6 391.9h0M185.8 355.8h0M164.9 380.7h0M255.1 410.0h0M202.5 371.3h0M234.4 364.1h0M268.5 409.6h0M186.8 347.6h0M185.3 344.6h0M218.6 349.9h0M220.0 336.7h0M178.8 356.2h0M268.9 379.4h0M214.1 353.8h0M159.5 366.4h0M162.2 394.1h0M234.7 348.7h0M262.9 372.6h0M191.4 363.8h0M207.4 393.6h0" stroke="#d4b4a4" stroke-width="1" stroke-linecap="round" opacity="0.75"/>
<path d="M187.3 397.7h0M191.4 337.6h0M216.2 368.1h0M165.8 375.7h0M177.3 361.2h0M250.9 373.4h0M213.2 342.5h0M248.7 373.9h0M244.3 373.2h0M256.8 347.2h0M230.1 381.9h0M161.2 351.6h0M205.5 349.0h0M198.5 337.4h0M257.5 392.7h0M251.3 347.6h0M261.5 365.4h0M184.7 333.7h0M226.4 399.8h0M198.2 404.0h0M269.6 365.2h0M171.7 408.8h0M180.8 354.6h0M244.9 346.1h0M246.4 362.3h0M219.7 375.6h0M201.1 377.5h0M207.1 341.4h0M188.3 339.2h0M211.7 377.2h0M197.4 346.4h0M248.7 409.2h0M168.0 388.3h0M166.2 383.4h0M271.5 386.3h0M173.0 385.9h0M263.3 394.9h0M212.5 367.0h0M162.6 400.3h0M265.2 406.6h0M218.0 347.6h0M249.4 334.8h0M225.4 400.2h0M234.8 374.8h0M269.9 343.6h0M245.0 333.3h0M172.5 333.5h0M194.5 353.0h0M243.6 387.3h0M191.6 367.7h0M244.3 383.2h0M199.6 408.7h0M218.5 398.3h0M224.2 403.2h0M159.2 358.5h0M241.2 389.9h0M264.6 344.9h0" stroke="#7d88b8" stroke-width="1" stroke-linecap="round" opacity="0.75"/>
<path d="M236.7 344.2h0M226.9 379.0h0M271.4 352.8h0M175.3 342.3h0M161.1 403.9h0M270.5 408.7h0M181.8 372.5h0M171.6 395.6h0M193.2 395.7h0M251.0 374.8h0M239.0 350.9h0M268.0 402.7h0M204.4 388.7h0M214.1 401.9h0M252.4 340.7h0M172.3 410.1h0M213.0 383.2h0M175.0 369.4h0M178.8 338.8h0M199.7 388.4h0M162.8 347.9h0M184.7 388.8h0M248.8 395.9h0M225.4 336.9h0M164.0 342.6h0M219.4 370.3h0M267.6 380.1h0M159.6 402.9h0M192.1 346.0h0M261.3 405.0h0M187.6 361.4h0M176.8 369.5h0M221.0 361.2h0M240.5 410.7h0M240.8 377.1h0M165.5 379.4h0M164.4 408.4h0M232.7 375.0h0M160.4 395.0h0M269.6 405.7h0M220.9 386.5h0M182.4 373.1h0M245.6 382.3h0M193.2 369.2h0M253.0 386.6h0M172.8 339.4h0M257.2 383.0h0M181.9 353.5h0M200.2 337.1h0M269.1 403.6h0M256.3 362.7h0M260.8 368.3h0M226.8 368.4h0M171.7 391.7h0M163.6 345.6h0" stroke="#d8d4d8" stroke-width="1" stroke-linecap="round" opacity="0.75"/>
<path d="M222.7 399.2h0M244.0 350.7h0M234.9 388.0h0M172.7 339.8h0M188.6 383.2h0M258.8 395.6h0M173.0 334.2h0M180.9 399.7h0M181.8 341.5h0M262.9 364.1h0M185.0 364.1h0M213.8 368.1h0M265.0 366.5h0M225.3 355.8h0M176.9 368.6h0M221.0 365.9h0M234.2 404.2h0M185.9 360.5h0M185.7 393.2h0M213.9 369.2h0M180.7 379.6h0M211.8 397.7h0M178.7 369.6h0M213.4 394.5h0M191.4 391.2h0M225.5 344.1h0M162.1 348.4h0M179.6 345.8h0M207.5 390.2h0M237.9 337.0h0M238.9 341.1h0M223.1 342.2h0M247.2 374.9h0M208.3 355.5h0M226.4 367.2h0M213.6 397.2h0M261.3 338.0h0M179.5 337.1h0M258.9 405.6h0M203.9 336.2h0M205.5 397.5h0M163.7 351.1h0M195.0 342.1h0M218.6 340.1h0M259.7 360.3h0M225.0 359.7h0M263.9 390.6h0M221.4 370.2h0M244.8 382.1h0M246.0 378.7h0" stroke="#a4b4d6" stroke-width="1.5" stroke-linecap="round" opacity="0.75"/>
<path d="M259.2 402.7h0M263.7 335.7h0M211.0 336.5h0M184.8 377.7h0M205.0 342.0h0M163.2 404.3h0M224.2 359.4h0M245.5 383.9h0M249.0 383.4h0M173.6 386.0h0M231.2 403.6h0M234.7 385.0h0M230.6 394.8h0M170.0 391.2h0M195.9 387.0h0M223.7 368.1h0M196.3 375.8h0M263.9 381.3h0M261.2 381.8h0M211.4 345.6h0M233.4 409.4h0M169.4 365.1h0M247.6 337.2h0M253.2 362.0h0M186.8 340.9h0M250.3 367.2h0M271.2 403.8h0M171.5 335.2h0M268.2 384.6h0M224.0 337.0h0M212.8 339.1h0M252.8 378.9h0M228.9 381.2h0M225.7 400.1h0M175.1 351.6h0M218.2 350.8h0M190.3 402.1h0M228.1 400.0h0M233.4 358.6h0M166.2 397.5h0M263.3 374.8h0M221.2 370.4h0M247.4 336.0h0M255.9 339.8h0" stroke="#a88a88" stroke-width="1" stroke-linecap="round" opacity="0.75"/>
<path d="M168.7 369.1h0M159.7 343.0h0M256.2 367.6h0M222.9 367.3h0M169.9 405.0h0M252.6 407.4h0M181.7 348.6h0M180.8 345.7h0M216.8 401.4h0M217.0 348.3h0M245.5 394.4h0M242.6 391.9h0M223.8 388.5h0M243.3 401.1h0M181.8 401.8h0M248.2 387.8h0M262.2 378.9h0M204.3 402.7h0M271.3 367.0h0M268.7 389.8h0M188.8 367.1h0M217.2 343.7h0M192.6 363.0h0M211.3 374.3h0M172.6 409.6h0M268.3 349.1h0M245.7 334.2h0M164.1 340.8h0M213.0 336.5h0M174.1 358.5h0M204.5 406.7h0M177.2 399.5h0M220.0 374.8h0M269.9 359.5h0M245.2 333.8h0M231.8 379.7h0M216.4 389.3h0M167.4 349.8h0M260.1 385.9h0M201.9 402.6h0M230.0 341.2h0M204.9 372.3h0M244.6 375.6h0M177.7 362.5h0M160.4 389.2h0M210.6 382.8h0M246.3 350.6h0M215.8 408.0h0M187.1 391.9h0M162.9 374.0h0M179.9 355.1h0M219.7 343.5h0M179.0 386.0h0M214.6 379.4h0M172.4 346.3h0M199.3 388.1h0" stroke="#a8765e" stroke-width="1" stroke-linecap="round" opacity="0.75"/>
<path d="M247.5 407.4h0M226.8 378.8h0M271.0 360.6h0M246.2 378.9h0M224.8 346.7h0M217.0 402.8h0M175.8 361.8h0M264.1 344.3h0M176.7 390.3h0M248.3 383.9h0M229.4 366.8h0M261.3 398.9h0M248.3 333.3h0M259.0 385.5h0M181.6 336.2h0M216.9 372.3h0M263.4 392.4h0M271.0 388.8h0M206.2 350.4h0M231.6 380.4h0M258.0 386.1h0M271.9 399.2h0M183.6 396.6h0M186.3 383.2h0M267.4 389.1h0M205.4 337.9h0M269.9 393.4h0M219.7 366.5h0M161.7 377.5h0M178.1 400.5h0M178.2 402.3h0M228.8 374.9h0M226.5 341.4h0M219.4 359.5h0M220.5 376.3h0M161.5 372.6h0M159.9 356.1h0M262.7 362.2h0M221.9 360.2h0M166.2 388.5h0M230.1 371.3h0M240.4 366.8h0M196.2 343.1h0M187.7 373.9h0M178.9 366.6h0M247.6 369.2h0M180.7 383.6h0M226.8 406.8h0M251.2 377.7h0M169.7 337.8h0M271.8 379.9h0M237.7 340.9h0M216.9 357.0h0M240.2 367.2h0M173.8 378.5h0M270.3 402.4h0M219.8 383.7h0M160.9 373.2h0M250.0 349.6h0M223.9 361.2h0M163.9 386.5h0M220.5 361.9h0M222.4 377.1h0M201.6 376.2h0M213.1 360.2h0M247.7 373.4h0M239.4 407.7h0M221.5 407.8h0M233.7 378.1h0M183.2 337.0h0M254.2 377.5h0M172.5 342.6h0M188.3 410.6h0M177.9 360.7h0M169.7 349.1h0M174.6 386.5h0M267.5 392.4h0M244.1 348.1h0" stroke="#c8a898" stroke-width="1.5" stroke-linecap="round" opacity="0.75"/>
<path d="M252.4 395.0h0M206.8 393.2h0M257.5 368.0h0M178.8 334.7h0M235.4 396.5h0M267.7 385.3h0M183.6 384.5h0M169.4 367.4h0M237.9 408.4h0M252.4 338.6h0M266.8 384.8h0M201.0 404.9h0M245.4 398.7h0M174.1 340.6h0M268.9 396.2h0M205.3 383.6h0M266.5 353.5h0M219.5 359.6h0M201.3 335.1h0M203.2 384.1h0M234.1 370.7h0M199.8 410.7h0M254.2 396.2h0M168.8 364.1h0M234.2 360.9h0M167.1 390.8h0M231.9 350.3h0M177.2 344.7h0M193.0 352.7h0M180.8 385.2h0M245.9 351.8h0M242.1 403.4h0M172.8 367.4h0M268.1 359.3h0M165.1 401.9h0M175.7 371.6h0M202.2 401.3h0M240.6 382.3h0M223.0 409.0h0M179.3 393.3h0M226.2 357.5h0M179.3 400.1h0M206.7 408.0h0M236.3 333.5h0M250.5 358.0h0M214.0 392.8h0M182.7 409.1h0M223.2 374.2h0M222.7 372.8h0M226.5 354.5h0M217.5 344.3h0M220.8 380.8h0M232.2 406.4h0M168.8 339.3h0M167.2 394.4h0M201.7 389.5h0M215.8 338.6h0M253.0 375.4h0M252.8 361.6h0M199.0 394.3h0M258.1 354.5h0M202.8 398.2h0M190.0 378.4h0M252.3 388.7h0M246.3 381.3h0M160.4 383.3h0" stroke="#a8765e" stroke-width="1.5" stroke-linecap="round" opacity="0.75"/>
<path d="M197.4 369.1h0M237.1 368.4h0M243.8 359.4h0M232.4 363.2h0M188.3 356.4h0M234.9 382.3h0M241.7 358.5h0M258.6 386.2h0M186.7 398.6h0M226.1 371.8h0M160.2 409.1h0M185.5 407.9h0M159.5 403.1h0M207.7 399.1h0M176.4 410.0h0M271.1 373.1h0M267.1 349.2h0M179.9 373.3h0M269.9 384.5h0M256.5 351.5h0M202.6 407.2h0M184.2 385.6h0M263.8 346.9h0M250.3 371.0h0M262.4 394.0h0M225.2 339.8h0M263.4 360.9h0M221.5 372.4h0M232.2 403.5h0M203.2 377.9h0M201.7 344.5h0M202.6 362.3h0M218.1 337.8h0M214.6 397.3h0M198.6 362.4h0M188.4 357.0h0M173.3 337.8h0M211.2 373.5h0M178.4 397.9h0M195.2 373.1h0M270.7 410.9h0M266.2 337.1h0M213.0 367.4h0" stroke="#d8d4d8" stroke-width="1.5" stroke-linecap="round" opacity="0.75"/>
<path d="M211.1 379.8h0M233.7 396.2h0M241.3 394.2h0M222.9 372.5h0M198.8 363.5h0M203.3 384.2h0M265.2 370.8h0M183.4 344.8h0M190.2 353.1h0M205.9 379.0h0M196.8 363.6h0M264.3 390.9h0M225.2 333.5h0M169.0 336.9h0M223.3 345.8h0M242.2 374.3h0M197.3 386.8h0M265.1 404.2h0M264.0 351.0h0M171.3 394.8h0M188.1 401.6h0M213.6 349.3h0M196.2 369.8h0M251.9 396.4h0M219.8 357.0h0M250.0 408.7h0M243.5 382.2h0M193.1 380.0h0M220.3 334.8h0M259.0 358.4h0M258.2 363.6h0M245.2 399.1h0M179.6 387.9h0M161.7 371.5h0M212.3 337.9h0M228.1 369.3h0M249.7 340.6h0M219.6 390.1h0M223.5 338.7h0M207.6 398.6h0M214.6 372.4h0M209.0 348.3h0M212.7 358.2h0M223.8 334.3h0M178.7 373.7h0M264.9 343.4h0M184.4 354.9h0M218.8 351.7h0M196.1 356.0h0" stroke="#9a6a58" stroke-width="1" stroke-linecap="round" opacity="0.75"/>
<path d="M214.4 355.8h0M202.6 391.6h0M230.8 394.2h0M218.5 392.2h0M178.3 385.7h0M271.9 384.8h0M209.9 385.0h0M246.4 345.5h0M248.4 387.9h0M176.6 366.1h0M239.9 352.3h0M237.4 362.2h0M182.3 402.9h0M172.4 376.5h0M162.5 372.7h0M260.6 377.4h0M260.1 379.0h0M257.7 380.1h0M234.3 373.2h0M196.0 345.8h0M201.0 362.9h0M266.8 370.8h0M201.9 383.7h0M182.8 333.6h0M269.4 407.1h0M230.5 337.6h0M236.1 387.4h0M226.3 357.4h0M256.1 405.7h0M257.0 367.9h0M260.6 375.2h0M198.7 373.9h0M232.2 374.0h0M217.5 366.5h0M242.2 375.2h0M251.2 383.8h0M178.3 396.1h0M259.0 371.2h0M256.6 404.3h0M177.0 410.7h0M187.4 392.7h0M166.2 409.6h0M168.2 346.2h0M217.9 366.3h0M267.9 344.4h0M249.5 335.7h0M174.1 396.1h0M266.7 346.2h0M160.0 384.7h0M249.9 409.0h0M188.2 373.5h0M183.2 340.8h0M172.3 366.0h0M216.1 359.8h0M168.2 391.4h0M265.7 399.3h0M200.2 353.1h0M187.9 388.8h0M257.1 403.4h0M223.4 382.3h0M182.4 363.3h0M200.2 338.8h0M201.0 356.6h0" stroke="#8890b8" stroke-width="1.5" stroke-linecap="round" opacity="0.75"/>
<path d="M195.6 390.4h0M230.0 342.7h0M179.0 374.4h0M216.1 352.8h0M219.4 335.3h0M229.5 351.2h0M179.3 378.6h0M209.6 402.2h0M198.3 372.3h0M200.7 397.4h0M174.7 372.8h0M180.4 349.2h0M220.5 369.1h0M223.2 372.7h0M250.6 383.5h0M248.8 383.0h0M195.8 392.9h0M247.8 399.1h0M249.6 337.0h0M178.3 370.0h0M246.4 336.4h0M207.0 349.7h0M164.3 387.3h0M204.5 378.3h0M177.3 368.2h0M244.1 373.0h0M222.8 343.0h0M160.7 388.2h0M169.5 365.7h0M202.5 336.2h0M186.8 364.4h0M228.1 347.9h0M164.4 401.1h0M168.2 377.8h0M259.6 359.9h0M230.6 363.5h0M216.3 380.9h0M213.7 341.9h0M241.5 387.5h0M193.0 384.8h0M177.1 375.5h0M224.9 356.2h0M229.6 336.5h0M205.7 355.1h0M238.7 356.3h0M232.7 362.7h0M187.2 392.0h0M241.1 387.1h0M186.9 406.9h0M193.5 377.4h0M174.7 389.7h0M246.9 356.5h0M204.2 381.1h0M205.0 340.9h0M231.2 384.7h0M261.2 389.6h0" stroke="#b98a70" stroke-width="1.5" stroke-linecap="round" opacity="0.75"/>
<path d="M242.0 369.3h0M250.1 358.2h0M221.6 398.0h0M198.9 385.7h0M186.3 341.6h0M246.8 388.0h0M252.6 364.6h0M200.8 359.7h0M200.5 349.7h0M193.3 403.1h0M215.3 344.2h0M245.5 372.1h0M228.5 374.7h0M173.3 386.1h0M172.4 333.5h0M205.7 397.8h0M174.3 351.7h0M217.0 408.8h0M233.3 400.1h0M164.5 367.9h0M255.3 337.4h0M204.4 349.9h0M196.1 343.7h0M258.0 389.4h0M239.3 399.0h0M233.0 394.4h0M256.5 355.4h0M218.6 363.6h0M216.5 372.9h0M222.6 344.8h0M180.3 371.4h0M180.0 356.1h0M221.7 383.4h0M238.9 399.3h0M263.4 402.4h0M262.2 390.7h0M269.6 360.1h0M208.2 366.6h0M184.7 340.3h0M203.1 366.3h0M262.2 353.0h0M249.8 343.6h0M264.4 345.3h0M179.4 334.8h0M189.9 368.7h0M242.3 345.7h0M224.2 406.2h0M234.2 402.9h0M209.1 339.4h0M233.5 368.5h0M238.7 388.7h0M256.1 409.7h0M217.4 337.2h0M223.7 405.2h0M271.0 409.4h0M206.7 376.9h0M234.3 349.8h0M217.5 410.0h0M245.3 365.6h0M199.5 381.2h0M161.2 372.7h0M214.7 395.9h0" stroke="#8890b8" stroke-width="1" stroke-linecap="round" opacity="0.75"/>
<path d="M240.4 333.3h0M206.3 357.0h0M245.5 352.9h0M178.5 372.4h0M199.0 347.2h0M188.4 362.4h0M271.4 341.5h0M178.9 340.1h0M181.2 384.5h0M239.3 351.4h0M172.6 404.2h0M187.7 345.5h0M262.3 337.7h0M221.2 362.4h0M184.9 333.9h0M189.6 391.8h0M227.8 376.5h0M261.9 339.2h0M175.0 377.8h0M223.2 358.3h0M192.2 391.1h0M164.6 360.7h0M161.1 408.0h0M220.1 348.4h0M183.9 343.5h0M242.4 368.4h0M211.2 401.1h0M168.2 340.0h0M222.8 353.5h0M256.7 393.5h0M220.4 391.9h0M211.9 401.1h0M191.7 393.9h0M259.7 355.7h0M265.3 369.0h0M162.7 406.3h0M224.1 397.9h0M254.4 384.5h0M248.4 335.4h0M196.1 357.4h0M199.1 333.6h0M210.7 393.9h0M259.5 358.1h0M256.9 380.8h0M202.7 351.8h0M255.1 389.4h0M188.8 377.7h0M252.0 381.5h0M248.0 353.1h0M249.0 355.2h0M248.1 367.0h0M231.7 410.9h0M189.5 406.9h0M229.3 407.9h0M185.4 344.6h0M247.9 409.0h0M204.3 358.7h0M243.7 408.1h0M230.0 402.3h0M190.9 345.9h0" stroke="#7a92c4" stroke-width="1" stroke-linecap="round" opacity="0.75"/>
<path d="M218.8 399.2h0M171.7 361.1h0M196.4 349.6h0M208.6 379.1h0M237.1 344.7h0M249.8 374.8h0M222.9 361.2h0M240.9 355.9h0M162.8 380.9h0M255.1 365.4h0M228.9 359.4h0M160.9 390.2h0M163.4 339.3h0M219.4 334.7h0M252.9 373.3h0M258.4 379.0h0M197.7 336.1h0M256.5 350.2h0M232.9 355.8h0M187.0 350.2h0M262.6 374.3h0M264.0 364.8h0M178.5 355.9h0M260.8 374.1h0M165.9 342.1h0M187.1 354.2h0M250.5 368.7h0M232.6 405.8h0M172.8 366.1h0M269.7 407.0h0M181.3 347.6h0M170.8 368.8h0M209.4 366.9h0M210.2 348.9h0M268.4 393.9h0M210.4 375.0h0M270.3 397.8h0M204.5 404.9h0" stroke="#c8a08a" stroke-width="1" stroke-linecap="round" opacity="0.75"/>
<path d="M209.6 402.9h0M195.6 357.9h0M207.7 339.9h0M194.5 390.9h0M169.4 357.4h0M182.0 348.1h0M170.6 354.1h0M185.4 374.8h0M182.7 386.1h0M223.1 379.8h0M255.2 369.6h0M267.1 402.7h0M171.0 388.4h0M224.0 383.9h0M220.6 374.8h0M255.7 396.8h0M188.2 358.1h0M254.0 335.6h0M203.3 346.2h0M243.7 339.4h0M185.8 350.0h0M249.3 396.2h0M174.4 368.0h0M222.1 335.8h0M255.5 376.2h0M209.7 358.5h0M179.2 333.6h0M218.5 334.6h0M173.1 373.0h0M188.3 351.0h0M259.4 401.6h0M222.3 366.4h0M235.1 364.6h0M205.9 398.5h0M199.4 336.3h0M240.3 409.0h0M187.2 397.8h0M159.7 395.1h0M196.7 398.2h0M235.6 407.9h0M265.9 378.9h0M159.8 365.2h0M263.0 368.7h0M172.5 354.0h0M174.0 346.3h0M210.9 401.2h0M243.4 362.5h0M262.7 365.4h0M217.1 361.9h0M176.2 357.8h0M269.0 350.7h0M260.5 390.4h0M176.5 363.7h0M217.6 338.7h0M254.1 358.1h0M180.9 367.4h0M201.0 400.1h0" stroke="#9a6a58" stroke-width="1.5" stroke-linecap="round" opacity="0.75"/>
<path d="M215.3 358.8h0M227.4 365.3h0M254.9 358.9h0M196.4 357.5h0M253.6 343.0h0M223.6 394.9h0M178.8 366.8h0M259.2 384.4h0M217.6 383.7h0M207.5 395.1h0M269.9 386.8h0M229.1 382.5h0M203.1 341.0h0M195.6 342.6h0M269.2 364.5h0M254.4 375.7h0M242.2 378.0h0M210.3 362.0h0M174.4 382.6h0M248.0 376.7h0M178.0 376.5h0M223.3 384.9h0M228.6 340.0h0M212.0 360.4h0M195.2 370.9h0M239.3 361.1h0M195.6 378.0h0M164.9 333.3h0M259.9 379.2h0M240.2 358.0h0M256.6 366.9h0M233.0 396.2h0M265.3 402.1h0M190.6 369.4h0M229.9 349.0h0M197.4 404.7h0M201.3 334.4h0M271.1 370.6h0M180.3 386.8h0M237.1 352.7h0M184.5 396.3h0M233.8 353.2h0M186.2 397.4h0M214.5 366.4h0M266.1 374.3h0M166.5 384.2h0M201.8 342.0h0M236.7 352.9h0M161.6 393.2h0M175.6 360.8h0M235.2 375.4h0M170.6 335.8h0M196.1 378.1h0M214.8 370.5h0M211.1 407.7h0" stroke="#8f6050" stroke-width="1" stroke-linecap="round" opacity="0.75"/>
<path d="M248.1 400.3h0M190.5 395.4h0M182.6 381.6h0M162.6 340.9h0M159.4 350.7h0M205.3 375.3h0M271.7 349.4h0M172.5 391.2h0M270.7 343.6h0M242.8 404.5h0M191.4 344.7h0M237.0 348.7h0M204.1 373.5h0M198.3 363.4h0M241.6 364.3h0M231.3 380.7h0M188.9 407.4h0M228.6 346.4h0M170.8 344.3h0M200.2 385.4h0M160.8 388.7h0M160.7 363.5h0M167.6 373.0h0M221.7 351.2h0M239.9 347.5h0M194.5 376.4h0M214.5 372.1h0M183.0 342.6h0M175.5 404.4h0M245.9 346.9h0M174.0 383.1h0M242.9 382.8h0M216.7 370.6h0M193.0 348.6h0M163.5 340.4h0M172.6 366.9h0M248.0 346.9h0M205.6 406.0h0M214.9 404.1h0M256.2 339.3h0M200.9 386.9h0M234.4 364.8h0M233.3 367.6h0M199.5 376.3h0M229.9 354.5h0M205.2 335.6h0M231.9 407.4h0M222.8 349.0h0M179.5 379.7h0M240.4 337.2h0M255.2 382.8h0M246.2 397.0h0M248.9 382.8h0M263.5 355.2h0M164.7 333.1h0M194.6 367.4h0M188.2 349.1h0M177.7 346.0h0M165.9 395.0h0M185.6 362.0h0M201.6 368.7h0M189.1 375.1h0M264.6 337.8h0M253.8 360.2h0M268.0 363.1h0" stroke="#b98a70" stroke-width="1" stroke-linecap="round" opacity="0.75"/>
<path d="M270.8 385.9h0M264.8 352.7h0M234.4 399.0h0M250.7 359.2h0M199.0 407.2h0M271.3 367.6h0M180.1 337.5h0M207.1 407.2h0M226.9 410.7h0M218.1 379.4h0M257.5 340.6h0M220.2 400.8h0M189.5 376.0h0M219.5 390.6h0M181.2 357.5h0M222.6 333.4h0M218.5 347.7h0M196.6 344.5h0M179.8 384.9h0M182.7 402.7h0M249.0 342.5h0M229.6 378.1h0M265.6 391.4h0M174.3 400.9h0M161.9 375.7h0M187.4 358.6h0M206.7 347.5h0M216.6 402.1h0M196.8 404.9h0M247.2 367.2h0M242.6 375.1h0M202.0 343.2h0M231.3 362.9h0M198.3 347.8h0M163.2 349.1h0M244.0 366.8h0M188.7 365.1h0M211.8 395.9h0M198.2 338.5h0M180.7 385.0h0M181.3 407.1h0M199.3 348.7h0M160.5 346.4h0M205.6 339.5h0M177.8 383.3h0M263.9 341.9h0" stroke="#7d88b8" stroke-width="1.5" stroke-linecap="round" opacity="0.75"/>
<path d="M215.2 353.6h0M224.8 373.9h0M216.1 378.1h0M199.2 386.5h0M204.3 374.9h0M265.8 344.0h0M236.2 384.1h0M227.6 404.7h0M187.8 389.1h0M181.7 359.6h0M168.7 344.1h0M243.7 375.3h0M242.7 409.8h0M192.9 393.1h0M163.5 389.1h0M214.4 358.5h0M167.1 407.5h0M223.3 394.0h0M211.7 337.5h0M187.3 360.1h0M206.5 383.8h0M257.3 372.1h0M236.8 394.6h0M221.6 344.3h0M234.4 386.7h0M186.9 361.8h0M188.7 398.9h0M165.1 362.7h0M221.4 408.3h0M243.9 345.0h0M213.1 349.0h0M212.9 388.4h0M251.5 358.0h0M166.8 340.9h0M231.0 374.2h0M271.7 384.7h0M212.5 393.4h0M173.1 400.1h0M253.4 371.8h0M175.2 335.8h0M209.8 365.4h0M248.7 351.6h0M244.9 396.7h0M183.8 391.5h0M262.6 365.9h0M260.8 407.5h0M260.1 391.8h0M210.3 370.6h0M222.4 372.4h0M176.5 385.5h0M244.9 406.2h0M226.1 385.4h0M255.7 403.3h0M164.4 362.8h0M243.7 367.5h0M216.0 395.4h0M174.2 392.9h0M261.0 399.0h0" stroke="#8aa0cc" stroke-width="1" stroke-linecap="round" opacity="0.75"/>
<path d="M172.9 389.9h0M241.8 406.5h0M267.9 380.2h0M251.3 372.3h0M231.6 409.1h0M265.0 355.0h0M261.4 356.1h0M240.5 352.0h0M187.3 336.3h0M269.0 403.8h0M183.8 334.2h0M182.9 398.1h0M192.2 401.3h0M255.3 364.4h0M203.2 357.9h0M177.5 342.4h0M239.7 391.1h0M203.1 384.7h0M265.8 349.4h0M169.4 379.1h0M163.5 342.3h0M269.8 344.1h0M182.1 383.9h0M260.8 377.3h0M198.2 383.4h0M184.8 384.3h0M190.5 370.7h0M259.8 387.7h0M228.3 365.3h0M222.5 410.3h0M245.1 357.7h0M249.7 335.5h0M205.6 392.7h0M267.6 361.7h0M257.5 366.4h0M235.2 384.3h0M160.3 345.0h0M176.9 394.2h0M215.0 369.9h0M161.7 386.2h0M250.7 341.7h0M170.8 408.7h0M213.1 376.1h0M181.6 363.2h0M205.1 399.4h0M236.5 377.2h0M258.6 339.3h0M176.3 391.5h0M271.5 391.0h0M214.2 408.0h0M248.9 405.0h0M258.0 352.4h0M214.5 379.0h0M271.8 344.3h0M267.4 371.8h0M216.4 353.0h0M213.4 361.1h0M226.0 363.4h0M207.4 369.2h0" stroke="#8f6050" stroke-width="1.5" stroke-linecap="round" opacity="0.75"/>
<path d="M213.5 338.1h0M248.3 366.3h0M260.2 394.1h0M270.7 407.2h0M232.8 353.8h0M173.3 336.0h0M177.9 336.1h0M173.8 407.3h0M181.7 401.1h0M175.7 372.2h0M208.4 389.7h0M161.3 336.1h0M241.1 379.7h0M227.8 367.0h0M262.7 340.4h0M222.0 369.9h0M175.2 390.6h0M223.4 382.4h0M175.9 344.7h0M270.9 367.2h0M237.4 372.9h0M269.3 349.1h0M162.9 391.5h0M229.4 375.2h0M161.2 390.7h0M268.5 334.1h0M231.1 405.0h0M208.5 339.6h0M241.9 345.3h0M170.1 407.1h0M186.0 367.6h0M190.6 394.8h0M216.1 381.3h0M163.4 409.4h0M222.0 352.3h0M160.4 371.7h0M196.4 382.9h0M223.6 398.8h0M192.3 349.4h0M168.6 345.7h0M203.4 375.9h0M174.1 386.3h0M263.9 366.3h0M269.1 400.2h0M205.5 377.4h0M254.6 400.9h0M239.8 350.2h0M251.0 363.9h0M200.1 358.3h0M231.7 394.5h0M192.4 361.6h0M175.0 402.7h0M266.5 367.6h0M208.8 386.0h0" stroke="#d4b4a4" stroke-width="1.5" stroke-linecap="round" opacity="0.75"/>
<path d="M159,374 C166,377 173,384 177,392 C179,398 181,404 183,411 L159,411Z" fill="#9aaad0" stroke="none" stroke-width="0"/>
<path d="M171.4 401.0h0M170.0 404.7h0M182.0 376.0h0M161.4 403.2h0M179.2 395.2h0M168.1 391.6h0M178.5 374.8h0M169.7 380.7h0M161.7 400.9h0" stroke="#a4b4d6" stroke-width="1.5" stroke-linecap="round" opacity="0.8"/>
<path d="M171.1 404.5h0M165.3 399.0h0M179.4 388.5h0M163.1 385.2h0M167.2 393.3h0M181.1 405.9h0M161.8 405.3h0M169.3 381.9h0M159.3 394.0h0M166.5 374.5h0M172.6 398.2h0M161.8 378.1h0M182.7 374.7h0M160.0 406.1h0M170.2 386.4h0M162.4 396.9h0M172.3 375.7h0M179.7 387.6h0" stroke="#7a92c4" stroke-width="1" stroke-linecap="round" opacity="0.8"/>
<path d="M182.4 404.7h0M179.5 405.6h0M167.0 410.3h0M173.4 394.6h0M161.2 374.4h0M166.3 385.7h0M177.5 399.3h0M162.0 392.2h0M171.6 395.1h0M178.3 390.6h0M173.1 395.5h0M163.6 399.3h0M167.9 398.2h0M179.5 374.2h0M169.0 393.3h0M175.8 380.2h0M180.6 399.5h0M159.3 381.6h0M160.6 408.5h0M176.7 409.0h0" stroke="#7e96c6" stroke-width="1.5" stroke-linecap="round" opacity="0.8"/>
<path d="M178.3 379.3h0M168.5 374.8h0M165.3 391.8h0M163.7 406.2h0M166.4 386.7h0M181.3 382.2h0M173.6 381.1h0M168.6 401.4h0M168.1 390.5h0M176.3 374.1h0M174.0 380.7h0M180.4 375.2h0M162.7 389.2h0" stroke="#8aa0cc" stroke-width="1.5" stroke-linecap="round" opacity="0.8"/>
<path d="M177.5 405.9h0M177.6 397.4h0M177.2 408.2h0M181.3 375.0h0M165.6 394.5h0M163.9 389.5h0M172.2 391.8h0M163.1 394.7h0M169.0 378.4h0M182.9 390.9h0M182.7 410.4h0M166.6 389.9h0" stroke="#7e96c6" stroke-width="1" stroke-linecap="round" opacity="0.8"/>
<path d="M164.3 393.6h0M183.5 395.3h0M166.9 410.7h0M164.7 409.6h0M173.8 392.9h0M179.1 407.1h0M177.1 390.1h0M159.4 394.5h0M170.8 383.6h0M178.4 409.6h0M172.7 408.6h0" stroke="#7a92c4" stroke-width="1.5" stroke-linecap="round" opacity="0.8"/>
<path d="M173.3 404.4h0M162.8 386.6h0M178.9 395.7h0M163.6 405.7h0M177.7 398.8h0M182.7 375.7h0M161.7 379.1h0" stroke="#b6c2dc" stroke-width="1.5" stroke-linecap="round" opacity="0.8"/>
<path d="M179.8 376.6h0M180.4 405.5h0M165.4 409.2h0M177.0 409.2h0M160.6 401.2h0M171.2 374.8h0M176.3 392.6h0M160.6 397.9h0M178.0 391.4h0M172.4 407.1h0M174.8 408.5h0M163.7 400.5h0M166.3 409.9h0M178.9 405.9h0M159.7 382.6h0M168.6 382.3h0" stroke="#8aa0cc" stroke-width="1" stroke-linecap="round" opacity="0.8"/>
<path d="M171.4 388.2h0M177.0 398.6h0M163.0 381.8h0M160.9 410.5h0M175.4 405.2h0M167.9 382.0h0M164.2 384.3h0M161.4 406.8h0M181.1 377.0h0M169.1 408.9h0M163.0 375.5h0M164.5 389.4h0M168.8 378.2h0M170.4 386.8h0M176.4 399.7h0M168.0 398.9h0" stroke="#95a8d0" stroke-width="1" stroke-linecap="round" opacity="0.8"/>
<path d="M171.1 393.4h0M181.2 393.7h0M162.9 398.2h0M166.7 405.6h0M163.1 408.9h0M168.9 409.0h0M172.8 406.5h0M163.7 374.3h0M164.0 398.4h0M171.3 397.0h0M180.2 403.4h0" stroke="#b6c2dc" stroke-width="1" stroke-linecap="round" opacity="0.8"/>
<path d="M171.9 377.0h0M180.4 389.1h0M166.3 388.9h0M181.5 394.7h0M173.7 404.9h0M169.7 385.9h0M171.2 383.4h0M167.8 407.5h0M166.9 406.9h0M159.5 381.8h0M180.6 383.2h0" stroke="#a4b4d6" stroke-width="1" stroke-linecap="round" opacity="0.8"/>
<path d="M175.4 392.1h0M183.8 376.7h0M163.0 374.1h0M166.7 387.6h0M166.2 376.7h0M160.3 397.0h0M179.6 377.1h0M182.2 377.5h0M165.3 408.2h0M178.0 383.8h0M160.2 402.6h0M169.7 397.8h0M183.9 392.5h0M179.2 382.9h0M160.1 395.7h0M163.5 403.8h0" stroke="#95a8d0" stroke-width="1.5" stroke-linecap="round" opacity="0.8"/>
<circle cx="161" cy="398" r="7" fill="#d6dbe8" opacity="0.7"/>
<path d="M178,411 C182,404 186,399 191,397 L193,411Z" fill="#dfe0e6" stroke="none" stroke-width="0" opacity="0.9"/>
<ellipse cx="160" cy="352" rx="25" ry="25" fill="#b4a8b2"/>
<clipPath id="lf2"><ellipse cx="160" cy="352" rx="25" ry="25"/></clipPath>
<g clip-path="url(#lf2)">
<path d="M138.5 338.6h0M161.6 350.2h0M141.1 341.3h0M174.8 340.2h0M136.9 355.4h0M162.5 332.8h0M166.0 364.7h0M145.4 374.4h0M173.8 362.5h0M164.3 367.0h0M184.1 359.7h0M176.2 361.4h0M150.6 366.5h0M158.4 371.2h0M144.1 361.0h0M177.0 358.5h0M166.7 356.5h0M148.9 359.0h0M160.1 327.6h0M164.7 345.9h0M184.8 350.2h0M159.2 337.0h0M142.3 374.0h0M172.2 357.0h0M165.9 355.1h0M158.5 362.0h0M149.0 346.7h0M162.5 366.1h0M145.3 373.5h0M167.3 367.0h0M163.0 368.6h0M155.4 329.1h0" stroke="#8aa0cc" stroke-width="1.5" stroke-linecap="round" opacity="0.85"/>
<path d="M151.1 356.1h0M144.4 344.1h0M166.4 364.7h0M172.2 373.9h0M143.8 353.8h0M183.2 374.2h0M171.3 377.4h0M174.6 357.1h0M175.8 332.6h0M182.3 359.0h0M154.6 356.5h0M176.8 374.9h0M140.1 346.9h0M183.9 361.8h0M147.0 341.8h0M135.1 343.0h0M174.3 342.4h0M159.5 377.4h0M154.4 338.0h0M140.5 363.3h0M146.1 333.7h0M171.1 373.7h0M162.1 368.5h0M138.9 339.4h0M174.9 335.0h0M171.0 370.8h0M150.1 333.7h0M167.0 364.3h0M150.5 362.0h0M164.7 351.9h0M161.9 334.0h0M160.3 352.6h0M169.7 358.1h0M168.6 363.5h0M135.3 349.4h0" stroke="#a4b4d6" stroke-width="1" stroke-linecap="round" opacity="0.85"/>
<path d="M149.1 335.5h0M147.7 344.5h0M179.0 346.2h0M150.0 331.5h0M178.4 363.7h0M162.1 326.1h0M154.2 370.6h0M180.3 354.6h0M165.7 336.1h0M164.0 363.4h0M176.5 375.3h0M148.0 362.1h0M170.5 376.0h0M136.7 356.1h0M159.1 347.2h0M135.4 327.2h0M167.2 359.4h0M164.2 353.7h0M139.1 356.1h0M155.3 367.8h0M171.0 369.6h0M179.2 336.2h0M136.7 369.2h0M177.7 369.5h0M150.5 335.3h0M180.5 331.0h0" stroke="#c8a898" stroke-width="1" stroke-linecap="round" opacity="0.85"/>
<path d="M163.4 351.3h0M176.0 352.3h0M150.1 355.6h0M182.5 342.1h0M159.4 331.6h0M180.6 347.0h0M136.6 377.4h0M170.7 373.5h0M141.2 331.1h0M135.7 346.8h0M159.6 348.7h0M156.7 344.5h0M161.6 328.8h0M177.4 370.3h0M177.9 341.0h0M178.5 371.2h0M146.9 351.7h0M172.0 371.2h0M140.3 358.7h0M149.7 368.2h0M184.9 330.1h0M148.9 340.2h0M145.9 329.2h0M147.3 365.5h0M155.4 340.2h0M144.5 326.4h0M154.2 369.9h0M155.5 335.7h0M170.7 327.7h0M158.1 360.5h0M177.4 372.0h0" stroke="#a4b4d6" stroke-width="1.5" stroke-linecap="round" opacity="0.85"/>
<path d="M183.8 338.8h0M170.5 356.8h0M167.2 331.0h0M176.4 327.7h0M138.9 368.0h0M170.8 358.9h0M162.6 354.7h0M160.5 353.8h0M138.7 347.2h0M160.4 352.1h0M169.9 350.4h0M168.4 376.5h0M182.2 365.5h0M148.8 338.7h0M166.5 340.7h0M156.4 358.5h0M182.1 340.8h0M163.0 365.9h0M162.9 341.7h0M184.0 343.2h0" stroke="#c8a898" stroke-width="1.5" stroke-linecap="round" opacity="0.85"/>
<path d="M166.5 343.3h0M148.3 369.5h0M150.3 358.6h0M182.7 371.5h0M160.5 377.2h0M158.4 355.2h0M138.2 352.8h0M175.2 363.0h0M150.1 363.1h0M152.2 369.9h0M151.8 349.9h0M174.9 353.0h0M167.6 374.1h0M156.3 332.2h0M179.4 337.0h0M151.7 375.4h0M171.1 350.0h0M180.8 340.6h0M172.8 346.1h0M163.5 348.4h0M161.9 357.6h0M138.4 372.5h0M149.2 338.7h0M151.2 346.5h0M152.6 334.4h0" stroke="#a88a88" stroke-width="1" stroke-linecap="round" opacity="0.85"/>
<path d="M157.6 374.4h0M141.0 354.5h0M161.3 359.3h0M181.5 354.1h0M173.4 377.8h0M163.0 354.5h0M171.1 338.4h0M158.4 354.7h0M158.4 346.7h0M139.9 374.9h0M176.7 353.3h0M160.2 331.9h0M176.1 373.8h0M176.8 363.4h0M181.3 365.6h0M158.0 359.6h0M138.6 326.3h0M152.3 359.1h0M161.6 366.9h0M151.7 352.4h0M156.2 369.8h0M146.0 362.8h0M143.7 345.1h0M136.4 367.9h0M170.8 371.3h0M167.0 346.7h0M161.7 358.8h0M181.7 367.9h0M175.8 357.7h0M173.9 347.7h0M163.8 333.0h0M153.8 365.8h0M178.8 356.5h0M144.7 365.4h0" stroke="#8aa0cc" stroke-width="1" stroke-linecap="round" opacity="0.85"/>
<path d="M143.8 371.9h0M151.3 334.5h0M136.7 333.1h0M175.2 372.3h0M165.5 355.1h0M175.1 368.5h0M153.0 374.3h0M145.2 334.9h0M159.8 366.5h0M147.4 356.6h0M151.0 368.4h0M160.4 376.6h0M161.9 343.5h0M177.0 352.4h0M180.4 371.5h0M159.6 362.6h0M166.3 370.7h0M182.9 345.6h0M171.3 375.6h0M177.0 372.0h0M152.6 372.8h0M177.5 330.6h0M151.0 369.9h0M171.3 326.8h0" stroke="#7d88b8" stroke-width="1.5" stroke-linecap="round" opacity="0.85"/>
<path d="M172.9 328.3h0M147.8 351.7h0M140.3 340.7h0M148.2 334.0h0M140.5 353.4h0M152.7 341.6h0M166.5 337.5h0M146.4 357.9h0M164.6 334.9h0M135.3 350.9h0M183.9 355.0h0M178.5 368.9h0M175.4 340.5h0M151.9 328.0h0M137.9 326.3h0M149.5 328.6h0M178.4 341.7h0M149.6 327.3h0M136.1 357.0h0M173.9 374.6h0M136.7 346.8h0M165.1 332.6h0M154.7 345.7h0M153.6 347.4h0M144.4 375.2h0M139.0 331.3h0M171.4 349.8h0M144.0 345.0h0M158.7 362.6h0M173.2 364.0h0M183.5 337.5h0M141.8 370.1h0M161.7 334.8h0M139.4 351.8h0M180.8 373.6h0M160.3 341.5h0M174.4 359.6h0M181.1 361.5h0M141.5 374.5h0M170.3 356.3h0M148.3 377.2h0" stroke="#95a8d0" stroke-width="1.5" stroke-linecap="round" opacity="0.85"/>
<path d="M141.0 374.2h0M155.4 347.9h0M183.0 329.8h0M152.2 342.0h0M154.4 345.7h0M181.6 326.6h0M160.3 375.6h0M145.8 336.6h0M138.2 363.5h0M159.2 376.4h0M159.8 333.9h0M168.1 352.3h0M141.0 347.0h0M149.3 341.6h0M177.0 338.5h0M139.8 352.3h0M173.8 365.8h0M148.3 343.2h0M154.6 369.1h0M159.9 354.9h0M181.1 362.4h0M165.4 367.4h0M172.0 340.3h0M166.2 345.2h0M179.9 326.5h0" stroke="#7a92c4" stroke-width="1" stroke-linecap="round" opacity="0.85"/>
<path d="M151.8 337.1h0M143.5 353.7h0M166.6 341.2h0M135.3 366.5h0M161.4 376.6h0M138.1 337.6h0M166.7 372.6h0M135.4 343.6h0M151.6 364.5h0M172.8 373.7h0M178.5 347.5h0M162.5 347.6h0M182.0 348.4h0M153.7 333.7h0M158.5 369.4h0M153.7 357.4h0M136.3 327.6h0M145.6 328.7h0M185.2 375.6h0M143.4 373.3h0M175.2 353.3h0M140.3 341.3h0M159.1 334.8h0M173.0 366.0h0M177.0 326.7h0M135.8 341.4h0M167.7 341.6h0M144.6 342.8h0M156.6 344.8h0M172.9 349.1h0M153.1 335.8h0M148.3 351.5h0M179.6 332.4h0M172.0 377.9h0" stroke="#b89484" stroke-width="1" stroke-linecap="round" opacity="0.85"/>
<path d="M170.0 368.4h0M161.1 341.3h0M162.6 331.7h0M151.6 351.4h0M149.7 357.7h0M143.4 364.0h0M184.3 357.0h0M182.9 355.3h0M171.3 367.5h0M163.2 329.3h0M156.4 365.2h0M165.5 342.0h0M160.4 326.4h0M164.0 360.4h0M169.1 339.2h0M161.1 331.6h0M135.4 363.3h0M154.6 373.8h0M147.9 331.6h0M140.8 351.4h0M176.3 329.1h0M144.8 327.2h0M138.1 357.0h0M140.1 370.6h0M167.4 341.8h0M159.5 336.7h0M152.5 365.3h0M162.0 344.9h0M157.4 372.2h0M171.1 367.8h0M165.4 354.8h0M165.8 333.6h0M179.4 372.7h0M169.3 368.5h0M153.4 354.4h0M152.1 369.4h0M180.3 360.5h0M158.1 343.2h0M180.6 333.8h0M181.4 350.1h0M184.8 329.4h0M170.0 368.1h0" stroke="#7d88b8" stroke-width="1" stroke-linecap="round" opacity="0.85"/>
<path d="M146.0 340.3h0M146.3 340.2h0M141.6 352.0h0M175.7 330.2h0M183.9 369.4h0M142.6 364.1h0M174.6 329.1h0M155.4 356.0h0M137.9 373.1h0M170.2 354.9h0M155.2 364.7h0M137.5 367.7h0M173.8 360.9h0M138.8 343.1h0M154.9 340.5h0M185.8 368.9h0M177.8 363.7h0M148.1 357.7h0M138.6 326.8h0M174.1 342.7h0M184.3 374.4h0M148.0 344.0h0M144.5 363.4h0M138.1 338.8h0M142.7 359.8h0M163.4 340.4h0M183.4 354.7h0M158.6 340.8h0M150.6 348.8h0M184.4 359.0h0M152.5 340.1h0M174.9 336.9h0M145.4 353.0h0" stroke="#d8d4d8" stroke-width="1" stroke-linecap="round" opacity="0.85"/>
<path d="M184.5 377.2h0M141.8 333.7h0M171.4 351.5h0M146.6 332.7h0M151.3 338.9h0M158.9 371.1h0M164.0 329.9h0M140.8 345.7h0M179.7 351.3h0M172.2 368.7h0M166.8 375.8h0M145.6 367.3h0M159.6 329.6h0M161.0 334.6h0M152.2 347.0h0M156.1 354.5h0M138.0 342.0h0M159.8 352.1h0M138.7 363.4h0M152.8 353.5h0M138.4 328.7h0M175.0 352.2h0M139.6 362.6h0M170.9 334.4h0M142.8 335.7h0M142.9 372.4h0M168.8 336.8h0M151.4 337.9h0M143.9 342.0h0M167.0 357.6h0" stroke="#8890b8" stroke-width="1.5" stroke-linecap="round" opacity="0.85"/>
<path d="M171.8 361.8h0M157.2 334.1h0M164.5 338.0h0M149.2 375.6h0M147.1 361.8h0M173.3 363.9h0M144.9 336.9h0M165.3 336.1h0M179.5 353.7h0M150.1 363.8h0M149.2 336.2h0M136.9 342.5h0M178.4 374.5h0M144.5 350.5h0M170.7 362.7h0M165.5 360.2h0M140.0 326.3h0M157.9 360.0h0M140.3 345.8h0M146.9 348.5h0M153.8 347.8h0M159.8 330.2h0M161.6 359.7h0M142.2 358.9h0M143.7 362.3h0M164.6 340.0h0M167.3 376.1h0" stroke="#95a8d0" stroke-width="1" stroke-linecap="round" opacity="0.85"/>
<path d="M175.1 341.6h0M136.1 364.6h0M152.9 360.9h0M171.3 352.2h0M137.3 374.8h0M157.4 350.1h0M173.5 339.8h0M173.0 350.7h0M146.2 342.7h0M157.8 344.4h0M144.5 350.2h0M143.6 365.5h0M163.6 375.8h0M139.9 336.9h0M183.5 333.9h0M176.4 338.5h0M183.2 350.8h0M175.1 360.4h0M148.9 355.9h0M161.2 367.3h0M142.6 377.9h0M143.3 347.5h0M140.3 333.6h0M183.8 348.0h0M142.9 376.1h0M143.4 344.3h0M154.9 331.2h0M162.9 330.5h0M145.8 377.4h0" stroke="#b89484" stroke-width="1.5" stroke-linecap="round" opacity="0.85"/>
<path d="M143.5 352.8h0M168.4 339.7h0M178.2 350.5h0M154.6 355.9h0M181.4 334.8h0M148.4 364.5h0M160.9 369.9h0M150.2 370.9h0M174.3 334.6h0M157.6 365.1h0M147.4 339.5h0M170.8 371.9h0M177.4 356.5h0M163.5 338.6h0M175.3 333.0h0M164.0 349.0h0M175.6 345.0h0M166.3 357.7h0M158.5 369.0h0M173.3 344.8h0M164.4 341.3h0M157.9 326.4h0M161.7 364.6h0M181.8 347.3h0M136.6 336.4h0" stroke="#7a92c4" stroke-width="1.5" stroke-linecap="round" opacity="0.85"/>
<path d="M178.8 350.2h0M151.6 358.7h0M162.9 332.4h0M161.0 352.1h0M170.6 360.7h0M161.7 342.3h0M137.2 360.2h0M155.1 377.7h0M170.6 371.8h0M159.6 326.4h0M148.0 350.7h0M177.9 372.6h0M161.2 360.6h0M148.7 370.1h0M141.7 365.0h0M173.4 353.6h0M177.4 357.2h0M174.4 339.8h0M179.8 355.2h0M180.4 357.8h0M158.7 363.9h0M138.6 346.4h0M136.1 367.0h0M170.9 335.5h0M181.2 347.4h0M181.3 357.3h0M143.9 339.2h0M185.9 335.7h0M155.6 372.4h0M185.0 328.5h0M162.7 364.0h0M179.2 326.6h0M136.3 328.6h0M184.6 367.1h0M153.5 363.9h0M151.0 376.0h0M140.8 326.2h0M141.5 339.8h0M175.0 329.7h0" stroke="#a88a88" stroke-width="1.5" stroke-linecap="round" opacity="0.85"/>
<path d="M167.5 354.4h0M154.1 356.2h0M151.5 344.1h0M155.6 340.8h0M154.6 367.6h0M185.2 342.7h0M175.8 375.9h0M149.3 349.2h0M154.2 326.8h0M136.5 337.6h0M136.7 330.8h0M155.7 342.1h0M176.4 351.1h0M145.7 366.9h0M162.0 330.8h0M177.8 377.5h0M152.2 372.5h0M136.6 374.1h0M138.8 349.2h0M137.8 342.2h0M156.2 340.1h0M157.3 332.7h0M181.8 365.6h0M152.2 362.4h0" stroke="#d8d4d8" stroke-width="1.5" stroke-linecap="round" opacity="0.85"/>
<path d="M181.0 327.6h0M149.0 345.9h0M148.0 343.0h0M167.1 360.1h0M176.2 371.8h0M180.4 351.3h0M141.4 328.6h0M154.6 352.3h0M147.2 363.8h0M165.2 350.2h0M148.8 366.6h0M138.3 331.6h0M160.8 357.6h0M174.5 342.7h0M161.7 354.8h0M155.6 332.3h0M159.5 353.5h0M182.3 360.1h0M178.4 328.1h0M141.1 347.1h0M151.7 361.9h0M140.1 369.8h0M162.8 362.1h0M171.5 331.0h0" stroke="#8890b8" stroke-width="1" stroke-linecap="round" opacity="0.85"/>
</g>
<path d="M186,352 C190,362 190,372 186,384 L180,392 C176,386 178,376 181,366 C183,360 184,356 186,352Z" fill="#a2b0d2" stroke="none" stroke-width="0" opacity="0.8"/>
<path d="M238,333 L272,333 L272,354 C262,357 250,353 244,346 C241,342 239,337 238,333Z" fill="#a6b6d8" stroke="none" stroke-width="0"/>
<path d="M240.2 344.4h0M266.7 350.4h0M271.1 349.3h0M260.0 342.7h0M262.2 354.9h0M259.2 345.3h0M244.7 337.1h0M250.4 335.5h0M271.4 343.6h0M243.6 338.8h0M242.6 353.6h0M264.7 356.1h0M265.5 349.3h0M261.5 345.7h0M249.5 345.3h0" stroke="#95a8d0" stroke-width="1" stroke-linecap="round" opacity="0.8"/>
<path d="M265.7 333.3h0M267.6 349.4h0M255.8 354.3h0M265.8 336.4h0M246.5 347.1h0M259.1 346.9h0M238.2 349.0h0M256.4 349.8h0M255.2 354.1h0M248.5 338.1h0M255.6 349.7h0M257.4 344.6h0" stroke="#8aa0cc" stroke-width="1.5" stroke-linecap="round" opacity="0.8"/>
<path d="M261.3 346.8h0M264.4 333.9h0M241.7 334.7h0M249.1 356.4h0M246.7 335.4h0M246.9 350.8h0M259.3 339.1h0M247.2 338.4h0M252.1 353.4h0M269.5 346.8h0" stroke="#95a8d0" stroke-width="1.5" stroke-linecap="round" opacity="0.8"/>
<path d="M254.6 339.3h0M239.1 352.2h0M254.0 351.6h0M253.6 344.0h0M251.5 353.7h0M265.5 344.5h0M245.7 333.7h0M250.2 345.5h0M262.2 338.2h0M240.8 345.4h0M250.3 338.2h0M245.2 355.6h0M259.8 347.2h0M269.5 346.5h0M261.4 340.6h0M243.2 350.1h0M243.0 343.2h0M238.1 333.6h0M259.1 342.0h0" stroke="#7e96c6" stroke-width="1" stroke-linecap="round" opacity="0.8"/>
<path d="M246.0 347.4h0M245.0 338.3h0M266.3 348.9h0M255.2 346.6h0M249.3 339.6h0M243.0 335.6h0M257.3 355.4h0M263.4 340.7h0M269.7 351.5h0M253.1 346.0h0M270.4 334.3h0M267.4 338.0h0M263.7 352.3h0M258.1 340.1h0M252.7 349.1h0M250.2 346.1h0M259.0 354.1h0M255.7 336.5h0M254.2 334.8h0M253.0 338.4h0" stroke="#7a92c4" stroke-width="1" stroke-linecap="round" opacity="0.8"/>
<path d="M245.3 341.6h0M264.5 336.0h0M270.7 346.9h0M270.6 336.8h0M257.8 348.9h0M263.5 354.0h0" stroke="#7e96c6" stroke-width="1.5" stroke-linecap="round" opacity="0.8"/>
<path d="M247.5 334.3h0M259.5 336.4h0M261.4 350.0h0M239.1 338.1h0M266.3 336.2h0M264.4 354.2h0M248.7 342.7h0M245.2 341.8h0M254.8 347.9h0M270.9 356.8h0M257.4 341.0h0M260.3 356.7h0" stroke="#b6c2dc" stroke-width="1.5" stroke-linecap="round" opacity="0.8"/>
<path d="M262.1 340.3h0M270.3 345.5h0M249.2 335.8h0M261.6 335.4h0M239.0 338.9h0M254.6 354.9h0M266.3 339.9h0M243.3 344.1h0M246.2 342.4h0" stroke="#7a92c4" stroke-width="1.5" stroke-linecap="round" opacity="0.8"/>
<path d="M242.8 337.5h0M249.2 336.7h0M271.3 352.5h0M252.2 356.1h0M265.7 343.4h0M270.4 353.3h0M247.6 337.1h0M249.0 342.7h0M240.5 335.4h0M265.8 345.6h0M243.2 336.8h0" stroke="#a4b4d6" stroke-width="1.5" stroke-linecap="round" opacity="0.8"/>
<path d="M251.9 335.4h0M256.0 352.5h0M267.7 351.8h0M249.3 355.2h0M241.1 336.3h0M242.1 349.3h0M264.8 352.4h0M239.3 347.8h0M248.9 344.8h0M244.0 345.7h0M267.4 352.7h0M266.4 353.7h0M249.5 348.9h0M250.7 348.0h0M246.8 352.6h0M256.5 340.2h0" stroke="#8aa0cc" stroke-width="1" stroke-linecap="round" opacity="0.8"/>
<path d="M254.7 346.9h0M260.9 355.1h0M238.8 344.7h0M258.2 343.2h0M238.3 351.2h0M254.7 339.0h0M250.3 356.5h0M266.6 338.9h0M241.8 349.8h0M258.0 343.9h0" stroke="#a4b4d6" stroke-width="1" stroke-linecap="round" opacity="0.8"/>
<path d="M244.0 345.2h0M260.5 336.9h0M261.9 349.8h0M256.5 337.7h0M272.0 338.5h0M257.0 343.8h0M265.6 350.7h0M256.8 334.1h0M246.7 349.3h0M251.2 353.5h0" stroke="#b6c2dc" stroke-width="1" stroke-linecap="round" opacity="0.8"/>
<ellipse cx="258" cy="337" rx="9" ry="5" fill="#dfe3ec"/>
<path d="M262,352 C268,356 271,360 272,362 L272,411 L266,411 C270,395 270,375 262,352Z" fill="#d9dadf" stroke="none" stroke-width="0"/>
<path d="M197,333 L214,333 C209,337 204,340 200,343Z" fill="#e6e6ea" stroke="none" stroke-width="0" opacity="0.9"/>
<ellipse cx="230" cy="377.4" rx="41.4" ry="34.5" fill="#a9b6d6"/>
<path d="M252.5 395.4h0M256.4 400.2h0M217.9 389.0h0M234.2 380.3h0M190.5 381.6h0M197.8 405.1h0M193.2 393.0h0M243.7 363.1h0M240.5 374.2h0M221.1 359.7h0M251.9 374.2h0" stroke="#8aa0cc" stroke-width="1.5" stroke-linecap="round" opacity="0.7"/>
<path d="M193.6 403.2h0M210.6 364.4h0M236.5 404.9h0M206.4 377.3h0M262.0 382.8h0M255.9 350.7h0M254.1 351.6h0M216.1 398.9h0M262.9 389.8h0M230.3 365.8h0M213.7 382.9h0M237.4 410.2h0M261.0 354.3h0M264.5 377.6h0M232.6 397.9h0M216.7 398.0h0M192.1 353.0h0" stroke="#8aa0cc" stroke-width="1" stroke-linecap="round" opacity="0.7"/>
<path d="M224.6 390.0h0M196.6 408.1h0M254.6 384.8h0M200.9 347.3h0M229.4 344.7h0" stroke="#a4b4d6" stroke-width="1.5" stroke-linecap="round" opacity="0.7"/>
<path d="M218.9 366.4h0M208.5 392.5h0M214.3 371.1h0M243.9 392.8h0M205.9 361.8h0M198.2 365.7h0M244.7 354.3h0M259.2 345.4h0M199.2 372.0h0M268.1 357.1h0M189.2 394.7h0M212.6 369.2h0M235.6 379.1h0M256.0 372.0h0M196.3 370.4h0M223.2 368.5h0M221.2 402.3h0M193.8 344.1h0M246.9 387.7h0M236.9 361.2h0M233.6 395.2h0M233.7 410.7h0" stroke="#7a92c4" stroke-width="1" stroke-linecap="round" opacity="0.7"/>
<path d="M204.9 409.1h0M208.0 374.3h0M217.3 364.9h0M255.0 396.5h0M253.0 374.6h0M197.5 353.0h0M270.8 358.8h0M261.1 409.4h0M212.9 343.7h0M246.4 409.6h0M269.5 394.1h0" stroke="#7a92c4" stroke-width="1.5" stroke-linecap="round" opacity="0.7"/>
<path d="M239.8 411.2h0M234.5 365.0h0M266.5 405.2h0M236.1 392.6h0M212.6 366.9h0M249.0 386.1h0M244.4 363.6h0" stroke="#b6c2dc" stroke-width="1.5" stroke-linecap="round" opacity="0.7"/>
<path d="M201.6 370.0h0M208.6 403.1h0M215.5 355.5h0M196.2 346.8h0M245.3 345.2h0M244.6 348.7h0M265.4 378.8h0M253.0 363.5h0M192.9 398.0h0M240.0 359.4h0M269.2 345.5h0M189.2 387.1h0M194.9 404.1h0M197.5 393.1h0M259.3 373.9h0M243.1 395.6h0" stroke="#a4b4d6" stroke-width="1" stroke-linecap="round" opacity="0.7"/>
<path d="M188.5 410.1h0M259.1 379.7h0M231.9 369.9h0M257.2 393.0h0M240.9 396.0h0M206.1 379.3h0M222.9 401.0h0M230.1 362.6h0M269.6 372.3h0M193.9 396.8h0M211.2 376.0h0M245.0 395.0h0M214.5 410.6h0M212.3 348.1h0" stroke="#7e96c6" stroke-width="1" stroke-linecap="round" opacity="0.7"/>
<path d="M224.4 373.5h0M267.2 380.8h0M235.9 378.0h0M212.6 396.7h0M207.3 369.6h0M264.9 348.7h0M198.1 376.0h0M238.8 361.7h0" stroke="#7e96c6" stroke-width="1.5" stroke-linecap="round" opacity="0.7"/>
<path d="M269.0 351.5h0M270.9 352.6h0M192.1 360.6h0M236.4 407.7h0" stroke="#95a8d0" stroke-width="1.5" stroke-linecap="round" opacity="0.7"/>
<path d="M227.5 398.3h0M207.4 342.2h0M267.1 381.9h0M242.2 350.8h0M255.9 367.4h0M260.9 401.9h0M260.2 351.2h0M232.5 409.4h0M270.1 373.0h0M267.1 400.0h0M243.7 361.8h0M233.3 385.0h0M228.4 350.2h0M238.4 394.3h0M206.6 396.3h0M253.4 391.2h0M207.8 370.0h0" stroke="#b6c2dc" stroke-width="1" stroke-linecap="round" opacity="0.7"/>
<path d="M222.0 381.0h0M218.2 350.3h0M251.3 399.6h0M190.6 351.1h0M208.9 382.9h0M213.4 406.4h0M192.6 366.1h0M252.5 386.3h0" stroke="#95a8d0" stroke-width="1" stroke-linecap="round" opacity="0.7"/>
<ellipse cx="230" cy="377.4" rx="39.1" ry="32.2" fill="#b2a2a8"/>
<clipPath id="bf2"><ellipse cx="230" cy="377.4" rx="39.1" ry="32.2"/></clipPath>
<g clip-path="url(#bf2)">
<path d="M205.9 347.7h0M269.9 359.8h0M257.6 353.2h0M197.3 347.1h0M232.1 365.9h0M237.8 347.2h0M264.4 398.6h0M251.8 389.2h0M225.3 353.7h0M195.9 353.1h0M191.7 369.4h0M205.4 346.9h0M254.0 402.0h0M261.4 393.0h0M269.1 347.9h0M229.8 345.8h0M259.0 371.0h0M205.9 409.7h0M218.9 382.1h0M218.1 390.7h0M204.4 360.9h0M242.2 349.5h0M213.4 351.1h0M217.4 370.2h0M228.9 373.1h0M239.4 352.5h0M245.8 375.2h0M241.1 355.4h0M255.2 392.4h0M203.3 402.1h0M192.2 352.5h0M234.6 348.7h0M204.0 368.5h0M264.6 385.7h0M252.6 408.5h0M212.6 349.3h0M256.2 354.7h0M200.2 363.7h0M266.7 362.0h0M263.5 379.1h0M231.3 361.8h0M234.5 380.9h0M204.8 370.1h0M218.3 408.2h0M206.7 350.8h0M266.7 351.0h0M226.9 383.4h0M209.2 386.1h0M238.4 363.1h0M216.9 384.3h0M240.5 360.5h0M211.9 389.5h0M263.6 374.9h0M198.8 347.5h0M248.5 381.5h0M209.2 409.1h0M246.3 363.4h0M196.0 402.4h0M192.8 384.6h0M241.2 399.3h0M203.4 350.2h0M255.7 367.2h0M239.9 365.1h0M217.5 399.4h0M240.3 404.6h0M269.2 390.8h0M214.7 398.8h0M252.0 385.7h0M211.4 388.0h0M239.1 370.3h0M246.1 358.5h0" stroke="#8a8cb8" stroke-width="1" stroke-linecap="round" opacity="0.85"/>
<path d="M209.7 404.1h0M230.3 358.8h0M205.8 387.6h0M198.3 384.8h0M215.2 398.4h0M235.4 387.4h0M219.4 370.5h0M255.4 371.7h0M256.6 384.5h0M201.0 349.9h0M208.4 361.3h0M197.0 387.3h0M238.3 399.2h0M196.0 369.1h0M220.4 385.4h0M240.2 386.4h0M219.4 407.6h0M268.6 350.6h0M265.9 397.5h0M239.3 408.6h0M214.1 393.1h0M216.1 345.5h0M263.5 354.6h0M246.7 369.1h0M253.0 374.6h0M197.2 371.7h0M234.6 404.4h0M254.6 348.4h0M256.5 376.0h0M263.1 363.4h0M235.4 389.4h0M238.4 361.8h0M237.9 359.3h0M205.1 394.0h0M214.3 367.6h0M241.3 388.3h0M258.7 386.6h0M255.1 409.2h0M253.5 391.5h0M221.9 346.6h0M264.9 398.5h0M190.3 398.2h0M255.1 398.0h0M248.0 406.7h0M243.2 346.9h0M254.3 398.7h0M230.4 384.4h0M243.6 348.8h0M206.0 347.7h0M205.2 379.7h0M230.9 377.0h0M261.3 392.3h0M232.6 370.4h0M233.2 367.7h0M249.2 362.8h0M216.2 368.4h0M248.4 346.1h0M206.8 382.4h0M268.3 404.5h0M205.1 373.0h0M263.5 405.7h0M191.3 346.2h0M248.8 373.8h0M260.6 394.2h0M194.7 372.9h0M193.9 346.6h0M250.5 410.0h0M256.4 403.1h0M229.5 372.1h0M261.8 382.0h0M210.4 366.7h0M255.3 345.6h0M232.0 382.3h0M245.0 374.5h0M220.2 383.7h0M205.4 349.2h0M266.5 371.3h0M224.4 355.0h0M269.9 388.7h0M227.7 388.5h0M241.0 373.8h0M256.7 352.1h0M204.9 408.6h0M268.7 390.2h0M230.6 377.8h0M266.6 387.1h0M213.7 367.8h0M225.9 347.3h0M205.1 358.4h0M192.7 352.3h0M236.8 388.0h0M203.8 408.5h0M209.7 405.8h0" stroke="#a88070" stroke-width="1" stroke-linecap="round" opacity="0.85"/>
<path d="M232.8 371.7h0M268.5 366.1h0M252.8 381.5h0M251.9 372.4h0M231.6 388.2h0M230.7 352.0h0M244.9 358.0h0M200.7 384.2h0M257.7 364.3h0M211.6 374.4h0M219.3 380.7h0M242.2 404.0h0M201.5 386.5h0M230.2 359.1h0M252.5 369.6h0M251.1 365.5h0M216.3 386.1h0M195.5 354.7h0M203.0 359.8h0M215.2 372.7h0M251.5 396.3h0M216.5 382.3h0M244.2 375.6h0M212.8 403.0h0M218.7 373.9h0M226.8 351.3h0M209.9 376.1h0M257.0 404.2h0M254.1 405.8h0M204.8 377.5h0M198.3 377.3h0M195.0 389.6h0M200.2 389.8h0M266.9 373.6h0M226.3 392.9h0M233.4 360.2h0M245.7 345.8h0M230.8 362.3h0M224.6 406.2h0M190.1 348.8h0M268.8 393.5h0M209.5 359.7h0M200.0 390.2h0M230.1 358.8h0M237.5 401.2h0M232.4 387.3h0M205.7 366.1h0M238.5 385.1h0M226.4 345.4h0M208.6 377.6h0M216.4 383.9h0M231.5 395.9h0M266.7 378.7h0M208.0 402.0h0M217.3 349.1h0M234.8 388.9h0M223.5 390.9h0M264.2 345.6h0M191.8 400.9h0M247.7 368.6h0M265.4 351.8h0M220.5 365.1h0M259.4 390.8h0M230.9 371.6h0M220.3 372.6h0M223.0 348.4h0M217.6 351.7h0M237.1 363.5h0M260.7 357.8h0M231.1 393.6h0M233.1 346.7h0M253.2 388.2h0M248.6 397.5h0M232.4 345.8h0M194.5 365.6h0M216.2 351.3h0M195.6 366.3h0M256.1 402.3h0" stroke="#c8a898" stroke-width="1.5" stroke-linecap="round" opacity="0.85"/>
<path d="M232.2 362.3h0M254.6 345.9h0M263.2 398.0h0M212.1 381.1h0M200.3 392.5h0M214.9 354.8h0M230.9 371.8h0M206.1 387.8h0M236.2 407.3h0M258.9 408.2h0M214.1 361.9h0M262.3 405.2h0M260.8 409.3h0M194.8 402.0h0M268.4 349.8h0M239.9 372.6h0M269.6 349.3h0M243.7 398.1h0M222.0 396.1h0M242.3 355.8h0M269.2 351.4h0M257.3 383.3h0M199.9 352.7h0M242.8 406.5h0M204.5 356.4h0M228.2 377.0h0M206.6 393.7h0M237.6 380.1h0M236.3 348.5h0M204.6 364.3h0M255.4 381.9h0M200.7 383.1h0M243.7 396.3h0M236.4 345.2h0M208.4 383.7h0M218.3 366.4h0M264.0 384.0h0M229.1 362.7h0M269.4 358.5h0M194.4 381.3h0M225.1 357.5h0M241.6 351.5h0M249.1 358.6h0M254.1 376.4h0M261.2 361.4h0M237.9 363.6h0M230.6 387.2h0M231.9 358.7h0M245.3 363.7h0M202.1 345.4h0M203.0 407.6h0M233.6 397.3h0M250.5 365.4h0M255.3 403.6h0M242.9 389.2h0M261.3 402.8h0M237.0 405.6h0M213.6 374.9h0M257.9 388.6h0M249.6 376.1h0M228.8 359.1h0M251.4 354.7h0M232.4 409.9h0M262.4 398.2h0M208.7 354.3h0M265.1 386.3h0M196.6 346.0h0M266.6 351.9h0M207.4 390.7h0M224.8 385.2h0M258.4 385.5h0M235.5 369.2h0M241.0 373.6h0M260.5 383.5h0M250.3 395.0h0M247.3 365.3h0M237.2 371.2h0M268.1 345.4h0M214.0 376.9h0M190.7 346.1h0M236.5 396.5h0M211.5 352.3h0M203.5 376.2h0M236.9 382.2h0M221.7 408.6h0M263.0 373.4h0M223.2 380.8h0M201.5 406.0h0M217.0 356.0h0M219.0 359.3h0M249.0 352.7h0M197.9 390.7h0M241.5 399.9h0M256.7 367.8h0" stroke="#7078a8" stroke-width="1.5" stroke-linecap="round" opacity="0.85"/>
<path d="M240.7 356.2h0M204.2 345.8h0M261.1 345.7h0M267.2 345.5h0M241.6 403.2h0M193.4 377.1h0M219.2 399.7h0M207.7 373.9h0M213.0 404.0h0M194.1 373.9h0M237.8 352.6h0M204.1 377.7h0M259.2 365.1h0M244.0 371.9h0M220.5 363.9h0M243.2 375.9h0M219.7 371.1h0M241.4 387.2h0M223.1 404.3h0M233.3 403.9h0M212.0 405.4h0M212.6 387.0h0M206.5 367.8h0M252.2 377.2h0M225.8 370.7h0M225.0 377.8h0M243.0 395.2h0M227.1 352.4h0M250.4 389.9h0M201.2 385.9h0M202.5 388.9h0M228.5 405.7h0M232.9 406.8h0M230.4 364.7h0M268.9 374.0h0M236.5 360.0h0M269.6 379.4h0M198.5 382.2h0M198.3 361.0h0M264.1 399.4h0M198.3 391.2h0M227.9 381.4h0M256.0 407.6h0M241.9 407.4h0M190.7 369.5h0M239.4 364.4h0M235.8 399.1h0M241.6 406.5h0M216.8 381.2h0M247.0 353.9h0M231.7 399.6h0M209.5 391.9h0M232.2 397.3h0M208.0 389.6h0M206.6 361.5h0M264.1 355.8h0M248.6 347.3h0M190.3 401.8h0M237.2 363.5h0M213.9 391.3h0M191.4 357.5h0M216.8 373.4h0M235.3 360.6h0M207.2 386.2h0M216.0 395.6h0M243.1 375.6h0M241.6 400.9h0M247.0 395.0h0M251.1 352.6h0M257.8 375.2h0M216.5 405.9h0M249.0 377.8h0M213.4 366.4h0M232.8 376.5h0M191.1 397.7h0M190.9 363.2h0M233.2 380.4h0M200.1 348.8h0M214.5 385.9h0M232.0 394.1h0M212.8 406.7h0M234.4 377.9h0M208.8 357.1h0M253.8 383.8h0M190.9 348.2h0M248.3 378.5h0M230.2 352.0h0M204.7 347.2h0M223.9 391.6h0M242.7 360.9h0" stroke="#a88070" stroke-width="1.5" stroke-linecap="round" opacity="0.85"/>
<path d="M191.5 403.2h0M210.1 393.4h0M227.3 407.9h0M194.4 391.0h0M226.8 404.5h0M256.4 407.3h0M256.3 353.2h0M260.6 383.1h0M254.1 387.3h0M230.2 388.0h0M237.9 391.4h0M250.3 382.1h0M195.7 371.1h0M236.6 375.4h0M242.4 348.0h0M255.5 349.3h0M206.5 392.4h0M208.6 364.6h0M204.7 406.0h0M229.7 347.0h0M236.9 405.5h0M244.7 369.9h0M203.0 403.9h0M263.4 403.2h0M218.3 391.3h0M254.8 407.9h0M215.5 378.9h0M209.8 370.5h0M203.8 378.1h0M246.0 398.3h0M234.0 405.9h0M227.6 357.6h0M260.2 354.1h0M233.9 359.6h0M263.3 386.0h0M191.6 382.3h0M252.2 384.2h0M215.7 395.4h0M254.7 352.7h0M249.5 360.0h0M245.6 346.4h0M210.3 408.3h0M191.0 380.5h0M228.5 403.1h0M250.3 405.8h0M267.9 404.2h0M269.2 379.3h0M190.1 358.5h0M205.0 374.8h0M257.5 388.9h0M260.7 409.8h0M202.9 353.5h0M191.2 399.6h0M193.0 374.8h0M194.1 350.3h0M248.6 369.3h0M235.2 382.1h0M253.0 397.6h0M222.5 362.5h0M260.0 350.7h0M197.3 388.1h0M263.9 367.8h0M235.3 400.4h0M191.1 388.1h0M224.8 352.3h0M228.5 402.5h0M243.9 409.9h0M232.2 378.6h0M256.5 353.6h0M229.3 374.1h0M232.6 388.9h0M215.2 406.5h0M250.7 373.5h0M201.1 348.7h0M205.5 400.2h0M208.1 360.7h0M257.0 375.4h0M254.1 367.3h0M264.4 365.8h0M259.1 352.9h0M238.4 401.4h0M212.3 367.9h0M208.3 378.3h0M192.2 393.4h0M218.8 403.1h0M234.6 400.8h0M198.3 355.4h0" stroke="#7078a8" stroke-width="1" stroke-linecap="round" opacity="0.85"/>
<path d="M240.1 389.2h0M265.3 346.8h0M207.1 357.2h0M218.3 347.2h0M239.2 358.7h0M192.7 396.0h0M254.5 382.4h0M264.5 371.7h0M245.4 383.8h0M244.2 375.3h0M204.2 378.5h0M229.4 357.4h0M263.8 358.3h0M263.9 376.9h0M212.7 400.2h0M211.4 405.8h0M235.5 376.0h0M248.1 346.5h0M263.3 385.6h0M198.0 403.3h0M225.1 399.4h0M240.6 406.2h0M241.2 399.0h0M268.8 363.2h0M209.8 402.2h0M248.1 385.9h0M252.9 365.0h0M267.3 392.4h0M210.4 366.0h0M261.6 360.8h0M223.4 373.3h0M263.9 402.0h0M196.8 390.1h0M232.0 393.9h0M268.5 363.3h0M205.6 371.7h0M254.1 368.7h0M204.4 397.8h0M235.7 351.7h0M221.3 401.0h0M261.6 385.8h0M231.4 380.8h0M213.1 389.5h0M254.5 392.7h0M218.9 356.5h0M234.0 381.9h0M197.5 399.4h0M192.9 409.8h0M243.1 348.6h0M201.2 346.0h0M252.3 397.0h0M216.4 384.3h0M232.9 409.7h0M269.6 353.4h0M235.4 387.9h0M238.5 381.2h0M212.7 355.1h0M195.1 345.0h0M198.5 370.5h0M190.9 357.0h0M257.3 348.8h0M226.2 377.2h0M258.2 387.5h0M208.3 389.7h0M194.0 354.2h0M217.3 359.8h0M258.0 357.9h0M218.8 409.6h0M262.4 399.8h0M203.8 375.0h0M255.6 357.5h0M225.7 377.0h0M230.0 376.8h0M235.8 345.2h0M203.7 399.6h0M250.0 374.5h0M264.8 399.5h0M218.7 382.3h0M233.2 375.9h0M211.2 367.6h0M198.0 347.4h0M225.6 346.6h0M269.2 392.4h0M234.3 348.7h0M250.9 408.6h0M249.3 402.2h0M202.7 398.7h0M245.9 368.8h0M203.9 348.9h0M243.2 390.1h0M196.8 346.7h0M224.3 372.0h0M217.9 375.1h0M257.8 381.7h0" stroke="#7d80b0" stroke-width="1" stroke-linecap="round" opacity="0.85"/>
<path d="M256.1 373.2h0M227.2 367.1h0M267.1 409.7h0M230.6 401.6h0M217.0 364.9h0M218.3 362.9h0M248.0 364.0h0M256.8 394.0h0M226.9 361.6h0M204.2 405.1h0M269.6 382.3h0M266.6 405.4h0M269.8 355.8h0M199.9 408.4h0M263.4 394.0h0M213.1 378.3h0M267.5 364.2h0M247.1 368.3h0M257.0 346.4h0M248.7 370.5h0M225.1 371.3h0M217.5 364.3h0M232.7 380.9h0M198.3 387.0h0M219.7 403.0h0M249.5 363.2h0M238.3 407.5h0M232.9 387.7h0M265.5 361.1h0M269.2 399.5h0M207.8 348.6h0M251.2 345.1h0M241.2 372.3h0M252.8 400.7h0M252.7 372.3h0M206.9 357.2h0M214.7 349.3h0M242.2 383.5h0M200.5 392.0h0M210.1 395.4h0M237.6 362.7h0M248.1 363.1h0M238.3 361.9h0M191.0 370.3h0M216.0 368.1h0M204.0 347.9h0M221.5 359.3h0M253.5 371.3h0M194.2 397.3h0M204.3 395.5h0M215.8 375.6h0M231.5 392.7h0M246.6 366.1h0M200.0 400.4h0M208.9 394.8h0M190.7 354.5h0M254.1 397.3h0M201.6 380.0h0M217.7 380.2h0M256.5 383.8h0M203.9 363.3h0M253.8 379.7h0M194.7 377.2h0M206.2 400.9h0M254.5 394.5h0M221.3 366.0h0M214.3 379.1h0M221.7 385.9h0M245.8 345.4h0M214.0 396.3h0M219.7 353.2h0M198.1 371.0h0M195.9 407.5h0M226.5 386.5h0M225.7 352.2h0M243.9 348.5h0M215.8 364.0h0" stroke="#b8968a" stroke-width="1" stroke-linecap="round" opacity="0.85"/>
<path d="M257.3 404.0h0M215.4 363.2h0M224.2 351.5h0M241.3 388.8h0M211.1 391.4h0M205.1 364.7h0M192.8 351.6h0M202.2 399.0h0M265.1 351.0h0M262.2 383.7h0M202.1 390.0h0M219.9 345.4h0M210.8 350.6h0M233.6 387.4h0M242.9 398.0h0M233.6 388.7h0M261.8 348.0h0M244.7 400.7h0M263.0 347.3h0M242.4 370.9h0M246.4 409.1h0M191.9 375.4h0M258.0 357.9h0M266.9 354.5h0M198.7 349.2h0M203.6 361.0h0M261.5 359.0h0M254.6 373.0h0M243.7 398.3h0M255.6 365.7h0M202.1 371.6h0M249.7 359.4h0M230.5 384.1h0M231.7 356.0h0M238.9 406.0h0M203.0 408.7h0M250.7 397.5h0M212.8 385.6h0M203.8 359.8h0M260.7 376.9h0M253.9 402.0h0M259.8 404.2h0M240.1 381.6h0M245.9 382.4h0M241.8 369.3h0M248.6 356.3h0M228.7 363.0h0M223.8 374.5h0M239.2 374.3h0M208.0 355.3h0M242.9 347.1h0M222.5 357.1h0M232.7 389.2h0M191.6 380.1h0M238.7 406.1h0M208.4 370.7h0M268.2 345.3h0M228.2 353.5h0M257.7 372.6h0M249.6 363.7h0M205.3 347.0h0M218.8 371.8h0M190.1 367.7h0M190.7 402.8h0M250.5 396.7h0M259.7 381.3h0M238.0 383.9h0M207.5 370.6h0M243.6 359.5h0M212.5 358.8h0M207.1 347.8h0M207.8 392.4h0M248.2 369.1h0M241.3 368.3h0M201.0 360.2h0M203.3 400.9h0M241.1 388.2h0M216.0 348.9h0M199.8 352.0h0M206.5 372.7h0M207.8 376.0h0M237.3 402.0h0M199.5 365.7h0M236.6 376.3h0" stroke="#d8d2d4" stroke-width="1.5" stroke-linecap="round" opacity="0.85"/>
<path d="M241.8 373.1h0M241.9 374.3h0M231.7 366.2h0M216.1 385.4h0M265.8 372.3h0M254.3 365.2h0M254.4 351.8h0M242.3 349.7h0M261.8 409.7h0M244.9 386.5h0M212.8 352.6h0M196.6 391.0h0M195.7 345.0h0M223.9 357.3h0M233.8 401.3h0M229.2 347.4h0M238.6 393.7h0M235.2 379.8h0M264.5 364.9h0M229.9 353.3h0M240.7 364.2h0M213.0 402.9h0M223.7 366.6h0M209.9 381.8h0M226.1 353.3h0M244.4 389.3h0M242.2 407.2h0M212.4 346.5h0M240.4 401.3h0M202.0 407.0h0M238.4 387.2h0M251.2 375.9h0M234.8 369.8h0M221.3 361.1h0M240.4 378.6h0M264.7 401.8h0M218.3 368.8h0M261.2 358.7h0M207.0 390.5h0M222.5 378.2h0M197.5 362.8h0M200.6 385.0h0M267.5 396.8h0M229.3 366.2h0M268.8 352.6h0M197.8 351.6h0M257.5 351.3h0M190.8 356.9h0M241.9 380.3h0M257.6 397.2h0M218.2 390.2h0M258.4 350.9h0M258.1 358.8h0M255.7 396.5h0M249.7 351.1h0M268.8 408.3h0M267.3 359.4h0M196.3 391.9h0M253.8 380.1h0M248.5 387.4h0M253.0 361.3h0M231.2 357.2h0M239.5 396.0h0M248.2 389.6h0M252.9 348.9h0M198.1 409.5h0M218.9 368.9h0M249.6 386.2h0M204.0 383.8h0M238.7 394.7h0M242.5 409.2h0M200.1 353.8h0M218.7 388.6h0M218.6 380.8h0M234.9 396.4h0M237.6 362.6h0M228.0 375.1h0M261.1 408.5h0M234.6 356.7h0M255.7 374.8h0M237.1 367.0h0M190.7 352.3h0M234.9 370.1h0M255.8 356.1h0M213.0 376.9h0M257.9 388.3h0M199.0 353.0h0M228.1 396.1h0M198.2 356.9h0M244.6 363.6h0M225.2 364.9h0M260.5 382.1h0M231.4 353.0h0M212.3 374.9h0M222.4 409.5h0M233.7 356.2h0M256.0 386.5h0M254.5 397.2h0M209.6 389.6h0M260.3 404.6h0M254.2 392.9h0M269.8 397.9h0M211.8 393.7h0M199.8 371.8h0" stroke="#b8968a" stroke-width="1.5" stroke-linecap="round" opacity="0.85"/>
<path d="M254.5 404.8h0M253.8 348.2h0M224.5 372.9h0M255.3 367.1h0M208.5 353.2h0M243.5 358.4h0M253.3 361.9h0M241.4 367.3h0M261.2 351.1h0M267.2 350.2h0M227.6 402.6h0M206.9 394.0h0M254.3 406.7h0M219.5 388.0h0M262.8 370.7h0M195.2 359.5h0M262.5 408.4h0M206.7 348.1h0M191.3 382.3h0M218.3 356.6h0M255.8 374.4h0M257.5 409.2h0M247.0 382.9h0M197.7 376.3h0M239.2 355.0h0M244.7 346.0h0M254.9 366.9h0M209.0 398.2h0M204.7 381.8h0M228.3 393.2h0M263.1 374.5h0M264.9 376.0h0M242.3 359.8h0M220.9 350.8h0M232.0 403.3h0M222.2 352.8h0M233.9 399.3h0M211.3 379.8h0M249.7 364.2h0M222.7 381.3h0M203.2 375.2h0M228.1 369.6h0M228.1 364.9h0M195.7 390.0h0M210.4 400.9h0M268.5 364.0h0M261.2 375.5h0M237.6 373.8h0M204.0 387.9h0M199.1 351.6h0M251.5 348.5h0M260.9 399.4h0M201.4 346.1h0M241.4 352.8h0M261.1 369.3h0M229.1 405.9h0M216.9 387.9h0M216.8 361.0h0M242.2 357.7h0M239.8 388.3h0M192.7 352.2h0M249.1 351.0h0M263.0 388.7h0M193.0 395.7h0M255.0 369.7h0M206.8 357.2h0M253.4 371.5h0M250.1 351.9h0M266.8 347.3h0M237.3 401.5h0M241.2 386.6h0M216.3 350.4h0M255.6 381.6h0M193.9 394.2h0M204.3 354.8h0" stroke="#9a7468" stroke-width="1" stroke-linecap="round" opacity="0.85"/>
<path d="M241.1 403.4h0M206.9 409.5h0M240.3 349.7h0M210.5 396.3h0M248.2 350.6h0M198.0 396.8h0M245.0 379.2h0M232.2 376.9h0M235.8 366.9h0M214.9 357.0h0M264.4 351.5h0M201.0 348.4h0M267.7 357.5h0M240.3 378.7h0M245.6 358.4h0M227.9 364.2h0M191.8 369.6h0M193.5 406.4h0M265.5 404.9h0M252.6 347.3h0M199.9 402.9h0M260.1 356.0h0M247.0 408.5h0M232.9 390.4h0M248.5 351.9h0M193.1 376.9h0M243.6 398.5h0M229.7 355.0h0M225.3 374.3h0M258.0 359.8h0M194.7 400.3h0M194.0 392.3h0M266.1 353.5h0M240.1 361.2h0M241.3 355.6h0M235.5 349.0h0M198.6 409.6h0M212.6 353.9h0M244.4 350.1h0M222.1 353.9h0M256.1 372.7h0M217.1 400.1h0M237.0 398.2h0M214.9 392.4h0M262.7 389.1h0M216.4 363.7h0M199.9 365.0h0M236.8 373.3h0M206.2 372.5h0M249.6 387.9h0M198.6 358.4h0M255.2 398.6h0M198.4 346.7h0M202.3 382.3h0M201.1 359.8h0M260.6 389.7h0M229.1 355.5h0M253.1 350.9h0M207.1 399.3h0M217.5 359.8h0M246.9 385.5h0M260.5 394.2h0M218.5 401.6h0M225.3 359.6h0M195.5 377.0h0M198.9 373.3h0M218.2 401.1h0M212.8 348.9h0M215.6 348.9h0M256.9 397.5h0M232.4 361.9h0M244.3 365.8h0M265.4 354.8h0M192.1 351.3h0M256.3 380.9h0M251.8 363.3h0M249.6 380.8h0M266.0 347.2h0M210.2 354.5h0M250.2 368.0h0M213.5 409.4h0M262.9 361.4h0M239.3 400.0h0M221.2 392.9h0M241.4 404.2h0M225.9 388.8h0M264.8 355.8h0M234.7 400.6h0M255.4 358.2h0M249.2 406.2h0M209.8 401.8h0M219.9 401.2h0M268.7 389.5h0M268.5 377.6h0M212.3 398.4h0" stroke="#7d80b0" stroke-width="1.5" stroke-linecap="round" opacity="0.85"/>
<path d="M211.1 384.0h0M193.2 393.2h0M221.1 375.6h0M200.5 389.3h0M245.3 405.2h0M212.3 396.6h0M197.9 365.1h0M226.0 384.4h0M227.2 372.7h0M237.3 385.0h0M247.1 403.0h0M199.1 395.8h0M198.5 391.2h0M202.5 391.3h0M212.9 354.0h0M256.7 363.4h0M197.8 384.9h0M267.0 370.5h0M217.0 403.7h0M230.6 403.5h0M259.7 407.4h0M265.0 395.2h0M258.7 394.2h0M207.4 362.7h0M251.2 400.7h0M213.6 406.2h0M195.1 398.2h0M191.4 355.5h0M212.1 404.6h0M191.0 351.6h0M200.3 378.8h0M225.8 385.1h0M196.8 401.3h0M241.9 364.6h0M211.8 405.6h0M236.5 348.9h0M218.7 347.2h0M191.6 360.0h0M200.1 392.7h0M232.3 404.5h0M256.3 383.4h0M221.6 399.1h0M233.9 401.9h0M250.2 401.7h0M253.6 352.4h0M243.2 347.6h0M192.1 346.9h0M216.4 384.0h0M223.9 375.2h0M209.4 360.5h0M222.4 394.3h0M264.1 376.9h0M240.7 368.0h0M196.1 396.3h0M219.3 406.4h0M225.3 363.2h0M213.6 401.9h0M222.0 377.3h0M230.0 385.5h0M268.0 385.1h0M195.4 367.5h0M191.6 401.6h0M201.7 362.0h0M215.9 373.6h0M216.9 394.1h0M233.3 349.2h0M239.3 379.5h0M266.9 399.0h0M255.1 379.5h0M199.0 407.3h0M268.9 403.5h0M198.7 358.0h0M255.5 389.6h0M222.9 369.5h0M263.3 353.9h0M256.6 353.3h0M238.2 351.6h0M236.2 359.2h0M233.9 373.7h0M236.1 380.8h0M199.7 364.6h0M252.1 393.9h0M253.2 390.6h0M269.8 401.6h0M210.0 367.5h0M195.5 369.4h0" stroke="#c8a898" stroke-width="1" stroke-linecap="round" opacity="0.85"/>
<path d="M198.6 352.2h0M251.7 399.3h0M199.8 359.2h0M240.6 375.6h0M219.3 353.0h0M207.8 366.9h0M190.8 374.0h0M253.9 409.0h0M254.6 346.9h0M254.2 374.8h0M235.5 358.9h0M199.3 363.2h0M200.9 400.8h0M201.5 360.6h0M233.5 362.2h0M249.7 348.1h0M229.4 408.9h0M233.0 395.6h0M211.9 368.9h0M213.7 394.3h0M236.7 384.1h0M237.8 401.3h0M217.4 351.2h0M207.0 382.7h0M222.5 367.2h0M226.6 397.4h0M202.3 348.7h0M218.8 368.1h0M222.2 349.9h0M211.9 361.9h0M196.5 406.5h0M252.1 364.3h0M240.4 360.6h0M235.5 376.3h0M191.5 375.0h0M208.4 396.4h0M197.7 381.3h0M250.7 394.9h0M259.3 369.7h0M231.5 389.3h0M229.4 402.1h0M220.3 369.9h0M211.6 374.8h0M265.5 353.4h0M223.4 390.9h0M209.0 365.5h0M192.7 361.9h0M266.1 378.1h0M229.5 374.2h0M236.4 346.5h0M241.1 352.3h0M259.1 381.2h0M244.6 378.9h0M206.9 381.0h0M253.0 409.2h0M236.3 404.2h0M266.2 354.2h0M233.9 376.8h0M265.5 369.3h0M257.3 402.7h0M236.4 400.7h0M257.8 380.3h0M195.5 372.5h0M257.7 355.0h0M221.9 390.7h0M233.5 349.1h0M206.9 365.6h0M255.7 397.0h0M211.6 375.3h0M221.3 360.0h0M238.9 374.9h0M264.7 394.6h0M205.0 394.9h0M195.1 365.9h0M255.8 380.6h0M225.0 369.8h0M262.8 391.3h0M196.6 358.2h0M227.3 353.9h0M260.2 403.6h0M237.0 367.2h0M205.5 371.9h0M195.2 382.5h0M223.1 359.7h0M210.9 401.0h0M269.9 365.9h0M267.6 379.0h0M213.0 359.9h0M219.2 398.4h0M246.4 372.7h0M246.5 382.6h0M216.8 386.5h0M195.6 381.5h0M261.1 353.8h0M249.8 400.2h0M208.9 391.6h0M239.2 355.9h0M245.1 351.4h0M236.1 345.4h0M249.4 364.0h0M210.4 389.0h0M220.7 355.1h0M217.2 373.1h0" stroke="#8a8cb8" stroke-width="1.5" stroke-linecap="round" opacity="0.85"/>
<path d="M230.9 371.9h0M209.2 346.3h0M197.0 351.7h0M232.4 364.5h0M204.7 362.6h0M242.7 365.5h0M248.1 372.4h0M264.4 350.5h0M256.7 392.5h0M213.8 361.3h0M233.1 407.8h0M204.3 351.0h0M203.6 376.2h0M231.8 347.7h0M192.6 363.6h0M231.8 387.9h0M263.6 383.4h0M222.5 366.3h0M194.7 365.4h0M197.7 368.4h0M199.1 354.4h0M204.4 367.3h0M210.8 388.4h0M232.6 345.7h0M238.6 394.2h0M210.1 365.7h0M267.3 386.5h0M205.3 367.5h0M190.8 389.1h0M237.4 363.0h0M191.2 394.3h0M238.3 383.2h0M266.0 361.6h0M258.8 400.7h0M233.0 403.8h0M239.0 399.1h0M266.1 376.9h0M190.8 375.6h0M228.8 402.0h0M242.3 345.8h0M235.0 364.0h0M197.7 401.9h0M256.2 375.2h0M194.8 395.8h0M232.3 400.2h0M217.0 383.8h0M236.2 395.9h0M233.4 358.4h0M232.9 406.4h0M246.4 362.8h0M218.5 383.1h0M217.0 388.8h0M268.4 373.9h0M227.8 357.6h0M210.5 386.4h0M205.7 402.5h0M266.6 367.1h0M252.0 403.2h0M246.6 368.9h0M254.8 388.0h0M210.3 385.6h0M235.3 372.4h0M225.5 361.8h0M249.8 380.0h0M255.1 350.3h0M259.8 388.8h0M257.9 367.8h0M269.3 408.8h0M248.3 368.6h0M262.0 390.7h0M204.6 401.5h0M237.7 403.9h0M230.9 360.3h0M220.8 356.9h0M249.6 384.8h0M264.6 370.2h0M226.9 396.9h0M267.0 357.7h0M264.5 351.2h0M245.7 391.5h0M236.0 409.9h0M261.6 390.8h0M212.4 362.0h0M202.6 382.0h0M261.8 363.2h0M219.1 348.1h0M216.9 384.8h0M238.6 362.2h0M221.1 345.3h0M196.7 348.0h0M197.9 381.7h0M214.2 407.9h0M251.3 395.9h0M204.8 408.9h0M229.1 387.7h0M258.8 397.7h0" stroke="#d8d2d4" stroke-width="1" stroke-linecap="round" opacity="0.85"/>
<path d="M225.4 371.9h0M233.4 386.9h0M195.9 365.4h0M192.9 349.6h0M211.8 386.9h0M208.6 394.6h0M201.3 372.5h0M196.7 386.0h0M255.3 405.3h0M248.4 359.3h0M203.1 363.5h0M238.1 402.8h0M219.4 358.3h0M203.7 405.9h0M194.7 362.5h0M267.5 384.0h0M202.9 399.0h0M217.3 391.1h0M269.7 397.4h0M208.6 386.3h0M235.8 391.2h0M263.7 353.8h0M221.7 350.9h0M252.8 374.9h0M245.9 392.5h0M238.7 381.8h0M267.4 393.4h0M190.5 357.8h0M265.9 405.1h0M268.5 361.8h0M225.5 394.6h0M209.0 389.0h0M257.9 368.6h0M221.8 368.2h0M206.1 378.7h0M205.0 361.1h0M242.1 382.7h0M257.7 396.1h0M205.5 390.0h0M244.3 386.8h0M227.6 401.0h0M225.6 384.9h0M251.0 364.4h0M242.3 397.2h0M239.8 356.5h0M266.6 369.0h0M201.5 397.5h0M224.8 379.9h0M221.7 408.7h0M242.1 352.1h0M197.4 407.4h0M208.4 390.1h0M266.6 350.2h0M191.2 381.1h0M240.4 345.5h0M265.7 347.9h0M204.6 396.0h0M212.4 377.1h0M213.3 372.1h0M233.2 395.4h0M190.0 374.7h0M244.8 358.1h0M211.7 369.3h0M196.7 354.9h0M225.2 396.8h0M251.4 381.5h0M246.1 352.6h0M221.3 396.3h0M225.9 376.5h0M233.6 365.4h0M256.2 350.6h0M200.6 384.5h0M203.1 384.1h0" stroke="#9a7468" stroke-width="1.5" stroke-linecap="round" opacity="0.85"/>
</g>
<path d="M201,377 C200.83,374 201.67,369.83 203,367 C204.33,364.17 206.33,361.75 209,360 C211.67,358.25 215.33,357.25 219,356.5 C222.67,355.75 227,355.5 231,355.5 C235,355.5 239.33,355.75 243,356.5 C246.67,357.25 250.33,358.25 253,360 C255.67,361.75 257.75,364.17 259,367 C260.25,369.83 260.58,373.83 260.5,377 C260.42,380.17 259.75,383.58 258.5,386 C257.25,388.42 255.25,390.33 253,391.5 C250.75,392.67 247.83,392.92 245,393 C242.17,393.08 238.83,391.67 236,392 C233.17,392.33 230.83,394.83 228,395 C225.17,395.17 222,393.83 219,393 C216,392.17 212.5,391.33 210,390 C207.5,388.67 205.5,387.17 204,385 C202.5,382.83 201.17,380 201,377Z" fill="#e8e8ea" stroke="none" stroke-width="0"/>
<clipPath id="antc"><path d="M201,377 C200.83,374 201.67,369.83 203,367 C204.33,364.17 206.33,361.75 209,360 C211.67,358.25 215.33,357.25 219,356.5 C222.67,355.75 227,355.5 231,355.5 C235,355.5 239.33,355.75 243,356.5 C246.67,357.25 250.33,358.25 253,360 C255.67,361.75 257.75,364.17 259,367 C260.25,369.83 260.58,373.83 260.5,377 C260.42,380.17 259.75,383.58 258.5,386 C257.25,388.42 255.25,390.33 253,391.5 C250.75,392.67 247.83,392.92 245,393 C242.17,393.08 238.83,391.67 236,392 C233.17,392.33 230.83,394.83 228,395 C225.17,395.17 222,393.83 219,393 C216,392.17 212.5,391.33 210,390 C207.5,388.67 205.5,387.17 204,385 C202.5,382.83 201.17,380 201,377Z"/></clipPath>
<g clip-path="url(#antc)">
<path d="M217.4 372.0h0M217.5 361.4h0M240.3 372.4h0M261.8 377.4h0M210.0 365.3h0M233.2 368.4h0M248.3 355.6h0" stroke="#9a8aa0" stroke-width="0.5" stroke-linecap="round" opacity="0.6"/>
<path d="M240.2 371.8h0M206.5 360.1h0M230.1 389.9h0M240.1 376.7h0M229.6 362.3h0M213.2 375.0h0M218.8 370.3h0M256.9 386.5h0M223.1 367.0h0M231.3 370.8h0M223.4 358.0h0M219.8 380.8h0M203.0 382.2h0M250.2 383.9h0M259.0 375.1h0M200.1 385.0h0M220.9 389.8h0M240.7 373.9h0M247.4 375.0h0M248.7 366.2h0M223.4 355.5h0M216.1 376.5h0M225.5 367.1h0M219.3 358.6h0M217.8 389.8h0M229.2 360.4h0M261.3 386.3h0M217.9 365.3h0M246.6 359.8h0M248.9 355.3h0M245.0 395.5h0M236.6 375.4h0M209.2 390.3h0M206.5 385.5h0M201.0 373.2h0M257.5 388.7h0M203.5 370.8h0M246.2 391.9h0M243.5 379.8h0M227.6 358.3h0M216.2 377.5h0M259.7 364.9h0M239.4 368.3h0M221.2 374.8h0M226.7 381.3h0M208.2 388.9h0M228.8 384.0h0M228.8 364.9h0M246.5 390.3h0M209.7 383.5h0M210.5 390.8h0M253.0 392.0h0M218.7 369.8h0M239.2 380.2h0M228.3 391.8h0M225.9 380.8h0M241.2 363.0h0M224.2 356.0h0M251.3 387.3h0M242.7 369.9h0M249.8 356.1h0" stroke="#9a8aa0" stroke-width="1" stroke-linecap="round" opacity="0.6"/>
<path d="M260.3 383.3h0M217.0 389.8h0M220.2 389.4h0M222.0 375.0h0M260.4 390.5h0M252.6 367.5h0M244.8 368.1h0M205.9 357.3h0M222.6 368.9h0M230.3 361.7h0M207.4 394.5h0M207.6 361.1h0M229.0 389.1h0M203.1 395.0h0M229.2 388.8h0M247.3 369.8h0M217.1 374.3h0M253.5 383.4h0M254.0 376.2h0M232.2 391.1h0M258.0 380.5h0M260.0 393.6h0M251.5 382.2h0M220.1 366.2h0M224.6 367.5h0M210.6 355.5h0M214.9 359.4h0M200.2 368.8h0M238.6 395.0h0M259.3 369.8h0M226.1 363.6h0M202.0 371.8h0M261.6 362.7h0M206.2 375.6h0M225.6 362.7h0M203.1 383.0h0M222.2 387.9h0M240.3 385.3h0M222.9 361.8h0M249.7 375.6h0M247.8 377.3h0M225.3 355.9h0M242.4 361.0h0M241.6 360.0h0M232.5 373.1h0M243.7 362.7h0M253.4 368.4h0M251.5 367.0h0M209.1 373.4h0M246.2 355.8h0M250.6 360.7h0M211.1 387.2h0" stroke="#a898a8" stroke-width="1" stroke-linecap="round" opacity="0.6"/>
<path d="M210.9 384.2h0M246.0 373.1h0M230.5 370.6h0M234.4 383.9h0M250.6 395.0h0M239.7 358.5h0M218.1 383.0h0M238.5 360.2h0M202.3 357.1h0M241.4 392.9h0M251.5 384.0h0M239.1 376.8h0M249.8 391.8h0M250.8 387.0h0M239.0 385.7h0M237.9 363.7h0M247.1 393.9h0M245.6 373.6h0M248.2 374.2h0M226.6 392.8h0M206.4 363.3h0M231.2 374.7h0" stroke="#a898a8" stroke-width="1.5" stroke-linecap="round" opacity="0.6"/>
<path d="M212.8 358.6h0M234.7 395.5h0M257.0 371.0h0M217.7 376.3h0M214.0 368.1h0M208.7 384.3h0M208.7 385.3h0M235.1 379.5h0M216.6 382.0h0M241.2 358.0h0M218.0 369.8h0M218.0 362.2h0M225.3 386.5h0M224.3 368.5h0M213.1 389.7h0M250.4 388.3h0M209.8 362.7h0M222.9 370.9h0M255.2 367.1h0M248.0 391.9h0M231.5 361.2h0M219.5 375.7h0M256.1 363.1h0M206.6 389.0h0M226.0 382.9h0M220.1 379.3h0M201.8 385.7h0M215.7 385.2h0M235.7 356.3h0M223.9 387.4h0M223.5 371.7h0M231.0 365.7h0M222.0 379.5h0M208.3 371.9h0M201.7 367.3h0M258.5 369.4h0M200.1 357.7h0M225.0 378.1h0M209.8 372.7h0M258.5 382.7h0M232.8 355.4h0M205.1 368.8h0M229.6 361.1h0M239.5 383.8h0M206.3 376.3h0M218.6 367.8h0M247.8 368.2h0M210.2 390.8h0M235.5 390.3h0M253.3 391.5h0M236.1 361.7h0M260.2 387.9h0M233.7 379.0h0M231.2 394.7h0M208.8 367.0h0M203.3 389.5h0M204.9 356.4h0M255.4 379.6h0M231.8 365.2h0M251.0 384.5h0M226.7 369.4h0M249.6 371.2h0M234.7 370.2h0M214.1 369.0h0M252.8 387.0h0M215.2 394.3h0M202.6 382.2h0M203.7 387.6h0M237.3 372.4h0M260.6 371.7h0M234.3 387.7h0M217.1 382.2h0M204.1 375.2h0M200.6 361.9h0M239.6 390.2h0M251.7 367.3h0" stroke="#8a86b0" stroke-width="1" stroke-linecap="round" opacity="0.6"/>
<path d="M237.2 379.3h0M200.1 392.0h0M223.0 359.8h0M243.9 381.1h0M257.4 365.7h0M260.6 376.6h0" stroke="#a898a8" stroke-width="0.5" stroke-linecap="round" opacity="0.6"/>
<path d="M249.4 385.0h0M237.4 394.0h0M236.1 393.4h0M236.7 371.1h0M258.6 376.9h0M234.9 358.3h0M207.8 375.4h0M205.9 357.4h0M217.4 382.2h0M249.8 389.9h0M236.4 367.9h0M251.9 367.2h0M250.0 357.5h0M226.1 390.2h0M242.3 390.8h0M235.1 370.6h0M203.5 366.0h0M220.4 393.4h0M207.0 383.6h0M251.0 367.2h0M206.8 381.2h0" stroke="#9a8aa0" stroke-width="1.5" stroke-linecap="round" opacity="0.6"/>
<path d="M211.9 380.2h0M226.3 376.4h0M230.6 359.6h0M250.0 377.6h0M260.5 373.4h0M254.6 387.8h0M252.8 378.0h0M233.8 373.8h0M242.2 378.6h0M247.6 389.6h0M224.2 355.4h0" stroke="#8a86b0" stroke-width="1.5" stroke-linecap="round" opacity="0.6"/>
<path d="M245.7 374.6h0M248.3 391.3h0M246.5 361.1h0M226.6 373.2h0" stroke="#8a86b0" stroke-width="0.5" stroke-linecap="round" opacity="0.6"/>
</g>
<path d="M201,377 C200.83,374 201.67,369.83 203,367 C204.33,364.17 206.33,361.75 209,360 C211.67,358.25 215.33,357.25 219,356.5 C222.67,355.75 227,355.5 231,355.5 C235,355.5 239.33,355.75 243,356.5 C246.67,357.25 250.33,358.25 253,360 C255.67,361.75 257.75,364.17 259,367 C260.25,369.83 260.58,373.83 260.5,377 C260.42,380.17 259.75,383.58 258.5,386 C257.25,388.42 255.25,390.33 253,391.5 C250.75,392.67 247.83,392.92 245,393 C242.17,393.08 238.83,391.67 236,392 C233.17,392.33 230.83,394.83 228,395 C225.17,395.17 222,393.83 219,393 C216,392.17 212.5,391.33 210,390 C207.5,388.67 205.5,387.17 204,385 C202.5,382.83 201.17,380 201,377Z" fill="none" stroke="#a89aa8" stroke-width="2.5" opacity="0.6"/>
<path d="M212,370 C213,367.33 213.67,364.58 216,363 C218.33,361.42 222.5,360.75 226,360.5 C229.5,360.25 233.83,360.25 237,361.5 C240.17,362.75 243.25,365.25 245,368 C246.75,370.75 247.33,374.5 247.5,378 C247.67,381.5 247.08,386 246,389 C244.92,392 243.83,394.33 241,396 C238.17,397.67 233,399 229,399 C225,399 220,397.83 217,396 C214,394.17 212.17,390.83 211,388 C209.83,385.17 209.83,382 210,379 C210.17,376 211,372.67 212,370Z" fill="#d2d5e6" stroke="none" stroke-width="0"/>
<clipPath id="cm2"><path d="M212,370 C213,367.33 213.67,364.58 216,363 C218.33,361.42 222.5,360.75 226,360.5 C229.5,360.25 233.83,360.25 237,361.5 C240.17,362.75 243.25,365.25 245,368 C246.75,370.75 247.33,374.5 247.5,378 C247.67,381.5 247.08,386 246,389 C244.92,392 243.83,394.33 241,396 C238.17,397.67 233,399 229,399 C225,399 220,397.83 217,396 C214,394.17 212.17,390.83 211,388 C209.83,385.17 209.83,382 210,379 C210.17,376 211,372.67 212,370Z"/></clipPath>
<g clip-path="url(#cm2)">
<path d="M241.3 395.2h0M237.3 385.8h0M214.4 379.8h0M244.9 368.2h0M205.4 372.1h0M239.5 401.6h0M217.2 364.5h0M235.9 383.0h0M240.8 374.7h0M227.9 400.0h0M224.0 361.0h0M243.4 392.4h0M227.8 363.2h0M223.2 358.8h0M247.3 384.4h0M208.4 367.2h0M214.3 399.3h0M241.6 392.2h0M246.1 397.9h0M208.7 362.8h0M238.7 372.5h0M224.3 396.0h0M246.6 387.3h0M229.6 383.6h0M217.0 395.2h0M242.4 375.4h0M209.5 400.5h0M241.2 392.4h0M235.5 361.4h0M227.9 358.7h0M231.0 382.4h0M216.5 383.3h0M206.7 393.0h0M206.1 389.9h0M233.9 369.7h0M216.4 380.5h0M218.7 398.7h0M241.9 388.6h0M218.3 386.6h0M210.5 389.0h0M214.8 379.4h0M212.3 379.3h0M241.9 391.3h0M236.1 394.3h0M233.1 362.0h0" stroke="#6a75b0" stroke-width="1" stroke-linecap="round" opacity="0.85"/>
<path d="M217.6 362.8h0M224.4 397.3h0M213.2 368.8h0M230.0 371.5h0M210.3 385.5h0M205.8 377.0h0M233.5 384.5h0M245.6 363.2h0M238.8 363.1h0M227.2 381.6h0M248.4 399.3h0M238.0 375.1h0M236.3 361.9h0M247.6 389.3h0M249.1 372.7h0M234.7 389.7h0M213.8 365.5h0M243.4 394.6h0M233.2 394.0h0M205.1 396.8h0M231.2 375.4h0M240.3 401.6h0M244.9 399.7h0M214.3 391.4h0M244.7 379.5h0M237.9 369.0h0M232.1 370.8h0M213.2 368.5h0M223.9 401.2h0M246.8 370.1h0M213.2 386.1h0M231.9 362.7h0M221.2 371.7h0M231.1 368.3h0M240.3 397.6h0M232.9 378.3h0M213.4 391.0h0M208.3 385.4h0M231.5 395.8h0M235.9 376.0h0M212.9 380.6h0M227.4 399.7h0" stroke="#5f6aa8" stroke-width="1" stroke-linecap="round" opacity="0.85"/>
<path d="M231.3 372.8h0M247.8 359.3h0M216.6 384.3h0M206.0 380.5h0M216.3 367.5h0M246.2 395.7h0M205.9 395.0h0M209.4 362.1h0M249.8 369.9h0M225.8 366.8h0M212.4 393.5h0M221.8 364.3h0M239.3 359.5h0M209.5 396.2h0M231.2 398.2h0M232.7 385.1h0M232.3 364.3h0M242.7 380.7h0M228.9 363.4h0M247.4 388.6h0M238.1 383.6h0M237.9 371.3h0M219.0 383.5h0M214.5 378.2h0M207.0 385.9h0M238.1 398.0h0M216.3 396.3h0M218.8 392.2h0M217.5 359.7h0M208.1 376.7h0M232.9 393.0h0M220.2 401.5h0M206.5 383.4h0M236.1 387.6h0M226.9 378.7h0M217.4 375.8h0M243.5 390.1h0M209.7 389.8h0" stroke="#e8e8ee" stroke-width="1" stroke-linecap="round" opacity="0.85"/>
<path d="M238.1 361.3h0M223.9 401.1h0M244.8 370.3h0M207.2 381.0h0M209.8 401.4h0M220.2 379.8h0M214.3 371.2h0M230.4 387.1h0M222.5 373.2h0M241.5 385.2h0M241.8 362.2h0M221.6 359.8h0M215.8 368.4h0M245.1 373.6h0M231.1 371.4h0M241.7 378.7h0M211.5 361.2h0M208.2 377.4h0M218.6 388.6h0M248.3 391.1h0M230.0 371.9h0M245.1 386.4h0M211.0 386.9h0M214.8 384.5h0M218.8 401.7h0M216.0 370.6h0M234.8 379.0h0M206.8 382.0h0M208.2 390.2h0M222.5 398.6h0M240.9 383.3h0M236.7 369.0h0M244.1 375.4h0M213.0 388.5h0M224.2 394.5h0M213.9 394.4h0M223.8 366.6h0M222.1 393.4h0M242.0 372.4h0" stroke="#7f8abf" stroke-width="1" stroke-linecap="round" opacity="0.85"/>
<path d="M244.1 399.4h0M231.6 376.8h0M240.8 382.5h0M216.9 391.4h0M210.6 373.3h0M208.7 368.9h0M206.2 385.2h0M226.5 390.8h0M222.6 375.7h0M212.3 399.4h0M210.8 379.4h0M247.5 361.6h0M206.4 398.5h0M242.9 372.2h0M206.9 393.0h0M210.4 372.9h0M217.1 400.0h0M224.9 359.5h0M224.5 394.1h0M209.2 376.2h0M239.7 373.4h0M211.8 394.3h0M234.6 369.5h0M215.8 373.1h0M237.8 399.4h0M246.4 361.5h0M218.1 364.5h0M231.6 388.1h0M249.9 387.0h0M224.6 384.4h0M218.3 386.0h0M211.0 368.7h0M243.6 366.5h0M233.4 378.3h0M223.3 360.9h0M222.4 390.1h0M212.7 398.8h0M211.1 367.5h0M219.7 394.9h0M214.5 379.3h0M236.0 391.2h0" stroke="#e8e8ee" stroke-width="1.5" stroke-linecap="round" opacity="0.85"/>
<path d="M249.5 363.9h0M237.0 384.4h0M211.1 400.4h0M227.4 382.2h0M229.2 364.0h0M223.5 395.7h0M206.3 368.3h0M206.8 373.5h0M237.1 371.5h0M205.2 377.7h0M237.2 388.0h0M224.4 382.4h0M207.6 394.4h0M206.2 373.4h0M237.7 394.0h0M205.8 399.2h0M236.3 397.6h0M243.9 358.7h0M210.8 369.1h0M244.8 369.4h0M220.5 362.0h0M211.6 393.0h0M244.4 381.7h0M217.6 386.2h0M246.6 369.6h0M238.9 362.2h0M227.9 382.2h0M218.9 376.8h0M214.4 393.9h0M238.5 397.0h0M225.3 363.0h0M244.6 396.9h0M232.8 387.5h0M228.2 358.1h0M248.9 380.1h0M230.2 359.1h0M231.9 393.7h0" stroke="#8890c0" stroke-width="1" stroke-linecap="round" opacity="0.85"/>
<path d="M223.7 382.9h0M213.1 377.6h0M234.9 369.2h0M208.8 366.8h0M248.3 391.1h0M243.4 364.8h0M239.2 374.1h0M213.8 358.5h0M212.4 370.8h0M237.5 387.0h0M233.5 368.3h0M233.5 385.7h0M242.1 362.3h0M238.0 393.2h0M235.5 367.0h0M234.9 398.3h0M247.4 361.4h0M240.2 376.6h0M238.8 364.8h0M207.8 392.6h0M206.2 364.9h0M205.4 381.6h0M228.4 392.6h0M230.0 378.0h0M242.3 379.4h0M236.6 389.7h0M221.6 394.4h0M213.9 400.9h0M213.5 399.6h0M233.5 390.1h0M237.0 398.0h0M224.5 386.3h0M246.9 373.9h0M240.6 368.9h0" stroke="#5f6aa8" stroke-width="1.5" stroke-linecap="round" opacity="0.85"/>
<path d="M246.0 394.3h0M232.7 374.7h0M211.9 359.9h0M238.5 378.2h0M221.4 362.3h0M244.4 368.8h0M229.3 359.1h0M208.9 391.6h0M243.9 371.7h0M224.0 369.2h0M242.4 362.3h0M217.7 363.2h0M229.8 393.5h0M247.8 363.7h0M243.3 394.8h0M211.3 391.9h0M206.1 363.6h0M222.6 379.1h0M238.6 375.3h0M221.6 362.8h0M234.3 392.8h0M214.3 393.2h0M232.9 390.5h0M218.3 378.3h0M213.4 373.1h0M216.1 400.7h0M216.3 395.9h0M214.4 359.5h0M221.3 360.1h0M220.8 397.7h0M221.3 388.5h0M234.4 360.0h0M210.1 399.5h0" stroke="#7f8abf" stroke-width="1.5" stroke-linecap="round" opacity="0.85"/>
<path d="M229.8 365.8h0M245.3 373.3h0M221.3 389.7h0M215.9 361.3h0M230.6 368.1h0M217.1 361.2h0M223.1 392.2h0M212.5 380.9h0M236.9 370.6h0M209.3 385.2h0M205.6 362.3h0M236.6 373.8h0M214.6 367.0h0M207.6 396.5h0M232.6 389.0h0M215.0 371.1h0M216.2 367.6h0M238.8 384.2h0M209.4 383.9h0M215.6 367.3h0M209.1 383.2h0M209.3 363.0h0M227.5 364.6h0M232.0 370.9h0M208.4 400.9h0M225.7 365.8h0M213.9 379.2h0M225.4 365.7h0M220.0 367.3h0M228.1 385.2h0M226.8 401.1h0M205.7 361.0h0" stroke="#8890c0" stroke-width="1.5" stroke-linecap="round" opacity="0.85"/>
<path d="M206.4 398.4h0M244.9 368.9h0M224.9 388.8h0M226.0 360.6h0M218.2 374.2h0M210.9 392.6h0M225.8 372.0h0M213.0 373.5h0M227.9 381.0h0M221.9 392.7h0M229.8 392.4h0M243.3 381.7h0M211.4 384.2h0M245.8 384.8h0M222.3 383.2h0M226.4 394.9h0M216.2 396.0h0M249.1 365.2h0M216.6 392.1h0M230.3 379.1h0M233.8 391.9h0M224.7 362.4h0M243.6 361.2h0M235.9 386.4h0M240.2 388.8h0M227.0 382.8h0M240.8 361.6h0M244.6 366.1h0M239.2 398.1h0M212.9 384.0h0M208.8 368.4h0M234.6 390.8h0M214.6 375.1h0M207.2 381.4h0M242.2 372.7h0M235.1 393.5h0M219.1 361.9h0M246.7 372.6h0M238.8 382.6h0" stroke="#6a75b0" stroke-width="1.5" stroke-linecap="round" opacity="0.85"/>
</g>
<circle cx="228.3" cy="377.6" r="8" fill="#d6ccd0"/>
<circle cx="228.3" cy="377.6" r="7.2" fill="#e9e1df"/>
</g>
<ellipse cx="230" cy="377.4" rx="39.1" ry="32.2" fill="none" stroke="#e8262b" stroke-width="1.15" stroke-dasharray="1.0 1.25"/>
<clipPath id="ihc2b"><rect x="159" y="333" width="112.8" height="77.4"/></clipPath>
<ellipse cx="160" cy="352" rx="25" ry="25" fill="none" stroke="#e8262b" stroke-width="1.15" stroke-dasharray="1.0 1.25" clip-path="url(#ihc2b)"/>
<rect x="159" y="333" width="112.8" height="77.4" fill="none" stroke="#3a3a3a" stroke-width="0.9"/>
<rect x="163.8" y="405.4" width="26.2" height="1.7" fill="#2a2a2a" stroke="none" stroke-width="0"/>
<text x="165.5" y="401.1" font-size="7.8" text-anchor="start" fill="#1a1a1a" stroke="#1a1a1a" stroke-width="0.18">100μm</text>
<text x="322.2" y="249.4" font-size="15" text-anchor="start" font-weight="bold" fill="#111">d</text>
<line x1="391.3" y1="283.38" x2="391.3" y2="402.7" stroke="#222" stroke-width="0.9"/>
<line x1="385.3" y1="402.7" x2="625.9" y2="402.7" stroke="#333" stroke-width="1"/>
<line x1="385.8" y1="402.7" x2="391.3" y2="402.7" stroke="#222" stroke-width="0.9"/>
<text x="383.5" y="405.45" font-size="7.7" text-anchor="end" fill="#161616" stroke="#161616" stroke-width="0.18">0</text>
<line x1="385.8" y1="372.87" x2="391.3" y2="372.87" stroke="#222" stroke-width="0.9"/>
<text x="383.5" y="375.62" font-size="7.7" text-anchor="end" fill="#161616" stroke="#161616" stroke-width="0.18">100</text>
<line x1="385.8" y1="343.04" x2="391.3" y2="343.04" stroke="#222" stroke-width="0.9"/>
<text x="383.5" y="345.79" font-size="7.7" text-anchor="end" fill="#161616" stroke="#161616" stroke-width="0.18">200</text>
<line x1="385.8" y1="313.21" x2="391.3" y2="313.21" stroke="#222" stroke-width="0.9"/>
<text x="383.5" y="315.96" font-size="7.7" text-anchor="end" fill="#161616" stroke="#161616" stroke-width="0.18">300</text>
<line x1="385.8" y1="283.38" x2="391.3" y2="283.38" stroke="#222" stroke-width="0.9"/>
<text x="383.5" y="286.13" font-size="7.7" text-anchor="end" fill="#161616" stroke="#161616" stroke-width="0.18">400</text>
<line x1="412.5" y1="402.7" x2="412.5" y2="408.4" stroke="#222" stroke-width="0.9"/>
<text x="412.5" y="418.5" font-size="7.7" text-anchor="middle" fill="#161616" stroke="#161616" stroke-width="0.18">PrF</text>
<line x1="460.4" y1="402.7" x2="460.4" y2="408.4" stroke="#222" stroke-width="0.9"/>
<text x="460.4" y="418.5" font-size="7.7" text-anchor="middle" fill="#161616" stroke="#161616" stroke-width="0.18">PF</text>
<line x1="508.6" y1="402.7" x2="508.6" y2="408.4" stroke="#222" stroke-width="0.9"/>
<text x="508.6" y="418.5" font-size="7.7" text-anchor="middle" fill="#161616" stroke="#161616" stroke-width="0.18">SF</text>
<line x1="557" y1="402.7" x2="557" y2="408.4" stroke="#222" stroke-width="0.9"/>
<text x="557" y="418.5" font-size="7.7" text-anchor="middle" fill="#161616" stroke="#161616" stroke-width="0.18">AF</text>
<line x1="605.2" y1="402.7" x2="605.2" y2="408.4" stroke="#222" stroke-width="0.9"/>
<text x="605.2" y="418.5" font-size="7.7" text-anchor="middle" fill="#161616" stroke="#161616" stroke-width="0.18">CL</text>
<text x="356.5" y="342.7" font-size="8.86" text-anchor="middle" fill="#161616" stroke="#161616" stroke-width="0.18" transform="rotate(-90 356.5 342.7)" xml:space="preserve">Number of  follicles per ovary</text>
<circle cx="621.9" cy="295.2" r="2.1" fill="#3a3a3a"/>
<circle cx="621.9" cy="311.4" r="2.1" fill="#f58c34"/>
<text x="636" y="297.8" font-size="8.9" text-anchor="start" fill="#161616" stroke="#161616" stroke-width="0.18">AAV-Control</text>
<text x="636" y="313.6" font-size="8.9" text-anchor="start" fill="#161616" stroke="#161616" stroke-width="0.18">AAV-Slc1a5</text>
<circle cx="403.4" cy="367.6" r="2.35" fill="#111"/>
<circle cx="399.7" cy="380.6" r="2.35" fill="#111"/>
<circle cx="407.3" cy="379.4" r="2.35" fill="#111"/>
<circle cx="407.7" cy="387.9" r="2.35" fill="#111"/>
<circle cx="399.7" cy="392.6" r="2.35" fill="#111"/>
<line x1="397.2" y1="381.8" x2="408.2" y2="381.8" stroke="#111" stroke-width="1"/>
<line x1="402.7" y1="377.6" x2="402.7" y2="386.7" stroke="#111" stroke-width="1"/>
<line x1="399.5" y1="377.6" x2="405.9" y2="377.6" stroke="#111" stroke-width="1"/>
<line x1="399.5" y1="386.7" x2="405.9" y2="386.7" stroke="#111" stroke-width="1"/>
<circle cx="421.3" cy="354.3" r="2.35" fill="#f58c34"/>
<circle cx="417" cy="370" r="2.35" fill="#f58c34"/>
<circle cx="421" cy="370.5" r="2.35" fill="#f58c34"/>
<circle cx="425" cy="370" r="2.35" fill="#f58c34"/>
<circle cx="421" cy="378.7" r="2.35" fill="#f58c34"/>
<line x1="415.5" y1="369.9" x2="426.5" y2="369.9" stroke="#f58c34" stroke-width="1"/>
<line x1="421" y1="365.3" x2="421" y2="374.5" stroke="#f58c34" stroke-width="1"/>
<line x1="417.8" y1="365.3" x2="424.2" y2="365.3" stroke="#f58c34" stroke-width="1"/>
<line x1="417.8" y1="374.5" x2="424.2" y2="374.5" stroke="#f58c34" stroke-width="1"/>
<polyline points="402.7,357.9 402.7,336.6 421,336.6 421,343.6" stroke="#1a1a1a" stroke-width="1" fill="none"/>
<text x="411.8" y="332.3" font-size="7.8" text-anchor="middle" fill="#161616" stroke="#161616" stroke-width="0.18">0.0589</text>
<circle cx="451.7" cy="342.7" r="2.35" fill="#111"/>
<circle cx="447.2" cy="348.4" r="2.35" fill="#111"/>
<circle cx="455.8" cy="349" r="2.35" fill="#111"/>
<circle cx="451.7" cy="370.3" r="2.35" fill="#111"/>
<line x1="446.2" y1="352" x2="457.2" y2="352" stroke="#111" stroke-width="1"/>
<line x1="451.7" y1="348" x2="451.7" y2="356.6" stroke="#111" stroke-width="1"/>
<line x1="448.5" y1="348" x2="454.9" y2="348" stroke="#111" stroke-width="1"/>
<line x1="448.5" y1="356.6" x2="454.9" y2="356.6" stroke="#111" stroke-width="1"/>
<circle cx="469.5" cy="305.8" r="2.35" fill="#f58c34"/>
<circle cx="469.5" cy="313" r="2.35" fill="#f58c34"/>
<circle cx="466.6" cy="339.5" r="2.35" fill="#f58c34"/>
<circle cx="472.9" cy="341" r="2.35" fill="#f58c34"/>
<circle cx="469.5" cy="348.4" r="2.35" fill="#f58c34"/>
<line x1="464" y1="329.7" x2="475" y2="329.7" stroke="#f58c34" stroke-width="1"/>
<line x1="469.5" y1="321.3" x2="469.5" y2="337.2" stroke="#f58c34" stroke-width="1"/>
<line x1="466.3" y1="321.3" x2="472.7" y2="321.3" stroke="#f58c34" stroke-width="1"/>
<line x1="466.3" y1="337.2" x2="472.7" y2="337.2" stroke="#f58c34" stroke-width="1"/>
<polyline points="451.7,318 451.7,289.9 469.5,289.9 469.5,296.4" stroke="#1a1a1a" stroke-width="1" fill="none"/>
<text x="460.2" y="285.6" font-size="7.8" text-anchor="middle" fill="#161616" stroke="#161616" stroke-width="0.18">0.0466</text>
<circle cx="496" cy="377.6" r="2.35" fill="#111"/>
<circle cx="502.8" cy="381" r="2.35" fill="#111"/>
<circle cx="496" cy="383.5" r="2.35" fill="#111"/>
<circle cx="502.8" cy="385.7" r="2.35" fill="#111"/>
<circle cx="496" cy="389" r="2.35" fill="#111"/>
<line x1="493.9" y1="382.7" x2="504.9" y2="382.7" stroke="#111" stroke-width="1"/>
<line x1="499.4" y1="380.3" x2="499.4" y2="385.2" stroke="#111" stroke-width="1"/>
<line x1="496.2" y1="380.3" x2="502.6" y2="380.3" stroke="#111" stroke-width="1"/>
<line x1="496.2" y1="385.2" x2="502.6" y2="385.2" stroke="#111" stroke-width="1"/>
<circle cx="517.6" cy="355.9" r="2.35" fill="#f58c34"/>
<circle cx="514" cy="368.5" r="2.35" fill="#f58c34"/>
<circle cx="521.2" cy="368.5" r="2.35" fill="#f58c34"/>
<circle cx="514.8" cy="373" r="2.35" fill="#f58c34"/>
<circle cx="518" cy="370" r="2.35" fill="#f58c34"/>
<line x1="511.7" y1="367.2" x2="522.7" y2="367.2" stroke="#f58c34" stroke-width="1"/>
<line x1="517.2" y1="364" x2="517.2" y2="370.5" stroke="#f58c34" stroke-width="1"/>
<line x1="514" y1="364" x2="520.4" y2="364" stroke="#f58c34" stroke-width="1"/>
<line x1="514" y1="370.5" x2="520.4" y2="370.5" stroke="#f58c34" stroke-width="1"/>
<polyline points="499.4,363.6 499.4,336.6 517.2,336.6 517.2,343.1" stroke="#1a1a1a" stroke-width="1" fill="none"/>
<text x="506.9" y="331.8" font-size="7.8" text-anchor="middle" fill="#161616" stroke="#161616" stroke-width="0.18">0.0026</text>
<circle cx="544.3" cy="376.4" r="2.35" fill="#111"/>
<circle cx="551.8" cy="377.6" r="2.35" fill="#111"/>
<circle cx="548" cy="380.3" r="2.35" fill="#111"/>
<circle cx="544.3" cy="385.6" r="2.35" fill="#111"/>
<circle cx="551.8" cy="383.3" r="2.35" fill="#111"/>
<line x1="542.4" y1="380.6" x2="553.4" y2="380.6" stroke="#111" stroke-width="1"/>
<line x1="547.9" y1="378.3" x2="547.9" y2="383" stroke="#111" stroke-width="1"/>
<line x1="544.7" y1="378.3" x2="551.1" y2="378.3" stroke="#111" stroke-width="1"/>
<line x1="544.7" y1="383" x2="551.1" y2="383" stroke="#111" stroke-width="1"/>
<circle cx="562.5" cy="396.5" r="2.35" fill="#f58c34"/>
<circle cx="566" cy="395.5" r="2.35" fill="#f58c34"/>
<circle cx="569.5" cy="397" r="2.35" fill="#f58c34"/>
<circle cx="564" cy="398.5" r="2.35" fill="#f58c34"/>
<circle cx="568" cy="398.8" r="2.35" fill="#f58c34"/>
<line x1="560.7" y1="397.2" x2="571.7" y2="397.2" stroke="#f58c34" stroke-width="1"/>
<line x1="566.2" y1="396.3" x2="566.2" y2="398.1" stroke="#f58c34" stroke-width="1"/>
<line x1="563" y1="396.3" x2="569.4" y2="396.3" stroke="#f58c34" stroke-width="1"/>
<line x1="563" y1="398.1" x2="569.4" y2="398.1" stroke="#f58c34" stroke-width="1"/>
<polyline points="547.9,367 547.9,354.8 566.2,354.8 566.2,388.7" stroke="#1a1a1a" stroke-width="1" fill="none"/>
<text x="555.7" y="350.5" font-size="7.8" text-anchor="middle" fill="#161616" stroke="#161616" stroke-width="0.18">&lt;0.0001</text>
<circle cx="592.8" cy="398.3" r="2.35" fill="#111"/>
<circle cx="596.3" cy="397.5" r="2.35" fill="#111"/>
<circle cx="599.6" cy="398.5" r="2.35" fill="#111"/>
<circle cx="594.5" cy="400.2" r="2.35" fill="#111"/>
<circle cx="598.5" cy="400.3" r="2.35" fill="#111"/>
<line x1="590.8" y1="398.6" x2="601.8" y2="398.6" stroke="#111" stroke-width="1"/>
<line x1="596.3" y1="397.8" x2="596.3" y2="399.4" stroke="#111" stroke-width="1"/>
<line x1="593.1" y1="397.8" x2="599.5" y2="397.8" stroke="#111" stroke-width="1"/>
<line x1="593.1" y1="399.4" x2="599.5" y2="399.4" stroke="#111" stroke-width="1"/>
<circle cx="611" cy="399.6" r="2.35" fill="#f58c34"/>
<circle cx="614.5" cy="399.1" r="2.35" fill="#f58c34"/>
<circle cx="618" cy="399.7" r="2.35" fill="#f58c34"/>
<circle cx="612.8" cy="400.6" r="2.35" fill="#f58c34"/>
<circle cx="616.3" cy="400.7" r="2.35" fill="#f58c34"/>
<line x1="609" y1="399.8" x2="620" y2="399.8" stroke="#f58c34" stroke-width="1"/>
<line x1="614.5" y1="399.3" x2="614.5" y2="400.3" stroke="#f58c34" stroke-width="1"/>
<line x1="611.3" y1="399.3" x2="617.7" y2="399.3" stroke="#f58c34" stroke-width="1"/>
<line x1="611.3" y1="400.3" x2="617.7" y2="400.3" stroke="#f58c34" stroke-width="1"/>
<polyline points="596.3,387.9 596.3,379.2 614.5,379.2 614.5,389.9" stroke="#1a1a1a" stroke-width="1" fill="none"/>
<text x="605.4" y="373.3" font-size="7.8" text-anchor="middle" fill="#161616" stroke="#161616" stroke-width="0.18">0.3175</text>
<circle cx="406.3" cy="252.9" r="6.4" fill="#a45a76"/>
<circle cx="406.3" cy="252.9" r="4.4" fill="#f3e9e6"/>
<circle cx="406.3" cy="252.9" r="1.7" fill="#a58ad0"/>
<circle cx="457.4" cy="252.9" r="8.2" fill="#d4a4b8"/>
<circle cx="464.7" cy="252.9" r="2.1" fill="#b86e8c" stroke="#94476a" stroke-width="0.45"/>
<circle cx="463.72" cy="256.55" r="2.1" fill="#b86e8c" stroke="#94476a" stroke-width="0.45"/>
<circle cx="461.05" cy="259.22" r="2.1" fill="#b86e8c" stroke="#94476a" stroke-width="0.45"/>
<circle cx="457.4" cy="260.2" r="2.1" fill="#b86e8c" stroke="#94476a" stroke-width="0.45"/>
<circle cx="453.75" cy="259.22" r="2.1" fill="#b86e8c" stroke="#94476a" stroke-width="0.45"/>
<circle cx="451.08" cy="256.55" r="2.1" fill="#b86e8c" stroke="#94476a" stroke-width="0.45"/>
<circle cx="450.1" cy="252.9" r="2.1" fill="#b86e8c" stroke="#94476a" stroke-width="0.45"/>
<circle cx="451.08" cy="249.25" r="2.1" fill="#b86e8c" stroke="#94476a" stroke-width="0.45"/>
<circle cx="453.75" cy="246.58" r="2.1" fill="#b86e8c" stroke="#94476a" stroke-width="0.45"/>
<circle cx="457.4" cy="245.6" r="2.1" fill="#b86e8c" stroke="#94476a" stroke-width="0.45"/>
<circle cx="461.05" cy="246.58" r="2.1" fill="#b86e8c" stroke="#94476a" stroke-width="0.45"/>
<circle cx="463.72" cy="249.25" r="2.1" fill="#b86e8c" stroke="#94476a" stroke-width="0.45"/>
<circle cx="457.4" cy="252.9" r="3.8" fill="#f3e9e6"/>
<circle cx="457.4" cy="252.9" r="1.5" fill="#a58ad0"/>
<circle cx="506.1" cy="253.5" r="11.2" fill="#d4a4b8"/>
<circle cx="516.5" cy="253.5" r="2.15" fill="#b86e8c" stroke="#94476a" stroke-width="0.45"/>
<circle cx="515.8" cy="257.26" r="2.15" fill="#b86e8c" stroke="#94476a" stroke-width="0.45"/>
<circle cx="513.79" cy="260.51" r="2.15" fill="#b86e8c" stroke="#94476a" stroke-width="0.45"/>
<circle cx="510.74" cy="262.81" r="2.15" fill="#b86e8c" stroke="#94476a" stroke-width="0.45"/>
<circle cx="507.06" cy="263.86" r="2.15" fill="#b86e8c" stroke="#94476a" stroke-width="0.45"/>
<circle cx="503.25" cy="263.5" r="2.15" fill="#b86e8c" stroke="#94476a" stroke-width="0.45"/>
<circle cx="499.83" cy="261.8" r="2.15" fill="#b86e8c" stroke="#94476a" stroke-width="0.45"/>
<circle cx="497.26" cy="258.97" r="2.15" fill="#b86e8c" stroke="#94476a" stroke-width="0.45"/>
<circle cx="495.88" cy="255.41" r="2.15" fill="#b86e8c" stroke="#94476a" stroke-width="0.45"/>
<circle cx="495.88" cy="251.59" r="2.15" fill="#b86e8c" stroke="#94476a" stroke-width="0.45"/>
<circle cx="497.26" cy="248.03" r="2.15" fill="#b86e8c" stroke="#94476a" stroke-width="0.45"/>
<circle cx="499.83" cy="245.2" r="2.15" fill="#b86e8c" stroke="#94476a" stroke-width="0.45"/>
<circle cx="503.25" cy="243.5" r="2.15" fill="#b86e8c" stroke="#94476a" stroke-width="0.45"/>
<circle cx="507.06" cy="243.14" r="2.15" fill="#b86e8c" stroke="#94476a" stroke-width="0.45"/>
<circle cx="510.74" cy="244.19" r="2.15" fill="#b86e8c" stroke="#94476a" stroke-width="0.45"/>
<circle cx="513.79" cy="246.49" r="2.15" fill="#b86e8c" stroke="#94476a" stroke-width="0.45"/>
<circle cx="515.8" cy="249.74" r="2.15" fill="#b86e8c" stroke="#94476a" stroke-width="0.45"/>
<circle cx="512.6" cy="253.5" r="1.95" fill="#be7692" stroke="#94476a" stroke-width="0.45"/>
<circle cx="511.57" cy="257.01" r="1.95" fill="#be7692" stroke="#94476a" stroke-width="0.45"/>
<circle cx="508.8" cy="259.41" r="1.95" fill="#be7692" stroke="#94476a" stroke-width="0.45"/>
<circle cx="505.17" cy="259.93" r="1.95" fill="#be7692" stroke="#94476a" stroke-width="0.45"/>
<circle cx="501.84" cy="258.41" r="1.95" fill="#be7692" stroke="#94476a" stroke-width="0.45"/>
<circle cx="499.86" cy="255.33" r="1.95" fill="#be7692" stroke="#94476a" stroke-width="0.45"/>
<circle cx="499.86" cy="251.67" r="1.95" fill="#be7692" stroke="#94476a" stroke-width="0.45"/>
<circle cx="501.84" cy="248.59" r="1.95" fill="#be7692" stroke="#94476a" stroke-width="0.45"/>
<circle cx="505.17" cy="247.07" r="1.95" fill="#be7692" stroke="#94476a" stroke-width="0.45"/>
<circle cx="508.8" cy="247.59" r="1.95" fill="#be7692" stroke="#94476a" stroke-width="0.45"/>
<circle cx="511.57" cy="249.99" r="1.95" fill="#be7692" stroke="#94476a" stroke-width="0.45"/>
<circle cx="506.1" cy="253.5" r="3.6" fill="#f3e9e6"/>
<circle cx="506.1" cy="253.5" r="1.5" fill="#a58ad0"/>
<ellipse cx="556.4" cy="254.1" rx="16.9" ry="18.2" fill="#b9546f" stroke="#7d5494" stroke-width="1.4" stroke-dasharray="0.8 0.5"/>
<ellipse cx="556.4" cy="254.1" rx="15.6" ry="16.9" fill="none" stroke="#b04c6c" stroke-width="0.6"/>
<path d="M546,258 C545,246 551,240 559,240 C567,241 570,250 568,260 C566,266 562,268 560,268 C560,262 556,257 550,258Z" fill="#922c4a" stroke="none" stroke-width="0"/>
<circle cx="552.3" cy="261" r="4.4" fill="#d98aa2"/>
<circle cx="552.3" cy="261" r="3.4" fill="#f2eae8"/>
<circle cx="552.3" cy="261" r="1.3" fill="#9b7cc4"/>
<circle cx="598.2" cy="250" r="6.7" fill="#d2ad84"/>
<circle cx="608" cy="247.2" r="6.3" fill="#d2ad84"/>
<circle cx="616.8" cy="249.6" r="6.3" fill="#d2ad84"/>
<circle cx="612.5" cy="256.8" r="6.3" fill="#d2ad84"/>
<circle cx="602.5" cy="257" r="6.3" fill="#d2ad84"/>
<circle cx="607.5" cy="252.5" r="6.7" fill="#d2ad84"/>
<circle cx="598.2" cy="250" r="6" fill="#e6cda3"/>
<circle cx="608" cy="247.2" r="5.6" fill="#e6cda3"/>
<circle cx="616.8" cy="249.6" r="5.6" fill="#e6cda3"/>
<circle cx="612.5" cy="256.8" r="5.6" fill="#e6cda3"/>
<circle cx="602.5" cy="257" r="5.6" fill="#e6cda3"/>
<circle cx="607.5" cy="252.5" r="6" fill="#e6cda3"/>
<path d="M603,250.5 C605,249.5 607,251 609,249.8 C611,248.6 613,249 615,248.2 C613.5,250.5 611,251.5 608.5,252 C606,252.5 604.5,251.8 603,252Z" fill="#d8705a" stroke="none" stroke-width="0"/>
<text x="0" y="450.3" font-size="15" text-anchor="start" font-weight="bold" fill="#111">e</text>
<text x="80.5" y="464.3" font-size="10.1" text-anchor="middle" fill="#161616" stroke="#161616" stroke-width="0.18">Testosterone</text>
<rect x="57.4" y="541.98" width="20.7" height="49.62" fill="#8b8383" stroke="#555050" stroke-width="0.9"/>
<circle cx="64.4" cy="529.2" r="1.55" fill="#3d3939"/>
<circle cx="71.2" cy="529.2" r="1.55" fill="#3d3939"/>
<circle cx="61.1" cy="538.7" r="1.55" fill="#3d3939"/>
<circle cx="74.5" cy="537.3" r="1.55" fill="#3d3939"/>
<circle cx="61.1" cy="542.5" r="1.55" fill="#3d3939"/>
<circle cx="74.5" cy="541" r="1.55" fill="#3d3939"/>
<circle cx="67.7" cy="545.8" r="1.55" fill="#3d3939"/>
<circle cx="74.5" cy="544.8" r="1.55" fill="#3d3939"/>
<circle cx="71.2" cy="551.9" r="1.55" fill="#3d3939"/>
<circle cx="64.4" cy="554.9" r="1.55" fill="#3d3939"/>
<line x1="67.75" y1="545.28" x2="67.75" y2="538.68" stroke="#555050" stroke-width="0.9"/>
<line x1="62.25" y1="538.68" x2="73.25" y2="538.68" stroke="#555050" stroke-width="0.9"/>
<line x1="62.25" y1="545.28" x2="73.25" y2="545.28" stroke="#555050" stroke-width="0.9"/>
<rect x="89.2" y="527.38" width="20.5" height="64.23" fill="#fbc18f" stroke="#f5913c" stroke-width="0.9"/>
<circle cx="99.3" cy="506.6" r="1.55" fill="#f58c34"/>
<circle cx="99.3" cy="517.5" r="1.55" fill="#f58c34"/>
<circle cx="92.7" cy="521.2" r="1.55" fill="#f58c34"/>
<circle cx="105.9" cy="521.2" r="1.55" fill="#f58c34"/>
<circle cx="99.3" cy="524.3" r="1.55" fill="#f58c34"/>
<circle cx="92.7" cy="531.3" r="1.55" fill="#f58c34"/>
<circle cx="99.3" cy="533" r="1.55" fill="#f58c34"/>
<circle cx="99.3" cy="536.6" r="1.55" fill="#f58c34"/>
<circle cx="105.9" cy="537.5" r="1.55" fill="#f58c34"/>
<circle cx="92.7" cy="538.7" r="1.55" fill="#f58c34"/>
<line x1="99.45" y1="531.49" x2="99.45" y2="523.26" stroke="#f5913c" stroke-width="0.9"/>
<line x1="93.95" y1="523.26" x2="104.95" y2="523.26" stroke="#f5913c" stroke-width="0.9"/>
<line x1="93.95" y1="531.49" x2="104.95" y2="531.49" stroke="#f5913c" stroke-width="0.9"/>
<line x1="47.2" y1="481.5" x2="47.2" y2="591.6" stroke="#4a4a4a" stroke-width="1"/>
<line x1="42.9" y1="591.6" x2="120.7" y2="591.6" stroke="#858585" stroke-width="1.4"/>
<text x="39.9" y="594.4" font-size="7.9" text-anchor="end" fill="#161616" stroke="#161616" stroke-width="0.18">0</text>
<line x1="42.9" y1="554.9" x2="47.2" y2="554.9" stroke="#4a4a4a" stroke-width="0.9"/>
<text x="39.9" y="557.7" font-size="7.9" text-anchor="end" fill="#161616" stroke="#161616" stroke-width="0.18">0.5</text>
<line x1="42.9" y1="518.2" x2="47.2" y2="518.2" stroke="#4a4a4a" stroke-width="0.9"/>
<text x="39.9" y="521" font-size="7.9" text-anchor="end" fill="#161616" stroke="#161616" stroke-width="0.18">1.0</text>
<line x1="42.9" y1="481.5" x2="47.2" y2="481.5" stroke="#4a4a4a" stroke-width="0.9"/>
<text x="39.9" y="484.3" font-size="7.9" text-anchor="end" fill="#161616" stroke="#161616" stroke-width="0.18">1.5</text>
<line x1="67.75" y1="592.2" x2="67.75" y2="596.2" stroke="#333" stroke-width="0.9"/>
<line x1="99.45" y1="592.2" x2="99.45" y2="596.2" stroke="#333" stroke-width="0.9"/>
<text x="69.35" y="604.8" font-size="8.3" text-anchor="end" fill="#161616" stroke="#161616" stroke-width="0.18" transform="rotate(-45 69.35 604.8)">AAV-Control</text>
<text x="103.05" y="604.8" font-size="8.3" text-anchor="end" fill="#161616" stroke="#161616" stroke-width="0.18" transform="rotate(-45 103.05 604.8)">AAV-Slc1a5</text>
<polyline points="67.75,522.7 67.75,493.5 99.45,493.5 99.45,500.6" stroke="#1a1a1a" stroke-width="1" fill="none"/>
<text x="83.6" y="487.7" font-size="7.9" text-anchor="middle" fill="#161616" stroke="#161616" stroke-width="0.18">0.0027</text>
<text x="20.5" y="538" font-size="8.85" text-anchor="middle" fill="#161616" stroke="#161616" stroke-width="0.18" transform="rotate(-90 20.5 538)">Concentration (nmol/L)</text>
<text x="148.6" y="450.3" font-size="15" text-anchor="start" font-weight="bold" fill="#111">f</text>
<text x="221.5" y="464.3" font-size="10.1" text-anchor="middle" fill="#161616" stroke="#161616" stroke-width="0.18">AMH</text>
<rect x="196.2" y="556.3" width="21.3" height="36" fill="#8b8383" stroke="#555050" stroke-width="0.9"/>
<circle cx="197.5" cy="543.7" r="1.55" fill="#3d3939"/>
<circle cx="203.5" cy="546.4" r="1.55" fill="#3d3939"/>
<circle cx="197.5" cy="549.5" r="1.55" fill="#3d3939"/>
<circle cx="203.5" cy="551.1" r="1.55" fill="#3d3939"/>
<circle cx="209.6" cy="549.5" r="1.55" fill="#3d3939"/>
<circle cx="215.6" cy="548.4" r="1.55" fill="#3d3939"/>
<circle cx="209.6" cy="553.4" r="1.55" fill="#3d3939"/>
<circle cx="206.4" cy="562.5" r="1.55" fill="#3d3939"/>
<circle cx="206.4" cy="566.1" r="1.55" fill="#3d3939"/>
<circle cx="206.4" cy="586.1" r="1.55" fill="#3d3939"/>
<line x1="206.85" y1="560.69" x2="206.85" y2="551.91" stroke="#555050" stroke-width="0.9"/>
<line x1="201.35" y1="551.91" x2="212.35" y2="551.91" stroke="#555050" stroke-width="0.9"/>
<line x1="201.35" y1="560.69" x2="212.35" y2="560.69" stroke="#555050" stroke-width="0.9"/>
<rect x="228.3" y="537.17" width="21.1" height="55.12" fill="#fbc18f" stroke="#f5913c" stroke-width="0.9"/>
<circle cx="238.6" cy="502.9" r="1.55" fill="#f58c34"/>
<circle cx="231.7" cy="520.4" r="1.55" fill="#f58c34"/>
<circle cx="238.6" cy="518.1" r="1.55" fill="#f58c34"/>
<circle cx="245.4" cy="518.1" r="1.55" fill="#f58c34"/>
<circle cx="231.7" cy="537.4" r="1.55" fill="#f58c34"/>
<circle cx="238.6" cy="538.5" r="1.55" fill="#f58c34"/>
<circle cx="231.7" cy="541.6" r="1.55" fill="#f58c34"/>
<circle cx="245.4" cy="541.6" r="1.55" fill="#f58c34"/>
<circle cx="238.6" cy="569.6" r="1.55" fill="#f58c34"/>
<circle cx="238.6" cy="581.4" r="1.55" fill="#f58c34"/>
<line x1="238.85" y1="544.67" x2="238.85" y2="529.67" stroke="#f5913c" stroke-width="0.9"/>
<line x1="233.35" y1="529.67" x2="244.35" y2="529.67" stroke="#f5913c" stroke-width="0.9"/>
<line x1="233.35" y1="544.67" x2="244.35" y2="544.67" stroke="#f5913c" stroke-width="0.9"/>
<line x1="185.3" y1="479.8" x2="185.3" y2="592.3" stroke="#4a4a4a" stroke-width="1"/>
<line x1="181" y1="592.3" x2="259.5" y2="592.3" stroke="#858585" stroke-width="1.4"/>
<text x="177.8" y="595.1" font-size="7.9" text-anchor="end" fill="#161616" stroke="#161616" stroke-width="0.18">0</text>
<line x1="181" y1="554.8" x2="185.3" y2="554.8" stroke="#4a4a4a" stroke-width="0.9"/>
<text x="177.8" y="557.6" font-size="7.9" text-anchor="end" fill="#161616" stroke="#161616" stroke-width="0.18">100</text>
<line x1="181" y1="517.3" x2="185.3" y2="517.3" stroke="#4a4a4a" stroke-width="0.9"/>
<text x="177.8" y="520.1" font-size="7.9" text-anchor="end" fill="#161616" stroke="#161616" stroke-width="0.18">200</text>
<line x1="181" y1="479.8" x2="185.3" y2="479.8" stroke="#4a4a4a" stroke-width="0.9"/>
<text x="177.8" y="482.6" font-size="7.9" text-anchor="end" fill="#161616" stroke="#161616" stroke-width="0.18">300</text>
<line x1="206.85" y1="592.9" x2="206.85" y2="596.9" stroke="#333" stroke-width="0.9"/>
<line x1="238.85" y1="592.9" x2="238.85" y2="596.9" stroke="#333" stroke-width="0.9"/>
<text x="208.45" y="605.5" font-size="8.3" text-anchor="end" fill="#161616" stroke="#161616" stroke-width="0.18" transform="rotate(-45 208.45 605.5)">AAV-Control</text>
<text x="242.05" y="605.5" font-size="8.3" text-anchor="end" fill="#161616" stroke="#161616" stroke-width="0.18" transform="rotate(-45 242.05 605.5)">AAV-Slc1a5</text>
<polyline points="206.85,537.5 206.85,489.4 238.85,489.4 238.85,496.6" stroke="#1a1a1a" stroke-width="1" fill="none"/>
<text x="222.85" y="484.2" font-size="7.9" text-anchor="middle" fill="#161616" stroke="#161616" stroke-width="0.18">0.0147</text>
<text x="156.8" y="537.2" font-size="9.05" text-anchor="middle" fill="#161616" stroke="#161616" stroke-width="0.18" transform="rotate(-90 156.8 537.2)">Concentration (ng/ml)</text>
<text x="289.2" y="450.3" font-size="15" text-anchor="start" font-weight="bold" fill="#111">g</text>
<text x="356.4" y="464.3" font-size="10.1" text-anchor="middle" fill="#161616" stroke="#161616" stroke-width="0.18">LH / FSH</text>
<rect x="330.5" y="557.74" width="21.4" height="34.56" fill="#8b8383" stroke="#555050" stroke-width="0.9"/>
<circle cx="340.7" cy="533.9" r="1.55" fill="#3d3939"/>
<circle cx="340.7" cy="546.1" r="1.55" fill="#3d3939"/>
<circle cx="340.7" cy="549.8" r="1.55" fill="#3d3939"/>
<circle cx="334.1" cy="556.4" r="1.55" fill="#3d3939"/>
<circle cx="340.7" cy="557.2" r="1.55" fill="#3d3939"/>
<circle cx="347.8" cy="555.3" r="1.55" fill="#3d3939"/>
<circle cx="334.1" cy="559.8" r="1.55" fill="#3d3939"/>
<circle cx="340.7" cy="562.4" r="1.55" fill="#3d3939"/>
<circle cx="337.6" cy="566.6" r="1.55" fill="#3d3939"/>
<circle cx="344.4" cy="568.7" r="1.55" fill="#3d3939"/>
<circle cx="340.7" cy="575.6" r="1.55" fill="#3d3939"/>
<line x1="341.2" y1="561.33" x2="341.2" y2="554.14" stroke="#555050" stroke-width="0.9"/>
<line x1="335.7" y1="554.14" x2="346.7" y2="554.14" stroke="#555050" stroke-width="0.9"/>
<line x1="335.7" y1="561.33" x2="346.7" y2="561.33" stroke="#555050" stroke-width="0.9"/>
<rect x="362.2" y="537.45" width="21.4" height="54.85" fill="#fbc18f" stroke="#f5913c" stroke-width="0.9"/>
<circle cx="373" cy="512.3" r="1.55" fill="#f58c34"/>
<circle cx="376.5" cy="517" r="1.55" fill="#f58c34"/>
<circle cx="369.5" cy="520.2" r="1.55" fill="#f58c34"/>
<circle cx="373" cy="536.2" r="1.55" fill="#f58c34"/>
<circle cx="369.5" cy="556.4" r="1.55" fill="#f58c34"/>
<circle cx="376.5" cy="556.4" r="1.55" fill="#f58c34"/>
<circle cx="373" cy="560.3" r="1.55" fill="#f58c34"/>
<line x1="372.9" y1="545.15" x2="372.9" y2="529.75" stroke="#f5913c" stroke-width="0.9"/>
<line x1="367.4" y1="529.75" x2="378.4" y2="529.75" stroke="#f5913c" stroke-width="0.9"/>
<line x1="367.4" y1="545.15" x2="378.4" y2="545.15" stroke="#f5913c" stroke-width="0.9"/>
<line x1="319.2" y1="479.9" x2="319.2" y2="592.3" stroke="#4a4a4a" stroke-width="1"/>
<line x1="314.9" y1="592.3" x2="394.5" y2="592.3" stroke="#858585" stroke-width="1.4"/>
<text x="312.7" y="595.1" font-size="7.9" text-anchor="end" fill="#161616" stroke="#161616" stroke-width="0.18">0.0</text>
<line x1="314.9" y1="564.2" x2="319.2" y2="564.2" stroke="#4a4a4a" stroke-width="0.9"/>
<text x="312.7" y="567" font-size="7.9" text-anchor="end" fill="#161616" stroke="#161616" stroke-width="0.18">0.5</text>
<line x1="314.9" y1="536.1" x2="319.2" y2="536.1" stroke="#4a4a4a" stroke-width="0.9"/>
<text x="312.7" y="538.9" font-size="7.9" text-anchor="end" fill="#161616" stroke="#161616" stroke-width="0.18">1.0</text>
<line x1="314.9" y1="508" x2="319.2" y2="508" stroke="#4a4a4a" stroke-width="0.9"/>
<text x="312.7" y="510.8" font-size="7.9" text-anchor="end" fill="#161616" stroke="#161616" stroke-width="0.18">1.5</text>
<line x1="314.9" y1="479.9" x2="319.2" y2="479.9" stroke="#4a4a4a" stroke-width="0.9"/>
<text x="312.7" y="482.7" font-size="7.9" text-anchor="end" fill="#161616" stroke="#161616" stroke-width="0.18">2.0</text>
<line x1="341.2" y1="592.9" x2="341.2" y2="596.9" stroke="#333" stroke-width="0.9"/>
<line x1="372.9" y1="592.9" x2="372.9" y2="596.9" stroke="#333" stroke-width="0.9"/>
<text x="341.3" y="605.5" font-size="8.3" text-anchor="end" fill="#161616" stroke="#161616" stroke-width="0.18" transform="rotate(-45 341.3 605.5)">AAV-Control</text>
<text x="375.3" y="605.5" font-size="8.3" text-anchor="end" fill="#161616" stroke="#161616" stroke-width="0.18" transform="rotate(-45 375.3 605.5)">AAV-Slc1a5</text>
<polyline points="341.2,527.7 341.2,499.2 372.9,499.2 372.9,505.8" stroke="#1a1a1a" stroke-width="1" fill="none"/>
<text x="357.05" y="492.8" font-size="7.9" text-anchor="middle" fill="#161616" stroke="#161616" stroke-width="0.18">0.0159</text>
<text x="294.5" y="535.9" font-size="8.85" text-anchor="middle" fill="#161616" stroke="#161616" stroke-width="0.18" transform="rotate(-90 294.5 535.9)">Ratio</text>
<text x="428.3" y="450.3" font-size="15" text-anchor="start" font-weight="bold" fill="#111">h</text>
<text x="505" y="464.3" font-size="10.1" text-anchor="middle" fill="#161616" stroke="#161616" stroke-width="0.18">Fertility index</text>
<rect x="489.2" y="521.96" width="19.5" height="68.74" fill="#8b8383" stroke="#555050" stroke-width="0.9"/>
<circle cx="498.8" cy="508.5" r="1.55" fill="#3d3939"/>
<circle cx="495.5" cy="517.4" r="1.55" fill="#3d3939"/>
<circle cx="502.1" cy="517.4" r="1.55" fill="#3d3939"/>
<circle cx="498.8" cy="528.6" r="1.55" fill="#3d3939"/>
<circle cx="498.8" cy="535.5" r="1.55" fill="#3d3939"/>
<line x1="498.95" y1="526.64" x2="498.95" y2="517.27" stroke="#555050" stroke-width="0.9"/>
<line x1="493.45" y1="517.27" x2="504.45" y2="517.27" stroke="#555050" stroke-width="0.9"/>
<line x1="493.45" y1="526.64" x2="504.45" y2="526.64" stroke="#555050" stroke-width="0.9"/>
<rect x="518.7" y="550.34" width="19.4" height="40.36" fill="#fbc18f" stroke="#f5913c" stroke-width="0.9"/>
<circle cx="525.4" cy="541.8" r="1.55" fill="#f58c34"/>
<circle cx="531.5" cy="544" r="1.55" fill="#f58c34"/>
<circle cx="528.5" cy="548.4" r="1.55" fill="#f58c34"/>
<circle cx="528.5" cy="553.4" r="1.55" fill="#f58c34"/>
<circle cx="528.5" cy="562" r="1.55" fill="#f58c34"/>
<line x1="528.4" y1="553.76" x2="528.4" y2="546.92" stroke="#f5913c" stroke-width="0.9"/>
<line x1="522.9" y1="546.92" x2="533.9" y2="546.92" stroke="#f5913c" stroke-width="0.9"/>
<line x1="522.9" y1="553.76" x2="533.9" y2="553.76" stroke="#f5913c" stroke-width="0.9"/>
<line x1="479.4" y1="488.1" x2="479.4" y2="590.7" stroke="#4a4a4a" stroke-width="1"/>
<line x1="475.1" y1="590.7" x2="548" y2="590.7" stroke="#858585" stroke-width="1.4"/>
<text x="473.3" y="593.5" font-size="7.9" text-anchor="end" fill="#161616" stroke="#161616" stroke-width="0.18">0</text>
<line x1="475.1" y1="556.5" x2="479.4" y2="556.5" stroke="#4a4a4a" stroke-width="0.9"/>
<text x="473.3" y="559.3" font-size="7.9" text-anchor="end" fill="#161616" stroke="#161616" stroke-width="0.18">1</text>
<line x1="475.1" y1="522.3" x2="479.4" y2="522.3" stroke="#4a4a4a" stroke-width="0.9"/>
<text x="473.3" y="525.1" font-size="7.9" text-anchor="end" fill="#161616" stroke="#161616" stroke-width="0.18">2</text>
<line x1="475.1" y1="488.1" x2="479.4" y2="488.1" stroke="#4a4a4a" stroke-width="0.9"/>
<text x="473.3" y="490.9" font-size="7.9" text-anchor="end" fill="#161616" stroke="#161616" stroke-width="0.18">3</text>
<line x1="498.95" y1="591.3" x2="498.95" y2="595.3" stroke="#333" stroke-width="0.9"/>
<line x1="528.4" y1="591.3" x2="528.4" y2="595.3" stroke="#333" stroke-width="0.9"/>
<text x="498.25" y="602.7" font-size="8.3" text-anchor="end" fill="#161616" stroke="#161616" stroke-width="0.18" transform="rotate(-45 498.25 602.7)">AAV-Control</text>
<text x="531.5" y="602.6" font-size="8.3" text-anchor="end" fill="#161616" stroke="#161616" stroke-width="0.18" transform="rotate(-45 531.5 602.6)">AAV-Slc1a5</text>
<polyline points="498.95,502.3 498.95,496.2 528.4,496.2 528.4,536.5" stroke="#1a1a1a" stroke-width="1" fill="none"/>
<text x="513.68" y="491.3" font-size="7.9" text-anchor="middle" fill="#161616" stroke="#161616" stroke-width="0.18">0.0013</text>
<text x="441.4" y="538.8" font-size="8.85" text-anchor="middle" fill="#161616" stroke="#161616" stroke-width="0.18" transform="rotate(-90 441.4 538.8)">Fertility Index</text>
<text x="452.4" y="538.8" font-size="8.85" text-anchor="middle" fill="#161616" stroke="#161616" stroke-width="0.18" transform="rotate(-90 452.4 538.8)">(pups/mouse/week)</text>
<text x="561.8" y="450.3" font-size="15" text-anchor="start" font-weight="bold" fill="#111">i</text>
<text x="633.4" y="464.3" font-size="10.1" text-anchor="middle" fill="#161616" stroke="#161616" stroke-width="0.18">Number of oocytes</text>
<rect x="618.2" y="521.15" width="19.5" height="69.55" fill="#8b8383" stroke="#555050" stroke-width="0.9"/>
<circle cx="628.1" cy="513.4" r="1.55" fill="#3d3939"/>
<circle cx="628.1" cy="516.8" r="1.55" fill="#3d3939"/>
<circle cx="628.1" cy="520.2" r="1.55" fill="#3d3939"/>
<circle cx="628.1" cy="523.2" r="1.55" fill="#3d3939"/>
<circle cx="628.1" cy="530.2" r="1.55" fill="#3d3939"/>
<line x1="627.95" y1="523.94" x2="627.95" y2="518.36" stroke="#555050" stroke-width="0.9"/>
<line x1="622.45" y1="518.36" x2="633.45" y2="518.36" stroke="#555050" stroke-width="0.9"/>
<line x1="622.45" y1="523.94" x2="633.45" y2="523.94" stroke="#555050" stroke-width="0.9"/>
<rect x="647.3" y="555.59" width="19.4" height="35.11" fill="#fbc18f" stroke="#f5913c" stroke-width="0.9"/>
<circle cx="657" cy="540.4" r="1.55" fill="#f58c34"/>
<circle cx="657" cy="553.8" r="1.55" fill="#f58c34"/>
<circle cx="657" cy="557.1" r="1.55" fill="#f58c34"/>
<circle cx="657" cy="560.8" r="1.55" fill="#f58c34"/>
<circle cx="657" cy="564" r="1.55" fill="#f58c34"/>
<line x1="657" y1="559.59" x2="657" y2="551.59" stroke="#f5913c" stroke-width="0.9"/>
<line x1="651.5" y1="551.59" x2="662.5" y2="551.59" stroke="#f5913c" stroke-width="0.9"/>
<line x1="651.5" y1="559.59" x2="662.5" y2="559.59" stroke="#f5913c" stroke-width="0.9"/>
<line x1="609" y1="489.9" x2="609" y2="590.7" stroke="#4a4a4a" stroke-width="1"/>
<line x1="604.7" y1="590.7" x2="675.9" y2="590.7" stroke="#858585" stroke-width="1.4"/>
<text x="603.7" y="593.5" font-size="7.9" text-anchor="end" fill="#161616" stroke="#161616" stroke-width="0.18">0</text>
<line x1="604.7" y1="557.1" x2="609" y2="557.1" stroke="#4a4a4a" stroke-width="0.9"/>
<text x="603.7" y="559.9" font-size="7.9" text-anchor="end" fill="#161616" stroke="#161616" stroke-width="0.18">10</text>
<line x1="604.7" y1="523.5" x2="609" y2="523.5" stroke="#4a4a4a" stroke-width="0.9"/>
<text x="603.7" y="526.3" font-size="7.9" text-anchor="end" fill="#161616" stroke="#161616" stroke-width="0.18">20</text>
<line x1="604.7" y1="489.9" x2="609" y2="489.9" stroke="#4a4a4a" stroke-width="0.9"/>
<text x="603.7" y="492.7" font-size="7.9" text-anchor="end" fill="#161616" stroke="#161616" stroke-width="0.18">30</text>
<line x1="627.95" y1="591.3" x2="627.95" y2="595.3" stroke="#333" stroke-width="0.9"/>
<line x1="657" y1="591.3" x2="657" y2="595.3" stroke="#333" stroke-width="0.9"/>
<text x="629.55" y="603.9" font-size="8.3" text-anchor="end" fill="#161616" stroke="#161616" stroke-width="0.18" transform="rotate(-45 629.55 603.9)">AAV-Control</text>
<text x="663.9" y="603.9" font-size="8.3" text-anchor="end" fill="#161616" stroke="#161616" stroke-width="0.18" transform="rotate(-45 663.9 603.9)">AAV-Slc1a5</text>
<polyline points="627.95,507.8 627.95,501.1 657,501.1 657,535" stroke="#1a1a1a" stroke-width="1" fill="none"/>
<text x="642.48" y="493.8" font-size="7.9" text-anchor="middle" fill="#161616" stroke="#161616" stroke-width="0.18">0.0001</text>
<text x="585.5" y="537.1" font-size="8.85" text-anchor="middle" fill="#161616" stroke="#161616" stroke-width="0.18" transform="rotate(-90 585.5 537.1)">Count</text>
</svg>
</body></html>
